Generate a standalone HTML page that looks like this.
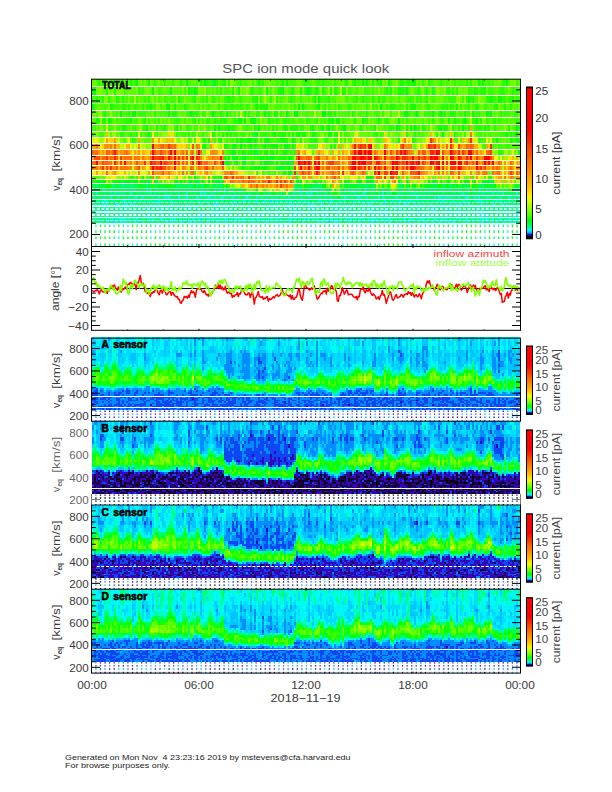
<!DOCTYPE html>
<html><head><meta charset="utf-8"><title>SPC ion mode quick look</title>
<style>html,body{margin:0;padding:0;background:#fff;}body{width:612px;height:792px;overflow:hidden;font-family:"Liberation Sans",sans-serif;}svg{display:block;}</style>
</head><body><svg width="612" height="792" viewBox="0 0 612 792" font-family="'Liberation Sans', sans-serif"><defs><linearGradient id="cb" x1="0" y1="1" x2="0" y2="0"><stop offset="0.0000" stop-color="#000000"/><stop offset="0.0145" stop-color="#000000"/><stop offset="0.0183" stop-color="#180038"/><stop offset="0.0229" stop-color="#3800a0"/><stop offset="0.0282" stop-color="#3010dc"/><stop offset="0.0328" stop-color="#0060ff"/><stop offset="0.0427" stop-color="#00c0ff"/><stop offset="0.0592" stop-color="#00ffff"/><stop offset="0.0779" stop-color="#00ff80"/><stop offset="0.1221" stop-color="#00ff00"/><stop offset="0.1565" stop-color="#50ff00"/><stop offset="0.2214" stop-color="#b0ff00"/><stop offset="0.2595" stop-color="#e8ff00"/><stop offset="0.2863" stop-color="#ffee00"/><stop offset="0.3206" stop-color="#ffd000"/><stop offset="0.3855" stop-color="#ffa800"/><stop offset="0.4542" stop-color="#ff8800"/><stop offset="0.5191" stop-color="#ff6a00"/><stop offset="0.7176" stop-color="#ff0000"/><stop offset="0.9847" stop-color="#ff0000"/><stop offset="1.0000" stop-color="#000000"/></linearGradient></defs><svg x="92" y="79" width="428" height="144" viewBox="0 0 214 144" preserveAspectRatio="none" fill="none" stroke-width="1"><path stroke="#4fff00" d="M.5 0v8m0 31v7m0 6v7m1-43v8m1-24v8m0 24v7m0 57v5m1-55v13m1-59v8m0 8v16m4 0v7m0 62v4m1-89v8m0 28v7m1-27v7m0 7v6m1-52v8m0 24v7m1 7v6m1-52v8m0 31v7m1 0v6m1-20v7m1-23v8m0 8v7m0 13v7m1-51v8m1-16v8m0 38v6m1-20v7m1 0v7m1-7v7m1-22v8m1-8v8m2-32v8m1 51v6m1-65v8m0 8v8m0 72v5m1-42v6m0 31v5m1-69v7m0 7v6m1-52v8m0 16v8m2 20v7m2-43v8m1 15v7m2-38v8m0 30v6m1-52v16m1 23v7m1-7v7m3-22v8m0 20v7m1-51v8m0 23v7m1-14v7m2-23v8m1 0v8m0 7v7m1-30v8m0 35v6m3-41v8m0 14v6m2-36v8m4-16v8m1 89v4m3-77v7m0 7v6m1-20v14m2-22v8m2 39v5m2-17v6m1-13v7m0 28v5m1-76v16m2 44v6m2-36v6m1-36v8m1-24v8m0 24v7m0 32v5m1 6v10m1-46v6m2-44v8m1-8v8m1 8v8m0 33v6m1-25v6m0 13v6m1-39v14m1 63v4m3-61v7m1 28v5m1-92v8m0 31v7m0 36v10m1-84v8m0 36v7m1-35v8m0 50v5m0 5v4m2-80v8m0 8v7m1-15v8m1-8v8m1-32v16m0 55v5m1-52v8m0 7v7m0 13v12m0 16v5m1-68v8m0 39v5m1-37v7m1 46v4m1-64v20m2-20v14m1-14v7m1-15v8m1-16v8m0 8v7m0 20v6m1-65v8m0 31v7m1-38v8m0 8v15m0 26v6m1-71v8m0 16v8m2-24v8m0 36v7m2-43v8m1 77v4m1-73v7m1-39v8m1-8v8m0 16v8m1-16v8m0 8v7m1 7v6m2-44v8m0 16v7m0 7v6m1-52v8m0 24v7m1-7v7m0 66v4m1-70v7m1-22v15m1 20v6m1-19v6m0 7v6m1-49v8m1 8v7m2-15v15m1-39v8m1 24v7m1-7v7m1 7v6m1-36v8m0 28v7m2-13v6m1-36v16m1-24v8m0 43v6m1-6v6m1-57v16m1 28v7m1-59v8m5 0v8m1-8v8m0 8v8m1 20v7m1-27v7m1-7v7m0 7v6m4-20v7m1-7v7m0 7v6m3-52v8m0 16v15m1-15v8m2-8v8m3-16v8m1 0v8m1-16v8m6-8v8m1-24v8m0 88v5m2-101v8m0 31v7m1 0v6m0 7v6m2-33v7m0 66v4m3-109v8m0 16v8m1 0v7m0 7v6m3-28v8m2-16v8m0 28v7m1-51v8m0 8v8m0 7v7m1-14v7m1 7v6m1 44v5m1-101v8m1 31v7m0 6v7m3-51v8m0 16v7m0 13v19m1-19v7m1-27v7m0 20v6m0 40v4m1-50v6m1-33v14m0 19v6m1-6v6m1-63v8m0 89v4m1-109v8m0 16v8m1 7v7m1-14v7m1 0v7m0 13v6m2-65v8m0 57v6"/><path stroke="#07ff00" d="M.5 8v8m1-8v8m1 23v7m1 55v4m2 0v4m1-8v4m1 0v4m1-70v7m1-22v8m2 69v4m2-4v4m6-105v8m2 24v7m0 62v4m1-105v8m1 97v4m3-8v4m2-105v8m0 44v7m1-35v8m8-8v8m0 73v4m1-77v7m5-23v8m1 77v4m3-105v8m1 0v8m3 89v4m5-109v8m0 57v6m0 34v4m2-50v6m2-13v7m0 42v4m1-105v8m0 38v6m2-6v6m1 44v5m2-36v6m2-25v6m4 24v6m1-74v8m1 23v7m0 13v6m1 6v5m0 6v5m1 22v4m2-54v6m2-26v7m2-22v8m0 77v4m1-113v8m0 38v6m1 61v4m2-85v7m0 48v5m1-16v11m1-28v6m0 17v5m3-35v7m1 6v6m4-6v11m0 16v4m1-96v8m1 68v6m0 5v9m5-72v8m0 20v7m1-51v8m3-8v8m3 30v6m1 49v4m1-97v8m1 0v8m2 8v7m3 13v7m5-20v7m2 63v4m1-67v6m5-52v8m4-8v8m0 31v7m2-46v8m6 31v7m1-22v8m9 27v6m8-65v8m9 24v7m3 66v4m1-4v4m3-4v4m1-70v7m3-7v7m1-22v8m4 69v4m2-89v8m1 85v4m1-81v7m2-15v8m0 7v7m1-46v8m4 24v7m2-23v8m3 35v6m1-49v8m4-24v8m0 44v7m2 0v6m3-13v7"/><path stroke="#32ff00" d="M.5 16v8m1 22v6m2-13v7m1 6v7m2-59v8m6 31v7m1-30v8m0 22v6m1-52v8m2 31v7m3 50v5m1-5v5m1-55v6m0 7v6m1-49v8m0 15v7m0 50v5m2-69v7m0 13v7m1-51v8m0 16v20m1-36v8m0 8v7m0 7v6m1 0v7m1-35v8m1 20v7m2-35v8m1 64v5m1-93v8m0 23v7m1 55v4m1-59v6m1-36v8m5 15v13m1-20v7m0 13v7m1-20v7m2 6v7m1-51v8m0 23v7m0 6v7m1-35v8m1 0v7m0 7v6m0 7v6m0 31v5m2-93v16m0 15v7m0 6v7m0 42v4m1-73v7m2-15v8m0 7v7m2-30v8m0 8v7m0 13v13m3-65v8m0 16v8m0 14v6m2 44v5m1-69v7m0 13v7m1-51v8m0 80v5m1-42v6m1-19v6m1-13v7m1-30v8m0 22v6m0 30v5m1-63v8m1 20v7m0 6v11m0 29v4m1-93v8m0 22v6m0 19v5m0 6v5m1-28v6m1-19v13m1-35v8m0 7v7m0 6v7m1 0v6m0 6v5m1 0v6m1-30v7m1 0v12m0 16v5m1-46v6m0 24v6m1-6v6m1-6v6m1-30v7m1-35v8m1 14v6m0 24v6m1-74v8m0 16v7m0 32v5m1-68v8m0 36v13m0 22v5m1-40v7m0 6v6m1 5v6m1-30v7m1 6v6m2-32v7m2-46v8m0 38v6m0 7v6m0 11v6m1-23v6m1-65v8m0 24v7m0 13v7m0 6v6m1 21v4m2-57v7m1-7v7m1-38v8m1 23v7m0 30v6m0 5v5m1-68v8m0 33v6m3-55v8m0 15v20m1-13v6m1-44v8m1-16v8m0 93v4m1-105v8m0 31v7m2 13v6m1-57v8m1-16v8m1-8v8m0 93v4m1-89v8m0 22v6m2-44v8m0 23v7m1-30v8m1 0v8m3-32v8m1 51v6m2-13v7m0 42v4m1-66v7m1-46v8m0 44v13m1-49v8m1-16v8m0 16v7m1-15v8m1-32v8m1 8v8m1-16v8m1-16v8m3 0v8m0 23v7m1-38v8m3-8v8m0 8v8m1 20v7m1-59v8m0 16v15m1-39v8m2 8v8m0 8v7m1-31v16m0 15v7m2 0v6m1-52v8m0 24v7m1 7v6m1-28v8m2 64v5m1-77v8m2-24v8m1 23v7m1-14v7m1-39v8m0 8v8m0 85v4m1-97v8m1 8v7m0 20v6m1-49v8m0 22v6m1-6v13m1-43v8m2 8v7m0 7v6m2-20v7m1-7v7m3 62v4m2-66v7m1-14v20m2-44v8m1 0v8m1-8v8m1-8v16m1-16v8m3 0v8m1-16v8m1 28v7m1-20v7m1-14v7m1-31v16m1 72v5m1-69v20m2-20v7m0 7v6m1 0v7m2-59v8m0 16v8m0 33v6m1-25v6m1-52v16m0 80v5m1-93v8m1 23v7m0 13v12m1-55v8m2 15v7m0 19v6m1-32v7m0 6v7m1-43v8m0 28v7m0 46v4m1-109v8m0 24v7m0 13v7m1 6v6m1-55v8m0 8v7m0 26v6m2-12v6m2-65v24m0 8v14m0 19v6m1-32v7"/><path stroke="#00ff0a" d="M.5 24v8m0 69v4m2-4v4m2 4v4m1-12v4m9-73v7m3 62v4m1-4v4m10-4v4m2-97v8m1 85v4m2 0v4m16-77v7m0 62v4m2-97v8m7 85v4m2-73v7m3 62v4m2-4v4m1-29v6m1 23v4m1-33v6m2-11v5m1-11v6m0 38v4m1-31v5m0 22v4m1-74v7m1 19v6m2 5v6m3-23v6m4 22v5m3-10v5m1-79v8m0 43v6m3 11v6m2 0v5m3-79v8m2 66v5m2-11v6m1-23v6m1-33v7m1-7v7m2 62v4m1-81v8m1 73v4m2-101v8m1 89v4m4-85v8m2 73v4m1-77v7m0 66v4m2-63v6m8 49v4m1 0v4m4-4v4m3-8v4m4-4v4m1-9v9m7 4v4m2-113v8m2 105v4m1-4v4m2-78v7m4-38v8m0 16v7m0 62v4m3-105v8m1 38v6m0 53v4m1-77v7m5 66v4m1-8v4m6-73v7m1 13v7m10-13v6m0 53v4m1-70v7m1 55v4m3 0v4m1-4v4m6-8v4m1-4v4m2-4v4m1 0v4m7 0v4m4-67v6"/><path stroke="#62ff00" d="M.5 32v7m2 7v6m1-28v8m2-24v8m0 30v6m1-44v8m3-8v8m4 16v7m2 20v6m1-65v8m1 44v7m1 37v5m2-93v8m2 43v6m1-65v8m0 8v8m0 77v4m1-9v5m1-49v7m4-43v8m0 15v7m1 0v6m2-44v8m1 85v4m1-53v7m1-59v8m0 16v8m1-24v8m0 8v8m2-16v8m1-24v8m0 93v4m1-97v8m0 8v8m1-32v8m1-8v8m0 16v8m0 64v5m2-69v7m2-7v7m1 13v7m0 42v4m1-89v8m0 41v6m1-32v7m0 50v5m4-85v8m0 72v5m2-93v8m2 49v6m1-39v7m1-31v8m0 30v6m1-28v8m0 27v6m2-49v16m1-32v16m2-8v8m1 36v13m3-57v8m1 16v7m0 43v5m0 18v4m1-109v8m0 51v6m1 6v5m1-24v7m0 6v6m0 16v5m2-84v8m0 23v7m2-30v8m1-24v8m1 8v8m2 85v4m4-105v8m0 30v6m0 57v4m1-21v4m1-57v13m0 40v4m1-25v5m1-30v6m1-52v8m0 8v8m1 47v5m2-30v6m0 19v5m1-30v6m1-28v8m1-32v16m0 16v7m1-31v8m0 36v7m2-7v7m1 33v4m1-88v8m1-16v8m0 51v6m1-49v8m1 0v8m2-16v8m1-8v8m0 22v6m0 7v6m1-41v8m0 14v6m9 53v4m2-93v8m0 35v6m0 6v5m2-37v7m1 63v4m4-97v16m1 7v7m1-30v8m2 15v7m0 6v7m1-13v6m2-6v6m1-28v8m2-8v8m0 69v4m1-53v7m3-27v7m1-39v8m0 93v4m1-89v8m0 41v6m1-25v13m1-13v6m0 7v6m1-57v8m0 30v6m1-28v8m0 73v4m1-93v8m1 0v8m2-32v8m0 51v6m1-26v20m1-43v8m0 28v7m2-43v8m1 0v8m1-32v8m0 97v4m2-85v8m1-24v8m2 49v6m1-47v8m0 7v7m0 13v6m1-26v7m1-7v7m1-30v8m2 22v13m2-51v8m0 8v8m2-32v8m0 38v6m4-44v16m2 8v7m2 0v7m0 55v4m2-81v8m1-32v8m0 38v6m1 0v7m2-27v7m2 57v5m1-62v7m2-46v8m0 38v6m1-52v8m2 93v4m3-89v8m0 8v7m1 13v7m1 33v4m1-57v7m3-46v8m0 8v8m0 41v6m2-71v8m1 38v6m2-6v6m2-20v7m1-15v8m0 73v4m1-93v8m2 0v8"/><path stroke="#41ff00" d="M.5 46v6m1-28v8m2-16v8m2 8v7m0 13v7m1-35v8m0 14v6m2-6v6m1-52v8m0 38v6m1-13v7m1-22v8m1-32v8m0 16v15m1-15v8m1 7v7m1-7v7m1-38v8m0 43v6m1-49v8m0 8v7m0 7v6m1 0v7m1-43v8m1-8v8m0 22v13m1-7v7m2-27v7m1-31v8m2 36v7m2-20v7m3-30v8m0 15v7m2-30v8m1-24v16m0 8v15m0 7v6m2-20v7m1-23v8m0 8v7m2-23v8m1-8v8m1-8v8m2 77v4m1-89v16m0 14v13m1-59v8m0 8v8m0 77v4m2-73v7m1-39v8m1 38v6m2-6v19m0 27v4m1-96v8m0 88v5m1-69v7m1 62v4m1-105v8m0 16v8m0 7v7m1-14v7m1-31v8m0 8v8m0 14v6m2-52v8m0 24v7m1-31v8m1 0v8m0 35v6m1-26v7m1-30v8m0 28v7m1-59v8m1 24v7m0 7v6m1-44v8m1-8v8m0 23v7m0 13v6m0 11v6m1-74v8m0 16v7m1-7v7m1 0v7m1-14v7m1-39v8m0 57v6m1-71v8m0 8v23m0 43v5m1-35v7m0 12v5m0 11v5m1-68v8m0 33v6m1-71v8m0 38v13m1 28v5m1-68v8m0 14v13m1 23v5m1-87v8m0 51v12m0 5v6m2-82v8m0 57v6m0 21v4m1-57v7m1-46v8m1 74v5m0 5v4m1-50v6m1-20v7m0 26v6m1-25v13m0 28v9m1-88v8m0 16v14m0 13v6m1-6v6m1 27v4m1-72v8m1 7v7m1-30v16m0 39v5m1-37v13m2 24v6m1-66v8m0 8v7m1-39v8m1-8v8m0 8v8m1-24v8m0 8v8m4-24v8m1 16v8m1 0v7m1 26v6m1-19v7m1-43v8m0 77v4m1-66v13m0 13v6m1-19v7m1-13v6m1-52v8m0 31v7m2-46v8m0 8v8m0 28v13m1-65v8m4 8v16m3-8v8m0 14v6m0 7v6m2-33v7m1 13v7m1-7v7m1-51v8m0 85v4m1-59v6m1-28v8m1-32v8m2 8v8m0 8v7m1 7v6m1-52v8m0 8v8m1-8v8m1-24v16m1 30v6m2-20v7m1 0v7m0 63v4m1-81v7m0 66v4m1-70v7m0 6v7m1-35v8m1 14v6m1 53v4m1-101v8m0 23v7m0 55v4m1-89v8m0 85v4m4-113v8m0 8v16m1 14v6m0 49v4m1-66v7m2-30v8m0 72v5m1-93v16m0 77v4m3-97v8m0 23v7m1-38v8m1 0v8m2 15v7m0 6v7m0 46v4m1-101v16m1 0v15m1 0v13m1-52v8m1-8v8m0 8v8m1-16v8m0 16v7m1 7v6m2-28v8m1-32v8m1 8v16m1-32v8m1 24v7m4 0v7m0 6v13m1-65v8m0 31v7m1-46v8m0 24v7m1-39v8m1 38v6m1-28v8m3-24v8m1 8v8m1 0v7m1 13v7m1-59v8m0 51v6m1-6v12m1-19v13m1-41v8m2 20v7m1-59v16m3-8v8m0 36v7m1 6v6m1 0v5m1-68v8m1 16v14m1 6v7m1-51v8m1 36v7m1-51v8m0 30v6m0 13v6m1-47v8m1-24v16"/><path stroke="#d1ff00" d="M.5 59v6m16 31v5m4-14v5m19 4v5m23-9v4m59-25v5m11 20v5m12-36v6m30-12v6m11 31v5m6-42v6m14 31v5"/><path stroke="#ffa700" d="M.5 65v6m0 5v6m1-17v6m7-6v6m15-12v6m13 27v4m26-9v5m10 0v4m3 9v4m19-13v5m20-25v6m0 5v5m6-21v5m1 0v6m12 10v4m12-9v5m10 4v5m5-5v5m7-9v4m13 0v5m4-30v5m3 11v5m2-46v6m2 35v5m6-27v6m16 11v5"/><path stroke="#ff6700" d="M.5 71v5m2-5v5m4 0v6m29-17v11m3 6v5m1-5v5m11-16v5m3 11v5m3-10v5m1-5v5m23 14v4m29-18v5m6-10v5m8 5v4m2-9v5m16-21v5m5-11v6m8-6v6m0 11v5m5-11v6m28-17v6m15 16v5"/><path stroke="#ff7900" d="M.5 82v5m2 0v5m2-5v5m5-27v6m13 16v5m16 0v4m11-25v5m0 6v5m21 5v4m36-4v4m11 0v5m34 0v4m3-29v6m2-23v6m2 6v5m15 16v4m2-4v4m20-20v6m8 5v5"/><path stroke="#ff7e00" d="M.5 87v5m11-5v5m25-21v5m6 6v5m23-16v5m11 25v4m9 0v4m26-17v4m8-4v4m1 0v5m1-14v5m11-5v5m13-10v5m6 0v5m2-5v5m28-16v6m1 5v5m13-5v5m4-10v5m3 5v4m2-14v5m6 5v4"/><path stroke="#f0f900" d="M.5 92v4m1-4v4m19-25v5m1-11v6m5 21v4m18 0v5m4-19v5m6-22v6m53 25v5m2-30v5m1 0v6m9 19v4m4-53v7m6 37v5m24-36v6m24-12v6m5 0v6m10-12v6m5 31v5m4-25v6m10 0v5"/><path stroke="#7eff00" d="M.5 96v5m1-101v8m3 0v8m0 30v6m2-36v8m1-8v8m1-16v8m0 8v8m2-24v8m3 80v5m9-93v8m1 23v7m2 13v6m2 0v6m3-55v8m1-16v8m1 0v16m2 7v7m7 6v7m5-43v8m0 72v5m1-93v8m0 23v7m6-38v8m1 8v8m3 0v7m1-23v8m0 28v7m9-59v8m3-8v8m1 0v8m1 71v5m5 17v4m1-4v4m1-89v8m0 60v4m4-80v8m4 85v4m1-113v8m2 101v4m7-97v8m1 0v8m2 0v7m3 20v6m0 31v5m6 0v4m4-46v6m1-6v6m3 0v6m8-55v8m2-16v8m3 85v4m2-59v6m1 44v5m1-62v7m1 55v4m1-59v6m1 7v6m1-26v7m3 13v6m2 0v6m1-39v7m1 0v7m1-14v7m1-7v7m2 0v7m1-14v7m2-39v8m3 93v4m4-53v7m1 6v6m1-55v8m2 35v6m1-19v6m0 13v6m4-55v8m6 72v5m2-93v8m0 23v7m12 50v5m3-49v7m12-59v8m0 16v8m4 69v4m1 0v4m1-63v6m2-52v8"/><path stroke="#00ff52" d="M.5 105v4m1 4v4m1 0v3m1-7v4m1-12v4m0 24v3m1-23v4m2-4v4m2 10v3m3-21v4m1-8v8m0 17v3m1-28v4m1 0v4m1-8v4m0 24v3m1-27v4m1 11v3m5 12v2m4-40v4m3 8v4m1-12v8m2-4v4m0 26v2m1-32v8m1-4v4m2 22v2m5-2v2m1-36v8m1-8v8m3-4v4m1 23v3m1-22v3m1-15v4m0 4v4m1 0v7m0 9v3m1-27v8m1-16v4m0 8v4m1-12v4m1 32v3m1-14v3m4-133v8m2 105v4m1-12v4m0 11v4m1-23v4m0 4v8m1-4v4m1 16v3m6-23v4m1 10v3m1-13v3m1-3v3m0 13v3m1-23v4m1-4v4m3 0v3m0 4v3m3 0v3m6-17v4m4 10v3m1-17v4m2-4v4m5 3v7m1-18v4m1 4v3m1 21v3m1-35v4m2-4v4m0 4v3m1 13v3m1-16v4m1-19v4m1-4v4m2 0v4m1 23v3m1-26v4m0 10v3m1-21v4m0 11v3m4-10v3m2-3v3m1 7v3m1-25v4m3 11v4m4-15v4m0 4v3m2-15v4m3-4v4m2 0v4m0 4v3m1-11v8m1 7v3m1-18v8m2-8v4m1 0v4m0 3v4m6 0v3m0 14v3m2-8v3m1-34v4m0 8v3m2-11v4m0 20v6m1-26v4m0 10v3m1-21v4m0 26v2m1-5v3m1-15v3m1-18v4m7 0v4m2-8v4m0 20v3m1-31v4m0 4v4m1-8v4m1-4v8m1-8v4m1 0v4m1-8v4m1 20v3m1-27v8m1-4v4m1-12v4m1 0v4m3-4v4m1-4v4m2-4v4m1-8v8m1-8v4m1 8v7m4-19v4m5 0v4m1-12v4m1 4v4m1 0v4m5-4v4m2-4v4m2-4v4m1-12v4m0 4v4m2-4v4"/><path stroke="#00ff40" d="M.5 109v4m3-4v4m1 0v4m3-8v4m1 7v4m2-15v4m1-8v4m0 8v3m2 0v4m1-23v4m0 4v4m0 4v3m3-7v4m2-8v4m4-4v4m0 4v3m2-19v4m0 4v4m1-8v4m3-4v4m3-8v4m2 0v4m2 24v3m1-6v3m2-28v8m5 0v4m1-12v8m2-8v4m1-8v4m0 8v4m4 7v3m1-22v4m6 0v4m0 11v3m1-22v4m1-8v8m4 0v4m1 7v4m3-15v4m1-37v6m3 27v4m1-4v8m1-41v6m6-30v7m0 54v4m1-46v5m1 37v4m2-4v4m2-4v4m4-4v4m2-30v5m2 21v4m4-4v4m3-12v4m1-4v4m5-4v4m4-4v4m5 0v4m2-4v4m5-4v4m3-4v8m1-12v4m0 11v4m6-19v4m0 4v4m5-12v4m2-4v4m7 0v4m5-4v4m1-4v4m2 4v3m2-15v4m3 0v4m1-4v4m8-105v8m2 89v4m7 4v4m2-12v8m1 0v4m3-8v4m1-8v4m5 0v4m3-8v4m2 0v4m2-8v4m3 30v2m1-32v4m0 11v3m11-22v4"/><path stroke="#00ff76" d="M.5 113v7m0 4v3m0 9v5m1-24v7m0 9v3m1-31v8m0 11v9m0 6v2m1-24v7m0 17v3m1-24v4m0 3v6m1-16v3m1-7v4m2 0v3m1 0v4m0 6v3m0 3v3m1-22v3m0 4v3m1-7v4m1 3v3m0 9v2m1-28v4m1 7v3m1-10v3m0 4v3m1-18v11m1-15v4m1 0v4m0 17v3m1-28v4m0 8v3m0 10v3m1 8v3m1-35v4m1 11v3m0 6v3m1-23v4m0 16v3m1-19v3m0 10v3m1-9v6m0 9v2m1-28v4m0 13v3m0 8v3m1-24v7m0 6v3m0 3v5m1-14v3m2-13v4m0 6v3m1 0v3m1-19v3m0 19v5m1-31v4m0 19v3m1-22v3m0 21v3m1-27v10m0 14v3m1-24v7m0 3v3m1-24v8m0 7v3m0 9v3m1-26v4m0 7v3m0 12v2m1-28v7m0 13v3m1-19v3m0 10v3m1-16v3m0 4v3m1-14v4m0 16v3m1-16v4m0 3v3m0 11v3m1-27v7m0 9v3m1-19v3m0 4v6m0 6v5m1-32v4m0 14v6m0 6v5m1-24v4m1-7v3m1 4v3m1-18v4m0 4v3m0 13v3m0 5v3m1-20v3m0 3v3m0 6v2m1-36v4m0 11v4m1 9v3m1-27v4m0 14v6m1-9v3m1-18v4m0 14v3m0 9v2m1-28v4m0 16v3m1-16v4m0 3v6m1-13v4m0 17v3m1-20v3m0 14v3m1-35v4m0 17v3m0 3v3m1-22v3m0 7v3m1-13v3m0 10v3m1-9v6m0 6v5m1-17v3m1-14v4m1 7v3m0 9v3m1-30v11m0 4v6m1-10v4m0 3v6m1 0v6m2-22v3m0 10v6m0 5v3m1-31v4m0 13v3m1-3v6m0 3v2m1-17v3m0 9v3m1-9v3m1-6v3m0 3v3m0 5v3m1-31v4m0 16v6m1-15v3m0 3v3m0 3v3m1-19v4m1 0v3m0 3v6m0 3v2m2-24v7m1 0v3m0 3v3m1-13v7m1 0v3m0 9v2m1-21v7m0 3v6m0 3v2m1-28v7m0 21v3m1-27v3m0 4v3m0 3v3m1-3v6m1-19v10m0 3v3m1-3v3m0 8v3m1-24v4m1-7v3m0 4v6m1-13v3m0 7v3m0 9v2m1-21v4m0 9v3m0 3v2m1-24v3m0 10v11m1-8v3m1-19v3m0 7v3m1-13v3m0 13v3m1-27v4m0 14v3m1-13v7m0 15v2m1-32v8m0 7v6m1-21v4m0 14v3m1-13v10m0 12v2m1-24v3m0 4v3m1 0v3m0 6v3m1-30v4m0 28v3m1-35v4m0 4v3m0 21v3m1-35v15m0 17v3m1-35v4m0 4v3m0 13v3m1-27v4m0 4v3m1-3v3m0 4v3m1-14v7m1 0v4m1 3v3m1-17v4m0 7v3m1-10v7m0 3v3m0 3v6m1-26v4m0 10v3m0 11v3m1-14v6m1-19v3m0 4v6m2 9v2m1-28v4m0 24v3m1-27v3m0 4v3m0 3v3m0 6v2m1-8v3m0 5v3m1-20v3m1-18v4m0 4v3m0 10v6m0 3v2m1-28v7m0 10v3m1-24v15m0 3v3m1 3v3m0 3v2m1-32v4m0 14v6m0 6v2m1-17v6m1-3v3m1-13v3m0 21v3m1-24v4m0 6v3m1-9v3m0 9v3m1-3v3m2-30v4m0 20v3m1-19v3m0 4v3m0 9v3m1-22v10m0 3v3m1-13v10m0 9v2m1 0v3m1-35v4m0 14v3m0 3v6m1-22v3m1 7v3m1-13v3m0 4v9m1-20v7m0 16v3m1-3v3m1-6v3m0 3v5m1-24v4m0 3v3m1 3v3m0 5v3m1-27v3m0 7v3m1-13v7m0 17v3m1-24v4m0 9v3m1-19v3m0 7v3m1-17v7m2 4v3m0 3v3m1-16v3m0 7v17m1-31v4m0 3v4m0 17v3m1-24v4m0 12v3m1-26v4m0 3v4m0 17v3m1-24v7m1-18v11m0 7v3m0 6v3m1-22v3m0 4v3m0 6v3m0 3v2m1-32v15m1-4v4m0 3v3m0 11v3m1-35v4m0 4v3m0 4v3m1-7v4m1-7v3m1 4v3m0 3v3m0 3v3m1-19v4m0 9v3m1-23v4m0 13v3m1-9v3m1-7v4m0 9v3m1-27v4m0 14v3m1 6v3m1-26v7m0 4v3m0 3v11m1-28v4m0 13v3m0 6v2m2-28v4m0 3v4m0 6v3m1-3v9m2-26v4m0 13v3m0 3v5m1-17v6m0 3v3m1-6v3m0 6v2m1-17v3m0 9v3m0 2v3m1-27v7m0 9v3m1-16v4m0 6v3m0 6v5m1-27v3m0 4v3m0 14v3m1-35v8m0 7v3m0 3v3m0 6v2m1-14v3m1-25v4m1 4v4m0 3v10m1-10v4m0 12v3m1-15v6m1-17v7m0 4v3m0 6v3m1-9v3m0 3v3m1 0v3m0 2v3m1-27v3m0 19v2m1-32v8m1 24v3m1-24v4m0 3v3m0 3v3m0 3v2m1-21v4m0 6v3m0 6v2m1-21v4m1 0v3m0 9v3m1-26v4m0 7v3m0 3v6m1-16v4m0 6v6m1-27v4m0 14v3m1-10v7m1-18v4m0 11v3"/><path stroke="#00ffbe" d="M.5 120v4m1 6v3m1-20v4m0 16v3m2 0v3m0 2v3m1-24v10m1-3v3m0 3v6m1-12v3m0 3v3m0 5v3m1-17v3m0 3v3m1-19v3m1 13v8m1-14v3m0 11v3m1-8v3m1 0v2m1-2v2m1-21v4m0 17v3m1-20v3m0 9v8m1-17v3m0 11v3m1-24v4m0 3v3m0 9v2m1-28v4m0 19v3m1-15v3m0 3v3m0 3v5m1-24v3m0 7v3m1-13v3m0 16v3m0 2v3m1-8v3m1-19v4m1-7v3m0 13v3m0 5v3m2-17v3m0 6v3m1-12v3m0 6v5m1-32v4m0 11v3m0 6v11m1-17v3m0 3v3m0 3v5m1-20v6m1-3v3m0 6v3m1-22v3m0 4v3m0 3v3m0 8v3m1-17v9m1-6v6m1-19v3m0 21v3m1-27v3m1 10v6m1-16v4m0 6v3m0 8v3m1-24v7m0 6v6m1-9v3m0 3v3m1-12v3m0 11v3m1-8v3m4-26v4m0 7v9m0 3v3m1-12v3m0 9v2m1-21v4m1 12v3m1-12v3m2-10v7m0 9v8m1-31v4m0 7v3m0 14v3m1-17v3m1-17v4m0 3v4m0 9v3m2 3v2m1-11v3m0 6v2m1-2v2m1-24v3m0 7v3m0 9v2m1-21v4m0 12v3m1-15v6m0 9v5m1-27v3m1-3v3m0 10v3m0 3v3m0 2v3m1-35v4m0 11v6m0 6v3m1-9v3m0 6v5m1-14v3m1 0v6m1-22v3m1 0v4m0 6v3m1-9v6m0 6v5m1-8v6m0 2v3m1-17v3m1-10v4m1 12v3m1-3v5m1-21v4m0 3v3m1 9v5m1-11v3m0 3v2m1-5v3m1-22v3m0 10v3m0 6v2m1-17v3m0 12v2m1-8v8m2-11v3m1 8v3m1-17v3m0 9v2m1-8v3m0 3v5m1-24v4m0 3v3m1 3v3m0 5v3m1-20v3m0 6v3m1-6v3m0 6v5m1-24v4m2 3v6m1-13v4m1-7v3m0 4v3m0 9v5m1-21v7m0 3v3m0 6v2m1-17v3m0 9v3m2-12v12m1-19v4m0 9v6m1-26v4m0 7v3m0 3v3m0 3v3m2-19v4m0 12v3m1-26v4m1 7v9m1-20v4m0 7v3m0 6v3m1-9v3m0 6v5m1-2v2m1-14v3m0 6v3m1-19v4m1-4v4m0 3v6m0 8v3m2-14v6m0 3v5m1-14v3m0 8v3m1-20v3m1-3v3m1-7v4m0 3v3m0 11v3m2-11v3m1-6v3m0 3v3m0 2v3m1-14v11m2-21v4m2 17v3m1-3v3m1-20v3m0 6v3m1 0v3m1-22v3m0 16v3m1 0v5m1-8v5m1-28v4m0 7v3m1-18v8m0 7v3m0 9v3m0 2v3m1-27v3m1 4v3m0 12v2m1-21v4m0 15v2m1-11v3m0 3v5m1-21v4m0 3v3m1-3v3m0 9v5m1-27v3m0 10v6m1-3v8m1-28v7m0 19v2m1-17v3m0 9v3m1-9v9m2 0v2m1-21v4m1 6v3m1-16v3m0 21v3m1-24v4m0 15v2m1-21v4m0 9v6m1-12v6m1-3v3m0 8v3m1-20v3m1-3v3m0 12v2m1-21v4m0 3v3m0 3v3m1-3v3m0 3v2m1-17v3m1 0v6m0 6v2m1-17v3m0 12v5m1-8v3m1-3v3m1 0v5m1-3v3m1-11v3m0 3v2m1-17v3m0 9v3m2-22v3m0 7v3m2-10v4m0 9v3m1-19v3m0 7v3m0 6v3m1 0v2m1-24v3m0 7v3m0 6v3m1-22v3m0 10v3m1 3v3m1-22v3m0 4v3m0 6v3m1-16v4m2 0v6m0 6v5m1-24v3m0 19v2m2-28v4m0 3v4m0 9v6m1-15v3m0 6v3m1-6v3m0 8v3m1-27v3m0 21v3m1-14v3m1 8v3m1-27v3m0 16v3m1-19v4m0 6v3m0 6v2m1-21v4m0 9v3m1-12v3m0 3v6m0 3v5m1-17v6m0 8v3m1-5v2m1-24v3m1 10v3m0 3v3m1-9v3m0 3v3m1-26v4m0 22v2m2-21v4m0 6v3m1-13v4m2-11v4m0 13v3m0 8v3m1-8v3m0 2v3m1-20v3m0 6v6m0 2v3m1-27v7m0 6v3m1 8v3m1-17v3m0 6v3m1-6v3m1 0v5m1-21v4m0 9v3"/><path stroke="#00ffe8" d="M.5 127v6m3-6v9m3-16v7m1-7v7m5-3v3m0 3v3m0 8v3m1-20v3m0 9v3m1 2v3m1-5v2m1-21v4m1 0v3m0 3v3m2-9v3m0 6v3m2-3v3m0 5v3m1-5v2m2-14v3m0 3v3m3-6v3m2-3v3m1 3v3m4 0v2m1-14v3m0 6v3m2-12v3m0 11v3m1-27v3m0 7v3m1 9v2m1-2v5m1-5v2m2-24v3m0 13v3m1 5v3m3-27v3m1 13v3m0 5v3m1-17v3m0 6v3m0 2v3m1-5v2m1 0v3m1-27v3m0 7v3m0 6v3m1-9v3m1 0v3m1 0v3m3-22v3m0 16v3m0 2v3m1-17v3m2 3v3m1-6v6m0 5v3m1-11v3m3 3v2m1-8v3m1 0v3m2-15v3m1 14v3m2-5v2m2-2v5m1-24v4m1-7v3m0 10v3m1-3v3m1 0v3m1 5v3m2-8v3m3-6v3m7 3v2m1-5v3m1-3v3m4-12v3m1 6v3m2-6v3m0 3v2m1-17v3m3 14v3m3-5v2m1-14v3m1-6v3m0 3v3m2 0v3m1 0v3m0 2v3m1-20v3m0 6v3m2 0v3m1-12v3m0 3v3m2-16v4m0 12v5m2 0v3m1-20v3m0 14v3m3-17v3m1-13v3m0 16v3m1-12v3m2-3v3m0 3v3m0 3v2m4-24v7m1 6v3m1 3v5m3-11v6m1-12v3m0 3v3m1-6v3m1 3v3m3-12v3m0 3v3m2-3v6m0 5v3m2-5v5m1-11v3m0 5v3m1-17v3m1-3v3m2-3v3m3-6v3m0 12v2m1-21v4m0 12v3m2 0v2m1-14v3m2-13v3m0 13v3m2 3v2m1-14v3m0 9v2m1-8v3m2 0v3m1-9v3m1-3v6m0 5v3m1-14v3m0 6v2m2-24v3m0 21v3m4-17v3m0 6v3m1-9v3m0 8v3m2-3v3m1-11v3m1-6v3m1 0v3m1-12v3m3-10v3m0 19v2m1-17v3m2 9v3m3-22v3m0 16v3m1-19v4m0 12v3m1-3v5m2-14v3m0 9v2m3-17v3m0 9v3m0 2v3m1-20v3m1 14v3m1-5v2m1-5v3m1-15v3m3 12v2m4-28v4m1 10v3m0 6v3"/><path stroke="#00ff93" d="M.5 133v3m0 5v3m1-20v3m0 9v5m1-21v4m0 12v3m0 2v3m1-20v3m0 9v5m1-17v3m1-18v4m0 23v5m1-32v4m0 4v3m1 10v3m0 3v5m1-11v3m0 6v2m1-28v4m0 7v3m0 6v3m0 3v5m1-39v4m0 11v4m0 3v6m1-20v4m0 7v3m1-14v7m0 13v3m1-19v3m0 13v3m0 5v3m1-31v4m0 3v4m0 3v3m0 3v3m1-31v4m0 4v4m0 10v12m1-9v3m1 0v8m1-24v3m0 16v3m0 2v3m1-24v4m0 3v3m0 11v3m1-35v4m0 14v3m0 3v3m1-16v7m0 3v3m0 3v3m1-19v4m0 3v3m1-10v4m0 3v6m1 8v3m1-14v3m0 3v3m1-19v10m1-21v4m1 0v4m0 3v4m0 9v3m1-23v4m0 3v4m1-7v3m1-7v4m0 3v4m0 6v3m0 3v8m1-24v7m1 0v3m0 3v3m1-16v4m0 12v3m1 0v2m1-28v4m0 10v3m0 6v5m1-8v3m1-16v4m0 17v3m1-20v3m0 9v3m1-12v3m1-3v3m0 3v3m0 5v3m1-20v3m1-14v4m0 7v3m0 3v3m0 6v2m1-11v3m0 3v5m2-24v7m0 9v6m1 0v5m1-35v4m1 17v6m0 3v2m1-21v7m1 9v3m1-6v3m0 3v5m1-27v3m1-3v7m1-11v4m0 16v3m0 3v2m1-24v3m0 16v3m1-22v7m0 6v3m1 0v3m1-23v7m0 13v6m1-26v11m0 3v12m1-19v4m0 17v3m1-5v2m1-5v3m1-19v4m0 6v3m0 8v3m1-24v4m0 3v3m0 9v2m1-24v3m0 10v3m1-16v3m0 7v3m1 3v3m0 3v5m1-27v3m0 4v3m0 12v5m1-24v4m0 3v6m0 6v5m1-31v7m0 16v3m1-19v4m1-7v7m1-4v4m0 17v3m1-17v6m1-16v3m0 13v3m0 3v5m2-27v3m0 4v3m0 12v5m1-24v4m1 6v3m0 3v3m1-19v4m0 17v3m1-3v3m1-14v9m0 2v3m1-27v3m0 21v3m1-27v3m0 10v3m0 3v8m1-20v3m0 6v6m1-22v3m0 7v3m0 6v3m1-19v7m0 3v9m1-12v3m0 6v3m1-22v3m0 4v3m0 9v8m1-8v5m1-24v3m0 7v3m1-6v3m0 6v3m1-3v3m0 3v5m1-20v3m0 6v3m0 5v3m1-27v3m0 4v3m0 9v3m0 2v3m1-20v6m0 11v3m1-24v4m1 9v3m0 5v3m1-31v4m0 3v4m0 6v3m0 6v5m1-31v7m0 10v3m0 3v3m0 2v3m2-5v5m1-27v7m0 9v3m0 3v2m1-14v3m0 6v3m1-12v3m0 3v3m0 5v3m1-24v7m0 6v3m0 3v2m1-28v11m1 12v5m2-17v9m1-20v4m0 7v3m0 3v3m0 6v5m1-17v3m2-6v3m0 6v3m0 3v2m1-28v11m1-4v4m0 15v2m1-11v3m0 6v2m1-24v3m0 10v6m1 0v5m1-5v5m1-11v3m0 6v2m1-21v7m0 6v3m1-16v10m1-10v4m1-15v4m0 11v3m0 3v3m0 6v2m1-24v3m0 13v6m0 2v3m1-8v3m1-19v4m0 12v3m1-3v8m1-31v4m0 3v10m0 11v3m1-24v4m0 9v3m0 5v3m1-14v9m1-22v3m0 4v3m0 14v3m1-24v4m0 3v9m1-19v3m0 7v3m0 3v3m1-16v4m0 15v2m1-14v3m0 11v3m1-17v3m0 3v6m1-19v4m1 17v3m1-11v6m1-26v4m0 19v3m0 2v3m2-20v3m0 3v3m0 8v3m1-17v3m0 9v2m1-28v4m0 22v2m1-28v4m0 16v6m1-19v7m0 3v3m1 6v2m1-24v10m0 9v3m1-6v3m1-23v4m0 13v3m0 3v3m1-9v3m0 6v5m1-20v3m0 12v2m1-5v3m1-9v6m0 5v3m1-35v4m0 7v4m0 3v9m1-6v3m0 8v3m1-31v11m0 12v3m0 2v3m1-31v4m0 3v4m2-7v3m0 10v6m1-12v3m0 3v6m1-19v3m0 10v6m0 5v3m1-20v3m0 3v3m1-13v4m0 3v6m0 3v3m1-15v9m0 8v3m2-24v4m0 12v5m1-17v3m0 6v6m0 2v3m1-24v7m0 6v8m1-14v3m0 9v2m1-17v3m0 3v3m0 6v2m1-24v3m0 4v6m0 3v6m0 2v3m1-24v4m0 6v3m0 6v2m1-2v5m1-27v10m0 6v3m0 3v2m1-14v6m0 6v5m2-27v3m0 4v6m0 6v3m1-19v4m0 9v3m1-12v6m0 6v3m1-26v4m0 10v3m0 9v5m1-17v6m0 6v5m1-27v7m0 17v3m1-24v4m0 12v3m1-19v4m0 9v6m1-12v3m0 3v3m0 3v2m1-17v9m0 6v2m1-14v3m0 3v3m1-9v3m0 3v6m1 2v3m2-31v14m0 6v3m1-6v3m0 8v3m1-35v4m0 11v3m0 6v3m1-19v3m0 19v5m1-17v3m0 11v3m1-24v4m0 6v3m1-13v4m0 3v3m1-17v4m0 10v3m0 3v6m1-22v3m0 7v12m0 2v3m1-27v19m0 3v2m1-5v3m1-12v3m0 3v3m1-6v3m0 6v2m1-14v3m0 11v3m1-27v3m0 7v3m0 6v5m1-17v3m0 12v5m1-27v3m1 7v6m0 8v3m1-27v3m0 19v2"/><path stroke="#6bff00" d="M1.5 32v7m0 13v7m1-51v8m2 80v5m2-49v7m0 37v5m4-85v8m1-8v8m2 28v7m2-51v8m3-8v8m1 30v6m5-13v7m2-38v8m2-8v8m1 43v6m1-33v7m1 7v6m4-36v8m1 15v7m3-22v8m4-32v8m0 24v7m0 7v6m2-28v8m0 7v7m1 0v6m3-28v8m1-8v8m0 14v6m3-52v8m1 31v7m1 0v6m1 0v7m2 6v6m3-63v8m0 8v8m3-16v16m1-16v8m1 8v7m2 48v5m4-76v8m3 8v7m1-31v8m0 8v8m2-24v8m0 23v7m3-14v7m1 43v5m3-28v6m2-65v8m3 16v15m3 26v6m1-32v7m0 46v4m1-31v6m3-12v6m0 31v5m4-93v24m0 7v7m1-46v8m1-8v8m0 24v7m2 0v13m3-36v8m3-8v8m0 22v6m1-20v7m1-7v7m3 0v7m0 6v7m3-7v13m2-49v23m1-23v8m1-8v8m5 15v7m0 6v7m1-35v8m2 7v7m1-38v8m0 23v7m1 6v7m1-51v8m0 8v8m0 20v7m1-7v7m3-7v7m1-20v7m10 6v7m0 50v4m1-113v8m0 8v8m0 8v7m1-7v14m3-30v8m3 28v7m1-20v7m1-38v8m2-16v8m2-8v8m0 51v6m2-13v7m0 42v4m2-9v5m1-62v7m0 55v4m1-59v6m0 44v5m1-77v8m0 64v5m1-85v8m2-8v8m3 15v7m1 0v6m1-52v8m3 24v7m0 62v4m1-97v8m1-8v16m1 0v8m1-24v8m0 80v5m6-101v8m2 8v16m1-16v8m0 28v7m2-51v8m3 16v7m1-39v8m1 97v4m3-85v8m0 44v6m0 19v4m1-66v7m0 13v6m2-6v6m0 6v5m2-76v8"/><path stroke="#59ff00" d="M1.5 39v7m0 50v5m1-77v8m1 64v5m2-77v8m0 64v5m2-77v15m1-39v8m4 44v7m2-43v16m3-8v8m2-24v8m0 8v8m0 27v6m1-65v8m0 16v8m1-24v8m1 16v7m0 7v6m2-36v16m1-16v8m1 0v8m1 0v7m0 20v6m1-33v7m0 7v6m1-44v8m1 23v7m1 6v7m1-59v8m0 24v14m1-14v7m0 7v6m2-44v8m0 16v7m1 62v4m1-105v8m0 31v7m2-14v7m2-31v8m1-8v8m1-8v8m3-16v8m3-8v8m0 44v7m1-59v8m1-8v8m0 16v8m2 20v7m1-13v13m2-43v8m0 77v4m1-53v13m2-49v16m0 7v7m1-7v13m4 0v7m2 12v5m0 29v4m2-85v8m0 7v7m0 13v6m1-26v7m0 19v6m3-63v8m0 30v6m3-52v8m0 8v8m2 41v6m0 11v5m1-71v8m1 8v7m0 13v7m1-35v15m1 43v5m1-48v7m1 36v5m2-71v8m1-24v8m2 0v16m1-24v8m0 16v8m0 55v9m1-4v4m1-88v8m0 8v8m0 14v6m0 7v6m2-65v8m0 8v8m3-8v8m1 68v4m2-64v7m2 13v7m4-43v8m0 81v4m1-50v6m1-13v7m2-35v15m0 26v6m1-32v7m0 25v5m2-44v7m0 26v6m3-47v8m0 7v7m2-38v8m1 43v6m1-19v6m1-52v8m0 16v8m0 33v6m2-71v8m1-8v8m0 105v4m1-52v6m1-47v8m2 14v6m1-13v7m1-30v8m1-16v8m1-8v8m1 8v8m2-24v8m3 76v4m1-72v15m0 7v6m1-44v16m0 8v14m1 6v7m1-51v8m0 23v7m6 0v6m1-36v8m0 28v7m2-43v8m1 85v4m1-54v6m0 40v4m2-70v7m2-30v8m2 15v13m2-13v7m0 6v7m2-7v7m0 46v4m2-101v8m0 36v7m2-59v8m1 31v7m1-38v8m3 23v7m1-46v8m0 16v8m1-32v8m0 8v16m0 7v7m1-38v8m0 36v7m1 42v4m1-105v8m0 93v4m2-81v8m1-24v8m2-8v8m3 23v26m1-57v8m3-16v8m3 8v8m4 8v7m3-15v8m1-32v8m0 16v8m1-8v8m0 14v13m2-51v8m0 23v13m1-6v6m1-28v8m0 14v6m1 7v6m2-49v16m0 27v6m1-26v7m1 19v6m1-32v13m0 13v6m1-47v8m0 39v5m0 25v4m2-73v7m0 13v7"/><path stroke="#ebfd00" d="M1.5 59v6m3 0v6m10 21v4m9-44v7m1 33v4m5-4v4m1-44v7m15 0v6m10 27v4m1-20v6m2-11v5m3-11v6m2 21v4m39-9v5m20-16v6m14 14v5m28-5v5m2-5v5m22-9v4m4 5v4m10-29v6m2-6v6m1 10v4m5-25v5"/><path stroke="#ff7b00" d="M1.5 71v5m16 11v5m15-21v5m8-11v6m5 16v5m7-21v5m36 20v5m3 0v4m29-18v5m2-10v5m19-5v5m20-11v6m9-23v6m18 0v6m5 5v6"/><path stroke="#ff5600" d="M1.5 76v6m9-11v5m92 0v6m18 10v4m29-20v6m6 10v4m16-14v5"/><path stroke="#ff6400" d="M1.5 82v5m8-11v6m10-6v6m10 5v5m9-5v5m31 0v4m37-9v5m22-5v5m14 0v4m21-9v5m1-5v5m4-16v6m25 5v5m19 0v4"/><path stroke="#ff9900" d="M1.5 87v5m2-10v5m22 0v5m1-16v6m14-11v5m18 6v5m1-22v6m3 0v5m40 6v5m23-16v5m2 0v6m27 5v5m10-10v5m2 5v4m1-14v5m1-16v5m0 6v5m36 9v5m2-19v5m4 0v5m2 4v5"/><path stroke="#24ff00" d="M1.5 101v4m4-89v8m3-8v8m1 81v4m1-85v8m0 69v4m4-53v7m1-59v8m0 8v16m0 20v7m1-35v8m1 7v7m1-22v22m1 6v7m1 0v6m1-65v8m0 16v8m1 20v7m1-51v8m2 8v8m2-8v8m1-16v8m1 72v5m1 4v4m1-109v8m0 24v7m1 7v6m4-52v8m4-8v8m0 24v7m0 66v4m1-77v7m0 62v4m1-66v7m4 55v4m1-59v6m1 0v7m1-51v8m1 16v7m2-7v7m3 26v6m1-12v6m1-65v8m0 8v8m0 15v7m1-7v7m2-30v8m2-24v8m1 16v8m0 64v5m1-93v8m0 16v14m1-46v8m0 44v7m1-35v8m1-16v8m0 22v6m0 13v6m1-71v8m1 16v8m0 20v7m1-43v16m0 33v6m1-32v7m0 36v5m3-87v8m0 8v16m2 39v5m1-52v8m1 0v7m0 26v11m1-68v8m1-8v16m0 47v5m0 11v5m1-76v8m0 22v6m0 13v6m0 5v6m1-50v7m0 20v6m0 22v5m1-16v6m1-66v16m0 39v5m1-76v8m0 16v8m1 20v7m2-27v7m1-23v8m0 41v11m0 6v5m1-41v13m0 23v5m1-11v6m1-66v8m0 8v14m0 25v5m0 37v4m1-109v8m0 36v7m0 17v6m1 0v5m1-16v5m1-37v7m0 6v7m0 23v10m1-46v6m0 19v5m0 11v5m1-40v7m0 6v6m1-55v8m0 22v6m0 19v5m1-30v13m1-13v6m0 7v6m0 6v5m1-30v6m0 44v5m1 0v4m3-105v8m1 31v7m2-38v8m0 30v6m0 7v6m3-41v8m0 7v7m0 13v6m0 36v4m3-105v8m2 38v6m0 7v6m1-33v7m1-7v14m0 59v4m1-63v6m0 61v4m1-85v7m0 13v19m0 38v4m1-105v8m1 8v8m3-24v8m1 85v4m1-81v8m0 69v4m2-73v7m2-23v8m0 77v4m2-59v6m1-36v8m2 0v22m3-30v8m0 72v5m2-49v7m5-35v8m0 7v7m2 0v6m1-28v8m2 77v4m3-105v8m1 93v4m1-113v8m0 44v7m2-35v8m2 20v7m4-59v8m2 8v8m1 0v8m2 7v7m2 6v7m1-27v7m1-39v8m1 16v8m1 0v7m1 7v6m0 49v4m1-97v8m1 8v15m1-31v8m0 16v7m0 7v6m1-52v8m0 24v7m0 13v7m0 42v4m1-97v8m1 30v6m1 49v4m1-66v7m2-46v8m0 8v8m1-16v8m0 8v8m0 14v6m1-52v8m1 8v8m0 15v7m2-38v8m0 30v6m0 53v4m1-50v6m1-57v8m0 30v6m1-44v8m2 0v8m0 15v7m1-30v8m0 8v7m0 7v6m1 44v5m1-85v8m1 0v8m0 7v13m2 19v5m1-68v8m0 16v7m0 32v5m1-76v16m1 0v8m3-8v16m1-24v8m1 16v7m2 7v6"/><path stroke="#00ff2e" d="M1.5 105v4m2-4v4m1-8v4m2 0v4m2-4v4m4-4v4m3-8v4m1-4v4m5 0v4m0 4v4m1-8v4m2-8v4m1-4v4m3-4v4m2 0v4m5-8v4m1-4v4m4 0v4m1-8v4m1-8v4m7 4v4m2-12v4m5 19v3m1-22v4m8-4v4m2 0v4m4-42v5m9 37v4m2-65v7m7 17v6m1 31v4m14-12v4m7 4v4m4-71v6m7 61v4m4-12v4m3-4v4m1-4v4m2-4v4m3 0v4m3-8v4m0 4v4m4-4v4m3-12v4m1 4v4m1-8v4m8-8v4m2-4v4m3-4v4m5 0v4m1-8v4m2-4v4m1-4v4m1-8v4m1-4v8m5-4v4m2-4v4m11 4v4m3-8v4m4-12v4m3 0v4m1-4v4m7 0v4m3-4v4m2-54v6"/><path stroke="#00ff64" d="M1.5 109v4m0 14v3m0 11v3m3-27v3m0 19v2m1-11v6m0 5v3m1-5v5m1-27v3m1-11v8m0 7v3m0 9v3m1-30v4m1 0v4m1-8v4m0 17v9m1-19v4m2 6v3m3-16v7m1-19v4m0 4v4m0 16v3m1 3v2m1-36v4m0 4v11m1 15v2m1-36v4m0 4v4m0 13v3m1-9v3m1-18v8m0 7v3m0 9v5m1-28v4m0 3v4m1-15v4m0 4v3m0 13v3m0 3v2m1-36v4m0 4v7m1-11v4m0 4v3m0 4v3m0 14v3m1-43v4m0 12v3m0 7v3m1-6v3m1-10v3m1-15v12m0 13v3m2-9v3m1-18v4m1-4v4m1 7v4m2 3v3m1-17v4m1-8v8m0 3v4m1-19v8m0 4v7m0 6v3m2-9v3m1-14v4m0 3v4m0 6v3m1-28v4m0 4v4m0 7v3m1 6v3m1-31v4m0 11v7m0 3v3m1-28v4m0 4v4m1 10v6m1-24v8m1 13v3m1-24v4m0 14v3m2-25v8m0 4v7m0 6v3m1 8v3m1-35v4m0 11v6m0 9v2m1-36v12m3-4v4m1-12v8m1-4v8m1-12v4m3 4v4m0 3v4m1-4v4m1-11v4m1-8v8m1 7v6m0 3v3m2-12v3m1-3v3m0 9v3m1-26v4m1 7v6m1-10v7m2-14v7m0 7v3m2-13v3m0 7v3m1-17v4m0 7v6m0 3v3m2-16v4m0 3v3m1-3v3m1-17v7m6 16v3m1-26v7m1 10v3m1-13v4m0 6v3m0 3v3m3-26v4m0 13v3m3-28v4m1 4v4m0 24v3m1-14v3m2-20v4m0 13v3m1-20v4m0 13v3m1-3v3m0 8v3m1-8v3m1-9v3m2-13v4m0 12v3m0 2v3m1-24v4m1-19v4m0 4v4m0 13v6m0 3v2m1-36v8m0 26v2m1-32v4m0 4v3m0 10v3m2-16v3m0 16v3m3-15v3m1-7v4m0 9v3m1-16v4m2-7v3m1-7v4m0 16v6m0 2v3m1-31v4m0 10v3m2-17v4m0 7v6m1-21v4m0 11v3m1 3v3m2-20v4m0 7v3m1-18v8m1-8v4m0 7v4m0 9v3m2 3v2m1-36v12m0 10v3m0 3v3m0 5v3m1-24v4m1-7v3m1-15v4m0 4v7m1 10v3m3-16v3m0 7v3m1-10v4m2-7v10m0 14v3m1-24v4m1 3v3m1-13v3m0 10v6m2-23v4m0 7v3m0 3v3m0 6v2m2-36v4m0 4v4m0 7v3m1-14v4m2-4v4m2-4v7m0 16v3m3-15v3m0 9v3m1-26v4m1-8v4m0 4v3m0 7v3m1-17v4m1 3v4m3-11v7m0 19v2m2-28v4m1 10v6m0 8v3m1-31v4m1-8v4m1-8v4m1 0v8m1 7v3m2-18v4m0 7v4m1 3v3m1-10v4m1-15v4m0 4v3m0 21v3m1-3v3m1-39v4m0 8v7m1-7v3m0 4v3m1 0v3m1-17v4m1-8v8m0 10v3m2-21v8m1-4v4m0 7v3m1-14v4m2-8v11m1-11v4m1 4v3m1-7v4m0 13v3m1-20v4m0 3v4m0 9v3m1-27v4m0 7v4m0 15v2m1-24v3m1-11v4m0 4v3m0 10v6m2-12v3m1-14v4m1-8v4m0 4v3m1-3v3m0 4v3m1-14v7m0 7v3m1 3v3m1-16v4m1-7v3m1 0v7m0 3v3m0 6v2m1-32v4m0 4v3m1 10v3m0 8v3"/><path stroke="#15ff00" d="M2.5 16v8m1-24v8m2-8v8m0 31v7m1-14v14m1-38v8m2 23v7m1-46v8m1 0v8m1 0v8m0 77v4m3-59v6m1-6v6m3-13v7m1-14v7m4 62v4m1-9v5m1-62v7m1 0v6m9-6v6m2 53v4m3-85v8m1 14v6m2-52v8m2 16v8m5-16v8m0 15v7m0 50v5m1-93v8m2-16v8m4 88v5m3-62v7m0 50v5m3-42v6m2-65v8m0 31v7m1-14v7m0 13v7m1-43v8m0 58v5m2-79v8m0 30v6m1 24v6m1-23v6m3-6v6m0 44v4m1-81v7m1 20v6m2-26v7m0 19v11m0 11v5m1-10v5m2-71v8m2 52v11m1 0v5m1-68v8m0 27v17m1-52v8m0 39v5m0 11v5m1-53v7m0 30v6m2-17v11m1-44v7m0 26v6m1 16v5m2-84v8m0 43v6m0 11v6m1-82v8m0 44v13m0 11v6m1-36v6m0 7v6m0 11v6m1-50v7m0 20v6m2 17v5m1-79v8m0 49v6m2-19v7m2 0v6m1-13v7m1-7v7m4-7v7m1-43v8m0 28v13m3 36v4m1-97v8m1 8v8m2-16v8m0 15v7m0 63v4m1-105v8m0 36v7m0 6v6m2-63v8m1 23v7m0 6v7m3-51v8m0 30v6m2-52v8m4 31v7m7 50v5m2-101v8m1 38v6m2-36v8m1-24v8m3 0v8m2-8v8m0 8v8m4-24v8m0 30v6m1-52v16m1-16v8m1 24v7m1-15v8m0 14v6m1-52v8m1 38v6m1-28v8m0 27v6m1-41v8m2-24v8m2 30v6m2-44v8m1-16v8m5 38v6m1-6v6m0 49v4m2-59v6m1-28v8m9 0v7m2 62v4m2-4v4m1-97v8m0 85v4m3-66v7m1-46v8m1 0v8m0 30v6m6-28v8m2-16v8m0 85v4m2-89v8m2 14v6m1 0v7m0 50v4m1-97v8m1 28v7m1 46v4m1-50v6"/><path stroke="#75ff00" d="M2.5 52v7m1-51v8m0 16v7m4-39v8m2 93v4m2-66v7m1-38v8m1-8v8m1-8v8m0 43v6m1 31v5m3-85v8m3 72v5m2-55v6m1-52v8m0 51v6m2-65v8m1 0v8m2-16v8m0 57v6m4-71v8m0 16v8m0 20v7m10 0v6m2-57v8m0 30v6m7-36v8m0 15v7m2-38v8m0 16v7m1 57v5m1-77v8m0 7v7m13 30v6m4-36v6m1-44v8m0 66v5m3-48v7m0 6v7m2-59v8m1 38v6m0 57v4m1-113v8m2 44v7m1-27v7m1 32v5m1-37v7m1-30v8m1 0v8m2-24v8m8 30v6m2 57v4m3-105v8m2-8v8m3 85v4m2-105v8m3 31v7m1-22v8m0 64v5m2-55v6m7 57v4m1-74v7m1-46v8m3-8v8m0 38v6m1-52v8m0 24v7m3-7v7m1-23v8m0 28v7m6-59v8m4 0v8m2-16v8m0 51v6m0 36v4m5-97v8m1 43v6m3-13v7m2-20v7m8-14v7m1-31v8m0 8v15m1 0v7m6-14v7m1-31v8m3 36v7m2-7v7m5-35v8m2 69v4m2-97v8m2 8v8m6-8v8m1 7v7m3 0v6m0 40v4m3-64v7m1 37v6m5-74v8m1-16v8m2 88v5"/><path stroke="#fbf100" d="M2.5 59v6m4-6v6m1 31v5m9-36v6m3 21v4m15-37v6m8 27v4m1 0v5m1-14v5m4-16v6m3 0v5m13-16v5m2 11v5m11 13v4m13-13v5m15-36v6m11 25v5m6-30v5m1-17v6m2 31v5m2-36v6m3 25v5m16 0v4m8-46v6m5-6v6m8-6v6m3 22v5m8-27v6m3-6v6m15 0v5m11 6v5"/><path stroke="#ff8400" d="M2.5 65v6m20 5v6m1-17v6m0 21v4m32-14v5m5-16v5m1 0v6m6 10v4m2 0v5m11-5v5m7-5v5m8 4v4m12-22v5m15-5v5m9 0v4m27-9v5m7 0v4m21-9v5m7 0v4"/><path stroke="#ff4900" d="M2.5 76v6m5 5v5m16-5v5m11-21v5m71 16v4m2-14v5m11-5v5m5 0v5m15-10v5m11-16v5m6-5v5m0 11v5m14-27v6"/><path stroke="#ff0000" d="M2.5 82v5m134-5v5m16 0v5m29-10v5m16-11v6"/><path stroke="#ffa400" d="M2.5 92v4m26-4v4m9-25v5m2 16v4m25-9v5m21 4v5m8 0v4m5 0v4m2-4v4m1-27v5m22-16v5m8-17v6m9 17v5m8-5v10m27-27v6m7 11v5m20-5v5"/><path stroke="#c8ff00" d="M3.5 59v6m11 0v6m36-12v6m1 22v5m20-5v5m1 13v4m2-77v7m10 70v4m20-17v5m36-36v6m2 34v4m19-8v4m13-13v4m10 0v5m7-5v5m2-36v6m1-6v6m0 25v5"/><path stroke="#ffba00" d="M3.5 65v6m7-6v6m2-6v6m7 0v5m18-17v6m5 0v6m17 21v4m24 9v4m29-38v5m2-5v5m4 0v6m3 19v4m2 0v4m2-44v6m15 0v5m6-17v6m23-13v7m4 37v5m3-14v5m4-33v6m5-6v6m16 17v5"/><path stroke="#ff9000" d="M3.5 71v5m4-11v6m14 11v5m9-28v6m4 27v4m6-20v6m4-11v5m30 25v4m5-9v5m22-5v5m4-14v5m8-21v5m5 16v4m2-20v6m12-17v6m16 5v6m8-17v6m4 0v5m12-11v6m22 5v6m4 5v5m10-5v5m2-10v5"/><path stroke="#ff4c00" d="M3.5 76v6m27 10v4m6-9v5m1-10v5m13-22v6m11 11v5m4 0v5m47-16v6m21-17v6m29 21v4m3-25v5m10-5v5"/><path stroke="#ffb600" d="M3.5 87v5m3-5v5m7-27v11m2 6v5m1 5v4m1-31v6m23-12v6m3 6v5m4-11v6m9 25v5m7-14v5m14 4v5m1 4v4m10-4v4m36-33v6m30 10v4m13-25v5m0 11v5m5 0v4m2-9v5m17-27v6m4 0v5m4 11v5m9 4v5m5-5v5"/><path stroke="#e3ff00" d="M3.5 92v4m7 0v5m7-9v4m1-37v6m7 27v4m2-9v5m14-33v6m28 22v5m39-21v5m9-5v5m28 20v5m6 4v4m30-13v5m2-42v6m0 36v4m4-13v4"/><path stroke="#9aff00" d="M4.5 32v7m4 13v7m4 37v5m5-5v5m11-36v6m8-19v13m4-19v6m2 7v6m11-19v6m11 13v6m1 25v5m15-9v4m6-88v8m2 93v4m5-4v4m13-12v4m1-40v6m9-6v6m12 25v5m3 0v4m16-53v7m1 37v5m1-42v6m17-6v6m6 31v5m5-49v7m2-13v6m6 0v7m1-43v8m3 8v7m0 66v4m12-8v4m11-34v5"/><path stroke="#a3ff00" d="M4.5 39v7m1 13v6m9 31v5m4-9v4m6-50v6m1 13v6m21 21v4m5-31v6m16 16v5m19-76v8m13 85v4m6-54v6m12 36v4m1-40v6m0 34v4m4-44v6m17 21v4m3-50v6m13 0v7m3 37v5m1 4v4m3-8v4m5-4v4m8-46v6m3 27v4m2 5v4m20-9v5m5-14v5m1-21v5m1-5v5"/><path stroke="#87ff00" d="M4.5 59v6m3-26v7m20-7v7m10 55v4m1-66v7m2 55v4m16-34v5m6-24v7m10-27v7m2 7v6m0 53v4m5 0v4m4-54v6m1-26v7m9-14v7m8 62v4m5-40v6m2-19v7m6-51v8m0 36v7m1-7v13m2-41v8m3-24v8m2 89v4m3-57v13m22-65v8m1 24v7m2 0v7m6-22v8m11-32v8m1 44v7m4-51v8m0 23v7m8 6v7m2-43v8m1-8v8m11 77v4m1-66v7m3 13v6m2 6v5m1-5v5m1-5v5m4 29v4m3-38v5"/><path stroke="#ffbe00" d="M4.5 71v5m3-24v7m33 33v4m49 0v5m8-5v5m17-9v4m15-31v6m5-12v6m3 22v5m8-21v5m6-5v5m0 20v5m4-42v6m10 31v5m39 0v4"/><path stroke="#ff9300" d="M4.5 76v6m14-11v5m5-5v5m2 6v5m3-11v6m5 10v4m13-20v6m12-6v6m5-6v6m8 19v4m10-9v5m0 4v4m6-4v4m8-8v4m14-9v5m25-9v4m18 0v5m5-36v6m21 0v5m4 0v6m7 5v5m3 0v9m9-14v5"/><path stroke="#ff8700" d="M4.5 82v5m5-16v5m21 20v5m19-9v4m5-9v5m3 0v4m35 0v5m8 0v4m7-13v4m13 5v4m1-13v4m4-20v6m4-11v5m1-11v6m29-6v6m2 25v5m6-25v6m15-11v5m11 6v5m2 5v4m5-20v6"/><path stroke="#ffe700" d="M4.5 92v4m2-4v4m3 0v5m15-30v5m11 20v5m8-36v6m16 25v5m8 0v4m28 4v4m1-17v5m17-5v5m9 0v4m10-53v7m17 6v6m0 30v4m2-40v6m5 25v5m2-9v4m8-31v6m8-6v6m2 21v4m2-20v6m11 19v4m19-29v6"/><path stroke="#ffd700" d="M5.5 65v6m3 21v4m13-4v4m3-9v5m10 4v5m1-42v6m2 31v5m9-36v6m5 5v6m2 10v4m7-31v6m3 0v5m13 29v4m15-13v5m2-5v5m10-36v6m12 25v5m31-49v7m1 0v6m9 36v4m26-9v5m25-14v5"/><path stroke="#ff9b00" d="M5.5 71v5m6-17v6m4 6v5m9 6v5m8-22v6m52 34v4m15-4v4m1-13v5m8-5v5m12 4v4m2-17v4m4-20v6m21-17v6m2 16v5m22 0v4m6-25v5m14 0v6m3-11v5m10 11v5"/><path stroke="#ff6000" d="M5.5 76v6m2-11v5m0 6v5m5-11v6m20 0v5m3 5v4m3-25v5m22 11v5m15 9v4m10-4v4m47-34v5m12 6v5m5-5v5m11 5v4m6-14v5m37 5v4"/><path stroke="#ff5300" d="M5.5 82v5m26 0v5m35 4v5m42-25v6m4 0v5m5 0v5m1-5v5m11-10v5m6-22v6m8 5v6m6 14v5m7-19v5m3 5v4m27-14v5"/><path stroke="#ff3500" d="M5.5 87v5m96-5v5m32-16v6m22-17v6m2 5v6m8 0v5m14 0v5m6-21v5"/><path stroke="#ffc900" d="M5.5 92v4m7-4v4m1-9v5m7-16v6m19-23v6m2 27v4m14-20v6m43 19v4m28-34v5m1 16v4m16-25v5m13-24v7m2 0v6m29-6v6m11 0v6"/><path stroke="#ff9600" d="M6.5 65v6m2 16v5m3 0v4m10-9v5m10-27v6m1 21v4m5-9v5m5-16v6m5 10v4m8-9v5m4-21v11m13 19v4m18-4v4m12-34v5m64 11v5m22-33v6m18 22v5"/><path stroke="#ffc200" d="M6.5 71v5m7 6v5m9-16v5m2 0v6m2-11v5m1 6v5m11-28v6m4 22v5m5-5v5m21 9v4m14-9v5m8 4v4m15-38v5m7 20v5m3-30v5m1 16v4m11-25v5m14 20v5m7-9v4m25-37v6m9 27v4m11-25v5m9 20v9m6-23v5"/><path stroke="#ff6d00" d="M6.5 82v5m2-16v5m4-5v5m2 11v5m3-21v5m22-11v6m11 21v4m53-25v5m14 0v6m25 5v5m2-16v6m21 5v5m23-16v6m2-11v5m7-5v5"/><path stroke="#00f4ff" d="M6.5 130v3m2 8v3m5-17v3m3-3v3m10 6v3m6-6v3m1-16v4m5 12v3m4-3v3m2-12v3m1 3v3m0 5v3m9-8v3m3-3v3m0 2v3m1-20v3m3-3v3m1-3v3m2 6v3m1-3v3m1 5v3m5-5v2m9-14v3m2-10v4m4-4v4m0 17v3m5-17v3m1-10v4m6 17v3m2-17v3m5 3v3m1 3v2m4-8v3m5 0v3m0 2v3m6-14v3m1-6v3m0 6v3m5-9v3m0 6v2m4-11v3m6-3v3m2 8v3m1-3v3m1-5v2m5-21v4m7 0v3m5 14v3m5-17v3m7-3v3m4 11v3m1-24v4m1 17v3m5-3v3m12-17v3m3 3v6m15-3v3m0 2v3m1-11v3"/><path stroke="#daff00" d="M7.5 46v6m6 7v6m6 0v6m3 21v4m2-31v6m7-12v6m16 31v5m5-9v4m10-31v6m21 38v4m6-4v4m5-4v4m30-21v9m1 0v4m18-4v4m10-13v4m4-37v6m10 31v5m9-42v6m3 31v5m26-19v5"/><path stroke="#ffa100" d="M7.5 59v6m19 22v5m7-33v6m5 31v5m4-30v5m2 0v6m8 5v5m4 0v4m50 0v5m10-25v6m7-17v6m14-6v6m5 30v4m8-4v4m6-13v4m8-25v5m30 6v5m3 0v5"/><path stroke="#ff3b00" d="M7.5 76v6m24-6v11m26 0v5m37 13v4m2-8v4m15-18v5m9-10v5m14 0v5m2-27v6m16 0v5m3 6v5m25-16v5m16 11v5m3-21v5"/><path stroke="#ff6a00" d="M7.5 92v4m9-20v6m13-6v6m6 0v5m6-22v6m6 0v5m25 20v5m2-5v5m30-25v6m5-6v6m21-11v5m13 20v5m15-25v6m4 5v5m15-27v6m6 25v5m3-30v5m6-5v5m17 6v5"/><path stroke="#b5ff00" d="M7.5 101v4m1-9v5m7-36v6m5 21v4m2-31v6m9 25v5m10-5v5m3-42v6m1 31v5m2-42v6m1 6v5m16 16v4m27 13v4m6 0v4m2-21v5m11-19v5m1-55v7m13 32v5m4-11v6m3-19v7m9 0v6m5 0v6m2 30v4m6-73v7m8 32v5m3 25v4m1-4v4m4-59v6m1 0v7m3-7v7m4 37v5m12-62v7m1 46v4m5 0v5m9 4v4m4-8v4m3-29v6m2-6v6m0 19v4"/><path stroke="#ffe200" d="M8.5 59v6m20 22v5m12 4v5m5-36v6m4-6v6m3-12v6m1-6v6m21 27v4m1-4v4m11 0v5m12 8v4m18-42v5m19-17v6m13 0v6m2 34v4m51-13v5m6-9v4m2-20v6m2 5v9"/><path stroke="#ff8d00" d="M8.5 76v6m6-11v5m1 0v6m2 0v5m12-16v5m4-11v6m7 11v5m6 0v5m15-21v5m5 16v4m2-4v4m28 9v4m1 0v4m12-21v4m6-4v4m24-9v5m3-21v5m16-11v6m4 25v5m6-14v5m40 0v4m4-9v5"/><path stroke="#ff7600" d="M8.5 82v5m44-22v6m27 34v4m4-8v4m9 0v4m5-8v4m8-29v6m16 0v5m11-5v5m3 0v5m9 4v5m20-9v4m13-20v6m3 10v4m5-9v5m1-16v6m2 0v5m21 9v5"/><path stroke="#90ff00" d="M9.5 32v7m1 13v7m1-13v6m6 7v6m18-13v7m2-7v7m1-13v6m1-6v6m3-36v8m4 35v6m8-6v6m1 6v5m1-68v8m0 30v6m6 7v6m3-6v6m4-65v8m8 0v8m1 76v4m5-4v4m13 13v4m5-37v6m9 14v5m1-30v5m4 25v4m3-97v8m4 30v6m5 7v6m12-41v8m4-8v8m1 73v4m5-57v7m5 37v5m2-55v6m4 49v4m5-46v6m6-13v7m5 37v5m17-85v8m13 22v6m1 24v6"/><path stroke="#ffd200" d="M9.5 59v6m0 27v4m1-37v6m3 11v6m14-11v5m3 25v4m8-53v7m6 6v6m0 21v4m67 0v5m5-19v5m11-5v5m1 5v4m7 0v5m12-5v5m22-5v5m6-5v5m1-36v6m2 11v5m32 14v4"/><path stroke="#ff7300" d="M9.5 82v5m1-11v6m2 0v5m4-16v5m1 0v6m1-6v6m5-6v6m11-17v6m11 0v5m0 16v4m9-25v5m15 25v4m10-4v4m7-4v4m11 0v4m18-22v5m8-10v5m0 9v5m5-19v5m1 5v4m33-20v6m2-6v6m31 0v5m1 5v4m10 0v5"/><path stroke="#ff2e00" d="M9.5 87v5m17-10v5m17-11v6m49 19v4m9-13v4m4-14v5m48-11v6m8 5v5m8-33v6m6 22v5m19-5v5"/><path stroke="#ffcd00" d="M10.5 82v5m74 9v5m11-5v5m23-5v5m6-19v5m2 5v4m6-37v6m0 27v4m12 5v4m8-40v6m7 30v4m3-34v5m1 25v4m2-40v6m19 21v4m10-4v4"/><path stroke="#ff8100" d="M10.5 87v5m5-5v5m4-10v10m14-21v5m4-11v6m17 5v6m8 0v5m11 9v9m8-4v4m22-18v5m1 0v4m2-20v6m23-6v6m7 10v4m11-25v11m12-11v5m18 11v5m8-16v6m3 5v5m1-10v5m21 9v5m3-9v4"/><path stroke="#ffab00" d="M10.5 92v4m17-20v6m13 5v5m6-10v5m14-5v5m22 14v4m9 0v4m28-22v5m3 4v5m4-19v5m18-16v5m1 16v4m12-4v4m14-37v6m3 11v6m16 5v5m13 4v5m1-9v4m2 5v4m3-4v4"/><path stroke="#00dcff" d="M10.5 141v3m1-5v2m3-5v3m9 2v3m31-5v2m35-21v4m29 17v3m79-3v3"/><path stroke="#acff00" d="M11.5 52v7m1 0v6m8 0v6m1-55v8m27 63v9m6 0v5m5 0v4m1-13v4m1-4v4m2-31v6m8 34v4m5-17v4m1-4v4m14-80v8m1 68v4m12-31v6m22-6v6m0 25v5m36-36v6m1 34v4m23-50v6m2-13v7m21 46v4m3-8v4"/><path stroke="#ff7000" d="M11.5 65v6m5 16v5m5-16v6m4-6v6m11-6v6m14 5v5m2-10v5m8-11v6m10 19v4m5-9v5m36-25v6m6 0v5m25 9v5m9-25v6m2-11v5m10 20v5m6-14v5m4-27v6m16-19v7m1 6v6m10 16v9m9-9v5"/><path stroke="#ff1300" d="M11.5 71v5m23 11v5m112-16v6m0 5v5m14-10v5m38-5v5"/><path stroke="#ff2700" d="M11.5 76v6m127 5v5m51-33v6m10 0v6"/><path stroke="#ff2100" d="M11.5 82v5m41-11v6m52 0v5m21 5v4m17-20v6m8 10v4m2-4v4m7-14v5m4-11v6m5-17v6m1 0v5m3 11v5m12-5v5"/><path stroke="#ffed00" d="M11.5 96v5m2-9v4m44-25v5m2-24v7m6 6v6m16 21v4m23-25v5m3-5v5m3 16v4m11 9v4m10-13v5m7-9v4m2-9v5m8-33v6m26 17v5m23-28v6m10 31v5"/><path stroke="#ff5900" d="M12.5 87v5m10-10v5m9-16v5m2 6v5m12-5v5m19-5v5m14 14v4m11-4v4m19-13v4m5-4v4m8 0v5m7-25v6m7 10v4m23-14v5m5-16v5m3-5v5m4-11v6m1 16v5m2-16v6m10 10v4m14-14v5m1-16v5"/><path stroke="#ff3800" d="M14.5 76v6m22 0v5m11-11v6m7 0v5m75 0v5m17 4v5m5-9v4m32-25v5"/><path stroke="#ff4500" d="M14.5 82v5m21 0v5m4-16v6m28 14v5m32 0v4m10-23v5m28-16v5m13 20v5m7-30v5m26-11v6m16 5v6"/><path stroke="#f5f500" d="M15.5 92v4m17-37v6m4 31v5m21-5v5m16 4v4m11-17v4m21 5v4m8-40v6m1-6v6m14 0v5m8-17v6m16 36v4m11-40v6m7 21v4m2-37v6m2 6v5m4 11v5m15 4v5m6-42v6"/><path stroke="#ff0d00" d="M16.5 82v5m48-11v6m49 5v5m18-21v5"/><path stroke="#00ff1c" d="M17.5 0v8m2 93v4m1-4v4m2-4v4m16-81v8m0 77v4m1-105v8m13 85v4m3-4v4m5 4v4m2-12v4m5-23v5m8 0v5m1-53v7m0 36v5m5-48v7m0 13v6m0 6v5m0 11v5m4-16v6m9 5v5m1-10v10m2-27v6m1 11v5m1 5v4m1-14v5m2 14v4m4 4v4m1-8v4m11 4v4m2-78v7m1 67v4m2 0v3m10-19v4m2 0v4m2-13v9m3-4v4m4 4v4m4-8v4m4-63v6m1 49v4m10 4v4m1-8v4m3 0v4m11-12v4m2 0v4m2-4v4m13-8v4m1 0v4m1-4v4m2-77v7m7 70v4m7-42v5"/><path stroke="#ffae00" d="M18.5 65v6m7 0v5m3 6v5m18-16v5m11 0v6m2 5v5m24 4v5m3 4v4m6 0v4m31-12v4m4-18v5m32 4v5m22-9v4m4-31v6m6 0v5m1-11v6m14 21v4m6-14v5"/><path stroke="#ff9e00" d="M18.5 82v5m3-16v5m10 16v4m2 0v5m4-9v4m2-9v5m4 0v4m16-14v5m9 9v5m12 4v4m9-4v4m14-17v4m2 0v5m1-30v5m9 0v6m2 10v4m2 0v5m48-36v6m10 21v4m7-31v6m2-6v6m3 25v5m12-9v4m12-9v5"/><path stroke="#ff8a00" d="M18.5 87v5m5-10v5m13-22v6m1 5v6m16-17v6m5 16v5m4-16v6m3-6v6m12 19v4m10-4v4m38-23v5m19 5v4m3-9v5m3-21v5m6 11v5m20-21v5m4-11v6m7 0v5m2 16v4m2-14v5m6 5v4"/><path stroke="#ffdd00" d="M20.5 82v5m8-16v5m12-24v7m33 33v4m29-31v6m16 30v4m22-29v6m28-23v6m0 27v4m8-14v5m14-28v6m13 36v4"/><path stroke="#ffc600" d="M23.5 96v5m21-19v5m14 5v4m7-4v4m45-9v5m5-27v6m3 0v5m1 0v6m5 5v5m9-33v6m5-6v6m1-6v6m6 11v6m3-11v5m21 16v4m7-20v6m3-30v7m7 33v4m5-4v4m15-20v6"/><path stroke="#beff00" d="M26.5 65v6m0 25v5m1-9v4m8 5v4m3-4v4m1-53v7m11 37v5m1-30v5m1-24v7m5 42v4m12 0v4m51 0v4m4-105v8m3 80v5m3-42v6m4 31v5m6-9v4m9 9v4m1-44v6m23 30v4m5-46v6m9-13v7m3-7v7"/><path stroke="#ff1a00" d="M29.5 82v5m83 5v4m24-20v6m6 0v5m9-5v5m19-11v6m17-6v6"/><path stroke="#ff0000" d="M30.5 65v17m0 5v5m4-10v5m74 0v5m3-10v5m19-5v5m11-11v6m0 5v5m5-21v5m14 11v5m9-16v6m6 0v5m4-16v11m4-6v11m9-5v5m4-5v5"/><path stroke="#ff3f00" d="M30.5 82v5m3 0v5m5-27v6m75 5v6m6 0v5m27 5v4m34-9v5m1-5v5m11-16v6m17 10v4"/><path stroke="#ff4200" d="M32.5 76v6m13-6v6m8-6v6m41 19v4m43-29v6m10 10v4m6-14v5"/><path stroke="#ff2400" d="M32.5 87v5m18-10v5m83 0v5m3-5v5m19-16v6m24-23v6m8 17v5"/><path stroke="#ff3100" d="M33.5 76v6m37 14v5m8-5v5m54-25v6m7 0v5m4 0v5m23-16v6m18-6v6"/><path stroke="#ff2b00" d="M34.5 76v6m15-6v6m85-17v6m7 21v4m15-20v6m15-17v6m6 11v5m2-22v6"/><path stroke="#ff1d00" d="M35.5 76v6m99 0v5m9-5v5m14 0v5m13-21v5m2 6v5"/><path stroke="#ff0600" d="M38.5 76v6m135-11v5m7 6v5m8-16v5"/><path stroke="#ff0000" d="M39.5 71v5m64 6v5m30-16v5"/><path stroke="#ff0000" d="M41.5 71v5m12-5v5m97 11v5"/><path stroke="#ff0300" d="M41.5 76v6m63 5v5m4-10v5m23-11v6m8-11v5m18 6v5m14-11v6"/><path stroke="#ff0000" d="M41.5 82v5m9-11v6m86-11v5m60 0v6m2-6v6"/><path stroke="#ff1700" d="M41.5 87v5m47 9v4m43-40v6m31 11v5m8-5v5"/><path stroke="#ff4f00" d="M43.5 82v5m87 5v4m16-14v5m4-11v6m11 0v5m4-11v6m6-11v5"/><path stroke="#ffb200" d="M43.5 87v5m11 0v4m5-37v6m2 22v5m2-10v5m3 14v4m5-13v9m5-5v5m8 0v4m9 0v4m21-27v5m2 0v5m10-5v5m15-27v6m6 11v5m38-5v5m0 5v4m5-20v6m20-6v6m2-6v6"/><path stroke="#ff5d00" d="M47.5 82v5m2 0v5m7-5v5m26 13v4m25-33v6m16-6v6m12-11v5m2 6v5m7 0v5m17 0v4m18-4v4m2-25v5m8-11v6m1 11v5m13-5v5"/><path stroke="#ff0000" d="M53.5 82v5"/><path stroke="#ff0000" d="M65.5 82v5m70-5v5m4-22v6"/><path stroke="#ff0000" d="M103.5 76v6m3 0v5m83-16v5"/><path stroke="#ff0000" d="M112.5 87v5"/><path stroke="#ff0000" d="M113.5 82v5"/><path stroke="#ff0900" d="M130.5 76v6m5-6v6m21-11v5m23 6v5"/><path stroke="#ff1000" d="M130.5 87v5m8-27v6m16 0v5m9 16v4m17-20v6"/><path stroke="#ff0000" d="M131.5 82v5m29-11v6"/><path stroke="#ff0000" d="M131.5 87v5"/><path stroke="#ff0000" d="M133.5 82v5m1-11v6"/><path stroke="#ff0000" d="M134.5 71v5"/><path stroke="#ff0000" d="M138.5 71v5m11 16v4m10-9v5"/><path stroke="#ff0000" d="M138.5 76v6m34-6v6"/><path stroke="#ff0000" d="M139.5 76v6m61 0v5"/><path stroke="#ff0000" d="M143.5 92v4m20-14v5m26-11v6"/><path stroke="#ff0000" d="M150.5 82v5m19-5v5m4 0v5m2-16v6m9 0v5"/><path stroke="#ff0000" d="M152.5 76v6m20-11v5m20 11v5"/><path stroke="#ff0000" d="M152.5 82v5m31 0v5"/><path stroke="#ff0000" d="M173.5 82v5"/></svg><rect x="92" y="199" width="428" height="1" fill="#fff" opacity="1"/><rect x="92" y="195" width="428" height="1" fill="#fff" opacity="1"/><rect x="92" y="191" width="428" height="1" fill="#fff" opacity="1"/><rect x="92" y="188" width="428" height="1" fill="#fff" opacity="0.55"/><rect x="92" y="183" width="428" height="1" fill="#fff" opacity="1"/><rect x="92" y="179" width="428" height="1" fill="#fff" opacity="1"/><rect x="92" y="175" width="428" height="1" fill="#fff" opacity="1"/><rect x="92" y="170" width="428" height="1" fill="#fff" opacity="1"/><rect x="92" y="165" width="428" height="1" fill="#fff" opacity="1"/><rect x="92" y="160" width="428" height="1" fill="#fff" opacity="1"/><rect x="92" y="155" width="428" height="1" fill="#fff" opacity="1"/><rect x="92" y="149" width="428" height="1" fill="#fff" opacity="1"/><rect x="92" y="143" width="428" height="1" fill="#fff" opacity="1"/><rect x="92" y="137" width="428" height="1" fill="#fff" opacity="1"/><rect x="92" y="131" width="428" height="1" fill="#fff" opacity="1"/><rect x="92" y="124" width="428" height="1" fill="#fff" opacity="1"/><rect x="92" y="117" width="428" height="1" fill="#fff" opacity="1"/><rect x="92" y="110" width="428" height="1" fill="#fff" opacity="1"/><rect x="92" y="103" width="428" height="1" fill="#fff" opacity="0.55"/><rect x="92" y="95" width="428" height="1" fill="#fff" opacity="1"/><rect x="92" y="86" width="428" height="1" fill="#fff" opacity="1"/><rect x="92" y="205.2" width="428" height="1.8" fill="#fff"/><rect x="92" y="211" width="428" height="2" fill="#fff"/><rect x="92" y="217" width="428" height="1.1" fill="#fff"/><path fill="#fff" d="M92 202h3.1v1h-3.1zM96.7 202h2.98v1h-2.98zM101.28 202h2.98v1h-2.98zM105.85 202h2.98v1h-2.98zM110.43 202h2.98v1h-2.98zM115.01 202h2.98v1h-2.98zM119.58 202h2.98v1h-2.98zM124.16 202h2.98v1h-2.98zM128.74 202h2.98v1h-2.98zM133.32 202h2.98v1h-2.98zM137.89 202h2.98v1h-2.98zM142.47 202h2.98v1h-2.98zM147.05 202h2.98v1h-2.98zM151.62 202h2.98v1h-2.98zM156.2 202h2.98v1h-2.98zM160.78 202h2.98v1h-2.98zM165.36 202h2.98v1h-2.98zM169.93 202h2.98v1h-2.98zM174.51 202h2.98v1h-2.98zM179.09 202h2.98v1h-2.98zM183.66 202h2.98v1h-2.98zM188.24 202h2.98v1h-2.98zM192.82 202h2.98v1h-2.98zM197.39 202h2.98v1h-2.98zM201.97 202h2.98v1h-2.98zM206.55 202h2.98v1h-2.98zM211.12 202h2.98v1h-2.98zM215.7 202h2.98v1h-2.98zM220.28 202h2.98v1h-2.98zM224.86 202h2.98v1h-2.98zM229.43 202h2.98v1h-2.98zM234.01 202h2.98v1h-2.98zM238.59 202h2.98v1h-2.98zM243.16 202h2.98v1h-2.98zM247.74 202h2.98v1h-2.98zM252.32 202h2.98v1h-2.98zM256.9 202h2.98v1h-2.98zM261.47 202h2.98v1h-2.98zM266.05 202h2.98v1h-2.98zM270.63 202h2.98v1h-2.98zM275.2 202h2.98v1h-2.98zM279.78 202h2.98v1h-2.98zM284.36 202h2.98v1h-2.98zM288.93 202h2.98v1h-2.98zM293.51 202h2.98v1h-2.98zM298.09 202h2.98v1h-2.98zM302.67 202h2.98v1h-2.98zM307.24 202h2.98v1h-2.98zM311.82 202h2.98v1h-2.98zM316.4 202h2.98v1h-2.98zM320.97 202h2.98v1h-2.98zM325.55 202h2.98v1h-2.98zM330.13 202h2.98v1h-2.98zM334.7 202h2.98v1h-2.98zM339.28 202h2.98v1h-2.98zM343.86 202h2.98v1h-2.98zM348.44 202h2.98v1h-2.98zM353.01 202h2.98v1h-2.98zM357.59 202h2.98v1h-2.98zM362.17 202h2.98v1h-2.98zM366.74 202h2.98v1h-2.98zM371.32 202h2.98v1h-2.98zM375.9 202h2.98v1h-2.98zM380.47 202h2.98v1h-2.98zM385.05 202h2.98v1h-2.98zM389.63 202h2.98v1h-2.98zM394.2 202h2.98v1h-2.98zM398.78 202h2.98v1h-2.98zM403.36 202h2.98v1h-2.98zM407.94 202h2.98v1h-2.98zM412.51 202h2.98v1h-2.98zM417.09 202h2.98v1h-2.98zM421.67 202h2.98v1h-2.98zM426.24 202h2.98v1h-2.98zM430.82 202h2.98v1h-2.98zM435.4 202h2.98v1h-2.98zM439.97 202h2.98v1h-2.98zM444.55 202h2.98v1h-2.98zM449.13 202h2.98v1h-2.98zM453.71 202h2.98v1h-2.98zM458.28 202h2.98v1h-2.98zM462.86 202h2.98v1h-2.98zM467.44 202h2.98v1h-2.98zM472.01 202h2.98v1h-2.98zM476.59 202h2.98v1h-2.98zM481.17 202h2.98v1h-2.98zM485.75 202h2.98v1h-2.98zM490.32 202h2.98v1h-2.98zM494.9 202h2.98v1h-2.98zM499.48 202h2.98v1h-2.98zM504.05 202h2.98v1h-2.98zM508.63 202h2.98v1h-2.98zM513.21 202h2.98v1h-2.98zM517.78 202h2.22v1h-2.22z"/><path fill="#fff" d="M92 208.2h3.1v1.5h-3.1zM96.7 208.2h2.98v1.5h-2.98zM101.28 208.2h2.98v1.5h-2.98zM105.85 208.2h2.98v1.5h-2.98zM110.43 208.2h2.98v1.5h-2.98zM115.01 208.2h2.98v1.5h-2.98zM119.58 208.2h2.98v1.5h-2.98zM124.16 208.2h2.98v1.5h-2.98zM128.74 208.2h2.98v1.5h-2.98zM133.32 208.2h2.98v1.5h-2.98zM137.89 208.2h2.98v1.5h-2.98zM142.47 208.2h2.98v1.5h-2.98zM147.05 208.2h2.98v1.5h-2.98zM151.62 208.2h2.98v1.5h-2.98zM156.2 208.2h2.98v1.5h-2.98zM160.78 208.2h2.98v1.5h-2.98zM165.36 208.2h2.98v1.5h-2.98zM169.93 208.2h2.98v1.5h-2.98zM174.51 208.2h2.98v1.5h-2.98zM179.09 208.2h2.98v1.5h-2.98zM183.66 208.2h2.98v1.5h-2.98zM188.24 208.2h2.98v1.5h-2.98zM192.82 208.2h2.98v1.5h-2.98zM197.39 208.2h2.98v1.5h-2.98zM201.97 208.2h2.98v1.5h-2.98zM206.55 208.2h2.98v1.5h-2.98zM211.12 208.2h2.98v1.5h-2.98zM215.7 208.2h2.98v1.5h-2.98zM220.28 208.2h2.98v1.5h-2.98zM224.86 208.2h2.98v1.5h-2.98zM229.43 208.2h2.98v1.5h-2.98zM234.01 208.2h2.98v1.5h-2.98zM238.59 208.2h2.98v1.5h-2.98zM243.16 208.2h2.98v1.5h-2.98zM247.74 208.2h2.98v1.5h-2.98zM252.32 208.2h2.98v1.5h-2.98zM256.9 208.2h2.98v1.5h-2.98zM261.47 208.2h2.98v1.5h-2.98zM266.05 208.2h2.98v1.5h-2.98zM270.63 208.2h2.98v1.5h-2.98zM275.2 208.2h2.98v1.5h-2.98zM279.78 208.2h2.98v1.5h-2.98zM284.36 208.2h2.98v1.5h-2.98zM288.93 208.2h2.98v1.5h-2.98zM293.51 208.2h2.98v1.5h-2.98zM298.09 208.2h2.98v1.5h-2.98zM302.67 208.2h2.98v1.5h-2.98zM307.24 208.2h2.98v1.5h-2.98zM311.82 208.2h2.98v1.5h-2.98zM316.4 208.2h2.98v1.5h-2.98zM320.97 208.2h2.98v1.5h-2.98zM325.55 208.2h2.98v1.5h-2.98zM330.13 208.2h2.98v1.5h-2.98zM334.7 208.2h2.98v1.5h-2.98zM339.28 208.2h2.98v1.5h-2.98zM343.86 208.2h2.98v1.5h-2.98zM348.44 208.2h2.98v1.5h-2.98zM353.01 208.2h2.98v1.5h-2.98zM357.59 208.2h2.98v1.5h-2.98zM362.17 208.2h2.98v1.5h-2.98zM366.74 208.2h2.98v1.5h-2.98zM371.32 208.2h2.98v1.5h-2.98zM375.9 208.2h2.98v1.5h-2.98zM380.47 208.2h2.98v1.5h-2.98zM385.05 208.2h2.98v1.5h-2.98zM389.63 208.2h2.98v1.5h-2.98zM394.2 208.2h2.98v1.5h-2.98zM398.78 208.2h2.98v1.5h-2.98zM403.36 208.2h2.98v1.5h-2.98zM407.94 208.2h2.98v1.5h-2.98zM412.51 208.2h2.98v1.5h-2.98zM417.09 208.2h2.98v1.5h-2.98zM421.67 208.2h2.98v1.5h-2.98zM426.24 208.2h2.98v1.5h-2.98zM430.82 208.2h2.98v1.5h-2.98zM435.4 208.2h2.98v1.5h-2.98zM439.97 208.2h2.98v1.5h-2.98zM444.55 208.2h2.98v1.5h-2.98zM449.13 208.2h2.98v1.5h-2.98zM453.71 208.2h2.98v1.5h-2.98zM458.28 208.2h2.98v1.5h-2.98zM462.86 208.2h2.98v1.5h-2.98zM467.44 208.2h2.98v1.5h-2.98zM472.01 208.2h2.98v1.5h-2.98zM476.59 208.2h2.98v1.5h-2.98zM481.17 208.2h2.98v1.5h-2.98zM485.75 208.2h2.98v1.5h-2.98zM490.32 208.2h2.98v1.5h-2.98zM494.9 208.2h2.98v1.5h-2.98zM499.48 208.2h2.98v1.5h-2.98zM504.05 208.2h2.98v1.5h-2.98zM508.63 208.2h2.98v1.5h-2.98zM513.21 208.2h2.98v1.5h-2.98zM517.78 208.2h2.22v1.5h-2.22z"/><path fill="#fff" d="M92 214h3.1v2h-3.1zM96.7 214h2.98v2h-2.98zM101.28 214h2.98v2h-2.98zM105.85 214h2.98v2h-2.98zM110.43 214h2.98v2h-2.98zM115.01 214h2.98v2h-2.98zM119.58 214h2.98v2h-2.98zM124.16 214h2.98v2h-2.98zM128.74 214h2.98v2h-2.98zM133.32 214h2.98v2h-2.98zM137.89 214h2.98v2h-2.98zM142.47 214h2.98v2h-2.98zM147.05 214h2.98v2h-2.98zM151.62 214h2.98v2h-2.98zM156.2 214h2.98v2h-2.98zM160.78 214h2.98v2h-2.98zM165.36 214h2.98v2h-2.98zM169.93 214h2.98v2h-2.98zM174.51 214h2.98v2h-2.98zM179.09 214h2.98v2h-2.98zM183.66 214h2.98v2h-2.98zM188.24 214h2.98v2h-2.98zM192.82 214h2.98v2h-2.98zM197.39 214h2.98v2h-2.98zM201.97 214h2.98v2h-2.98zM206.55 214h2.98v2h-2.98zM211.12 214h2.98v2h-2.98zM215.7 214h2.98v2h-2.98zM220.28 214h2.98v2h-2.98zM224.86 214h2.98v2h-2.98zM229.43 214h2.98v2h-2.98zM234.01 214h2.98v2h-2.98zM238.59 214h2.98v2h-2.98zM243.16 214h2.98v2h-2.98zM247.74 214h2.98v2h-2.98zM252.32 214h2.98v2h-2.98zM256.9 214h2.98v2h-2.98zM261.47 214h2.98v2h-2.98zM266.05 214h2.98v2h-2.98zM270.63 214h2.98v2h-2.98zM275.2 214h2.98v2h-2.98zM279.78 214h2.98v2h-2.98zM284.36 214h2.98v2h-2.98zM288.93 214h2.98v2h-2.98zM293.51 214h2.98v2h-2.98zM298.09 214h2.98v2h-2.98zM302.67 214h2.98v2h-2.98zM307.24 214h2.98v2h-2.98zM311.82 214h2.98v2h-2.98zM316.4 214h2.98v2h-2.98zM320.97 214h2.98v2h-2.98zM325.55 214h2.98v2h-2.98zM330.13 214h2.98v2h-2.98zM334.7 214h2.98v2h-2.98zM339.28 214h2.98v2h-2.98zM343.86 214h2.98v2h-2.98zM348.44 214h2.98v2h-2.98zM353.01 214h2.98v2h-2.98zM357.59 214h2.98v2h-2.98zM362.17 214h2.98v2h-2.98zM366.74 214h2.98v2h-2.98zM371.32 214h2.98v2h-2.98zM375.9 214h2.98v2h-2.98zM380.47 214h2.98v2h-2.98zM385.05 214h2.98v2h-2.98zM389.63 214h2.98v2h-2.98zM394.2 214h2.98v2h-2.98zM398.78 214h2.98v2h-2.98zM403.36 214h2.98v2h-2.98zM407.94 214h2.98v2h-2.98zM412.51 214h2.98v2h-2.98zM417.09 214h2.98v2h-2.98zM421.67 214h2.98v2h-2.98zM426.24 214h2.98v2h-2.98zM430.82 214h2.98v2h-2.98zM435.4 214h2.98v2h-2.98zM439.97 214h2.98v2h-2.98zM444.55 214h2.98v2h-2.98zM449.13 214h2.98v2h-2.98zM453.71 214h2.98v2h-2.98zM458.28 214h2.98v2h-2.98zM462.86 214h2.98v2h-2.98zM467.44 214h2.98v2h-2.98zM472.01 214h2.98v2h-2.98zM476.59 214h2.98v2h-2.98zM481.17 214h2.98v2h-2.98zM485.75 214h2.98v2h-2.98zM490.32 214h2.98v2h-2.98zM494.9 214h2.98v2h-2.98zM499.48 214h2.98v2h-2.98zM504.05 214h2.98v2h-2.98zM508.63 214h2.98v2h-2.98zM513.21 214h2.98v2h-2.98zM517.78 214h2.22v2h-2.22z"/><path fill="#fff" d="M92 220h3.1v1h-3.1zM96.7 220h2.98v1h-2.98zM101.28 220h2.98v1h-2.98zM105.85 220h2.98v1h-2.98zM110.43 220h2.98v1h-2.98zM115.01 220h2.98v1h-2.98zM119.58 220h2.98v1h-2.98zM124.16 220h2.98v1h-2.98zM128.74 220h2.98v1h-2.98zM133.32 220h2.98v1h-2.98zM137.89 220h2.98v1h-2.98zM142.47 220h2.98v1h-2.98zM147.05 220h2.98v1h-2.98zM151.62 220h2.98v1h-2.98zM156.2 220h2.98v1h-2.98zM160.78 220h2.98v1h-2.98zM165.36 220h2.98v1h-2.98zM169.93 220h2.98v1h-2.98zM174.51 220h2.98v1h-2.98zM179.09 220h2.98v1h-2.98zM183.66 220h2.98v1h-2.98zM188.24 220h2.98v1h-2.98zM192.82 220h2.98v1h-2.98zM197.39 220h2.98v1h-2.98zM201.97 220h2.98v1h-2.98zM206.55 220h2.98v1h-2.98zM211.12 220h2.98v1h-2.98zM215.7 220h2.98v1h-2.98zM220.28 220h2.98v1h-2.98zM224.86 220h2.98v1h-2.98zM229.43 220h2.98v1h-2.98zM234.01 220h2.98v1h-2.98zM238.59 220h2.98v1h-2.98zM243.16 220h2.98v1h-2.98zM247.74 220h2.98v1h-2.98zM252.32 220h2.98v1h-2.98zM256.9 220h2.98v1h-2.98zM261.47 220h2.98v1h-2.98zM266.05 220h2.98v1h-2.98zM270.63 220h2.98v1h-2.98zM275.2 220h2.98v1h-2.98zM279.78 220h2.98v1h-2.98zM284.36 220h2.98v1h-2.98zM288.93 220h2.98v1h-2.98zM293.51 220h2.98v1h-2.98zM298.09 220h2.98v1h-2.98zM302.67 220h2.98v1h-2.98zM307.24 220h2.98v1h-2.98zM311.82 220h2.98v1h-2.98zM316.4 220h2.98v1h-2.98zM320.97 220h2.98v1h-2.98zM325.55 220h2.98v1h-2.98zM330.13 220h2.98v1h-2.98zM334.7 220h2.98v1h-2.98zM339.28 220h2.98v1h-2.98zM343.86 220h2.98v1h-2.98zM348.44 220h2.98v1h-2.98zM353.01 220h2.98v1h-2.98zM357.59 220h2.98v1h-2.98zM362.17 220h2.98v1h-2.98zM366.74 220h2.98v1h-2.98zM371.32 220h2.98v1h-2.98zM375.9 220h2.98v1h-2.98zM380.47 220h2.98v1h-2.98zM385.05 220h2.98v1h-2.98zM389.63 220h2.98v1h-2.98zM394.2 220h2.98v1h-2.98zM398.78 220h2.98v1h-2.98zM403.36 220h2.98v1h-2.98zM407.94 220h2.98v1h-2.98zM412.51 220h2.98v1h-2.98zM417.09 220h2.98v1h-2.98zM421.67 220h2.98v1h-2.98zM426.24 220h2.98v1h-2.98zM430.82 220h2.98v1h-2.98zM435.4 220h2.98v1h-2.98zM439.97 220h2.98v1h-2.98zM444.55 220h2.98v1h-2.98zM449.13 220h2.98v1h-2.98zM453.71 220h2.98v1h-2.98zM458.28 220h2.98v1h-2.98zM462.86 220h2.98v1h-2.98zM467.44 220h2.98v1h-2.98zM472.01 220h2.98v1h-2.98zM476.59 220h2.98v1h-2.98zM481.17 220h2.98v1h-2.98zM485.75 220h2.98v1h-2.98zM490.32 220h2.98v1h-2.98zM494.9 220h2.98v1h-2.98zM499.48 220h2.98v1h-2.98zM504.05 220h2.98v1h-2.98zM508.63 220h2.98v1h-2.98zM513.21 220h2.98v1h-2.98zM517.78 220h2.22v1h-2.22z"/><rect x="92" y="223" width="428" height="23.07" fill="#fff"/><path fill="#00fffa" d="M95.25 224.44h1.3v2.67h-1.3zm132.73 0h1.3v2.67h-1.3zm59.5 19.13h1.3v2.67h-1.3zm119 0h1.3v2.67h-1.3z"/><path fill="#00ff5e" d="M99.83 224.44h1.3v2.67h-1.3zm100.69 5.79h1.3v2.67h-1.3zm164.77 0h1.3v2.67h-1.3zm-160.2 6.23h1.3v2.67h-1.3z"/><path fill="#00ff46" d="M104.4 224.44h1.3v2.67h-1.3zm274.62 5.79h1.3v2.67h-1.3z"/><path fill="#00e3ff" d="M108.98 224.44h1.3v2.67h-1.3zm302.08 0h1.3v2.67h-1.3zm41.19 5.79h1.3v2.67h-1.3zm-86.96 6.23h1.3v2.67h-1.3zm-160.2 7.12h1.3v2.67h-1.3zm64.08 0h1.3v2.67h-1.3z"/><path fill="#00ffef" d="M113.56 224.44h1.3v2.67h-1.3zm141.89 0h1.3v2.67h-1.3z"/><path fill="#04ff00" d="M118.13 224.44h1.3v2.67h-1.3zm-4.58 5.79h1.3v2.67h-1.3z"/><path fill="#00f0ff" d="M122.71 224.44h1.3v2.67h-1.3zm215.12 12.01h1.3v2.67h-1.3zm105.27 7.12h1.3v2.67h-1.3z"/><path fill="#00fff9" d="M127.29 224.44h1.3v2.67h-1.3zm123.58 5.79h1.3v2.67h-1.3z"/><path fill="#08ff00" d="M131.87 224.44h1.3v2.67h-1.3z"/><path fill="#00ff42" d="M136.44 224.44h1.3v2.67h-1.3zm32.04 12.01h1.3v2.67h-1.3z"/><path fill="#00ff7c" d="M141.02 224.44h1.3v2.67h-1.3zm18.31 12.01h1.3v2.67h-1.3z"/><path fill="#00ff5b" d="M145.6 224.44h1.3v2.67h-1.3zm27.46 0h1.3v2.67h-1.3zm41.19 12.01h1.3v2.67h-1.3zm219.7 7.12h1.3v2.67h-1.3z"/><path fill="#00ff38" d="M150.17 224.44h1.3v2.67h-1.3zm-50.35 5.79h1.3v2.67h-1.3zm329.54 6.23h1.3v2.67h-1.3z"/><path fill="#00ffaa" d="M154.75 224.44h1.3v2.67h-1.3zm329.54 19.13h1.3v2.67h-1.3z"/><path fill="#00fff5" d="M159.33 224.44h1.3v2.67h-1.3zm196.81 5.79h1.3v2.67h-1.3zm-169.35 6.23h1.3v2.67h-1.3z"/><path fill="#00ff1b" d="M163.91 224.44h1.3v2.67h-1.3zm-27.46 5.79h1.3v2.67h-1.3zm210.54 0h1.3v2.67h-1.3zm-86.96 13.35h1.3v2.67h-1.3z"/><path fill="#00ff36" d="M168.48 224.44h1.3v2.67h-1.3zm91.54 0h1.3v2.67h-1.3zm160.19 5.79h1.3v2.67h-1.3zm50.35 6.23h1.3v2.67h-1.3z"/><path fill="#00ff14" d="M177.64 224.44h1.3v2.67h-1.3z"/><path fill="#00ff52" d="M182.21 224.44h1.3v2.67h-1.3zm265.47 5.79h1.3v2.67h-1.3z"/><path fill="#0eff00" d="M186.79 224.44h1.3v2.67h-1.3zm279.2 0h1.3v2.67h-1.3zm-32.04 5.79h1.3v2.67h-1.3z"/><path fill="#00ffd0" d="M191.37 224.44h1.3v2.67h-1.3z"/><path fill="#00ff51" d="M195.94 224.44h1.3v2.67h-1.3zm32.04 5.79h1.3v2.67h-1.3zm187.66 0h1.3v2.67h-1.3zm-292.93 6.23h1.3v2.67h-1.3zm224.27 7.12h1.3v2.67h-1.3z"/><path fill="#00ff62" d="M200.52 224.44h1.3v2.67h-1.3z"/><path fill="#00ff80" d="M205.1 224.44h1.3v2.67h-1.3zm41.19 5.79h1.3v2.67h-1.3z"/><path fill="#00ff49" d="M209.67 224.44h1.3v2.67h-1.3zm137.31 0h1.3v2.67h-1.3z"/><path fill="#00ffc0" d="M214.25 224.44h1.3v2.67h-1.3z"/><path fill="#00ff18" d="M218.83 224.44h1.3v2.67h-1.3zm105.27 5.79h1.3v2.67h-1.3zm137.31 0h1.3v2.67h-1.3zm-324.97 6.23h1.3v2.67h-1.3zm32.04 7.12h1.3v2.67h-1.3z"/><path fill="#00ff09" d="M223.41 224.44h1.3v2.67h-1.3zm68.66 12.01h1.3v2.67h-1.3zm-41.19 7.12h1.3v2.67h-1.3z"/><path fill="#00ff65" d="M232.56 224.44h1.3v2.67h-1.3zm59.5 0h1.3v2.67h-1.3z"/><path fill="#00ffa9" d="M237.14 224.44h1.3v2.67h-1.3z"/><path fill="#00f4ff" d="M241.71 224.44h1.3v2.67h-1.3z"/><path fill="#00ff02" d="M246.29 224.44h1.3v2.67h-1.3zm160.19 0h1.3v2.67h-1.3zm-265.47 5.79h1.3v2.67h-1.3z"/><path fill="#00ff6e" d="M250.87 224.44h1.3v2.67h-1.3zm-73.23 12.01h1.3v2.67h-1.3z"/><path fill="#00ffd2" d="M264.6 224.44h1.3v2.67h-1.3z"/><path fill="#00ff01" d="M269.18 224.44h1.3v2.67h-1.3zm205.97 5.79h1.3v2.67h-1.3zm-22.89 6.23h1.3v2.67h-1.3zm-297.5 7.12h1.3v2.67h-1.3z"/><path fill="#00ffca" d="M273.75 224.44h1.3v2.67h-1.3zm178.5 0h1.3v2.67h-1.3z"/><path fill="#00e5ff" d="M278.33 224.44h1.3v2.67h-1.3zm59.5 0h1.3v2.67h-1.3zm-187.66 5.79h1.3v2.67h-1.3z"/><path fill="#00ffd3" d="M282.91 224.44h1.3v2.67h-1.3z"/><path fill="#00ff84" d="M287.48 224.44h1.3v2.67h-1.3z"/><path fill="#00ff00" d="M296.64 224.44h1.3v2.67h-1.3zm-9.15 5.79h1.3v2.67h-1.3z"/><path fill="#00ff30" d="M301.22 224.44h1.3v2.67h-1.3z"/><path fill="#00ff87" d="M305.79 224.44h1.3v2.67h-1.3zm187.66 5.79h1.3v2.67h-1.3z"/><path fill="#00e0ff" d="M310.37 224.44h1.3v2.67h-1.3zm119 0h1.3v2.67h-1.3zm-164.77 19.13h1.3v2.67h-1.3z"/><path fill="#00ffe9" d="M314.95 224.44h1.3v2.67h-1.3zm-119 5.79h1.3v2.67h-1.3zm128.16 6.23h1.3v2.67h-1.3zm-224.27 7.12h1.3v2.67h-1.3z"/><path fill="#11ff00" d="M319.52 224.44h1.3v2.67h-1.3z"/><path fill="#00ff67" d="M324.1 224.44h1.3v2.67h-1.3zm-86.96 12.01h1.3v2.67h-1.3z"/><path fill="#00ff32" d="M328.68 224.44h1.3v2.67h-1.3zm187.66 5.79h1.3v2.67h-1.3zm-91.54 13.35h1.3v2.67h-1.3z"/><path fill="#00ebff" d="M333.25 224.44h1.3v2.67h-1.3zm9.15 12.01h1.3v2.67h-1.3z"/><path fill="#00ff0e" d="M342.41 224.44h1.3v2.67h-1.3zm169.35 0h1.3v2.67h-1.3z"/><path fill="#00ff98" d="M351.56 224.44h1.3v2.67h-1.3z"/><path fill="#00ff93" d="M356.14 224.44h1.3v2.67h-1.3zm-22.88 19.13h1.3v2.67h-1.3z"/><path fill="#00f6ff" d="M360.72 224.44h1.3v2.67h-1.3zm-196.81 12.01h1.3v2.67h-1.3z"/><path fill="#00ffe2" d="M365.29 224.44h1.3v2.67h-1.3z"/><path fill="#00e2ff" d="M369.87 224.44h1.3v2.67h-1.3z"/><path fill="#00ff0f" d="M374.45 224.44h1.3v2.67h-1.3z"/><path fill="#00ff66" d="M379.02 224.44h1.3v2.67h-1.3zm-64.08 5.79h1.3v2.67h-1.3zm-105.27 13.35h1.3v2.67h-1.3z"/><path fill="#00fffb" d="M383.6 224.44h1.3v2.67h-1.3zm-251.73 19.13h1.3v2.67h-1.3z"/><path fill="#00ff26" d="M388.18 224.44h1.3v2.67h-1.3zm128.16 0h1.3v2.67h-1.3zm-160.2 12.01h1.3v2.67h-1.3z"/><path fill="#00ffd5" d="M392.75 224.44h1.3v2.67h-1.3z"/><path fill="#00edff" d="M397.33 224.44h1.3v2.67h-1.3zm-215.12 5.79h1.3v2.67h-1.3z"/><path fill="#00ff47" d="M401.91 224.44h1.3v2.67h-1.3zm-128.16 19.13h1.3v2.67h-1.3z"/><path fill="#00ff17" d="M415.64 224.44h1.3v2.67h-1.3zm-114.42 5.79h1.3v2.67h-1.3zm32.04 0h1.3v2.67h-1.3z"/><path fill="#00ffd8" d="M420.22 224.44h1.3v2.67h-1.3z"/><path fill="#00f7ff" d="M424.79 224.44h1.3v2.67h-1.3z"/><path fill="#00ffa0" d="M433.95 224.44h1.3v2.67h-1.3z"/><path fill="#00ff29" d="M438.52 224.44h1.3v2.67h-1.3z"/><path fill="#00ff5f" d="M443.1 224.44h1.3v2.67h-1.3zm-302.08 12.01h1.3v2.67h-1.3z"/><path fill="#00ff0c" d="M447.68 224.44h1.3v2.67h-1.3zm-265.47 12.01h1.3v2.67h-1.3z"/><path fill="#00ff94" d="M456.83 224.44h1.3v2.67h-1.3zm-201.39 5.79h1.3v2.67h-1.3z"/><path fill="#00ffb3" d="M461.41 224.44h1.3v2.67h-1.3z"/><path fill="#07ff00" d="M470.56 224.44h1.3v2.67h-1.3zm-77.81 19.13h1.3v2.67h-1.3z"/><path fill="#00ff86" d="M475.14 224.44h1.3v2.67h-1.3z"/><path fill="#00ff6d" d="M479.72 224.44h1.3v2.67h-1.3zm-178.5 12.01h1.3v2.67h-1.3zm-82.39 7.12h1.3v2.67h-1.3z"/><path fill="#00ff95" d="M484.3 224.44h1.3v2.67h-1.3z"/><path fill="#00ff25" d="M488.87 224.44h1.3v2.67h-1.3zm-393.62 12.01h1.3v2.67h-1.3zm311.24 0h1.3v2.67h-1.3zm-18.31 7.12h1.3v2.67h-1.3z"/><path fill="#00e7ff" d="M493.45 224.44h1.3v2.67h-1.3zm-302.08 19.13h1.3v2.67h-1.3z"/><path fill="#00efff" d="M498.03 224.44h1.3v2.67h-1.3zm-201.39 5.79h1.3v2.67h-1.3zm-64.08 6.23h1.3v2.67h-1.3zm50.35 7.12h1.3v2.67h-1.3z"/><path fill="#00ff74" d="M502.6 224.44h1.3v2.67h-1.3zm-196.81 12.01h1.3v2.67h-1.3zm164.77 7.12h1.3v2.67h-1.3z"/><path fill="#00ffba" d="M507.18 224.44h1.3v2.67h-1.3zm-306.66 19.13h1.3v2.67h-1.3z"/><path fill="#00ff53" d="M95.25 230.22h1.3v2.67h-1.3z"/><path fill="#00ff31" d="M104.4 230.22h1.3v2.67h-1.3zm393.62 6.23h1.3v2.67h-1.3z"/><path fill="#00ff1d" d="M108.98 230.22h1.3v2.67h-1.3z"/><path fill="#00ffee" d="M118.13 230.22h1.3v2.67h-1.3z"/><path fill="#00ff41" d="M122.71 230.22h1.3v2.67h-1.3zm265.47 0h1.3v2.67h-1.3zm-36.62 13.35h1.3v2.67h-1.3z"/><path fill="#00fff2" d="M127.29 230.22h1.3v2.67h-1.3z"/><path fill="#00ff6b" d="M131.87 230.22h1.3v2.67h-1.3zm242.58 13.35h1.3v2.67h-1.3z"/><path fill="#00ff22" d="M145.6 230.22h1.3v2.67h-1.3z"/><path fill="#00ff7e" d="M154.75 230.22h1.3v2.67h-1.3zm173.93 6.23h1.3v2.67h-1.3z"/><path fill="#00ffe7" d="M159.33 230.22h1.3v2.67h-1.3zm73.23 13.35h1.3v2.67h-1.3z"/><path fill="#12ff00" d="M163.91 230.22h1.3v2.67h-1.3z"/><path fill="#00fff1" d="M168.48 230.22h1.3v2.67h-1.3zm141.89 0h1.3v2.67h-1.3z"/><path fill="#00ffbb" d="M173.06 230.22h1.3v2.67h-1.3z"/><path fill="#00ff7f" d="M177.64 230.22h1.3v2.67h-1.3zm215.12 0h1.3v2.67h-1.3zm-27.46 13.35h1.3v2.67h-1.3z"/><path fill="#00ff08" d="M186.79 230.22h1.3v2.67h-1.3zm270.04 6.23h1.3v2.67h-1.3z"/><path fill="#00ff3e" d="M191.37 230.22h1.3v2.67h-1.3zm41.19 0h1.3v2.67h-1.3zm238 0h1.3v2.67h-1.3z"/><path fill="#00f3ff" d="M205.1 230.22h1.3v2.67h-1.3zm114.43 6.23h1.3v2.67h-1.3z"/><path fill="#00ff44" d="M209.67 230.22h1.3v2.67h-1.3zm151.04 6.23h1.3v2.67h-1.3z"/><path fill="#00ffc2" d="M214.25 230.22h1.3v2.67h-1.3z"/><path fill="#00e6ff" d="M218.83 230.22h1.3v2.67h-1.3z"/><path fill="#00feff" d="M223.41 230.22h1.3v2.67h-1.3zm45.77 0h1.3v2.67h-1.3zm178.5 6.23h1.3v2.67h-1.3z"/><path fill="#00ff8f" d="M237.14 230.22h1.3v2.67h-1.3zm205.96 0h1.3v2.67h-1.3zm50.35 6.23h1.3v2.67h-1.3z"/><path fill="#00ff3d" d="M241.71 230.22h1.3v2.67h-1.3z"/><path fill="#00ff76" d="M260.02 230.22h1.3v2.67h-1.3zm-77.81 13.35h1.3v2.67h-1.3z"/><path fill="#01ff00" d="M264.6 230.22h1.3v2.67h-1.3zm-105.27 13.35h1.3v2.67h-1.3z"/><path fill="#00f5ff" d="M273.75 230.22h1.3v2.67h-1.3zm151.04 6.23h1.3v2.67h-1.3z"/><path fill="#00ff50" d="M278.33 230.22h1.3v2.67h-1.3zm-178.5 6.23h1.3v2.67h-1.3z"/><path fill="#0bff00" d="M282.91 230.22h1.3v2.67h-1.3z"/><path fill="#00ff2f" d="M292.06 230.22h1.3v2.67h-1.3z"/><path fill="#00ff33" d="M305.79 230.22h1.3v2.67h-1.3zm160.2 13.35h1.3v2.67h-1.3z"/><path fill="#00eaff" d="M319.52 230.22h1.3v2.67h-1.3zm22.88 13.35h1.3v2.67h-1.3z"/><path fill="#00ff2b" d="M328.68 230.22h1.3v2.67h-1.3zm160.2 6.23h1.3v2.67h-1.3zm-274.62 7.12h1.3v2.67h-1.3z"/><path fill="#00ff21" d="M337.83 230.22h1.3v2.67h-1.3zm100.69 13.35h1.3v2.67h-1.3z"/><path fill="#00ffae" d="M342.41 230.22h1.3v2.67h-1.3z"/><path fill="#00ffb8" d="M351.56 230.22h1.3v2.67h-1.3zm105.27 13.35h1.3v2.67h-1.3z"/><path fill="#00ff77" d="M360.72 230.22h1.3v2.67h-1.3zm-219.7 13.35h1.3v2.67h-1.3z"/><path fill="#00ffa4" d="M369.87 230.22h1.3v2.67h-1.3z"/><path fill="#00ff45" d="M374.45 230.22h1.3v2.67h-1.3z"/><path fill="#00ffbd" d="M383.6 230.22h1.3v2.67h-1.3z"/><path fill="#00ff27" d="M397.33 230.22h1.3v2.67h-1.3zm-86.96 6.23h1.3v2.67h-1.3z"/><path fill="#00ffa2" d="M401.91 230.22h1.3v2.67h-1.3z"/><path fill="#00ff19" d="M406.49 230.22h1.3v2.67h-1.3zm-210.54 13.35h1.3v2.67h-1.3z"/><path fill="#00ff71" d="M411.06 230.22h1.3v2.67h-1.3zm-146.46 6.23h1.3v2.67h-1.3zm-9.15 7.12h1.3v2.67h-1.3z"/><path fill="#00ff5a" d="M424.79 230.22h1.3v2.67h-1.3z"/><path fill="#00ffb4" d="M429.37 230.22h1.3v2.67h-1.3z"/><path fill="#00f8ff" d="M438.52 230.22h1.3v2.67h-1.3z"/><path fill="#00ffeb" d="M456.83 230.22h1.3v2.67h-1.3z"/><path fill="#00ff1c" d="M465.99 230.22h1.3v2.67h-1.3zm-361.58 6.23h1.3v2.67h-1.3z"/><path fill="#00ff23" d="M479.72 230.22h1.3v2.67h-1.3z"/><path fill="#00ff9d" d="M484.3 230.22h1.3v2.67h-1.3z"/><path fill="#00ff3c" d="M488.87 230.22h1.3v2.67h-1.3z"/><path fill="#00ff24" d="M498.03 230.22h1.3v2.67h-1.3zm-141.89 13.35h1.3v2.67h-1.3z"/><path fill="#00ff78" d="M502.6 230.22h1.3v2.67h-1.3zm-151.04 6.23h1.3v2.67h-1.3zm-22.88 7.12h1.3v2.67h-1.3zm9.15 0h1.3v2.67h-1.3z"/><path fill="#00ffec" d="M507.18 230.22h1.3v2.67h-1.3zm-91.54 6.23h1.3v2.67h-1.3z"/><path fill="#00ff07" d="M511.76 230.22h1.3v2.67h-1.3zm-357.01 6.23h1.3v2.67h-1.3zm224.27 0h1.3v2.67h-1.3z"/><path fill="#00ff6a" d="M108.98 236.45h1.3v2.67h-1.3zm334.12 0h1.3v2.67h-1.3zm64.08 0h1.3v2.67h-1.3z"/><path fill="#00ff4f" d="M113.56 236.45h1.3v2.67h-1.3zm187.66 7.12h1.3v2.67h-1.3z"/><path fill="#00eeff" d="M118.13 236.45h1.3v2.67h-1.3z"/><path fill="#00ff15" d="M127.29 236.45h1.3v2.67h-1.3z"/><path fill="#00ff2e" d="M131.87 236.45h1.3v2.67h-1.3z"/><path fill="#00ff05" d="M145.6 236.45h1.3v2.67h-1.3z"/><path fill="#00fcff" d="M150.17 236.45h1.3v2.67h-1.3z"/><path fill="#00ff68" d="M173.06 236.45h1.3v2.67h-1.3z"/><path fill="#00ff43" d="M191.37 236.45h1.3v2.67h-1.3z"/><path fill="#00ff72" d="M195.94 236.45h1.3v2.67h-1.3zm224.27 7.12h1.3v2.67h-1.3z"/><path fill="#00ff57" d="M200.52 236.45h1.3v2.67h-1.3zm45.77 7.12h1.3v2.67h-1.3z"/><path fill="#00fff7" d="M209.67 236.45h1.3v2.67h-1.3z"/><path fill="#00ff0a" d="M218.83 236.45h1.3v2.67h-1.3z"/><path fill="#00ffe3" d="M223.41 236.45h1.3v2.67h-1.3z"/><path fill="#00deff" d="M227.98 236.45h1.3v2.67h-1.3zm9.15 7.12h1.3v2.67h-1.3z"/><path fill="#0dff00" d="M241.71 236.45h1.3v2.67h-1.3zm270.04 7.12h1.3v2.67h-1.3z"/><path fill="#00e8ff" d="M246.29 236.45h1.3v2.67h-1.3zm123.58 0h1.3v2.67h-1.3z"/><path fill="#10ff00" d="M250.87 236.45h1.3v2.67h-1.3z"/><path fill="#00ff55" d="M255.45 236.45h1.3v2.67h-1.3z"/><path fill="#00fffe" d="M260.02 236.45h1.3v2.67h-1.3z"/><path fill="#00ffcf" d="M269.18 236.45h1.3v2.67h-1.3z"/><path fill="#00ff2c" d="M273.75 236.45h1.3v2.67h-1.3z"/><path fill="#00ff54" d="M278.33 236.45h1.3v2.67h-1.3z"/><path fill="#00ffa3" d="M282.91 236.45h1.3v2.67h-1.3z"/><path fill="#00ffb5" d="M287.48 236.45h1.3v2.67h-1.3z"/><path fill="#00ff20" d="M296.64 236.45h1.3v2.67h-1.3z"/><path fill="#0cff00" d="M314.95 236.45h1.3v2.67h-1.3zm146.46 0h1.3v2.67h-1.3zm50.35 0h1.3v2.67h-1.3z"/><path fill="#00ff5c" d="M333.25 236.45h1.3v2.67h-1.3z"/><path fill="#00ffc8" d="M346.99 236.45h1.3v2.67h-1.3z"/><path fill="#00ff69" d="M374.45 236.45h1.3v2.67h-1.3z"/><path fill="#02ff00" d="M383.6 236.45h1.3v2.67h-1.3zm54.92 0h1.3v2.67h-1.3zm-36.62 7.12h1.3v2.67h-1.3z"/><path fill="#00ff7d" d="M388.18 236.45h1.3v2.67h-1.3zm22.88 0h1.3v2.67h-1.3zm-187.66 7.12h1.3v2.67h-1.3zm86.96 0h1.3v2.67h-1.3z"/><path fill="#00ff04" d="M392.75 236.45h1.3v2.67h-1.3zm-86.96 7.12h1.3v2.67h-1.3zm77.81 0h1.3v2.67h-1.3z"/><path fill="#05ff00" d="M397.33 236.45h1.3v2.67h-1.3z"/><path fill="#00ff73" d="M401.91 236.45h1.3v2.67h-1.3z"/><path fill="#00ff4c" d="M420.22 236.45h1.3v2.67h-1.3zm-100.69 7.12h1.3v2.67h-1.3z"/><path fill="#00ff16" d="M433.95 236.45h1.3v2.67h-1.3zm68.66 7.12h1.3v2.67h-1.3z"/><path fill="#00ff48" d="M465.99 236.45h1.3v2.67h-1.3zm-343.28 7.12h1.3v2.67h-1.3zm119 0h1.3v2.67h-1.3z"/><path fill="#00ff7b" d="M475.14 236.45h1.3v2.67h-1.3zm-183.08 7.12h1.3v2.67h-1.3z"/><path fill="#00ffdc" d="M479.72 236.45h1.3v2.67h-1.3zm-164.77 7.12h1.3v2.67h-1.3z"/><path fill="#00ffa1" d="M484.3 236.45h1.3v2.67h-1.3z"/><path fill="#00ff5d" d="M502.6 236.45h1.3v2.67h-1.3z"/><path fill="#00ffe5" d="M516.33 236.45h1.3v2.67h-1.3z"/><path fill="#00ff61" d="M95.25 243.57h1.3v2.67h-1.3z"/><path fill="#06ff00" d="M104.4 243.57h1.3v2.67h-1.3zm59.5 0h1.3v2.67h-1.3z"/><path fill="#00ff60" d="M108.98 243.57h1.3v2.67h-1.3z"/><path fill="#00ff8b" d="M113.56 243.57h1.3v2.67h-1.3z"/><path fill="#00ffe4" d="M118.13 243.57h1.3v2.67h-1.3z"/><path fill="#00ff75" d="M127.29 243.57h1.3v2.67h-1.3zm59.5 0h1.3v2.67h-1.3z"/><path fill="#00e4ff" d="M136.44 243.57h1.3v2.67h-1.3zm352.43 0h1.3v2.67h-1.3z"/><path fill="#00ff4b" d="M145.6 243.57h1.3v2.67h-1.3z"/><path fill="#00ff59" d="M150.17 243.57h1.3v2.67h-1.3z"/><path fill="#00ff63" d="M173.06 243.57h1.3v2.67h-1.3z"/><path fill="#00ff58" d="M177.64 243.57h1.3v2.67h-1.3z"/><path fill="#00ff39" d="M227.98 243.57h1.3v2.67h-1.3z"/><path fill="#00ffc5" d="M278.33 243.57h1.3v2.67h-1.3z"/><path fill="#00ff88" d="M296.64 243.57h1.3v2.67h-1.3z"/><path fill="#00dbff" d="M324.1 243.57h1.3v2.67h-1.3z"/><path fill="#0aff00" d="M360.72 243.57h1.3v2.67h-1.3z"/><path fill="#00ff3a" d="M369.87 243.57h1.3v2.67h-1.3z"/><path fill="#00ffcb" d="M379.02 243.57h1.3v2.67h-1.3z"/><path fill="#00ff13" d="M397.33 243.57h1.3v2.67h-1.3z"/><path fill="#00dfff" d="M411.06 243.57h1.3v2.67h-1.3z"/><path fill="#00ffd4" d="M415.64 243.57h1.3v2.67h-1.3z"/><path fill="#00ff6c" d="M429.37 243.57h1.3v2.67h-1.3z"/><path fill="#00ff34" d="M447.68 243.57h1.3v2.67h-1.3z"/><path fill="#00e9ff" d="M452.26 243.57h1.3v2.67h-1.3z"/><path fill="#00ff2a" d="M461.41 243.57h1.3v2.67h-1.3z"/><path fill="#00ff9f" d="M475.14 243.57h1.3v2.67h-1.3z"/><path fill="#00ff12" d="M479.72 243.57h1.3v2.67h-1.3z"/><path fill="#00ffb9" d="M493.45 243.57h1.3v2.67h-1.3z"/><path fill="#00e1ff" d="M498.03 243.57h1.3v2.67h-1.3z"/><path fill="#00fffd" d="M507.18 243.57h1.3v2.67h-1.3z"/><path fill="#00ffcc" d="M516.33 243.57h1.3v2.67h-1.3z"/><svg x="92" y="337" width="428" height="73" viewBox="0 0 214 73" preserveAspectRatio="none" fill="none" stroke-width="1"><path stroke="#00c4ff" d="M.5 0v9m0 7v4m1-16v5m0 4v7m2 33v4m1-41v4m0 7v3m1-30v13m0 3v11m1-18v4m0 3v4m1 31v2m1-40v3m0 35v2m1-40v3m1 37v2m2-55v4m0 47v2m1-44v18m1-11v4m1 0v7m4-11v8m0 27v2m1-37v14m1-14v8m0 25v2m5-51v4m0 5v7m0 8v6m1-10v7m1-11v8m1 29v2m1-55v9m0 15v3m1-14v3m0 35v2m1-53v4m3 65v1m1-66v16m1-16v5m1-9v4m0 9v3m2 35v2m1-2v2m1-40v3m0 4v10m2-30v4m0 9v3m0 35v2m2-44v4m1-13v9m1 7v4m0 4v3m1-23v12m0 4v4m0 3v3m2-21v4m0 7v10m2 21v2m2-26v3m1-17v11m1-11v3m0 4v4m1-11v3m1-7v7m1-7v7m0 8v3m1-14v3m1 11v3m1 0v3m0 16v2m1-35v11m1-27v9m0 4v17m1-14v4m0 35v2m1-53v12m0 20v3m0 16v2m1-57v4m0 9v3m0 37v2m1-55v4m0 5v4m0 23v6m1-42v4m0 9v17m1-14v8m0 3v9m1-3v3m0 3v3m0 13v2m1-41v11m0 3v6m0 19v2m1-41v17m0 3v6m1-29v3m0 20v3m0 16v2m1-57v4m0 5v4m0 14v3m1-30v4m0 9v3m0 26v2m1-40v5m0 4v3m0 26v2m1-24v7m0 3v12m1-12v9m1-26v7m0 10v3m0 3v3m1-23v4m0 4v6m0 3v3m1-36v16m0 28v3m1-34v7m0 10v3m0 9v2m1-44v9m0 4v3m0 11v3m0 14v3m0 8v2m1-57v9m0 4v3m1 0v11m0 3v6m0 3v3m1-15v6m0 3v6m1-15v3m0 3v6m1-26v3m0 4v7m0 6v3m1-20v4m0 10v6m0 6v2m1-28v8m0 3v6m0 6v5m1-44v4m0 5v18m1 6v11m1-31v7m0 4v6m0 6v6m1-42v4m0 12v11m1-7v4m0 3v6m0 26v2m1-61v4m0 16v4m0 12v3m0 3v5m1-38v7m0 8v6m0 6v8m1-28v14m0 3v3m0 3v3m0 13v2m1-41v4m0 4v6m1-21v4m0 7v4m0 25v2m1-51v4m0 9v3m0 8v6m1 23v2m1-39v4m0 33v2m2-39v4m0 7v3m1-17v14m1-14v3m0 11v3m0 3v3m1-23v7m0 4v3m0 3v6m0 17v2m1-31v3m1 3v6m0 15v2m1 11v2m1-62v5m0 4v3m0 4v10m0 21v2m1-33v7m1-14v3m0 8v9m1-17v14m0 25v2m1-37v7m1-27v4m0 12v4m0 10v6m1-20v4m0 7v3m0 29v2m1-2v2m0 8v1m1-43v3m1-14v4m0 4v6m0 27v2m3-46v3m0 8v6m0 23v2m1-31v3m1-27v20m0 4v3m0 3v3m1-17v8m0 3v3m1 23v2m1-55v9m0 4v14m1-23v5m1-9v9m0 11v4m2-15v15m0 3v3m1-30v4m0 9v11m0 27v2m1-29v3m0 22v2m2-38v3m1-16v13m0 3v8m0 6v3m1-33v16m1 4v4m0 31v2m1-48v4m0 3v14m0 25v2m1-41v14m0 23v2m1-55v4m0 9v11m0 3v6m1-13v4m0 31v2m2-57v9m0 7v8m1-8v4m1-20v4m0 5v7m0 8v6m0 25v2m1-44v7m0 37v2m1-46v3m0 4v4m0 3v3m0 23v2m1-46v4m0 3v4m0 4v3m0 3v3m1-33v13m0 14v3m0 19v4m1-29v3m0 22v2m1-31v4m0 27v2m1-49v9m0 3v4m0 35v2m1 13v2m1-72v4m0 12v4m0 7v6m1-17v4m0 7v3m1-10v4m0 31v2m1-48v7m0 14v3m1-13v4m0 3v3m0 3v3m1-16v4m1-24v9m0 21v3m0 20v2m1-51v5m0 4v11m0 6v3m0 18v2m1-53v9m0 11v7m1-11v4m0 31v2m2-53v4m0 5v11m3-20v27m0 24v2m1-40v7m0 4v3m0 3v3m0 16v2m1-27v3m0 24v2m1-49v9m0 3v8m0 3v6m1-17v4m1-4v8m0 27v4m2-39v4m1 35v2m1-44v7m0 4v3m1-23v16m0 4v6m1-30v4m0 9v17m1-17v7m0 7v3m0 23v2m1-39v4m0 4v3m1-27v13m0 11v3m2-27v4m0 5v18m1-27v4m0 9v7m0 35v2m1-41v4m0 4v3m0 24v2m1-40v3m0 4v4m0 31v2m1-37v4m1-24v16m0 17v3m0 15v2m1-44v4m0 3v4m0 7v6m0 18v2m1-33v4m1-20v5m0 4v3m2 0v4m1-20v13m0 20v6m0 12v2m1-40v7m0 16v3m1-15v9m0 3v6m1-33v4m0 23v6m0 13v2m1-41v8m0 6v3m1-17v8m0 6v3m1-20v3m0 4v4m0 3v6m1 22v2m1-53v5m0 15v15m1-30v4m0 3v4m0 7v12m0 14v2m1-35v13m1-29v5m0 4v14m0 3v6m0 17v2m1-35v13m0 3v3m0 14v2m1-42v26m0 14v2"/><path stroke="#00dcff" d="M.5 9v4m0 7v7m0 22v2m1-51v4m0 5v4m0 7v7m0 22v2m1-42v4m0 7v4m0 25v2m1-42v4m0 3v8m0 27v2m1-49v12m0 4v7m1-14v3m0 11v3m1-26v5m0 11v4m0 29v2m2-51v9m0 3v11m1-27v4m0 5v4m0 3v8m0 27v2m2-2v2m1-49v5m0 7v4m1-20v9m0 18v3m1-26v5m0 11v13m1-20v7m0 10v3m0 16v2m1-35v8m0 27v2m1-53v20m0 29v2m1-51v27m1-23v5m0 4v3m0 8v3m1-27v4m1 0v5m0 4v3m0 8v3m1-18v4m0 3v14m0 19v2m1-35v4m1-11v4m1 3v4m0 31v2m1-49v5m0 21v3m0 16v2m1-35v4m1 4v9m1-20v11m0 27v2m1-44v7m0 4v4m1-20v5m0 7v4m1-16v9m1-13v9m0 7v8m1-11v7m1-7v7m0 31v2m1-53v4m0 16v7m0 26v2m1-55v4m0 5v11m1-16v9m0 3v4m1 31v2m1-49v5m0 4v3m0 4v4m1-15v7m0 8v3m1-27v13m0 17v3m0 16v2m1-51v4m0 16v4m0 3v3m0 19v2m1-47v5m0 11v10m1-26v5m0 7v4m0 31v2m1-53v9m0 7v4m1-11v11m0 33v2m1-42v3m0 4v4m0 3v3m0 21v2m1-53v4m0 20v3m1-11v8m1 6v3m0 14v2m1-49v24m1-24v4m0 12v4m1-20v4m0 9v7m0 4v3m0 24v2m1-44v4m0 20v3m1-36v9m0 18v6m0 20v2m1-51v5m0 7v4m0 4v6m1-30v4m0 5v4m0 3v8m0 3v3m1-14v11m0 22v2m1-51v9m0 7v8m0 3v3m1-30v4m0 5v4m0 3v14m1-26v16m0 4v3m1-14v3m0 4v4m0 3v3m1-30v4m0 5v4m0 14v3m2-30v4m0 5v4m0 7v7m0 6v3m2-32v9m1-9v5m1-5v5m0 30v3m1-33v7m0 20v3m0 18v2m1-43v17m0 3v3m1-30v7m0 20v3m1 16v2m1-57v13m1 42v2m1-53v5m1 0v4m1-13v4m0 12v4m0 22v2m1-24v10m0 9v3m0 15v2m2-59v16m0 39v2m1-2v2m1-48v4m0 31v3m1-38v4m1-4v4m0 31v3m1-47v4m0 9v3m0 11v3m0 27v2m1-43v11m0 15v2m1-28v11m0 15v2m2-44v4m0 5v7m0 8v6m1-26v12m2-12v9m0 7v7m0 3v3m1-33v4m0 5v4m0 7v4m0 6v6m1-32v5m0 21v6m0 8v3m1-38v11m1-16v12m0 41v2m1-59v4m0 53v2m1-50v4m0 17v3m0 3v3m1-19v4m0 9v6m1-35v5m0 4v3m0 8v9m2-17v8m1-20v9m0 7v4m0 3v3m0 3v3m1-23v14m0 3v3m1-33v4m0 5v4m0 17v6m1-27v4m0 20v6m1-35v5m0 11v4m0 6v3m0 3v3m0 12v2m1-53v9m0 11v4m0 12v3m0 12v2m1-37v8m0 3v9m0 17v2m1-55v4m0 32v3m1-19v4m1 6v3m1-33v16m0 11v6m0 18v2m1-53v13m0 20v3m1-27v7m0 14v6m0 17v2m1-55v16m0 11v9m1-23v3m1-12v5m0 11v4m0 6v3m1-17v11m0 3v3m0 24v2m1-59v9m0 7v11m0 3v3m0 24v2m1-59v16m0 4v4m0 6v3m0 22v2m1-41v11m0 3v3m0 20v2m1-51v5m0 7v8m0 3v3m0 23v2m1-46v4m0 17v3m1-24v15m0 3v3m0 3v3m2-23v3m0 8v3m0 24v2m1-49v5m0 7v11m1-18v4m0 38v2m1-40v14m1-14v7m1-4v8m1 6v3m0 18v2m1-49v9m0 11v6m1-17v11m1-20v5m0 11v10m0 19v2m1-51v4m0 12v8m0 25v2m1-38v3m0 33v2m1-21v3m1-33v4m0 20v9m1-33v4m0 9v3m0 17v3m1-27v7m0 14v6m1-32v9m0 11v3m0 24v2m1-44v4m0 3v4m0 4v3m1-11v4m1 4v3m1-27v4m0 5v7m0 4v10m1-26v5m0 21v6m1-32v5m0 15v9m1-17v4m0 4v3m0 3v3m1-6v3m0 3v3m0 13v2m1-21v3m1-33v4m0 5v7m0 11v6m1-33v4m0 5v11m0 4v3m0 22v2m1-51v4m0 9v3m0 4v4m1-8v4m1-16v9m0 20v3m1-16v7m0 3v3m1-20v7m0 4v12m1-32v5m0 24v3m1-6v3m1-20v7m0 7v6m0 18v2m1-20v3m1-36v4m1 47v2m1-40v3m0 4v10m0 19v2m2-31v4m0 25v2m1-51v4m0 5v4m0 3v11m0 24v2m1-37v8m0 25v2m1-24v6m1-13v4m0 3v3m0 3v3m1-32v5m0 4v3m0 4v4m0 3v6m1-33v4m0 9v3m0 35v2m1-53v4m0 9v3m0 4v10m0 3v3m1-36v9m0 4v3m0 8v6m1-26v5m0 7v4m1-20v16m0 4v7m0 24v2m1-37v4m1-20v9m0 11v4m0 3v9m0 15v2m1-23v3m0 20v2m1-51v9m0 17v3m0 18v2m1-53v9m0 11v7m1-27v4m0 9v3m0 4v4m1 3v3m0 21v2m1-44v7m0 4v4m0 25v2m1-4v2m1-45v9m0 7v4m0 29v2m1-55v16m0 4v4m0 3v6m1-33v13m0 3v4m0 4v3m0 26v2m1-42v7m0 4v12m1 0v3m1-39v9m1 7v4m0 4v9m0 18v2m1-37v4m0 4v3m1-11v11m1-27v9m0 4v3m0 4v10m0 17v2m2-49v4m0 5v4m0 26v3m1-33v7m0 4v4m0 9v3m0 17v2m2-22v6m1-35v5m0 4v3m0 17v3m0 3v3m0 11v2m1-55v13m0 11v3m0 6v3m1-23v7m0 7v6m1-33v4m0 5v4m1-9v5m0 30v3m1-33v7m0 17v3m0 19v2m1-57v4m0 32v3m1-39v9m0 4v7m1-11v4"/><path stroke="#008dff" d="M.5 13v3m0 35v4m0 4v2m0 3v2m1-15v2m0 13v3m1-6v1m0 3v6m1-16v12m0 3v1m1-22v2m0 2v2m0 2v2m0 2v6m0 3v1m1-22v6m0 6v1m0 2v3m1-14v4m0 4v4m0 3v3m1-20v6m0 2v2m0 1v5m1-69v4m0 49v2m0 8v1m0 2v1m1-14v6m0 2v2m0 1v2m1-11v14m0 1v2m1-19v2m0 4v8m0 2v1m1-17v4m0 2v2m0 3v2m0 3v4m1-22v4m0 4v2m1-48v3m0 35v4m0 2v2m0 2v6m0 3v3m1-22v2m0 2v2m0 2v4m0 4v2m0 1v2m1-19v6m0 2v6m0 2v4m1-16v7m0 2v3m1-18v2m0 4v2m0 5v2m0 6v1m1-20v8m0 3v3m0 2v4m1-22v8m0 2v2m0 1v2m0 1v2m0 1v3m1-22v4m0 4v4m0 1v3m0 5v1m1-22v2m0 4v4m0 3v3m0 2v1m1-19v16m0 2v1m1-19v8m0 4v3m1-13v4m0 2v2m0 3v2m0 3v3m1-56v8m0 27v4m0 2v2m0 4v1m0 5v1m1-21v14m0 1v6m1-21v6m0 2v6m0 1v9m1-18v6m0 2v4m0 2v1m1-19v2m0 2v4m0 4v3m0 1v2m1-16v4m0 4v2m0 1v5m1-18v6m1-6v4m0 8v1m0 6v2m1-19v4m0 6v3m0 4v2m1-19v4m0 9v1m1-12v4m0 2v3m0 6v2m1-19v6m0 2v2m1-12v2m0 10v1m0 6v2m1-19v2m0 2v2m0 2v2m0 3v1m0 5v1m1-20v2m0 2v2m0 5v2m1-13v6m0 2v2m0 1v2m0 1v3m0 2v1m1-57v4m0 31v6m0 2v2m0 8v4m1-57v4m0 31v13m0 6v2m1-56v4m0 33v6m1-6v4m0 2v2m0 2v1m0 2v3m1-18v2m0 2v6m0 3v5m0 1v2m1-17v4m0 4v1m1-11v2m0 2v6m0 1v6m1-54v4m0 31v2m0 11v5m1-16v4m0 7v2m0 1v2m0 1v3m1-73v9m0 4v7m0 29v2m0 2v4m0 2v2m0 9v2m1-23v4m0 2v2m0 2v2m0 3v2m0 3v3m1-23v2m0 2v6m0 2v5m0 1v6m1-20v4m0 2v7m0 1v5m1-72v9m0 4v14m0 3v3m0 18v4m0 2v4m0 6v2m0 1v2m1-48v3m0 28v4m0 2v2m0 1v3m1-14v6m0 2v5m0 3v1m1-19v2m0 2v4m0 7v1m0 2v3m1-21v6m0 9v3m0 3v1m1-24v6m0 4v4m1-12v2m0 8v2m0 1v3m0 3v2m1-52v4m0 25v6m0 2v4m0 2v4m1-51v4m0 33v4m0 2v4m0 3v3m1-18v8m0 7v1m0 2v1m1-19v4m0 2v6m0 1v3m1-40v6m0 26v5m0 2v1m0 3v2m1-72v4m0 12v20m0 28v2m1-50v26m0 13v2m0 2v2m0 8v3m1-59v11m0 3v9m0 21v2m0 2v3m1-34v9m0 16v4m0 10v1m0 2v1m1-49v3m0 40v2m0 3v1m1-16v2m0 2v8m0 1v3m1-46v3m0 9v3m0 15v4m0 2v6m1-56v3m0 17v3m0 21v2m0 2v5m0 6v1m1-57v20m0 3v3m0 15v2m0 7v3m0 1v3m1-60v14m0 3v14m0 15v5m0 8v1m1-57v26m0 15v2m0 5v2m1-50v26m0 15v2m0 8v2m0 1v3m1-16v6m0 3v3m0 1v3m1-14v4m0 1v5m0 1v2m1-52v10m0 3v3m0 3v3m0 15v10m0 3v3m1-53v4m0 6v3m0 3v8m0 15v5m1-48v4m0 7v6m0 9v2m0 22v1m0 5v1m1-69v5m0 11v4m0 3v3m0 3v9m0 15v6m0 3v3m0 1v2m1-56v11m0 3v3m0 3v3m0 3v2m0 17v2m0 4v2m1-53v14m0 3v11m0 11v6m0 2v1m0 5v1m1-34v3m0 25v2m0 1v6m1-16v6m0 1v9m1-16v2m0 2v12m1-57v4m0 7v6m0 3v8m0 13v2m0 4v3m0 1v3m0 2v1m1-37v6m0 15v4m0 11v1m1-49v3m0 6v6m0 18v6m0 3v1m0 2v1m1-66v5m0 18v15m0 17v4m0 1v2m0 6v1m1-57v4m0 37v10m0 3v3m1-31v2m0 13v2m0 2v3m0 2v1m0 3v2m1-45v3m0 6v6m0 15v4m0 2v1m0 8v1m1-49v3m0 6v11m0 17v5m0 1v2m1-53v4m0 4v12m0 23v2m0 8v1m1-54v8m0 6v6m0 23v2m0 2v3m1-24v2m0 13v6m0 1v5m1-39v3m0 20v6m0 2v2m0 1v2m0 1v3m1-54v4m0 31v4m0 2v10m0 2v1m1-66v9m0 3v8m0 27v4m0 8v1m0 2v1m1-12v11m0 1v2m0 1v3m1-16v6m0 1v6m1-15v2m0 4v2m0 3v1m1-63v5m0 4v3m0 4v7m0 26v4m0 2v4m0 1v2m0 4v2m1-45v3m0 21v4m0 2v2m0 2v2m0 3v1m0 2v3m1-56v4m0 4v3m0 28v2m0 6v1m1-37v3m0 31v3m0 2v1m0 2v1m0 2v1m1-18v2m0 4v2m0 1v5m0 1v2m1-68v26m0 23v2m0 9v2m1-15v6m0 4v2m0 3v7m1-57v4m0 33v11m1-48v4m0 33v2m0 2v2m0 4v1m0 2v1m0 5v1m1-57v8m0 29v4m0 2v5m0 2v3m1-8v2m0 7v3m1-18v12m0 3v2m1-52v10m0 25v2m0 12v1m1-9v5m0 1v3m1-9v3m0 3v2m0 1v3m1-14v2m0 2v3m0 1v5m1-13v2m0 8v4m1-18v2m0 6v10m1-12v3m0 2v1m0 3v2m1-56v8m0 31v2m0 4v2m0 6v1m0 2v1m1-22v10m0 5v1m0 2v4m1-53v4m0 3v3m0 29v2m0 8v3m1-15v2m0 2v5m0 3v4m1-18v2m0 4v6m0 2v1m0 2v1m1-20v2m0 2v2m1-8v2m0 4v2m0 4v1m0 6v2m1-21v2m0 2v2m0 2v4m0 1v2m0 3v1m1-17v2m0 2v6m0 3v3m0 3v1m1-69v5m0 15v3m0 26v2m0 4v5m0 3v2m0 1v2m1-19v2m0 9v5m0 1v3m1-22v2m0 4v2m0 2v2m1-12v8m0 5v2m0 4v2m1-21v2m0 4v2m0 5v2m0 1v5m1-48v6m0 21v2m0 2v2m0 2v2m0 2v1m0 6v2m1-56v14m0 25v6m0 9v2m1-15v6m0 1v2m0 1v2m0 3v1m1-16v2m0 4v1m0 2v3m0 3v1m1-18v2m0 2v4m0 6v4m1-20v8m0 3v3m0 5v1m1-10v3m0 6v1m1-22v4m0 11v1m0 2v4m1-64v7m0 41v4m0 2v1m0 3v2m0 3v1m1-16v2m0 2v2m0 4v5m1-56v8m0 35v2m1-2v4m0 1v9m1-18v4m0 5v2m0 6v1m1-73v9m0 11v4m0 27v2m0 6v2m0 3v2m0 1v2m1-56v3m0 4v7m0 26v2m0 15v2m1-56v8m0 29v4m0 4v2m0 3v4m1-17v2m0 4v7m0 3v1m1-13v6m0 1v8m1-19v8m0 2v1m0 3v3m0 2v1m1-60v3m0 4v7m0 26v6m0 2v2m1-8v4m0 2v2m0 1v6m0 2v1m1-16v6m0 1v8m1-56v14m0 23v2m0 14v1m1-54v4m0 4v3m0 26v2m0 2v4m0 3v2m1-13v11m0 2v1m0 2v4m1-64v21m0 25v2m0 2v2m0 2v3m1-57v4m0 11v6m0 3v3m0 17v4m0 10v2m0 1v2m1-63v11m0 7v6m0 20v4m0 2v2m0 6v2m1-16v2m0 6v9m0 2v1m1-24v17m0 1v5m1-17v4m0 7v1m0 2v1m0 2v1m1-20v4m0 2v2m0 3v3m0 2v1m1-19v10m0 3v5m0 1v3m1-20v2m0 9v2m1-15v4m0 2v4m0 2v1m0 2v1m0 2v1m1-15v4m0 7v1m0 3v3m1-49v3m0 26v4m0 7v2m0 3v1m1-21v8m0 9v1m1-12v4m0 4v1m0 2v4m1-19v2m0 2v2m0 2v5m0 3v6m1-20v2m0 2v6m1-6v9m0 4v3m1-20v2m0 6v6m0 2v1m1-70v4m0 16v4m0 31v4m0 5v2m1-13v2m0 4v2m0 5v6m1-15v4m0 2v1m0 2v1m0 3v2m1-19v2m0 2v6m0 1v2m0 1v6m1-60v11m0 29v4m0 4v2m1-12v8m0 2v3m0 2v1m0 2v1m0 2v1m1-69v5m0 40v2m0 8v2m0 3v2m0 1v3m0 2v1m1-14v2m0 3v3m1-3v3m0 2v1m1-11v4m0 3v1m0 3v3m1-22v4m0 2v7m0 2v6m1-56v17m0 20v2m0 2v4m0 6v2m1-56v3m0 4v7m0 26v2m0 2v2m0 2v5m0 3v4m1-20v2m0 2v9m0 1v2m0 1v2m1-19v4m0 2v4m0 3v1m0 5v1m1-24v6m0 4v4m0 3v4m1-21v6m0 4v7m1-53v20m0 20v4m0 4v3m0 3v2m1-65v5m0 11v16m0 17v8m0 8v1m1-54v4m0 35v12m0 3v2m1-72v9m0 15v3m0 3v3m0 24v2m1-35v6m0 27v6m0 1v3m0 5v1m1-49v6m0 6v3m0 16v6m0 2v1m0 2v1m0 3v2m1-56v4m0 35v8m0 9v1m1-16v4m0 2v9m1-59v11m0 33v7m0 3v6m1-60v3m0 4v7m0 28v8m0 4v2m0 3v1m1-57v4m0 37v6m0 3v3m0 3v1m1-46v3m0 25v6m0 2v1m0 2v1m1-12v2m0 2v2m0 2v3m1-9v6m0 3v3m0 1v3"/><path stroke="#00f4ff" d="M.5 27v3m2-30v9m0 7v4m0 4v3m1-23v5m1-9v4m0 45v2m1-21v3m0 16v2m1-51v4m0 9v3m1-16v13m1 36v2m1-47v5m0 15v3m3-18v4m2-13v4m0 45v2m1-51v4m0 5v4m0 14v3m1-21v4m0 11v6m1-10v10m1 19v2m1-51v4m0 5v4m1-9v12m0 14v6m0 13v2m1-51v4m0 23v6m1-29v5m0 4v3m1-3v3m0 11v3m0 19v2m1-47v5m0 4v14m1-7v10m2-26v9m0 14v6m1-33v4m0 5v7m1-16v4m0 20v6m1-14v4m0 7v3m0 19v2m1-51v4m0 5v4m1 0v11m1-15v7m1-7v4m0 7v4m1-24v9m0 11v7m2-7v4m1-4v4m1-24v13m0 3v8m1-24v4m0 12v4m1-4v8m2-15v4m0 11v3m1-18v4m0 17v3m1-33v4m0 5v7m1-3v3m0 4v10m0 19v2m1-31v4m1-24v4m0 5v4m1 17v3m1-33v9m2 15v3m0 20v2m1-36v3m0 4v4m1-20v9m0 7v4m0 3v3m2 3v3m1-36v4m0 5v4m0 17v3m1-29v5m0 15v3m1-27v4m0 23v3m1 0v3m1-29v5m0 21v3m0 16v2m1-21v3m1-33v4m0 5v4m0 11v3m1-23v5m0 4v3m0 14v3m1-24v4m1-9v5m0 4v3m4-7v4m1-13v9m2-5v5m0 33v2m1-44v9m1 33v2m1-40v5m1 0v4m1-13v4m0 51v2m1-48v4m0 14v3m0 25v2m1-48v7m1-7v4m0 29v2m0 11v2m1-13v3m2-47v4m0 51v2m3-53v9m0 29v2m1-35v7m0 17v3m1-36v9m0 4v3m0 14v3m0 6v3m1-42v13m1-9v5m1-9v4m1 38v2m0 13v2m1-59v4m0 9v3m0 11v3m1-26v5m0 35v3m1-38v7m1-16v9m2-5v5m1-9v4m0 9v3m1-12v5m0 4v3m0 23v3m2-12v3m1-9v6m0 21v2m1-53v4m0 20v3m0 24v2m1-44v4m0 14v3m0 23v2m2-55v9m0 21v3m1-24v4m2-4v7m2-12v5m0 4v7m0 4v6m0 3v3m1-36v4m0 5v4m1 20v3m1 15v2m1-49v5m0 27v3m1-23v4m0 33v2m1-46v4m0 23v3m0 14v2m1-55v4m0 9v3m0 8v3m0 6v6m0 18v2m1-46v3m0 11v3m0 3v6m1-30v7m2-12v5m0 4v3m0 11v3m1-21v7m0 14v3m1-33v4m0 29v3m1-32v5m0 21v3m1 0v3m0 15v2m1-53v9m0 21v3m1-20v3m0 11v6m0 18v2m1-26v3m1-30v4m0 5v4m1-4v4m0 11v6m0 19v2m1-42v4m0 11v3m0 22v2m1-51v4m1 26v3m1-33v13m0 14v6m1-33v4m0 5v11m1-16v9m0 11v6m2 23v2m1-51v5m0 4v7m0 13v3m1-32v5m0 21v3m1-33v9m0 27v3m1-6v3m1-36v4m0 9v3m0 37v2m1-35v10m1 25v2m1-53v5m0 21v3m2-33v4m0 5v4m1-13v4m0 5v4m0 20v3m3-32v5m1-5v5m0 18v3m2-30v4m0 5v4m2-13v4m0 5v7m0 17v3m0 17v2m1-51v5m1-9v4m0 32v3m0 12v2m1-53v16m0 20v3m0 12v2m1-49v5m0 15v3m0 6v3m4-32v5m0 21v3m1-17v14m1-26v5m0 15v3m1-23v5m0 4v3m0 11v3m1-26v5m0 18v3m2-30v9m1 0v4m0 3v4m0 13v3m2-27v4m0 17v3m1-24v4m0 36v2m1-42v4m0 7v7m1 0v3m1-17v3m0 4v7m0 26v2m1-46v4m2 20v3m1-27v4m0 17v3m0 18v2m1-49v9m0 14v3m2-30v9m0 15v3m1 0v6m2 16v2m1-24v3m1-26v9m1 36v2m1-18v3m1-27v7m1-16v4m0 5v4m0 7v4m1-20v5m0 21v3m1-24v4m0 17v3m3-33v4m2-4v9m0 30v3m0 13v2m1-57v4m0 5v4m0 29v2m1-8v3m1-35v5m0 11v7m0 6v6m0 14v2m1 0v2m1-57v4m1-4v9m1 0v4m0 26v3m0 9v2m1-44v4m0 20v3m1-32v5m0 30v3"/><path stroke="#00ffbe" d="M.5 30v3m0 14v2m2-22v3m1-3v3m4-17v7m0 29v2m1-24v3m2-21v4m0 11v3m1-23v5m0 4v3m0 4v4m2 25v2m3-51v9m2 18v3m2 6v3m3-35v5m1 18v6m1-29v9m2-13v4m1 43v2m3 0v2m3-24v3m1-3v3m1-3v3m2-6v3m2-3v3m0 22v2m3-21v6m1-3v3m0 13v2m1-24v3m2-6v3m0 24v2m1-23v3m2-24v4m0 11v3m3-3v6m0 17v2m1-19v3m1 16v2m1-42v4m0 23v3m2 10v2m2-4v2m3-45v5m4 44v2m3-2v2m2-46v4m5 42v2m2-53v5m1-9v9m0 33v2m8 11v2m1-13v3m2 8v2m13-44v3m2-12v5m1 42v2m1-14v3m0 7v2m1-12v3m2-38v5m6-9v4m0 47v2m1-17v3m1 0v3m2-42v4m1 51v2m1-4v2m1-55v4m2 47v2m3-20v3m1-3v3m5-3v3m5-3v3m0 11v2m1-16v3m2 17v2m1-4v2m2-26v3m1-30v13m4 20v3m2 11v2m1-16v3m2-3v3m2-32v5m2-5v5m1 44v2m4-4v2m1-17v3m2-39v4m1-4v4m0 5v4m3-4v4m2 34v2m2 0v2m1-4v2m3-19v3m1-24v4m0 17v3m1 3v3m4 12v2m4-2v2m8-53v4m0 29v3m2 3v3m1 9v2m4-2v2m2-2v2m3-17v3m0 14v2m1-13v2m1-5v3"/><path stroke="#00ff40" d="M.5 33v3m1-6v3m1-3v3m2 3v3m1 8v2m1-19v3m1 14v2m2-13v3m3-9v3m1 11v3m1-3v3m2-14v3m2-3v3m1-3v3m4-3v3m1-3v3m1-3v3m1 8v3m1-3v3m1-3v3m9-17v3m1-3v3m5 14v2m4 0v2m4-9v2m6 5v2m5-15v3m2 8v2m13 4v2m7-8v2m1-2v2m0 4v2m4-8v2m1-2v2m2-2v2m1 6v2m7-10v2m6-13v3m4 8v2m4-13v3m0 8v2m7 4v2m1-4v2m1-2v2m1-9v5m6 0v2m8-4v2m2-13v3m2 12v2m4-2v2m2-4v2m2-12v3m4 2v3m2 0v2m3 0v2m3-12v3m4 2v3m5-17v3m1 14v2m6-7v2m2-11v3m1-3v3m6 11v2m2-5v3m1 2v2m4-12v3m0 5v2m2-13v3m12 3v2m2-2v2m0 5v4m2-11v2"/><path stroke="#00ff1c" d="M.5 36v3m6 8v2m3-2v2m10-5v3m3-11v3m1-3v3m4 0v3m6-9v3m0 11v2m5-16v3m1-6v3m1-3v3m0 14v2m2-13v3m6 0v5m4 0v3m1-14v3m2 11v2m1 0v2m5-7v3m4 0v2m1 2v2m1-11v2m0 7v2m3-9v3m10 6v2m5-6v2m4 0v2m1-4v6m1-8v2m4-2v2m3 0v2m3-9v2m2 3v2m1 0v2m1-4v2m2 0v2m3-7v3m3-11v3m1 5v3m3 2v2m3 0v2m1-2v2m1-11v2m3 3v2m2-5v3m17 2v2m1-12v3m2-3v3m1-6v3m1-3v3m3 10v2m2-15v3m1 5v3m4-11v3m6 0v3m2-6v6m6 5v2m1-10v3m10-6v3m5-6v3m2 6v2m1 5v2m1-4v2m8-2v2m1 0v2m4 0v2m3-9v3"/><path stroke="#07ff00" d="M.5 39v3m1 2v3m2-17v3m0 11v3m1-8v3m3-9v3m0 3v3m1-9v6m0 5v3m3-3v3m1-3v3m1-8v3m1-6v3m1 0v3m1 2v3m2-3v3m1-11v3m2 0v5m1-5v3m3-6v3m4 8v2m5-2v2m1-2v2m2-2v2m5-10v3m1-6v3m1 0v3m5-6v3m9-3v6m0 5v2m1-10v8m2-11v3m3 5v3m1-8v3m3 2v3m2 2v2m1-7v3m0 4v4m6-4v2m7-4v4m2-2v2m5 0v2m1-4v2m2-4v4m1 0v2m6-8v2m1-5v3m10 0v2m3-10v3m1 0v2m1 0v3m2-5v2m1-2v5m1 2v2m1-7v3m10-14v3m1 11v2m12-2v2m1-16v3m1 0v3m1 0v3m3-3v3m14 0v2m7 0v3m4-5v2m1-8v3m0 5v3m4 2v2m3-4v2m1-5v5m2-16v3m1 8v3m7 0v2m2-2v2m7-2v2m0 2v2m4-6v2m2-5v3m2 2v2m1-7v3"/><path stroke="#00ff0a" d="M.5 42v2m1-11v3m6-6v3m3-3v3m1-6v6m0 14v2m2-16v6m2 5v3m5-5v2m1 0v3m1-3v3m10 0v2m8-5v3m1-14v3m0 8v3m5-11v3m4 10v2m1-12v3m1-6v3m2 8v2m5-13v3m3 5v3m1-3v3m3-5v2m0 3v2m3-5v3m0 2v2m1 0v2m2-9v3m1 4v2m5-6v2m1-2v2m0 2v2m2 0v2m1-8v2m0 4v2m1-2v2m4-8v2m2 4v2m3-2v2m1-8v2m1 4v2m3-8v2m0 6v2m1-4v2m1-2v2m1-2v2m6-16v3m2 5v2m3 0v2m2-4v2m6 0v2m3-4v2m3 0v2m1-9v2m0 3v2m4-13v3m1-6v3m2-3v3m9 3v3m3 0v2m3-2v2m0 3v2m9-19v3m1 0v3m2 13v2m2-2v2m12-7v3m1 0v2m1-5v3m3 0v2m3-7v2m1-8v3m0 10v2m2-15v3m1-6v3m1 0v3m1-6v3m3 3v3m2-3v3m4-9v3m5 11v2m2-5v3m0 2v2"/><path stroke="#00ff2e" d="M.5 44v3m3 0v2m1-5v3m4 0v2m2-22v3m0 17v2m6-2v2m1-16v3m0 8v3m6 0v2m2-2v2m5-16v3m1-6v3m0 14v2m1-22v3m4 17v4m3-24v3m3 14v3m2-11v3m1-9v3m1 0v3m2 8v3m2-17v3m6 6v3m4-6v3m0 5v3m5-11v3m4 12v2m2-11v2m3 0v3m1-3v3m1 6v2m1-8v2m1 4v2m2-11v3m7-3v3m7 0v2m8-13v3m1-3v3m2 0v3m0 7v2m10-4v2m2-2v2m1 2v2m3-11v2m2-8v3m0 10v2m1-9v2m1-8v3m7 8v2m2-2v2m1-2v2m5-10v3m3 9v2m7-2v2m1-2v2m6-4v2m4 0v2m14-17v3m1 0v3m0 5v2m2-13v6m1-12v3m18 16v2m2-7v3m1 2v2m1-7v3m1-3v3m1 4v2m3-11v2m2 7v2m2-6v2m3 0v2"/><path stroke="#1045f3" d="M.5 55v4m0 2v3m0 2v7m1-20v13m0 3v4m1-22v12m0 1v3m1 2v3m1-19v2m0 2v2m0 2v2m0 6v3m1-15v6m0 1v2m0 3v4m1-14v4m0 4v3m1-11v2m0 2v1m0 5v4m1-18v8m0 1v2m0 1v6m1-14v2m0 2v1m0 2v7m1-4v1m0 2v1m1-18v4m0 8v2m0 1v3m1-16v2m0 2v3m0 2v3m1-14v4m0 2v12m1-18v2m0 2v2m0 6v3m1-17v2m0 2v2m0 4v4m0 2v1m0 2v1m1-14v2m0 6v2m1-18v6m0 7v2m0 3v4m1-20v4m0 2v5m0 2v6m1-11v3m0 3v2m1-10v2m0 2v1m0 2v1m0 2v1m1-15v4m0 4v1m0 3v5m1-19v4m0 4v3m0 3v2m0 1v3m1-6v2m0 1v3m1-14v4m0 3v7m1-16v2m0 2v3m0 2v3m0 3v1m1-18v2m0 2v4m0 1v5m0 1v3m1-10v1m0 6v3m1-18v2m0 6v1m1-3v2m0 7v3m1-20v2m0 4v4m0 3v1m0 2v3m1-15v4m0 2v1m0 5v4m1-16v16m1-18v8m0 1v6m0 2v1m1-16v6m0 3v4m0 2v1m1-16v9m0 1v2m0 1v3m1-14v2m0 3v6m0 2v1m1-14v2m0 2v10m1-20v10m0 1v6m0 2v1m1-18v2m0 2v2m0 2v3m0 1v5m1-17v2m0 2v5m0 2v7m1-14v2m0 2v1m0 2v1m0 3v2m1-15v2m0 2v8m1-5v6m0 2v1m1-14v14m1-16v2m0 2v2m0 1v2m0 3v4m1-20v2m0 6v3m0 5v1m0 2v1m1-14v4m0 1v9m1-18v2m0 6v1m0 6v3m1-20v11m0 5v4m1-16v4m0 2v1m0 2v1m0 2v1m1-19v2m0 4v2m0 2v9m0 2v1m1-20v2m0 2v2m0 2v3m0 2v3m0 3v1m1-14v2m0 5v1m1-10v2m0 7v1m0 5v1m1-18v2m0 4v6m0 2v1m0 2v1m1-14v2m0 2v1m0 3v6m1-14v2m0 5v3m0 1v3m1-20v2m0 4v7m0 1v2m0 3v1m1-16v9m0 3v3m1-17v4m0 4v10m1-20v8m0 2v1m0 3v3m0 2v1m1-18v2m0 4v2m0 4v6m1-22v2m0 4v2m0 4v3m0 3v4m1-14v7m0 1v2m0 1v3m1-18v2m0 6v1m0 3v6m1-16v2m0 5v2m0 1v3m0 2v1m1-16v7m0 2v7m1-16v2m0 2v8m0 3v1m1-49v3m0 28v2m0 2v2m0 3v9m1-14v10m0 1v2m1-13v8m0 2v3m1-13v2m0 8v1m1-9v2m0 6v4m1-14v2m0 5v6m1-13v7m0 3v1m1-13v2m0 5v8m1-13v5m0 2v7m1-14v8m0 2v1m1-7v3m0 3v1m1-7v1m0 5v1m0 2v1m1-6v3m1-13v2m0 5v9m1-53v7m0 6v9m0 15v9m0 1v5m1-48v3m0 36v3m0 3v1m0 2v1m1-40v3m0 3v3m0 15v4m0 2v4m0 2v4m1-43v3m0 28v2m0 1v5m0 1v3m1-14v5m0 2v1m1-4v1m1-5v2m1-2v4m0 3v1m0 3v2m1-52v4m0 37v11m1-9v3m0 1v2m0 1v3m1-10v1m0 2v6m1-5v3m1-11v2m0 3v2m0 1v3m0 2v1m1-31v2m0 17v2m0 3v6m1-6v1m0 2v4m1-34v3m0 19v8m0 1v3m1-12v2m0 3v7m1-10v1m0 5v4m1-14v2m0 2v1m0 2v1m0 3v3m1-18v2m0 10v2m0 1v3m1-18v8m0 1v2m0 1v6m1-7v1m0 2v1m1-15v2m0 6v1m0 6v3m1-16v4m0 2v3m0 1v6m1-16v2m0 4v1m0 2v3m0 3v1m1-18v2m0 2v2m0 2v3m0 1v2m0 3v1m1-20v2m0 2v6m0 1v9m1-18v6m0 3v2m0 1v2m0 1v2m1-15v4m0 2v1m0 5v1m0 2v1m1-18v9m0 2v7m1-16v4m0 2v1m1 0v9m1-18v2m0 2v4m0 1v2m0 3v3m1-15v2m0 5v2m0 3v4m1-16v4m0 2v7m1-3v3m0 2v1m1-16v12m0 1v3m1-7v1m0 3v3m1-9v3m1-6v2m0 3v1m0 5v1m1-12v8m1-12v6m1-8v6m0 3v2m0 1v3m0 2v1m1-16v4m0 2v6m0 1v2m1-11v5m0 1v2m1-16v6m0 2v6m0 5v1m1-20v4m0 2v2m0 5v3m1-12v4m0 6v2m0 1v2m1-17v2m0 2v14m1-20v4m0 2v4m0 1v6m0 2v1m1-20v2m0 2v2m0 4v1m0 2v3m0 1v3m1-22v2m0 2v2m0 6v3m0 3v3m1-17v4m0 5v3m0 2v1m0 2v1m1-18v9m0 5v1m1-17v4m0 2v2m0 2v10m1-14v5m0 2v4m0 2v1m1-20v4m0 2v5m0 2v1m0 5v1m1-20v2m0 2v2m0 2v2m0 1v6m0 2v1m1-12v9m0 2v1m1-10v1m0 2v1m0 2v3m1-13v4m0 1v2m0 3v3m1-15v2m0 4v6m1-8v3m0 3v5m1-15v6m0 3v6m1-17v11m0 1v2m1-8v2m0 1v3m0 2v3m1-13v2m0 2v4m0 5v1m1-16v2m0 2v12m1-10v1m1-5v5m0 2v6m1-59v3m0 37v6m0 2v3m0 2v1m0 2v4m1-57v4m0 35v9m0 2v4m0 2v1m1-22v2m0 4v4m0 2v3m0 4v3m1-18v4m0 7v3m0 1v3m1-10v1m0 8v1m1-12v2m0 1v3m1-8v2m0 2v10m1-14v2m0 2v1m0 6v2m1-9v1m0 8v1m1-18v8m0 1v5m0 1v3m1-18v2m0 4v3m0 2v7m1-9v2m0 1v2m1-12v2m0 2v2m0 3v7m1-16v10m0 2v1m0 2v1m1-16v2m0 2v6m0 2v4m1-18v6m0 9v2m1-6v1m0 5v1m1-22v4m0 4v7m0 4v2m1-15v2m0 2v3m0 3v2m0 1v3m1-12v3m0 5v1m1-15v9m0 2v7m1-18v2m0 4v2m0 1v2m0 1v2m0 1v3m1-20v2m0 4v7m0 1v3m1-13v7m0 2v3m0 1v3m1-16v9m0 1v6m1-14v4m0 1v2m0 4v3m1-20v2m0 2v2m0 5v3m1-12v2m0 6v10m1-7v4m1-15v6m0 6v2m0 1v3m1-14v5m0 2v7m1-18v4m0 2v5m0 6v1m1-18v2m0 4v2m0 1v2m0 1v3m0 2v1m1-18v2m0 6v1m0 2v1m1-10v4m0 2v10m1-14v2m0 3v2m0 1v2m0 1v2m1-21v8m0 2v3m0 2v1m0 3v2m1-15v2m0 2v3m0 3v6m1-20v11m0 3v2m0 1v3m1-16v2m0 4v3m0 1v3m1-15v2m0 7v2m0 6v1m1-18v2m0 4v6m0 2v4m1-18v2m0 2v2m0 5v3m1-14v2m0 9v1m0 2v1m0 2v1m1-16v2m0 4v3m0 1v5m1-17v4m0 4v3m0 4v3m1-18v4m0 7v7m1-16v4m0 3v3m0 2v4m1-12v8m0 1v3m1-6v3m0 2v1m1-60v11m0 3v3m0 3v3m0 23v14m1-10v1m0 3v5m1-11v2m0 1v2m0 1v3m0 2v1m1-10v9m1-11v2m0 9v1m1-9v3m1-4v4m0 2v3m1-9v3m0 3v1m1-9v2m0 1v2m0 1v6m1-16v2m0 2v2m0 3v7m1-18v2m0 6v3m0 3v1"/><path stroke="#00ffe8" d="M1.5 27v3m1-17v3m1-16v4m0 9v3m0 8v3m1 3v6m2-12v3m0 24v2m1-33v4m2 3v3m1-30v9m0 4v11m0 27v2m1-53v4m0 5v4m0 3v4m1-7v3m0 4v7m0 22v2m2-42v4m1-9v5m0 24v3m1-23v3m3 11v3m0 19v2m2-42v4m0 20v3m1-36v4m1 5v4m0 7v7m1-27v4m0 45v2m1-51v4m0 9v3m0 33v2m1-18v3m1-23v3m0 17v3m1-32v5m0 24v3m1-32v9m0 17v3m1-3v3m1-13v7m2-3v6m0 19v2m1-51v9m0 15v3m0 24v2m1-44v4m1 38v2m1-29v3m1 22v2m1-38v3m1-7v4m1-13v9m2-5v5m0 4v3m2 4v7m3-23v5m1 40v2m1-38v3m2 11v3m1-26v9m2 23v3m2 12v2m1-23v3m1-29v5m1 24v3m2-36v4m0 29v3m0 11v2m1-16v3m1 13v2m1-21v3m0 16v2m1-15v3m0 14v2m2-13v2m1 9v2m3-55v4m0 9v3m0 26v2m1-44v4m1 5v4m0 29v2m4 0v3m1-34v3m0 28v3m1-31v4m1-20v9m7-5v5m1 0v4m0 42v2m1-13v3m1-3v3m1-3v3m2-3v3m1 8v2m1-2v2m1-13v3m0 10v2m2-15v3m1-43v5m0 35v3m1-47v4m0 5v4m0 38v2m1-53v4m1 29v3m1-36v4m0 26v3m1-20v3m0 14v3m0 3v3m1-39v4m0 29v3m1 0v3m2-39v4m1 5v4m0 26v3m1-42v4m0 32v3m2-39v4m0 5v4m0 17v3m1 16v2m2-15v3m3-35v5m1 0v4m1-9v9m1 20v3m2-3v3m0 15v2m1-53v4m0 20v3m1-23v5m1-9v4m0 32v3m0 10v2m3-51v4m0 5v4m2 14v3m0 19v2m2-51v9m0 4v3m0 11v6m8-24v4m0 23v3m1-3v3m3-35v5m1 4v3m0 14v3m0 16v2m1-24v3m0 23v2m1 0v2m1-21v3m1-19v4m0 31v2m1-53v5m3 24v3m1-6v3m1-9v3m0 26v2m1-42v3m0 4v10m0 21v2m1-2v2m2-53v4m0 5v4m0 23v3m3-39v4m0 5v4m0 23v3m2 10v2m1-18v3m1-27v4m1-9v5m0 4v3m1 11v3m2-17v3m0 8v3m0 3v3m2-24v4m1-13v4m1 29v3m1-32v5m2-9v4m0 9v3m2-12v5m0 18v3m7-14v4m0 7v3m4 0v3m1-33v4m0 32v3m0 10v2m3-51v9m0 24v3m1-9v3m0 21v2m1-44v7m0 11v3m0 17v2m4-45v5m1 33v2m1-35v7m3-16v4m0 5v4m0 26v3m1-3v3m5-42v4"/><path stroke="#41ff00" d="M1.5 36v6m4-3v3m5-9v3m1 6v2m1-8v3m2 0v3m2-3v3m1 0v2m11-5v3m7-6v3m3 0v3m1-9v6m8-6v3m9 8v3m1-3v3m3-8v3m1-3v5m3-2v2m1-2v2m3 5v2m9-2v2m4 0v2m5-4v2m2-2v2m3 0v2m2-2v2m2-2v2m2-4v4m7-14v3m0 2v3m1-3v3m2-5v2m4 0v3m4-3v3m3-5v2m0 3v2m3-5v5m4-7v2m4-5v3m0 2v3m10-14v3m11 6v2m6-2v2m2-8v3m0 5v3m1 0v2m14-7v2m6-11v3m11-3v3m0 3v3m0 2v3m6 0v2m1-10v3m0 2v3m6 0v2m3-2v2"/><path stroke="#62ff00" d="M1.5 42v2m7-5v3m3-6v6m5 0v2m1-5v3m7 0v2m1-5v3m1 0v2m3 0v3m1-3v3m3-8v5m1-8v6m7-6v6m2-3v3m2 2v3m7-8v3m4 0v2m12 3v2m6-2v2m21 0v2m9-9v2m5 0v3m9-3v3m13-3v3m1-5v2m2 0v3m5-5v2m3-2v2m4-8v3m0 8v2m6-10v3m8 2v3m9-11v3m10 5v3m2-8v3m2 2v5m1-7v2m3-5v3m1 0v2m2-2v2m2-5v3"/><path stroke="#00ff76" d="M1.5 47v2m2 0v2m5-21v3m1-3v3m2 16v2m1-24v3m1 0v3m0 14v2m1-16v3m4 11v2m5-19v3m4 14v2m2-16v3m5 13v2m1-2v2m2-24v3m3-3v3m8 3v3m0 11v2m2-22v3m1 14v3m1-17v3m5 3v3m6-3v3m0 8v2m4-10v3m1 9v2m3 2v2m3-4v2m2-11v3m4 8v2m6-10v2m0 4v2m4 0v2m6-10v2m6-2v2m8 0v2m2-12v3m0 7v2m3-2v2m4 0v2m3-17v3m2 10v2m2-15v3m2-3v3m1 10v2m2-21v3m5 16v2m1-4v2m2-2v2m2 2v2m7-23v3m1 20v2m1-2v2m4-8v2m1-2v2m2 2v2m1-23v3m2 3v3m6 8v2m3-19v3m2 16v2m2-18v3m0 13v2m8-51v4m2 47v2m2-20v3m0 13v2m1-21v3m2-3v3m4 18v2m3-17v3m9 3v2m1 5v2m2-9v5m0 2v2m1 2v2m1-13v2m4 7v2"/><path stroke="#24ff00" d="M2.5 33v3m1 6v2m4-2v2m5-5v3m4-6v3m1-3v3m2 0v3m5-6v6m0 2v3m11-14v3m3 0v3m6 5v3m1-14v6m1 0v3m1-3v5m0 3v2m5-7v2m3-2v2m2-2v2m3-2v2m3-5v3m1-3v3m2 2v3m4 0v2m1-2v4m1 0v2m1-6v4m1-2v2m1-4v2m0 2v2m1-2v2m3-4v2m1 0v2m1-6v2m10 0v2m5 0v4m2-4v2m1-6v4m3-12v3m5 5v2m1-7v2m3 3v2m2-10v3m2 0v2m1 0v3m3 0v2m6-10v3m3 0v2m1 3v2m2-13v3m4-3v3m2-3v3m4 0v3m0 5v4m2-2v2m1-9v2m2 5v2m3-2v4m4-9v3m2-5v2m1-8v3m1 8v2m1-2v2m10-13v6m2 2v3m11 0v2m1-5v5m8-19v3m5 6v5m3-8v3m0 5v3m2-5v2m6 5v2m3-4v2m4-2v2"/><path stroke="#4fff00" d="M2.5 36v3m1 0v3m3 0v2m1-8v3m3 5v3m5-5v2m4-2v2m4 0v3m2-3v3m1-8v3m2 0v2m8-11v3m0 6v2m2 0v3m2-8v5m3-2v2m6-2v2m1-11v3m12 3v3m14 5v4m12 2v2m11-4v2m5-6v2m2-2v2m6-5v3m13-3v3m3-3v3m1-5v2m1-5v3m1-3v3m1-3v3m3 0v2m3 0v3m1-3v3m10-8v5m0 3v2m1 0v2m1-4v2m2-7v2m1-5v3m3-9v9m6 0v2m1-2v2m6-11v3m0 6v2m1-11v3m0 8v3m6-8v3m3-6v3m7 3v2m2-2v2m3-8v3m1 5v3m4-5v2"/><path stroke="#6bff00" d="M2.5 39v3m7-3v8m22-11v6m4 2v3m1-8v3m2 0v2m7-5v3m13 2v3m4-5v2m51 0v3m13-3v3m7-11v3m0 5v3m2-8v3m7 5v2m9-5v3m6-3v3m5-3v3m10-5v2m9-8v3m3 5v3m2-11v3m3 0v3m3 2v3m3-3v3"/><path stroke="#75ff00" d="M2.5 42v2m3-2v2m5-5v5m22-11v3m2 8v3m7-5v2m12-5v3m29 9v2m18-2v2m6-9v3m1-3v3m31-11v3m4 5v3m4-3v3m4 0v2m1-7v2m6-2v2m4-2v2m10-5v3m2-3v3m6-3v3m2 2v3m3-8v3m9 0v2m3-5v3m2-3v3m1-3v3"/><path stroke="#32ff00" d="M2.5 44v3m1-11v3m3-3v6m2 0v2m3-11v3m2 6v2m1-2v2m9-5v5m7-8v3m2-9v3m1 3v3m3-3v3m1-6v6m2 3v2m1-8v3m2 3v2m1 0v3m2-5v2m0 3v2m1-7v2m1-8v3m0 5v3m2-8v3m0 2v3m4-11v3m1 5v3m1-3v3m2 0v2m1-7v2m11 3v2m3 0v2m2 0v2m4-4v2m2-4v4m1-2v2m2 0v2m2-2v2m2-4v2m0 2v2m1-4v2m9 0v2m3-6v2m1-7v3m10-5v2m1-2v2m1-2v2m7 3v4m3-7v3m7 0v2m1-2v2m5-2v2m1-5v3m7-3v3m4-3v3m2-3v3m3-8v3m3-3v3m3-3v3m2 7v2m1-4v2m3-5v3m2-5v2m2 0v3m2 0v2m4-5v3m11-3v5m1-5v3m2-11v3m1-3v3m2 8v2m20-2v2"/><path stroke="#00ff52" d="M2.5 47v2m2-2v2m3-22v3m2 3v3m1 13v2m1-27v3m1 20v2m5-19v3m2 14v2m3-16v3m0 11v2m2-2v2m2-13v3m0 8v2m1-7v2m3 3v2m5-19v3m2 16v2m4-4v2m5-2v2m3-2v2m2-13v3m1-6v3m2-3v3m1 3v3m3-9v3m1-6v6m2 11v2m5-10v3m7 2v3m6 6v2m5-2v2m14 0v2m3-8v2m3-15v3m5 10v2m6-15v3m5 0v3m0 11v2m2-6v2m0 2v2m2-16v3m2 7v2m2-2v2m1-15v3m4-9v3m1 0v3m6 6v2m4-5v3m3 5v2m1-16v3m7 0v3m9 0v3m1 5v4m1-12v3m1 5v2m9-13v3m2-6v3m0 8v3m8 2v2m4-24v3m1 6v3m5 10v2m1-21v3m2 0v3m4 8v3m2 0v2m2-2v2m2 2v2"/><path stroke="#15ff00" d="M3.5 33v3m1 6v2m1-8v3m0 5v3m1-14v3m0 8v3m1-3v3m5-14v3m0 6v2m6-8v6m4 0v2m7-8v3m2-6v3m0 8v3m3-14v3m5 3v3m0 2v3m1-14v3m4 6v2m2 0v3m1-17v3m6 11v3m1-11v3m3 0v3m7-6v3m1 5v3m1 2v2m1-2v2m5-4v2m3 0v2m8-2v2m4 0v2m1-6v2m1 0v2m3-2v2m1 2v2m3-6v2m7-12v5m3 5v2m1-12v3m2 0v2m0 3v2m5-10v5m2 3v2m1-7v2m1 5v2m1-7v3m3-8v3m1-3v3m0 5v2m3-10v3m2-3v3m0 5v2m4-13v3m0 5v3m6-14v3m3 0v3m1 10v2m1-12v3m1 5v2m1-5v3m2-5v5m4 2v2m5-7v3m4-8v3m1-3v3m2 2v5m1-2v2m2-7v2m1 0v3m1-3v3m1-14v3m3 0v3m1-3v3m0 5v3m1-5v2m6 3v2m2-10v3m8 5v2m4-7v5m5-11v3m1 8v2m6-5v3m2-3v3m0 2v2m1-2v2m3-7v3"/><path stroke="#00ff64" d="M5.5 33v3m1-9v3m3 19v2m5-4v2m1-13v3m0 8v2m2-2v2m1-19v3m1-3v3m1 6v3m0 2v3m1 0v2m6-13v3m1-3v3m3-12v3m2 0v3m1-3v3m4-6v3m0 17v2m1-25v3m0 20v2m2-19v3m1 0v3m2 11v2m4-13v3m6 10v2m5-4v2m5-16v3m1-3v3m4 6v2m6 9v2m6-11v3m6 8v2m6-13v3m5 0v2m1 6v2m5-24v3m2 15v2m4-11v2m6-5v3m1-3v3m1-3v3m5-9v3m1 0v3m3 0v5m0 3v2m4 0v2m1-21v3m4 0v3m3-6v3m1 11v3m5 2v2m1-21v3m1 0v3m1 15v2m3-17v3m7 10v2m2 0v2m3-14v3m0 7v2m1-2v2m4-18v3m0 11v2m2-19v3m0 14v2m4-13v3m4 8v2m2 0v2m1 0v2m6-23v3m0 16v2m1-4v2m3-5v3m1-14v3m3 13v2m6-9v2m0 5v2m1 0v2m8-14v3m1 2v5"/><path stroke="#00ff93" d="M6.5 49v2m1-27v3m9 3v3m0 16v2m4-4v2m1-13v3m1-9v3m1-33v4m2 26v3m4 16v2m3-27v3m0 22v2m4-21v3m1 18v2m2-4v2m2-24v3m0 19v2m1-4v2m3 0v2m1-21v3m1-6v3m1 19v2m1-18v3m1 15v2m1-20v3m2-6v3m3 18v2m1-20v3m4-3v3m9 6v2m1-5v3m1-38v5m0 44v2m1-2v2m4-11v3m6 0v2m5-49v4m0 40v3m4 8v2m2-2v2m8-24v3m1 13v2m1-47v9m7 26v3m0 9v2m2-4v2m1-18v3m2 13v2m4 4v2m1-18v3m0 13v2m3-48v4m1 20v3m0 15v2m4-44v4m6 36v2m2-18v3m1-6v3m4 20v2m3-19v3m4-6v3m2 17v2m1-19v3m0 12v2m1-17v3m4-12v3m8 6v3m2 10v2m2-4v2m3-49v4m0 29v3m3 13v2m3-21v3m1-6v3m0 19v2m3-2v2m1-18v3m1 13v2m6-27v3m1 6v3m0 11v2m11-7v2m1 9v2m1-2v2m1-11v3m1-8v3m0 11v2m5-6v2m1 0v2m1-11v2"/><path stroke="#59ff00" d="M10.5 36v3m8 3v2m18 0v3m1-5v5m13-11v3m0 8v2m4-7v2m2 3v2m7-7v2m4 0v3m11 4v2m4-4v2m11-2v2m9-9v2m1 0v3m2-5v2m1-2v2m2 0v3m15-5v2m7 0v3m4-11v3m1 5v3m6-3v3m5-5v2m8-2v2m1-5v3m3-3v5m1-2v2m1-2v2m0 3v2m8-7v2m2-8v6m1 0v2m4-5v5m2-2v2m6-5v3m2-3v5m12-8v3m2 3v2m4 5v2"/><path stroke="#7eff00" d="M25.5 42v2m4-5v5m3-5v3m0 2v3m1-3v3m17-3v3m3-5v2m1-5v3m13 5v2m63-7v2m3-2v2m13-5v3m15 2v3m1-5v2m2 0v3m15-11v3m1 5v3m8-8v3m12 2v3"/><path stroke="#3506b8" d="M29.5 67v2m1 3v1m20-12v2m46 1v2m11 3v1m8-3v2m13-2v2m26-5v2m8-3v1m8 3v2m40 1v2"/><path stroke="#acff00" d="M30.5 39v3m101 0v2m5-8v3m3-3v3m2 3v2m2-2v2m53-2v2"/><path stroke="#90ff00" d="M30.5 42v2m1-2v2m6-5v3m100-3v3m32-3v5m12-2v2m11-2v2m6-2v2"/><path stroke="#87ff00" d="M32.5 36v3m101 0v3m5 0v2m14 3v2m7-5v3m13-8v3m7 0v2m1-5v3m3 0v2m13 0v3"/><path stroke="#a3ff00" d="M32.5 42v2m107-5v3m10 2v3m37-8v5m2-8v3"/><path stroke="#9aff00" d="M34.5 42v2m1-5v5m99-5v3m4-3v3m5 5v2m9-7v2m9 3v2m10-13v3m9 3v2"/><path stroke="#daff00" d="M50.5 39v5m86-5v3"/><path stroke="#b5ff00" d="M134.5 42v2"/><path stroke="#e3ff00" d="M136.5 42v2"/><path stroke="#d1ff00" d="M136.5 44v3"/><path stroke="#beff00" d="M137.5 42v2m6 0v3m9-3v3"/></svg><rect x="92" y="396" width="428" height="1" fill="#fff"/><rect x="92" y="407" width="428" height="1" fill="#fff"/><rect x="92" y="410" width="428" height="11.67" fill="#fff"/><path fill="#007dff" d="M95.25 410.56h1.3v1.34h-1.3z"/><path fill="#0081ff" d="M99.83 410.56h1.3v1.34h-1.3zm192.23 2.9h1.3v1.34h-1.3zm123.58 0h1.3v1.34h-1.3z"/><path fill="#2f0084" d="M104.4 410.56h1.3v1.34h-1.3z"/><path fill="#3506b8" d="M108.98 410.56h1.3v1.34h-1.3zm82.39 6.03h1.3v1.34h-1.3z"/><path fill="#006dff" d="M113.56 410.56h1.3v1.34h-1.3z"/><path fill="#0068ff" d="M118.13 410.56h1.3v1.34h-1.3zm96.12 2.9h1.3v1.34h-1.3z"/><path fill="#0062ff" d="M122.71 410.56h1.3v1.34h-1.3zm36.62 0h1.3v1.34h-1.3zm100.69 6.03h1.3v1.34h-1.3zm9.15 3.57h1.3v1.34h-1.3z"/><path fill="#2227e6" d="M127.29 410.56h1.3v1.34h-1.3zm187.66 6.03h1.3v1.34h-1.3z"/><path fill="#340094" d="M131.87 410.56h1.3v1.34h-1.3zm155.62 6.03h1.3v1.34h-1.3z"/><path fill="#2325e5" d="M136.44 410.56h1.3v1.34h-1.3z"/><path fill="#2620e3" d="M141.02 410.56h1.3v1.34h-1.3z"/><path fill="#330bc9" d="M145.6 410.56h1.3v1.34h-1.3z"/><path fill="#32008c" d="M150.17 410.56h1.3v1.34h-1.3z"/><path fill="#00b7ff" d="M154.75 410.56h1.3v1.34h-1.3zm96.12 6.03h1.3v1.34h-1.3zm114.43 3.57h1.3v1.34h-1.3zm32.04 0h1.3v1.34h-1.3z"/><path fill="#3702a8" d="M163.91 410.56h1.3v1.34h-1.3zm260.89 0h1.3v1.34h-1.3z"/><path fill="#3604af" d="M168.48 410.56h1.3v1.34h-1.3z"/><path fill="#1144f3" d="M173.06 410.56h1.3v1.34h-1.3z"/><path fill="#045afc" d="M177.64 410.56h1.3v1.34h-1.3z"/><path fill="#009cff" d="M182.21 410.56h1.3v1.34h-1.3zm201.39 0h1.3v1.34h-1.3z"/><path fill="#31008a" d="M186.79 410.56h1.3v1.34h-1.3zm274.62 6.03h1.3v1.34h-1.3z"/><path fill="#320dd0" d="M191.37 410.56h1.3v1.34h-1.3zm247.16 9.61h1.3v1.34h-1.3z"/><path fill="#00aaff" d="M195.94 410.56h1.3v1.34h-1.3zm-82.39 2.9h1.3v1.34h-1.3zm119 6.7h1.3v1.34h-1.3zm114.43 0h1.3v1.34h-1.3z"/><path fill="#00b9ff" d="M200.52 410.56h1.3v1.34h-1.3z"/><path fill="#006aff" d="M205.1 410.56h1.3v1.34h-1.3zm205.97 0h1.3v1.34h-1.3z"/><path fill="#320dcf" d="M209.67 410.56h1.3v1.34h-1.3zm146.46 2.9h1.3v1.34h-1.3zm-173.93 6.7h1.3v1.34h-1.3z"/><path fill="#0091ff" d="M214.25 410.56h1.3v1.34h-1.3z"/><path fill="#300087" d="M218.83 410.56h1.3v1.34h-1.3z"/><path fill="#007eff" d="M223.41 410.56h1.3v1.34h-1.3zm260.89 9.61h1.3v1.34h-1.3z"/><path fill="#3507b9" d="M227.98 410.56h1.3v1.34h-1.3zm178.5 0h1.3v1.34h-1.3z"/><path fill="#0e48f4" d="M232.56 410.56h1.3v1.34h-1.3z"/><path fill="#0083ff" d="M237.14 410.56h1.3v1.34h-1.3zm105.27 0h1.3v1.34h-1.3z"/><path fill="#00aeff" d="M241.71 410.56h1.3v1.34h-1.3zm247.16 2.9h1.3v1.34h-1.3z"/><path fill="#0097ff" d="M246.29 410.56h1.3v1.34h-1.3z"/><path fill="#0092ff" d="M250.87 410.56h1.3v1.34h-1.3zm27.46 6.03h1.3v1.34h-1.3zm86.96 0h1.3v1.34h-1.3z"/><path fill="#008fff" d="M255.45 410.56h1.3v1.34h-1.3zm-77.81 6.03h1.3v1.34h-1.3zm105.27 3.57h1.3v1.34h-1.3z"/><path fill="#1243f2" d="M260.02 410.56h1.3v1.34h-1.3zm215.12 2.9h1.3v1.34h-1.3z"/><path fill="#310ed3" d="M264.6 410.56h1.3v1.34h-1.3zm-151.04 6.03h1.3v1.34h-1.3z"/><path fill="#00a9ff" d="M269.18 410.56h1.3v1.34h-1.3zm73.23 2.9h1.3v1.34h-1.3zm-233.43 6.7h1.3v1.34h-1.3zm100.69 0h1.3v1.34h-1.3z"/><path fill="#0073ff" d="M273.75 410.56h1.3v1.34h-1.3zm-59.5 9.61h1.3v1.34h-1.3z"/><path fill="#007bff" d="M278.33 410.56h1.3v1.34h-1.3zm105.27 6.03h1.3v1.34h-1.3zm123.58 0h1.3v1.34h-1.3z"/><path fill="#330bc8" d="M282.91 410.56h1.3v1.34h-1.3zm210.54 9.61h1.3v1.34h-1.3z"/><path fill="#00c2ff" d="M287.48 410.56h1.3v1.34h-1.3zm224.27 0h1.3v1.34h-1.3zm4.58 2.9h1.3v1.34h-1.3zm-283.77 3.13h1.3v1.34h-1.3zm100.69 0h1.3v1.34h-1.3z"/><path fill="#00a4ff" d="M292.06 410.56h1.3v1.34h-1.3zm137.31 2.9h1.3v1.34h-1.3zm-160.19 3.13h1.3v1.34h-1.3z"/><path fill="#0853f9" d="M296.64 410.56h1.3v1.34h-1.3zm32.04 0h1.3v1.34h-1.3z"/><path fill="#3800a1" d="M301.22 410.56h1.3v1.34h-1.3z"/><path fill="#00c4ff" d="M305.79 410.56h1.3v1.34h-1.3zm-141.89 2.9h1.3v1.34h-1.3zm119 0h1.3v1.34h-1.3z"/><path fill="#3309c3" d="M310.37 410.56h1.3v1.34h-1.3zm160.2 9.61h1.3v1.34h-1.3z"/><path fill="#0060ff" d="M314.95 410.56h1.3v1.34h-1.3z"/><path fill="#009bff" d="M319.52 410.56h1.3v1.34h-1.3zm-160.2 6.03h1.3v1.34h-1.3zm210.54 3.57h1.3v1.34h-1.3z"/><path fill="#340095" d="M324.1 410.56h1.3v1.34h-1.3z"/><path fill="#00b3ff" d="M333.25 410.56h1.3v1.34h-1.3zm132.73 0h1.3v1.34h-1.3zm-215.12 2.9h1.3v1.34h-1.3z"/><path fill="#00beff" d="M337.83 410.56h1.3v1.34h-1.3zm13.73 2.9h1.3v1.34h-1.3zm100.69 6.7h1.3v1.34h-1.3z"/><path fill="#00a0ff" d="M346.99 410.56h1.3v1.34h-1.3zm151.04 9.61h1.3v1.34h-1.3z"/><path fill="#1c31ea" d="M351.56 410.56h1.3v1.34h-1.3z"/><path fill="#173aee" d="M356.14 410.56h1.3v1.34h-1.3zm-164.77 2.9h1.3v1.34h-1.3z"/><path fill="#00c3ff" d="M360.72 410.56h1.3v1.34h-1.3zm-32.04 2.9h1.3v1.34h-1.3zm77.81 0h1.3v1.34h-1.3zm27.46 3.13h1.3v1.34h-1.3zm-247.16 3.57h1.3v1.34h-1.3z"/><path fill="#1242f2" d="M365.29 410.56h1.3v1.34h-1.3z"/><path fill="#310fd8" d="M369.87 410.56h1.3v1.34h-1.3z"/><path fill="#0065ff" d="M374.45 410.56h1.3v1.34h-1.3z"/><path fill="#035bfd" d="M379.02 410.56h1.3v1.34h-1.3zm-73.23 9.61h1.3v1.34h-1.3z"/><path fill="#00a8ff" d="M388.18 410.56h1.3v1.34h-1.3zm-192.23 2.9h1.3v1.34h-1.3zm-100.69 3.13h1.3v1.34h-1.3zm4.58 0h1.3v1.34h-1.3zm192.23 3.57h1.3v1.34h-1.3z"/><path fill="#3703aa" d="M392.75 410.56h1.3v1.34h-1.3zm27.46 9.61h1.3v1.34h-1.3z"/><path fill="#310ed5" d="M397.33 410.56h1.3v1.34h-1.3zm-242.58 2.9h1.3v1.34h-1.3z"/><path fill="#0079ff" d="M401.91 410.56h1.3v1.34h-1.3zm109.85 2.9h1.3v1.34h-1.3zm-160.2 3.13h1.3v1.34h-1.3zm160.2 3.57h1.3v1.34h-1.3z"/><path fill="#0082ff" d="M415.64 410.56h1.3v1.34h-1.3zm-100.69 9.61h1.3v1.34h-1.3z"/><path fill="#2d15de" d="M420.22 410.56h1.3v1.34h-1.3zm-41.19 6.03h1.3v1.34h-1.3zm82.39 3.57h1.3v1.34h-1.3zm4.58 0h1.3v1.34h-1.3z"/><path fill="#320ccb" d="M429.37 410.56h1.3v1.34h-1.3z"/><path fill="#2522e4" d="M433.95 410.56h1.3v1.34h-1.3zm-36.62 6.03h1.3v1.34h-1.3z"/><path fill="#143ef0" d="M438.52 410.56h1.3v1.34h-1.3z"/><path fill="#009eff" d="M443.1 410.56h1.3v1.34h-1.3zm-54.92 9.61h1.3v1.34h-1.3z"/><path fill="#330ac6" d="M447.68 410.56h1.3v1.34h-1.3z"/><path fill="#3800a0" d="M452.26 410.56h1.3v1.34h-1.3zm-4.58 9.61h1.3v1.34h-1.3z"/><path fill="#1a35ec" d="M456.83 410.56h1.3v1.34h-1.3zm59.5 0h1.3v1.34h-1.3z"/><path fill="#1046f3" d="M461.41 410.56h1.3v1.34h-1.3z"/><path fill="#2e007f" d="M470.56 410.56h1.3v1.34h-1.3zm-151.04 9.61h1.3v1.34h-1.3z"/><path fill="#2424e5" d="M475.14 410.56h1.3v1.34h-1.3zm-370.74 6.03h1.3v1.34h-1.3z"/><path fill="#00acff" d="M479.72 410.56h1.3v1.34h-1.3z"/><path fill="#006bff" d="M484.3 410.56h1.3v1.34h-1.3zm-302.08 6.03h1.3v1.34h-1.3zm96.12 3.57h1.3v1.34h-1.3z"/><path fill="#320cce" d="M488.87 410.56h1.3v1.34h-1.3zm-178.5 6.03h1.3v1.34h-1.3z"/><path fill="#0087ff" d="M493.45 410.56h1.3v1.34h-1.3z"/><path fill="#009aff" d="M498.03 410.56h1.3v1.34h-1.3zm-32.04 2.9h1.3v1.34h-1.3zm-173.93 3.13h1.3v1.34h-1.3z"/><path fill="#3801a3" d="M502.6 410.56h1.3v1.34h-1.3zm-398.2 2.9h1.3v1.34h-1.3z"/><path fill="#00c1ff" d="M507.18 410.56h1.3v1.34h-1.3zm-169.35 9.61h1.3v1.34h-1.3z"/><path fill="#0096ff" d="M95.25 413.47h1.3v1.34h-1.3zm22.88 0h1.3v1.34h-1.3zm18.31 0h1.3v1.34h-1.3zm82.39 6.7h1.3v1.34h-1.3z"/><path fill="#006fff" d="M99.83 413.47h1.3v1.34h-1.3zm73.23 0h1.3v1.34h-1.3z"/><path fill="#00bcff" d="M108.98 413.47h1.3v1.34h-1.3zm13.73 6.7h1.3v1.34h-1.3z"/><path fill="#1b34ec" d="M122.71 413.47h1.3v1.34h-1.3z"/><path fill="#320bc9" d="M127.29 413.47h1.3v1.34h-1.3z"/><path fill="#00bbff" d="M131.87 413.47h1.3v1.34h-1.3z"/><path fill="#3507ba" d="M141.02 413.47h1.3v1.34h-1.3zm251.73 0h1.3v1.34h-1.3z"/><path fill="#0077ff" d="M145.6 413.47h1.3v1.34h-1.3zm0 3.13h1.3v1.34h-1.3zm343.28 0h1.3v1.34h-1.3zm-137.31 3.57h1.3v1.34h-1.3zm151.04 0h1.3v1.34h-1.3z"/><path fill="#0f47f4" d="M150.17 413.47h1.3v1.34h-1.3zm54.92 3.13h1.3v1.34h-1.3z"/><path fill="#360098" d="M159.33 413.47h1.3v1.34h-1.3z"/><path fill="#0558fc" d="M168.48 413.47h1.3v1.34h-1.3z"/><path fill="#00b0ff" d="M177.64 413.47h1.3v1.34h-1.3z"/><path fill="#00b5ff" d="M182.21 413.47h1.3v1.34h-1.3zm64.08 0h1.3v1.34h-1.3zm-128.16 6.7h1.3v1.34h-1.3zm109.85 0h1.3v1.34h-1.3z"/><path fill="#00b2ff" d="M186.79 413.47h1.3v1.34h-1.3zm-64.08 3.13h1.3v1.34h-1.3z"/><path fill="#008aff" d="M200.52 413.47h1.3v1.34h-1.3zm9.15 3.13h1.3v1.34h-1.3zm13.73 3.57h1.3v1.34h-1.3z"/><path fill="#006eff" d="M205.1 413.47h1.3v1.34h-1.3z"/><path fill="#0d4af6" d="M209.67 413.47h1.3v1.34h-1.3zm178.5 0h1.3v1.34h-1.3z"/><path fill="#2c0079" d="M218.83 413.47h1.3v1.34h-1.3zm105.27 3.13h1.3v1.34h-1.3z"/><path fill="#2621e3" d="M223.41 413.47h1.3v1.34h-1.3z"/><path fill="#1045f3" d="M227.98 413.47h1.3v1.34h-1.3zm4.58 0h1.3v1.34h-1.3zm-13.73 3.13h1.3v1.34h-1.3z"/><path fill="#00b8ff" d="M237.14 413.47h1.3v1.34h-1.3z"/><path fill="#350095" d="M241.71 413.47h1.3v1.34h-1.3zm251.74 0h1.3v1.34h-1.3z"/><path fill="#0086ff" d="M255.45 413.47h1.3v1.34h-1.3zm68.66 0h1.3v1.34h-1.3zm-164.77 6.7h1.3v1.34h-1.3zm242.58 0h1.3v1.34h-1.3z"/><path fill="#3010db" d="M260.02 413.47h1.3v1.34h-1.3z"/><path fill="#2e13dd" d="M264.6 413.47h1.3v1.34h-1.3zm-164.77 6.7h1.3v1.34h-1.3z"/><path fill="#37009d" d="M269.18 413.47h1.3v1.34h-1.3zm-164.77 6.7h1.3v1.34h-1.3zm205.97 0h1.3v1.34h-1.3z"/><path fill="#1739ee" d="M273.75 413.47h1.3v1.34h-1.3z"/><path fill="#0a4ff8" d="M278.33 413.47h1.3v1.34h-1.3z"/><path fill="#2f12dd" d="M287.48 413.47h1.3v1.34h-1.3zm27.46 0h1.3v1.34h-1.3zm109.85 0h1.3v1.34h-1.3z"/><path fill="#009dff" d="M296.64 413.47h1.3v1.34h-1.3zm-73.23 3.13h1.3v1.34h-1.3z"/><path fill="#0070ff" d="M301.22 413.47h1.3v1.34h-1.3zm-151.04 6.7h1.3v1.34h-1.3zm41.19 0h1.3v1.34h-1.3z"/><path fill="#0099ff" d="M305.79 413.47h1.3v1.34h-1.3zm-32.04 3.13h1.3v1.34h-1.3z"/><path fill="#163bef" d="M310.37 413.47h1.3v1.34h-1.3z"/><path fill="#00b4ff" d="M319.52 413.47h1.3v1.34h-1.3zm-155.62 3.13h1.3v1.34h-1.3z"/><path fill="#3603ab" d="M333.25 413.47h1.3v1.34h-1.3z"/><path fill="#3702a9" d="M337.83 413.47h1.3v1.34h-1.3zm-96.12 3.13h1.3v1.34h-1.3z"/><path fill="#281ee2" d="M346.99 413.47h1.3v1.34h-1.3z"/><path fill="#025cfd" d="M360.72 413.47h1.3v1.34h-1.3z"/><path fill="#0c4bf6" d="M365.29 413.47h1.3v1.34h-1.3z"/><path fill="#3701a6" d="M369.87 413.47h1.3v1.34h-1.3z"/><path fill="#00adff" d="M374.45 413.47h1.3v1.34h-1.3zm54.92 3.13h1.3v1.34h-1.3z"/><path fill="#37009e" d="M379.02 413.47h1.3v1.34h-1.3z"/><path fill="#0071ff" d="M383.6 413.47h1.3v1.34h-1.3zm-4.58 6.7h1.3v1.34h-1.3z"/><path fill="#300086" d="M397.33 413.47h1.3v1.34h-1.3z"/><path fill="#320ccd" d="M401.91 413.47h1.3v1.34h-1.3zm54.92 3.13h1.3v1.34h-1.3z"/><path fill="#320bcb" d="M411.06 413.47h1.3v1.34h-1.3z"/><path fill="#0951f9" d="M420.22 413.47h1.3v1.34h-1.3z"/><path fill="#2228e7" d="M433.95 413.47h1.3v1.34h-1.3zm68.66 0h1.3v1.34h-1.3z"/><path fill="#2621e4" d="M438.52 413.47h1.3v1.34h-1.3z"/><path fill="#340093" d="M443.1 413.47h1.3v1.34h-1.3zm13.73 0h1.3v1.34h-1.3z"/><path fill="#3409c1" d="M447.68 413.47h1.3v1.34h-1.3z"/><path fill="#0080ff" d="M452.26 413.47h1.3v1.34h-1.3zm-324.97 6.7h1.3v1.34h-1.3zm13.73 0h1.3v1.34h-1.3z"/><path fill="#00bdff" d="M461.41 413.47h1.3v1.34h-1.3z"/><path fill="#0072ff" d="M470.56 413.47h1.3v1.34h-1.3zm-361.58 3.13h1.3v1.34h-1.3z"/><path fill="#3506b6" d="M479.72 413.47h1.3v1.34h-1.3zm0 3.13h1.3v1.34h-1.3z"/><path fill="#00a1ff" d="M484.3 413.47h1.3v1.34h-1.3zm-297.51 3.13h1.3v1.34h-1.3zm50.35 3.57h1.3v1.34h-1.3z"/><path fill="#310fd7" d="M498.03 413.47h1.3v1.34h-1.3zm4.58 3.13h1.3v1.34h-1.3z"/><path fill="#0064ff" d="M507.18 413.47h1.3v1.34h-1.3z"/><path fill="#0094ff" d="M118.13 416.6h1.3v1.34h-1.3zm242.58 0h1.3v1.34h-1.3zm-164.77 3.57h1.3v1.34h-1.3zm311.24 0h1.3v1.34h-1.3z"/><path fill="#281de2" d="M127.29 416.6h1.3v1.34h-1.3z"/><path fill="#1340f1" d="M131.87 416.6h1.3v1.34h-1.3z"/><path fill="#3604b1" d="M136.44 416.6h1.3v1.34h-1.3z"/><path fill="#2d007c" d="M141.02 416.6h1.3v1.34h-1.3zm59.5 0h1.3v1.34h-1.3z"/><path fill="#1936ec" d="M150.17 416.6h1.3v1.34h-1.3z"/><path fill="#1f2ce8" d="M154.75 416.6h1.3v1.34h-1.3z"/><path fill="#300fd9" d="M168.48 416.6h1.3v1.34h-1.3zm77.81 3.57h1.3v1.34h-1.3z"/><path fill="#015efe" d="M173.06 416.6h1.3v1.34h-1.3zm-18.31 3.57h1.3v1.34h-1.3zm86.96 0h1.3v1.34h-1.3zm100.69 0h1.3v1.34h-1.3z"/><path fill="#2d007b" d="M195.94 416.6h1.3v1.34h-1.3z"/><path fill="#008dff" d="M214.25 416.6h1.3v1.34h-1.3zm132.73 0h1.3v1.34h-1.3z"/><path fill="#3407ba" d="M227.98 416.6h1.3v1.34h-1.3z"/><path fill="#3407bb" d="M237.14 416.6h1.3v1.34h-1.3zm192.23 3.57h1.3v1.34h-1.3z"/><path fill="#2e0080" d="M246.29 416.6h1.3v1.34h-1.3z"/><path fill="#3010dc" d="M255.45 416.6h1.3v1.34h-1.3zm210.54 0h1.3v1.34h-1.3z"/><path fill="#00abff" d="M264.6 416.6h1.3v1.34h-1.3zm-119 3.57h1.3v1.34h-1.3zm32.04 0h1.3v1.34h-1.3z"/><path fill="#0d4af5" d="M282.91 416.6h1.3v1.34h-1.3z"/><path fill="#2f0083" d="M296.64 416.6h1.3v1.34h-1.3zm178.5 3.57h1.3v1.34h-1.3z"/><path fill="#3505b4" d="M301.22 416.6h1.3v1.34h-1.3z"/><path fill="#2b18df" d="M305.79 416.6h1.3v1.34h-1.3z"/><path fill="#0061ff" d="M319.52 416.6h1.3v1.34h-1.3zm-54.92 3.57h1.3v1.34h-1.3z"/><path fill="#0951f8" d="M328.68 416.6h1.3v1.34h-1.3zm146.46 0h1.3v1.34h-1.3z"/><path fill="#0c4cf6" d="M337.83 416.6h1.3v1.34h-1.3z"/><path fill="#202ae7" d="M342.41 416.6h1.3v1.34h-1.3z"/><path fill="#2f0081" d="M356.14 416.6h1.3v1.34h-1.3z"/><path fill="#330090" d="M369.87 416.6h1.3v1.34h-1.3z"/><path fill="#00bfff" d="M374.45 416.6h1.3v1.34h-1.3zm27.46 0h1.3v1.34h-1.3z"/><path fill="#0098ff" d="M388.18 416.6h1.3v1.34h-1.3z"/><path fill="#0078ff" d="M392.75 416.6h1.3v1.34h-1.3z"/><path fill="#310ed6" d="M406.49 416.6h1.3v1.34h-1.3zm64.08 0h1.3v1.34h-1.3z"/><path fill="#32008b" d="M411.06 416.6h1.3v1.34h-1.3z"/><path fill="#1a34ec" d="M415.64 416.6h1.3v1.34h-1.3z"/><path fill="#3800a2" d="M420.22 416.6h1.3v1.34h-1.3z"/><path fill="#0066ff" d="M424.79 416.6h1.3v1.34h-1.3zm-64.08 3.57h1.3v1.34h-1.3z"/><path fill="#143ff0" d="M438.52 416.6h1.3v1.34h-1.3z"/><path fill="#300fd8" d="M443.1 416.6h1.3v1.34h-1.3zm-242.58 3.57h1.3v1.34h-1.3z"/><path fill="#3408be" d="M447.68 416.6h1.3v1.34h-1.3z"/><path fill="#3505b3" d="M452.26 416.6h1.3v1.34h-1.3z"/><path fill="#007fff" d="M484.3 416.6h1.3v1.34h-1.3zm27.46 0h1.3v1.34h-1.3z"/><path fill="#3506b5" d="M493.45 416.6h1.3v1.34h-1.3z"/><path fill="#0e48f5" d="M498.03 416.6h1.3v1.34h-1.3z"/><path fill="#310fd6" d="M516.33 416.6h1.3v1.34h-1.3zm-100.69 3.57h1.3v1.34h-1.3z"/><path fill="#3801a4" d="M95.25 420.17h1.3v1.34h-1.3z"/><path fill="#00afff" d="M113.56 420.17h1.3v1.34h-1.3zm22.89 0h1.3v1.34h-1.3z"/><path fill="#3801a2" d="M131.87 420.17h1.3v1.34h-1.3z"/><path fill="#320bca" d="M163.91 420.17h1.3v1.34h-1.3z"/><path fill="#291be1" d="M168.48 420.17h1.3v1.34h-1.3z"/><path fill="#0088ff" d="M173.06 420.17h1.3v1.34h-1.3z"/><path fill="#2129e7" d="M205.1 420.17h1.3v1.34h-1.3z"/><path fill="#008eff" d="M250.87 420.17h1.3v1.34h-1.3z"/><path fill="#00a2ff" d="M255.45 420.17h1.3v1.34h-1.3z"/><path fill="#00b1ff" d="M260.02 420.17h1.3v1.34h-1.3z"/><path fill="#3409c0" d="M273.75 420.17h1.3v1.34h-1.3z"/><path fill="#00c0ff" d="M287.48 420.17h1.3v1.34h-1.3z"/><path fill="#310ed4" d="M296.64 420.17h1.3v1.34h-1.3z"/><path fill="#0067ff" d="M301.22 420.17h1.3v1.34h-1.3z"/><path fill="#3702a7" d="M324.1 420.17h1.3v1.34h-1.3z"/><path fill="#360099" d="M328.68 420.17h1.3v1.34h-1.3z"/><path fill="#0093ff" d="M333.25 420.17h1.3v1.34h-1.3z"/><path fill="#2e14de" d="M356.14 420.17h1.3v1.34h-1.3z"/><path fill="#035cfd" d="M374.45 420.17h1.3v1.34h-1.3z"/><path fill="#0075ff" d="M383.6 420.17h1.3v1.34h-1.3z"/><path fill="#0076ff" d="M392.75 420.17h1.3v1.34h-1.3z"/><path fill="#330ac5" d="M406.49 420.17h1.3v1.34h-1.3z"/><path fill="#2423e4" d="M411.06 420.17h1.3v1.34h-1.3z"/><path fill="#2d007e" d="M424.79 420.17h1.3v1.34h-1.3z"/><path fill="#0656fb" d="M433.95 420.17h1.3v1.34h-1.3z"/><path fill="#0095ff" d="M443.1 420.17h1.3v1.34h-1.3z"/><path fill="#2a1ae0" d="M456.83 420.17h1.3v1.34h-1.3z"/><path fill="#3701a5" d="M479.72 420.17h1.3v1.34h-1.3z"/><path fill="#006cff" d="M488.87 420.17h1.3v1.34h-1.3z"/><path fill="#202be8" d="M516.33 420.17h1.3v1.34h-1.3z"/><svg x="92" y="421" width="428" height="73" viewBox="0 0 214 73" preserveAspectRatio="none" fill="none" stroke-width="1"><path stroke="#00c4ff" d="M.5 0v4m0 5v4m2-9v5m0 4v10m0 23v3m1-49v27m0 19v3m1-40v4m0 14v6m0 13v3m1-49v4m1-4v9m0 4v3m1-16v9m0 4v3m2-12v5m0 42v4m1-6v2m1-51v4m1-4v4m0 5v14m1-10v3m0 4v7m0 19v3m1-40v4m0 10v7m0 16v3m1-36v3m0 11v6m0 13v3m1-49v4m0 9v10m1-19v5m0 4v3m1-16v4m0 9v10m1-3v3m1-23v4m0 5v4m0 14v3m0 16v3m1-49v16m0 33v2m1-51v4m0 5v14m1-23v4m0 9v7m1-11v4m0 36v2m1-51v4m0 9v10m1-19v12m0 11v3m1-26v5m0 11v3m1-23v16m1 7v4m1-27v4m0 42v3m1-49v9m0 7v4m2-20v9m0 7v4m1-4v4m3-20v4m3-4v9m0 7v4m1-7v3m0 4v7m1-18v4m0 7v3m1-19v23m1-27v4m0 5v4m0 10v4m2-11v7m1-23v4m0 45v2m1-24v3m1-30v4m0 5v7m0 4v7m2-23v5m0 7v4m1-4v4m1-11v4m0 3v7m1-23v4m0 42v3m1-49v4m0 5v4m0 17v3m1-20v3m0 4v10m0 21v2m1-53v4m0 12v4m0 3v7m1-30v9m0 4v10m1-23v4m1 0v19m1-19v12m0 4v10m1-30v4m0 5v4m0 14v3m1-14v4m0 7v6m1-6v3m1-30v4m0 5v4m0 3v4m1-20v9m0 30v2m1-41v4m0 5v4m2-13v4m0 5v4m0 42v2m1-53v5m0 48v2m1-59v9m1-9v4m1-4v9m1 7v4m0 3v7m1-26v5m0 11v3m1-23v4m0 5v4m1-13v4m0 5v7m1-12v5m0 4v3m2-12v5m1-5v5m0 4v3m0 28v2m1-42v5m0 4v3m0 28v2m1-46v4m0 5v7m0 28v2m1-46v4m0 40v2m0 11v2m1-55v5m1-5v12m1-7v4m2-4v4m0 33v3m1-49v4m1 0v5m0 4v3m1 28v2m0 11v2m2-50v4m1-9v5m1-9v4m1 0v5m1-9v4m0 5v4m0 7v3m0 7v3m1 24v2m2-55v5m1 4v3m0 14v3m1-17v7m2-3v16m1-20v4m1-7v3m0 14v3m1-33v4m0 9v3m0 11v6m1-10v4m0 6v3m1-36v4m0 5v7m0 20v3m1-30v4m0 14v3m1-26v5m0 24v3m0 13v2m1-42v4m0 3v7m1-23v4m0 19v4m1-23v5m0 4v3m0 4v3m0 4v3m1-30v4m0 19v4m0 3v3m0 16v2m1-51v4m0 9v10m0 10v3m1-27v4m1-13v4m0 5v11m0 7v3m0 3v3m0 17v2m1-51v5m0 27v3m1-39v4m0 5v4m0 3v4m1-20v9m0 7v4m0 3v7m1-30v16m0 4v10m0 23v2m1-46v4m1 3v7m0 4v3m1 0v3m1 0v3m1-6v3m1-24v4m0 14v6m1-24v4m0 38v2m1-37v4m0 29v2m1-51v4m0 12v7m1-23v4m1 12v4m2-16v5m0 4v3m0 7v10m1-33v13m0 7v3m1-23v9m0 14v4m1-23v9m0 3v11m1-23v5m0 18v3m0 16v3m1-40v4m0 10v4m0 3v3m1-29v5m0 14v7m1-3v9m1-20v4m0 10v6m1-32v5m0 11v7m0 22v2m1-51v4m0 9v3m0 4v3m1-14v7m0 7v4m1-7v7m1-14v3m0 37v2m1-55v13m0 10v4m0 3v3m1-29v5m0 4v3m1-16v4m0 26v6m1-27v4m0 7v3m1-23v4m0 16v3m0 4v3m1-30v4m0 23v3m0 19v2m1-51v9m0 11v7m1-27v4m0 47v2m1-53v4m0 5v4m0 3v7m1-23v4m0 5v4m0 10v4m0 3v3m1-10v4m0 3v3m1-24v4m0 20v3m1-27v4m0 7v3m0 4v9m2-9v3m0 3v3m1-27v14m0 4v9m0 13v2m1-47v5m0 4v3m0 4v7m1-7v7m0 22v2m1-51v4m0 9v3m0 11v3m1-26v12m1-12v5m1-9v4m0 12v4m0 3v4m1-18v4m0 3v4m0 3v4m1-7v7m1-23v9m0 3v4m0 7v3m0 19v2m1-35v14m1-17v3m0 7v7m0 19v2m1-51v4m0 9v3m0 7v7m1-30v4m0 12v11m1-11v7m1-23v9m0 4v3m0 7v4m1-23v5m0 14v7m1-30v4m0 9v3m0 4v7m1-23v9m0 3v11m0 24v2m1-30v4m1-23v5m0 4v3m0 7v10m1-13v3m0 23v3m1-49v4m0 5v4m0 7v3m2-23v4m0 5v4m0 7v7m0 19v3m1-40v4m0 3v7m1-10v3m0 4v3m0 26v2m1-51v4m0 5v4m1-13v4m0 5v7m0 14v3m1 0v3m1-32v5m0 21v6m1-36v13m0 7v7m0 3v3m1-24v4m0 3v4m1-7v3m0 33v2m1-51v4m0 9v17m1-21v4m0 3v4m0 10v3m1-29v5m0 4v3m1-16v4m0 35v2m1-41v4m0 35v2m1-37v5m0 44v2m1-16v2m0 10v2m1-40v7m0 3v7m1-30v4m0 9v3m0 11v3m0 6v3m1-35v5m0 4v14m0 9v5m1-37v5m0 27v3m1-23v4m0 3v4m0 3v6m1-36v4m0 12v7m0 4v9m1-36v16m0 17v3m1-36v4m0 5v4m0 10v4m0 3v3"/><path stroke="#008dff" d="M.5 4v5m0 7v7m0 28v2m1-53v4m1-4v4m0 5v4m2-13v9m0 11v7m1-23v5m0 7v11m1-11v4m6-16v5m2-9v4m0 9v3m0 4v3m1-23v4m0 16v7m1 22v2m1-51v4m0 45v2m1-5v3m1 0v2m1-47v5m0 4v10m0 7v3m1-13v7m1-23v5m0 14v4m1-23v5m0 40v2m1-31v3m1 26v2m1-51v4m0 12v11m0 22v2m1-35v4m1-4v11m0 22v2m1-47v9m0 3v7m1-19v19m1 26v2m5 0v2m1-2v2m1 13v1m1-18v2m2-51v13m0 3v4m0 29v2m1-51v9m0 4v7m1-20v4m0 60v2m1-50v7m0 26v2m1-2v2m3-51v9m0 7v4m0 3v4m1-23v5m0 7v4m0 31v2m1-4v2m1-42v4m0 7v3m0 23v3m1-49v9m0 4v3m1-16v9m0 4v3m1-12v29m1-29v5m0 4v17m0 21v2m1-37v4m1-11v7m0 4v3m1-14v4m2-13v4m0 42v3m1-49v4m0 12v4m1-7v3m0 4v7m1-7v7m1-27v16m0 7v4m1-14v3m1-7v11m1-7v3m0 4v7m1-27v23m0 4v3m0 11v3m0 9v2m1-32v4m1-14v3m0 7v4m0 3v3m0 3v3m1-30v11m0 19v2m0 16v2m1-50v11m0 21v3m1-35v4m0 7v3m0 32v2m1-44v3m0 4v3m0 18v3m1-35v4m0 3v4m0 7v17m1-31v7m0 3v7m0 3v3m1-32v5m0 7v11m0 9v3m0 18v2m1-50v4m0 10v4m0 17v2m1-42v5m0 11v7m0 14v3m1-44v4m0 5v4m0 7v10m0 27v2m1-59v4m0 5v4m0 23v3m0 18v2m1-59v4m0 5v4m0 3v11m0 30v2m1-39v3m1-10v3m0 14v3m1-33v4m0 5v7m0 28v2m1-30v4m0 3v7m0 27v2m1-32v6m0 28v2m1-63v4m0 16v3m0 7v3m1-33v9m1 0v4m0 31v2m0 11v2m1-59v4m0 5v4m0 7v3m0 34v2m1-59v4m0 5v14m1-23v4m1-4v9m0 4v7m0 3v7m0 14v2m0 11v2m1-50v4m0 7v13m1-29v12m1-16v4m0 5v14m0 23v3m1-33v4m0 7v3m0 6v3m1-39v4m0 5v7m0 28v2m1-46v16m0 25v3m1-44v4m0 5v7m0 4v7m0 12v2m0 10v2m1-53v9m0 7v14m1-17v3m0 7v4m1-27v4m0 12v4m1-4v4m1-20v4m0 9v3m0 11v3m1-14v14m0 19v2m1-42v4m0 3v11m0 6v3m1-27v4m0 3v7m0 4v6m0 18v6m1-37v16m1-23v14m0 3v6m1-27v7m0 4v13m1-29v5m0 4v3m0 35v2m1-49v19m1-23v4m0 12v4m0 3v4m0 24v2m1-44v14m0 4v3m0 3v3m1-13v10m0 18v2m1-53v9m0 4v23m0 17v2m1-51v5m0 11v7m0 3v3m1-33v4m0 5v7m0 7v13m0 17v2m1-51v5m0 4v3m0 4v16m0 19v2m1-37v3m0 34v2m1-43v4m1-20v9m0 11v10m0 21v4m1-46v7m0 35v2m1-53v4m0 9v3m0 4v10m1-30v13m0 10v10m0 16v2m1-51v30m0 19v2m1-51v9m0 4v3m0 4v7m0 22v2m1-51v9m0 4v3m0 4v10m2-26v5m1 40v2m1-38v3m0 4v3m1-23v13m0 3v14m1-30v4m0 5v4m0 7v3m1-7v4m1-11v14m1-23v4m0 9v3m1-7v18m1-14v10m0 4v3m1-30v4m0 9v7m0 10v6m1-23v10m0 30v2m1-42v3m0 4v10m0 21v2m1-53v4m0 12v4m0 7v6m1-29v5m1-9v9m0 7v7m1-23v4m0 5v11m0 31v2m2-37v7m1-23v4m0 5v4m0 7v13m1-29v12m0 4v3m0 4v3m1-17v7m0 7v3m0 19v2m1-42v11m0 3v4m1-14v3m0 4v7m1-18v11m0 29v2m2 0v2m1-40v7m0 7v3m1-17v10m0 26v2m1-51v9m0 4v7m0 7v6m1-33v4m0 19v4m1-27v9m0 4v3m0 11v6m1-33v4m0 5v14m0 7v3m1-10v4m1 0v6m0 16v2m1-35v4m1-11v4m0 3v11m0 19v3m1-49v4m1-4v4m0 45v2m1-47v5m0 4v3m0 30v3m1-36v3m0 35v2m1-53v4m0 5v11m1-20v4m0 9v3m0 4v7m1-14v3m0 35v2m1-37v7m1-19v5m1 40v2m2-42v4m0 3v4m0 31v2m1-44v4m0 3v7m1-19v5m0 7v4m0 7v3m1-30v4m0 9v3m0 11v3m1-26v5m0 4v10m0 4v3m1-14v7m0 26v2m1-51v4m0 12v4m1-16v5m0 4v7m0 3v4m1-27v9m0 7v4m2-20v9m0 4v3m1-7v4m0 3v4m1-16v5m0 7v4m0 3v7m1-14v14m1-26v12m0 7v7m0 19v2m1-51v4m0 5v7m0 7v7m1-17v7m1-20v9m0 14v4m0 22v2m1-42v4m0 7v3m1-19v5m1-9v4m0 9v3m0 7v7m0 3v3m1-36v4m0 5v4m0 7v3m0 10v6m1-30v7m0 4v3m0 10v6m0 12v2m1-44v7m0 4v7m0 6v6m0 14v2m1-55v4m0 5v7m0 20v3m1-39v4m0 9v3m0 11v6m1-33v4m0 16v3m1-7v11m0 3v6m1-9v9m1-20v14m1-10v3m2-7v17m1-17v7m0 4v3m0 3v8"/><path stroke="#00dcff" d="M.5 13v3m0 7v4m1-18v4m0 7v3m1 0v4m2 6v3m1-27v4m0 14v3m1-21v4m1-4v4m0 36v2m1-38v3m1-16v4m0 9v10m1-19v5m0 4v10m1-19v9m2-4v4m0 3v4m1 10v3m2-6v3m1-21v4m0 3v7m1-14v4m0 10v4m1-27v4m0 5v11m0 3v4m1 6v3m1-9v3m1 19v2m1-42v4m0 7v3m1-19v5m0 4v7m0 3v4m1-23v5m1 21v3m1-33v4m0 9v3m0 7v10m0 13v3m1-22v3m1-3v6m1-10v7m3-21v4m1-13v9m0 4v3m0 33v2m1-51v9m0 7v7m1-19v5m0 7v7m1-19v5m0 7v4m1-16v5m2 0v4m2 10v10m2-29v5m0 18v6m1-29v5m0 4v7m1-7v3m0 7v4m2 3v3m1-6v3m1-21v7m0 4v3m1-23v4m0 9v3m0 7v4m1-18v4m0 7v3m1 0v4m3-23v5m0 21v3m1-3v3m1-10v4m1-23v5m0 4v10m1 4v3m1 16v3m1-45v5m0 21v3m1-20v3m0 30v3m1-19v3m0 13v3m1-29v10m2-26v5m0 32v3m2-40v5m0 4v3m1-16v4m0 5v4m2-9v5m0 46v2m2-57v4m0 5v4m2-9v5m1 35v2m1-46v4m1 53v2m4-55v5m1-5v5m2 35v2m1-46v4m0 55v2m1-57v5m4-5v5m1 37v3m3-5v2m1 11v2m2-55v5m4-9v13m0 14v3m0 19v2m1-47v12m0 4v13m1-29v12m0 33v2m1-47v5m0 21v3m1-33v9m0 24v3m1-32v5m0 27v3m1-39v9m0 4v3m1-12v5m0 40v2m1-51v9m1 27v3m1-16v4m1 0v3m1-21v4m0 17v3m2-29v9m1 23v3m0 12v2m3-17v3m1-30v7m0 14v3m0 22v2m2-27v3m1-33v9m0 14v4m0 3v3m1-29v9m0 38v2m2-20v3m1-3v3m2-23v3m0 4v7m1 19v3m1-45v23m1-27v4m3 9v3m0 7v7m1-3v3m0 16v3m1-22v3m1 0v3m2-24v4m1-9v5m0 14v4m0 24v2m1-53v13m1 20v3m1-20v4m2 7v3m1-30v4m0 5v4m0 3v14m1-17v3m0 11v3m2 19v2m1-51v9m0 14v4m0 3v3m2-29v9m1 14v3m1-26v5m0 4v14m1-23v5m0 4v3m0 7v4m1-23v5m0 11v3m0 28v2m1-53v9m0 18v3m0 3v3m1 15v2m1-49v5m0 42v2m1-20v3m1-32v5m3 4v3m0 11v3m1-26v5m0 21v3m1-17v7m0 23v3m1-40v14m1-14v4m0 7v3m1-23v4m0 16v3m0 4v3m0 19v2m1-24v3m2-30v13m1-13v4m0 5v4m0 17v3m2-24v7m1-3v3m1 4v3m1 7v3m1-24v4m0 17v6m1-6v3m1-33v4m0 5v4m0 17v3m0 16v2m1-51v4m0 5v4m1-9v12m0 7v10m1 16v2m1-42v7m0 4v10m0 16v3m1-33v4m0 7v3m2-30v9m0 14v7m1-17v3m0 14v6m1-3v3m1-36v4m2 23v3m0 3v3m1-23v3m0 4v3m0 4v3m1-30v9m0 14v4m2-23v5m4 30v2m1-32v4m1-9v9m0 17v3m0 20v2m1-51v5m0 42v2m1-53v4m1 5v7m0 14v6m0 15v2m1-44v7m0 11v3m1-21v7m0 7v4m2-23v5m0 4v3"/><path stroke="#00ffe8" d="M.5 27v3m0 16v3m1-33v4m1 7v3m3 0v3m1-10v4m2-7v7m2-4v4m3-27v4m3 5v4m1 14v3m4 0v3m1-6v3m1-7v4m1-27v4m0 23v3m1-3v3m3 16v3m1-3v3m1-19v3m2-33v9m0 11v3m1 26v2m1-31v7m2-18v4m0 36v2m1-2v2m1-31v3m1-14v14m4 23v3m3-3v3m1-29v3m3-23v4m0 12v4m3 7v3m2 19v2m1-42v4m3-4v4m0 33v3m2-19v3m1 11v2m3-16v3m0 13v3m2 4v2m7-51v5m4 46v2m1-13v2m7 9v2m9 0v2m5-2v2m5-23v3m1-6v3m1-27v4m0 23v3m2-3v3m1 0v2m2-41v4m1 45v2m3-15v3m4 12v2m2 0v2m5-19v3m3-9v3m1-6v3m1-17v3m0 11v3m2-3v3m1 19v2m4-7v2m3 5v2m1-53v4m1 32v3m2 14v2m1-28v3m2-26v5m1 46v2m3-24v3m1 10v3m3 0v2m1-24v3m7-30v4m1 29v3m1 10v3m2-22v3m1-7v4m2 3v3m1 16v2m1-5v3m1-19v3m3-6v3m2 19v2m11-5v3m1-3v3m5-19v3m1-6v3m2 6v3m1 10v2m5-18v3m3 3v2m1 10v2m1-49v5m0 40v2"/><path stroke="#00ff40" d="M.5 30v3m1-3v3m0 11v2m8-16v3m1-3v3m0 11v2m2-2v2m4-2v2m8-10v3m3 5v2m3-10v3m2-16v4m2 3v3m2 13v3m2-26v7m14-3v3m7 0v3m4 11v2m1-2v2m4 5v2m1-2v2m1-12v3m6 9v2m5-9v3m3 0v2m3-7v2m3 3v2m1 4v2m1-11v3m0 6v2m2-2v2m16-16v5m9-7v2m3 10v2m2-14v2m2-5v3m6 5v2m3 0v3m7 0v2m4-24v3m4 6v3m2 7v3m3-5v2m1-13v3m1-6v3m5 13v3m1-13v3m0 10v2m3-15v5m2-8v3m6 3v2m1-8v3m2 8v2m1-10v3m4-3v3m0 7v3m5-19v3m1-3v3m3 0v3m2 0v3m1 5v2m4-16v3m3 11v2m3 0v3m2 2v2m6-14v2m0 8v2m1-5v3"/><path stroke="#00ff1c" d="M.5 33v3m6 8v2m14-7v2m2-8v3m2 5v3m1-8v3m2-3v8m4-14v3m1-6v3m1-3v3m3 14v2m3-19v3m1 0v3m0 8v3m1 0v2m8-2v2m3-5v3m2 0v2m4-13v3m1-3v3m0 3v2m6 3v2m5 7v2m1-4v2m3-4v2m8 2v2m4-6v2m1 4v2m3-4v2m1-6v2m6 4v2m4-11v3m4-10v2m1-5v3m3 0v2m2-2v2m1-2v2m2 0v3m3 0v2m6-2v2m0 3v2m3-7v2m2-2v2m1-10v3m9 5v2m3 0v3m4-8v3m1-14v3m1 0v3m0 10v3m1-13v3m2 12v2m1-4v2m2-15v3m0 5v2m5 0v3m6-10v2m4 0v3m3-11v3m9-3v3m0 10v3m2-5v2m3-2v2m1-2v2m11-13v3m9 13v2m7-7v2"/><path stroke="#00ff2e" d="M.5 36v3m2-9v3m1 11v2m1-10v3m1-6v3m2 8v5m1-19v3m6 11v2m3-16v3m4 0v3m2-6v3m3 11v2m2-2v2m3-19v3m2 14v2m2-16v3m1-3v3m3 11v2m1-2v2m5-2v2m1-7v2m1-11v3m1 8v3m7-8v3m1 0v2m1-5v3m3-6v3m2 0v3m4 5v2m8 7v2m3-4v2m2 0v2m1-2v2m3 0v2m1-2v2m1-4v2m1-2v2m7-6v2m2-5v3m4 2v2m1 2v2m1-16v3m2-11v3m5 10v3m5-16v3m2 0v3m1 0v2m2 5v3m3-8v3m2-8v3m4 0v2m4 5v3m10-13v3m13-6v3m0 8v2m11-2v2m2-10v3m3 5v2m2-13v3m2 0v3m1 7v3m2-16v3m1 3v2m1 5v3m8-5v2m1-2v2m1-5v3m5-5v2m1 3v2m14-5v3"/><path stroke="#00ff0a" d="M.5 39v2m0 3v2m1-13v6m8-6v3m0 8v2m1-13v3m1-9v3m1 6v3m1-3v8m4 0v2m2-13v3m6-3v3m3 3v2m1 3v2m2-2v2m9-7v2m1-11v3m4 6v2m1 0v3m1-11v3m2-3v3m2 0v3m0 2v3m1-14v6m2 0v3m2 5v5m1-3v3m4-10v2m5 10v2m1-4v2m1-5v3m2 0v2m1-7v2m0 7v2m1-9v3m0 2v2m1-7v3m2-3v3m0 4v2m1-4v2m4-7v3m1 4v2m1-4v2m2-2v2m1-2v2m2-7v3m4 4v2m3-6v2m0 2v2m2 0v2m2-8v2m1 4v2m3-16v3m2-8v3m9 7v3m2-5v2m1-5v3m3 5v2m1-10v5m1 3v2m1-12v2m1 0v3m2 2v3m4-5v2m1 0v3m1-16v3m1-3v3m4 8v2m9-7v2m3 0v3m8 0v2m3-2v2m9-10v3m22 2v3m13 2v3m3-8v3m6 2v3"/><path stroke="#00ff52" d="M.5 41v3m2 0v2m7 0v3m2-26v4m0 19v3m1-19v3m1 0v3m2 0v3m4 5v2m2 0v3m1-5v2m2-13v3m1 8v2m3-13v3m2 8v2m4 0v3m10-13v3m2 5v2m1-2v5m4-16v3m4 10v3m6-16v3m3-3v3m1-3v3m4 10v3m3 4v2m5-2v2m2-9v3m1 6v2m2-11v3m2-3v3m0 4v2m2-4v2m13-7v5m1-5v3m14-13v3m1 7v3m1-5v2m5 5v2m1-17v3m1 7v3m1-13v3m0 2v3m3-3v3m1 2v3m2-16v3m0 13v2m2-21v3m2 13v3m3-3v3m3-13v8m5 2v3m10-16v3m4-3v3m1 10v3m5-13v3m1 5v2m1-2v2m4-2v2m3-2v2m2-2v2m2-13v3m6 10v3m2-16v3m4-6v3m0 11v2m13 3v2m1-2v4m2-14v2m3 8v2m1-12v2m1 5v3m1-8v3"/><path stroke="#1045f3" d="M.5 49v2m0 13v2m0 3v1m1-21v4m2-4v2m0 6v2m0 10v1m1-57v7m0 31v2m1-40v3m0 33v2m0 10v2m0 7v1m1-20v2m0 2v2m0 4v2m1-12v2m0 2v2m1-8v2m0 12v1m1-5v2m0 3v2m1-13v4m0 2v2m0 10v2m1-22v2m1-4v2m1-2v2m0 13v2m1-62v5m0 7v4m0 33v2m0 12v2m1-65v9m0 3v4m0 29v2m0 6v2m3 12v2m2-50v4m0 34v2m1-47v4m0 31v2m0 18v2m2-22v2m0 17v1m1-10v2m0 1v2m0 1v2m1-6v1m1 2v1m1-1v1m0 2v1m1-4v1m1-67v4m0 9v3m1 45v2m1-12v2m0 6v2m1-12v2m0 2v4m0 6v1m2-13v2m1-2v2m1 0v2m0 4v2m2-8v2m0 9v2m2-17v2m0 2v2m0 6v2m1-10v2m1-9v3m0 8v2m1-10v2m0 4v2m3 0v2m0 10v1m2-61v7m0 4v3m1 32v2m0 6v1m1-3v2m1 6v1m1-24v3m2 6v2m2-4v2m0 2v2m1-55v5m0 42v2m1-2v2m1 10v1m1-15v2m1 8v2m1-45v4m1 43v1m1-48v7m0 38v2m1-14v4m0 11v2m1-46v19m0 16v2m0 9v1m1-51v4m0 7v14m1-18v4m0 3v11m0 18v2m1-45v7m0 4v14m1-25v7m0 4v3m0 3v3m1-16v19m1-19v19m1-26v7m0 3v16m0 2v3m1-14v11m1-18v4m0 30v2m1-39v3m0 7v3m0 3v8m0 19v3m1-39v9m0 3v5m1-28v7m0 4v14m0 18v2m0 8v1m1-70v4m0 5v4m0 3v4m0 7v12m1-26v7m0 10v3m0 3v8m0 27v2m1-57v20m0 3v5m0 22v1m1-40v14m1-25v4m0 3v21m1-35v4m0 3v14m0 3v6m0 2v3m1-28v20m0 21v2m1-39v3m0 7v14m1-31v14m0 6v8m1-32v7m0 7v7m0 3v8m0 3v2m1-33v20m0 24v2m1-55v5m0 4v26m0 27v1m1-51v4m0 3v7m0 3v3m0 5v5m1-23v21m0 25v1m1-66v32m1-16v3m0 7v9m0 2v3m1-31v7m0 13v11m0 15v2m0 2v1m1-44v16m0 5v3m0 15v2m1-38v18m0 3v2m1-13v3m0 3v7m1-30v20m0 3v2m0 18v4m1-47v17m0 6v2m0 18v2m0 2v1m1-48v4m0 7v12m0 30v1m1-61v4m0 33v3m1 4v2m1-4v2m1-2v2m1-33v7m0 34v2m1-2v2m1 6v1m1-3v2m1-53v4m0 41v2m1-10v2m0 8v1m1-48v4m0 33v2m1-55v4m1 45v2m1 4v2m1 0v2m3-4v6m1-45v7m0 32v2m3-2v2m1-44v7m0 46v1m1-14v2m1-39v4m0 46v1m0 2v1m1-57v10m2-7v4m1-4v4m0 33v2m1 4v2m0 10v2m3-2v2m1-60v3m0 35v2m0 6v2m1-45v4m0 33v2m0 2v2m0 10v1m3-9v2m0 8v2m1-73v4m0 47v2m0 16v1m1-11v2m1-41v3m0 30v2m1 9v2m1-5v2m0 8v2m1-64v7m0 51v2m1-14v2m1-6v2m0 10v1m1-11v2m3-39v4m0 33v4m1-41v4m0 3v4m2 22v2m0 15v1m1-51v4m0 31v2m0 6v2m0 10v2m2-6v2m1-14v2m0 10v2m1-16v4m0 2v2m2-41v7m0 26v2m1-42v7m0 33v2m1-46v4m0 3v11m0 26v2m0 11v1m1-44v4m0 24v2m0 2v2m2-41v4m0 31v2m0 10v1m1-13v2m0 14v2m1-12v2m0 10v1m1-13v2m1-8v2m0 13v1m1 2v1m2-66v5m0 42v2m1 8v2m1-10v4m2-48v4m0 3v7m0 28v2m0 10v1m2-13v4m0 15v3m2-73v4m0 9v3m0 37v2m0 12v2m2-14v2m1 9v1m2-18v2m1 0v2m0 6v2m0 10v2m1-18v2m1-4v2m0 6v2m2 4v2m1-49v3m0 47v1m1-20v2m1-37v4m0 10v3m0 18v4m0 4v2m1-45v7m0 38v2m1-14v2m0 13v3m1-12v2m0 7v2m1-50v4m0 51v2m1-64v4m0 33v3m0 4v2m1-35v3m0 36v2m1-45v4m0 3v10m0 18v6m0 12v1m1-66v5m0 7v4m0 7v6m0 37v1m1-67v5m0 7v4m0 7v6m0 33v1m1-51v20m0 19v4m1-55v5m0 7v11m0 6v6m0 24v1m1-7v2m1-6v2m0 8v1m2-11v2m0 16v2m1-20v4m0 12v1m2-17v2"/><path stroke="#3506b8" d="M.5 53v8m0 2v1m0 6v1m1-8v1m0 7v2m1-22v10m0 3v3m0 2v2m1-18v2m0 9v2m0 1v2m0 1v1m1-22v2m0 4v9m0 2v3m1-18v4m0 4v2m1-8v2m0 2v4m0 2v1m0 2v3m0 2v2m1-20v2m0 4v5m0 3v2m0 1v3m1-20v2m0 2v2m0 8v4m1-2v1m0 1v2m1-22v2m0 8v2m0 1v2m0 3v1m1-17v2m0 2v4m0 10v2m1-22v2m0 8v5m0 5v2m1-18v2m0 4v3m0 7v2m1-24v4m0 2v2m0 9v1m0 3v1m1-20v6m0 2v5m0 2v1m0 2v2m1-20v2m0 2v6m0 9v1m1-20v2m0 6v2m0 2v3m1-17v2m0 4v6m0 3v3m1-14v6m0 5v2m0 3v1m0 1v2m1-24v2m0 2v4m0 2v2m0 9v3m1-20v2m0 11v3m1-18v4m0 2v4m0 5v3m0 2v2m1-20v2m0 11v1m1-10v4m0 8v1m0 1v2m1-22v4m0 2v2m0 2v2m0 1v2m0 4v3m1-22v2m0 4v2m0 8v2m0 1v1m1-20v2m0 2v2m0 4v2m0 8v2m1-22v4m0 9v2m0 1v3m1-21v4m0 4v2m0 2v2m0 6v1m1-21v2m0 8v2m0 2v1m0 2v1m0 3v3m1-16v2m0 2v5m0 5v2m1-16v2m0 2v2m0 6v1m0 1v2m1-22v4m0 2v2m0 4v3m0 3v1m0 1v2m1-20v4m0 2v2m0 2v1m0 2v1m1-14v2m0 4v2m0 5v1m0 2v2m1-8v1m0 5v2m1-14v7m0 2v1m0 4v2m1-18v2m0 2v5m0 3v2m1-14v2m0 4v3m0 3v3m1-6v2m0 1v4m1-20v2m0 8v3m0 2v3m1-20v2m0 2v4m0 2v7m0 1v2m0 1v3m1-22v4m0 11v1m0 4v2m1-22v2m0 6v2m0 8v1m1-17v2m0 6v2m0 3v3m0 1v1m1-22v4m0 10v1m0 2v3m0 1v3m1-20v8m0 2v3m0 3v1m1-21v2m0 4v2m0 7v3m0 4v2m1-20v2m0 4v2m0 5v1m0 3v3m1-22v4m0 4v2m0 3v2m1-17v2m0 4v14m0 2v2m1-24v6m0 2v6m0 4v2m1-18v2m0 2v6m0 2v3m0 1v2m1-20v2m0 2v2m0 8v6m0 2v2m1-20v2m0 4v2m0 3v2m0 4v3m1-14v2m0 2v1m0 3v2m1-16v2m0 6v2m0 3v3m0 1v1m1-14v4m0 5v4m1-21v6m0 4v2m0 3v5m1-14v2m0 4v2m0 1v5m0 1v1m1-22v2m0 2v2m0 2v2m0 2v2m0 6v1m0 1v2m1-24v2m0 2v2m0 2v4m0 3v3m0 2v1m1-21v4m0 4v2m0 7v1m0 2v1m0 1v2m1-24v2m0 2v2m0 9v2m0 3v2m1-14v4m0 9v1m1-14v2m0 2v2m0 1v2m0 1v3m1-11v2m0 8v2m1-4v3m0 1v2m1-16v4m0 2v1m0 5v1m0 1v2m1-14v2m0 3v2m0 3v1m0 1v2m1-14v2m0 3v3m1-28v2m0 16v2m0 2v2m0 6v1m1-31v2m0 18v2m0 3v2m1-9v2m0 2v2m0 4v6m1-14v2m0 3v2m0 4v1m1-10v2m0 3v1m0 4v2m1-14v2m0 2v1m0 6v1m1-30v3m0 13v2m0 2v5m0 1v2m0 2v2m1-60v3m0 23v2m0 18v2m0 3v3m0 2v2m1-38v3m0 25v2m0 1v2m0 1v3m1-7v1m0 3v2m1-28v3m0 19v4m1-3v2m0 4v3m1-34v2m0 25v3m0 1v1m1-35v8m0 22v4m1-11v10m0 2v2m1-10v3m0 4v1m1-55v4m0 21v3m0 13v2m0 4v3m1-33v13m0 13v5m0 2v3m0 1v3m1-34v5m0 20v2m0 4v1m1-41v3m0 3v5m0 18v2m0 2v1m1 0v3m1-31v10m0 11v7m0 5v2m1-32v2m0 22v3m0 4v1m1-10v2m0 1v2m1-50v4m0 16v5m0 20v2m0 1v2m0 1v3m0 1v2m1-32v3m0 15v2m0 2v4m0 3v1m1-48v4m0 32v2m0 3v2m0 1v2m0 1v1m1-35v3m0 2v3m0 19v1m0 5v1m0 1v2m1-40v6m0 22v2m0 7v3m1-20v2m0 2v4m0 6v2m0 1v1m1-20v6m0 2v2m0 5v3m0 2v2m1-16v2m0 11v1m1-16v2m0 12v1m1-13v2m0 8v2m0 2v2m1-18v2m0 7v5m0 1v3m1-2v2m1-22v6m0 2v4m0 1v3m0 4v2m1-16v2m0 4v1m0 2v1m0 4v2m1-22v8m0 4v3m0 3v1m1-15v4m0 2v2m0 3v1m1-10v2m0 2v3m0 3v3m0 1v2m1-20v4m0 10v2m0 1v3m1-22v2m0 6v7m0 4v3m1-20v2m0 6v2m0 1v2m1-15v2m0 17v1m1-18v4m0 2v2m0 2v1m0 2v1m0 3v1m1-12v4m0 1v3m1-6v2m0 6v2m1-8v3m0 1v2m0 1v1m1-14v2m0 4v3m0 1v2m1-10v4m0 4v2m0 1v3m1-12v2m0 1v5m0 1v1m1 0v2m1-12v3m1-11v2m0 8v1m0 7v2m1-22v2m0 2v9m0 2v4m0 1v2m1-22v4m0 6v5m0 1v3m0 1v2m1-18v2m0 4v2m0 3v1m0 3v3m1-18v2m0 2v2m0 2v3m0 1v2m0 1v1m1-20v6m0 6v7m1-19v2m0 8v2m0 1v2m1-15v4m0 2v6m0 6v4m1-20v6m0 2v2m0 1v7m1-16v2m0 9v1m0 2v1m1-21v2m0 10v2m0 8v2m1-24v4m0 4v2m0 4v1m0 6v1m1-20v6m0 6v3m0 3v1m1-24v5m0 4v2m1-8v2m0 4v4m0 7v3m0 1v3m1-22v4m0 2v2m0 5v5m0 1v3m1-18v2m0 14v2m1-3v1m1-14v2m0 4v1m0 3v2m0 1v1m1-20v2m0 2v4m0 2v3m0 2v1m1-10v4m0 5v1m0 3v1m1-18v4m0 2v2m0 8v1m0 1v2m1-18v2m0 4v2m0 4v2m1-14v2m0 2v2m0 2v1m0 2v1m0 3v1m1-12v2m0 2v1m0 5v1m1-13v2m0 10v2m1-20v2m0 6v2m0 5v5m1-14v6m0 3v1m1-10v4m0 2v3m1-9v2m0 2v5m0 3v1m1-19v2m0 11v5m1-14v2m0 2v2m0 2v1m0 2v1m0 3v1m1-14v4m0 9v1m1-4v2m0 2v2m1-20v4m0 6v1m0 2v3m0 1v3m1-18v2m0 2v2m0 2v1m0 3v4m1-16v2m0 2v2m0 3v2m0 5v2m1-10v3m0 4v1m1-18v2m0 2v2m0 2v2m0 1v2m0 3v2m1-20v2m0 6v4m0 4v2m1-16v4m0 9v1m0 3v1m1-16v6m0 2v1m0 5v2m1-22v2m0 4v2m0 4v2m0 1v3m1-14v4m0 10v2m0 1v3m1-20v2m0 9v2m1-17v14m0 3v3m0 2v2m1-14v2m0 2v3m0 1v2m0 1v1m1-18v2m0 6v3m0 2v3m0 1v1m1-20v4m0 2v2m0 4v1m1-7v2m0 2v2m0 3v1m0 3v1m1-18v2m0 6v3m0 2v1m0 2v1m1-17v4m0 9v1m0 2v2m1-20v6m0 6v1m0 2v4m1-15v4m0 4v1m0 5v1m1-17v2m0 9v5m1-18v2m0 2v4m0 4v3m0 3v4m1-4v1m1-17v2m0 4v2m0 2v1m0 2v4m1-17v2m0 8v1m0 3v3m0 1v2m1-18v2m0 2v2m0 2v1m0 5v1m1-15v2m0 6v1m0 2v1m0 2v1m0 1v2m1-20v2m0 8v4m0 2v1m1-21v4m0 4v2m0 2v6m0 3v1m1-22v4m0 4v2m1-10v4m0 13v1m0 2v2m1-20v4m0 2v4m0 3v2m0 4v1m1-22v6m0 4v2m0 6v2m0 2v2m1-20v2m0 4v2m0 3v5m1-49v3m0 34v2m0 11v3m1-24v2m0 2v8m0 2v6m1-12v2m0 4v1m1-11v2m0 2v2m0 7v3m0 1v3m1-20v2m0 12v4m1-20v2m0 4v4m0 2v4m0 2v1m1-19v2m0 4v2m0 2v2m0 8v2m1-16v7m1-41v4m0 28v6m0 2v1m0 2v1m1-8v2m0 2v1m0 5v1m1-11v2m0 8v1m1-17v2m0 2v2m0 7v1m1-12v2m0 2v2m0 2v1m0 5v4m1-18v8m0 4v2m1-16v6m0 2v2m0 4v2m0 2v2m1-16v4m0 2v1m0 2v3m0 1v1m1-14v4m0 2v1m0 2v1m1-16v4m0 4v2m0 2v6m1-14v8m0 1v6m0 1v2m1-22v8m0 5v2m0 3v1"/><path stroke="#1b0042" d="M.5 61v2m0 3v3m0 2v2m1-20v4m0 2v4m0 1v7m1-22v2m0 10v3m0 3v2m0 2v2m1-22v2m0 2v2m0 4v3m0 2v1m0 4v2m1-20v2m0 9v2m0 3v4m1-18v4m0 4v1m0 3v3m0 1v2m1-4v1m1-13v2m0 5v3m0 2v1m1-19v2m0 2v2m0 2v4m0 1v3m1-12v4m0 2v3m0 2v3m1-12v2m0 4v1m0 2v3m0 1v1m1-16v2m0 4v3m0 2v1m0 2v2m1-18v4m0 2v2m0 5v3m1-18v2m0 4v4m0 5v1m0 3v1m1-14v2m0 2v3m0 7v2m1-6v2m0 2v2m1-20v2m0 8v1m0 2v4m0 1v2m1-20v6m0 2v2m0 3v3m0 1v3m1-22v2m0 8v3m0 3v4m1-20v2m0 6v5m0 2v1m0 3v1m1-20v2m0 4v2m0 4v7m1-15v2m0 2v7m0 3v1m1-15v2m0 4v3m0 5v2m1-16v8m0 1v2m0 1v3m0 1v2m1-22v6m0 9v1m0 3v1m1-16v2m0 9v4m1-17v4m0 2v7m0 5v2m1-24v2m0 2v2m0 2v4m0 3v2m0 1v2m0 1v1m1-16v4m0 11v1m1-18v4m0 2v2m0 2v3m0 1v2m0 1v3m1-22v6m1-4v4m0 9v5m1-20v2m0 6v2m0 5v3m1-14v2m0 2v2m0 6v2m0 1v1m1-14v2m0 5v2m0 1v6m1-18v4m0 2v5m0 1v2m0 2v2m1-18v4m0 5v3m1-14v4m0 7v2m0 1v2m0 1v1m1-20v2m0 4v2m0 10v1m0 1v2m1-22v4m0 2v4m0 3v3m0 3v3m1-22v2m0 2v6m0 2v1m0 2v1m0 4v2m1-18v6m0 9v3m1-22v2m0 13v1m0 2v1m1-13v6m0 4v4m1-18v6m0 2v2m0 1v5m0 1v3m1-22v2m0 2v2m0 2v2m0 8v1m0 1v2m1-20v4m0 2v4m0 1v2m1-15v2m0 8v2m0 8v2m1-22v4m0 2v7m0 5v2m1-14v2m0 5v2m0 1v2m1-14v4m0 7v7m1-22v4m0 15v1m1-8v3m0 3v4m1-27v3m0 4v2m0 11v1m0 2v4m1-16v6m0 6v2m1-16v4m0 2v3m0 2v1m0 2v1m1-15v2m0 4v2m0 1v3m0 2v1m1-13v4m0 3v2m0 3v1m1-17v4m0 4v3m0 7v2m1-18v2m0 12v1m0 1v2m1-22v4m0 2v4m0 2v1m0 5v1m0 1v2m1-22v2m0 2v2m0 6v6m0 1v1m1-25v3m0 6v2m0 4v3m0 7v2m1-20v4m0 2v4m0 1v2m0 4v1m1-20v2m0 2v4m0 4v1m0 2v3m1-14v2m0 4v3m0 2v4m0 1v2m1-14v2m0 2v1m0 6v3m1-18v2m0 6v4m0 4v2m1-18v4m0 2v6m0 3v1m1-10v2m0 1v5m0 1v1m1-10v2m0 3v1m0 3v1m1-4v2m0 1v3m1-14v2m0 3v2m0 4v3m1-16v2m0 4v1m0 5v4m1-14v2m0 2v3m1-5v3m0 2v4m1-13v4m0 6v2m0 1v1m1-7v5m0 2v2m1-7v1m0 3v1m1-10v2m0 4v2m1-10v2m0 2v1m0 2v1m0 3v1m1-12v4m0 1v2m0 3v4m1-14v2m0 6v6m1-14v5m0 2v1m0 2v1m1-11v5m0 7v2m1-14v5m0 6v1m1-2v1m1-3v3m1-11v4m0 7v1m1-7v2m0 3v1m1-11v5m0 7v2m1-12v2m0 1v3m0 3v3m1-14v5m0 3v2m0 1v3m1-9v3m0 4v2m1-14v4m0 3v3m1-3v4m0 1v2m1-10v1m0 2v1m0 3v1m1-10v2m0 4v3m1-9v2m0 3v1m0 2v1m0 1v2m1-9v5m0 1v1m1-7v2m1-11v2m0 4v3m1-15v2m0 10v5m0 4v1m1-20v2m0 2v2m0 4v5m0 1v3m1-13v10m0 3v1m1-18v4m0 4v3m0 2v1m0 2v2m1-18v2m0 2v4m0 2v1m0 5v1m1-19v6m0 2v2m0 2v8m1-8v1m0 6v1m1-10v2m0 6v2m1-12v2m0 5v1m1-8v2m0 3v2m0 3v4m1-22v2m0 2v2m0 2v2m0 5v1m0 3v1m1-14v4m0 2v4m0 2v1m1-15v4m0 7v4m1-13v4m0 2v1m0 2v7m1-20v2m0 4v2m0 2v7m1-13v2m0 2v2m0 1v2m0 1v3m0 1v2m1-18v2m0 10v6m1-10v3m0 5v2m1-16v6m0 3v1m0 4v2m1-14v2m0 8v4m1-9v3m1-10v4m0 2v1m0 5v1m0 1v2m1-18v4m0 2v2m0 1v2m0 1v4m1-16v4m0 5v3m0 2v4m1-16v6m0 1v2m0 4v1m1-18v2m0 9v2m0 4v1m1-16v2m0 2v2m0 9v1m1-20v2m0 4v4m0 2v3m0 1v3m1-13v2m0 2v2m0 3v1m0 2v1m0 1v2m1-16v2m0 2v2m1-14v2m0 2v8m0 2v1m0 2v7m1-10v4m1-16v2m0 6v2m0 2v1m1-11v2m0 2v2m0 2v5m0 1v2m0 2v2m1-18v2m0 2v2m0 2v1m0 2v3m0 1v1m1-18v4m0 2v4m0 1v3m0 4v2m1-24v2m0 6v2m0 2v2m0 3v3m0 1v1m1-20v4m0 2v4m0 3v7m1-12v7m1-11v2m0 4v3m0 5v1m1-13v4m0 2v1m0 2v1m0 2v2m1-16v8m0 3v4m0 1v2m1-20v4m0 2v2m0 3v3m0 2v1m1-17v2m0 4v2m0 3v2m0 3v4m1-12v3m0 3v3m0 1v2m1-16v2m0 2v2m0 1v2m0 1v2m0 1v1m1-12v2m0 2v4m0 2v4m1-16v2m0 2v2m0 1v2m0 3v1m0 1v2m1-16v2m0 2v2m0 1v5m0 1v3m1-14v10m1-16v6m0 2v5m0 5v2m1-22v6m0 6v3m0 1v6m1-22v6m0 4v2m0 4v2m0 1v3m1-20v4m0 9v3m0 1v1m1-18v2m0 4v5m0 6v3m1-16v2m0 5v2m0 5v2m1-20v2m0 6v2m0 1v3m0 4v2m1-16v2m0 2v6m0 2v2m1-20v2m0 4v6m0 1v2m0 3v1m1-13v2m0 2v2m0 1v3m0 4v2m1-16v2m0 7v4m1-15v6m0 10v2m1-6v2m0 2v2m1-16v2m0 5v2m0 5v2m1-16v6m0 1v2m0 3v1m1-17v2m0 9v3m0 4v2m1-14v2m0 2v1m0 3v2m0 1v3m1-24v4m0 13v1m0 2v1m1-15v2m0 2v5m0 3v6m1-10v1m0 6v1m1-18v4m0 4v2m0 3v1m0 2v1m1-15v6m0 8v1m0 1v2m1-18v2m0 2v2m0 3v2m0 3v4m1-14v2m0 2v3m0 3v1m0 1v2m1-22v2m0 2v6m0 6v2m0 2v2m1-9v2m1-9v6m0 1v2m0 4v3m1-12v2m0 3v3m1-14v4m0 2v3m0 5v1m1-11v2m0 5v1m1-16v10m0 3v5m0 1v3m1-16v2m0 2v2m0 1v2m1-15v2m0 4v2m0 2v2m0 1v2m1-15v4m0 2v2m0 2v2m0 1v5m0 2v2m1-22v4m0 2v4m0 3v2m0 1v2m0 1v1m1-16v4m0 8v2m0 1v1m1-18v2m0 4v2m0 8v1m0 1v2m1-18v2m0 2v2m0 3v9m1-20v4m0 2v2m0 3v2m0 1v2m0 2v2m1-18v2m0 4v3m0 2v1m1-12v4m0 2v6m0 2v1m1-15v4m0 10v4m1-18v2m0 4v2m0 1v2m0 1v3m1-19v2m0 16v1m0 1v2m1-22v6m0 2v4m0 4v4m1-20v2m0 6v4m0 6v1m1-19v2m0 2v4m0 2v3m0 2v1m1-18v2m0 4v2m0 4v2m0 4v2m1-16v4m0 6v1m0 2v5m1-7v5m0 1v3m1-12v2m0 4v3m0 1v2m1-18v4m0 2v2m0 1v2m0 4v3m1-12v5m0 1v2m0 2v2m1-18v2m0 2v4m0 1v2m0 1v3m0 1v2m1-12v2m0 4v2m1-5v3m0 2v4m1-14v2m0 2v1m0 2v1m0 2v2m1-16v2m0 4v2m0 1v2m0 3v1m1-6v2m0 1v2m1-14v4m0 2v2m0 7v3m1-10v1m0 6v1m1-12v5m0 2v3m0 2v2"/><path stroke="#00f4ff" d="M1.5 4v5m0 4v3m0 30v3m2-22v3m3-10v3m0 26v2m1-35v4m1-20v13m0 3v4m0 26v3m1-40v4m0 10v4m1-18v4m0 33v3m1-36v7m0 29v2m1-28v4m0 19v3m1-45v5m0 18v6m3-29v5m0 14v4m0 19v3m2-45v5m0 18v3m1-26v5m6 0v4m0 10v4m2-18v4m4-4v7m1-7v11m1-7v3m0 4v3m1-14v4m1-4v7m0 7v4m0 22v2m1-51v4m0 9v3m0 7v4m1-18v7m0 4v3m1-23v4m0 5v11m0 29v2m1-51v9m1 4v3m0 4v7m3 0v6m1-20v3m0 30v3m1-49v4m0 5v4m0 7v7m1-27v13m1-9v16m0 3v4m1 19v3m1 0v2m1-47v5m0 14v4m1 0v3m1-7v4m4-27v4m0 29v3m2 13v2m1-28v4m1-4v4m2 6v3m1-36v13m2-9v5m1 44v2m3-14v3m1-5v2m4 14v2m1-57v4m0 9v3m1 28v2m4-2v2m3 11v2m4-55v5m0 32v3m4 2v3m2 6v2m2-57v4m0 40v2m3-42v5m0 4v3m0 41v2m6-10v2m1-51v4m1 5v4m2 36v2m3-15v3m0 12v2m2-23v3m1-3v3m2-29v5m1 27v3m0 10v2m4 2v2m5-22v3m1 10v3m4-49v13m1-4v4m0 10v4m2-23v9m0 10v4m0 22v2m1-21v3m1 13v3m5-49v9m0 40v2m1-15v3m1-30v4m3-4v4m0 10v4m1 22v2m1-47v5m1 21v3m2 0v3m3-32v5m0 21v3m1-3v3m2-24v4m1 36v2m2-42v4m0 23v3m1-3v3m2 12v2m3-53v4m0 5v4m1-13v13m0 17v3m2-10v4m2 0v3m1-26v5m2 21v3m2-29v5m1 21v3m0 16v2m1-47v5m1-5v9m0 10v4m0 22v2m1-24v3m2 19v2m5-24v3m2-26v5m0 4v3m1 7v4m0 19v3m3-45v5m0 40v2m8-12v2m4 0v3m0 5v2m2-42v4m0 26v2m1-32v4m0 38v2m1-53v4m1-4v4m1 32v3m1-3v3m0 12v2"/><path stroke="#00ff93" d="M1.5 23v4m3 17v2m2-19v3m10 3v3m2-6v3m1 13v3m1-13v3m10-6v3m4-9v3m1-3v3m1-3v3m3-7v4m0 19v3m1-3v3m5-19v3m1-3v3m1-6v3m1 14v2m6-13v3m3 13v2m1-21v3m14 11v2m1-2v2m2 9v2m3-11v3m4 6v2m6-2v2m2-11v3m12-5v2m2-13v3m12 10v3m10 0v2m7-24v3m0 16v3m6-19v3m1 0v3m0 8v2m8 3v2m2 2v2m3-9v3m3-3v3m8-13v3m0 10v2m5-7v2m1 0v3m11-16v3m6 10v3m5-13v3m3 7v3m4-19v3m3 8v3m1 7v2m4-9v2m3-10v3m3 10v2"/><path stroke="#00ff64" d="M1.5 27v3m4 14v2m2-23v4m1 0v3m1-3v3m6 14v2m5-5v3m1 0v2m1-16v3m1-6v3m0 16v3m9-3v3m1-3v3m4-3v3m1-3v3m2-22v3m2 3v3m1-3v3m1-3v3m2-3v3m2 3v2m1-11v3m0 13v3m1-19v3m0 13v3m3-5v2m5 0v3m1-5v2m1-2v2m1-2v2m5-5v3m3 0v2m0 7v2m1 0v2m6-11v3m1 0v2m0 4v2m6-11v3m2 0v2m2 6v2m9-13v3m5 0v2m2-5v3m3 0v2m5-2v2m3-18v3m0 8v2m1-13v3m3 3v2m1 10v2m1-4v2m1-12v2m1 8v2m1-18v3m1 8v5m2-3v3m1-5v2m1-10v3m1 7v3m8-19v3m8 3v3m1 10v2m1-21v3m2 0v3m2 0v3m0 12v2m6-7v3m1-19v3m6 13v3m5-19v3m5 0v3m2 10v3m1-3v3m1-5v2m1-19v3m10 0v3m2 11v2m3 0v3m2-13v3m0 7v3m5-8v3m0 2v3m4-3v3m1-13v3m2 2v3m0 5v2m2-2v2m1-7v2"/><path stroke="#41ff00" d="M1.5 39v2m1-2v2m6-2v2m1-5v3m0 2v3m2 0v2m3-5v3m2-8v5m1-5v3m2-3v3m4 2v3m3-3v3m2-3v3m3-11v6m1-9v3m1-3v3m4 0v3m2 3v2m3-5v3m2 2v3m1-8v3m15 2v3m1-3v3m10 2v3m3 2v2m4-4v4m5-2v2m4-4v4m15-17v3m2 0v2m0 5v3m2-8v3m9-5v2m4 0v3m12-5v2m2-8v3m2 5v3m2-11v3m2 5v3m7-5v2m0 3v2m10-5v3m1 0v2m8-7v2m5-11v3m1 3v3m0 2v3m1-3v3m1-11v3m2 8v2m2-10v3m3 2v3m2-3v3m1-8v3m1 0v2m1-2v2m2-5v3m2-6v3m3 3v2m2 0v3m2-5v2m1 3v2m1-10v3m8 7v3m3-5v2"/><path stroke="#32ff00" d="M1.5 41v3m1-11v3m2 3v5m3-11v3m1 0v3m9-6v3m2 5v3m4-8v3m3 0v2m2-5v3m5 0v2m3 0v3m1 0v2m2-16v3m6 8v3m2-5v5m3-11v3m2 0v3m1-6v3m4 3v2m1 0v3m5-3v3m2-3v3m1 5v2m7-2v2m14 2v2m5-4v2m1-2v2m9-14v2m1-5v3m5 5v2m5-10v3m2 2v3m6 0v5m2-10v2m2 3v2m1-5v3m4-8v3m4-6v3m7 8v2m1-7v2m2 0v3m2 2v3m2-10v2m1-2v2m9 3v2m5-7v2m6 0v3m6-8v3m1 0v2m8 0v3m3-5v2m12-8v3m1 5v3m2 0v2m4-2v2"/><path stroke="#000000" d="M1.5 57v2m2 0v2m2 3v3m1-3v2m0 4v1m2 0v2m1-3v1m2-7v2m0 1v2m1-12v2m0 10v2m1-4v3m1-11v2m0 3v2m0 3v1m1-6v2m1-5v2m0 1v2m1 3v1m1-17v2m1 12v2m2-12v2m0 11v1m1-7v2m2-3v1m1-5v2m1 8v1m1-7v1m1-5v5m0 7v2m1-7v1m1-10v2m0 5v2m0 1v3m2-6v2m0 4v1m1-10v2m0 3v1m1-6v2m2-2v2m0 4v2m0 2v2m1-4v1m1 0v1m3-7v2m0 3v1m2-7v1m1-1v1m1-7v2m0 4v3m2 0v3m0 1v1m1-4v2m1-8v2m0 6v1m3-15v2m0 9v1m1-18v2m0 10v2m1-12v2m1 14v2m1 1v3m1-18v2m0 6v1m0 7v2m1-9v2m0 4v1m1-14v2m0 2v2m0 7v1m3-20v2m0 14v2m0 1v1m1-4v2m1-10v2m0 10v2m1-20v2m2 2v2m0 2v2m0 4v2m3-6v1m0 3v2m1-8v3m0 5v1m1-7v1m0 2v3m1-8v2m0 3v3m1-3v1m1 4v2m1-4v1m1-9v2m0 6v1m2-7v1m0 7v2m3-12v2m1 4v2m1-5v2m0 3v1m1-6v2m0 5v2m1-3v1m1-5v1m0 4v2m1-7v4m0 1v2m2-6v3m1-3v3m2-3v2m1 0v1m0 1v2m1-3v1m2 0v2m1-10v1m2 2v4m1-6v3m0 4v2m1-16v2m0 10v1m1-11v2m0 10v2m1-20v2m0 12v2m0 2v2m1-14v2m0 3v2m2-9v2m1-2v2m0 8v2m1-10v2m0 3v2m1 1v2m0 1v3m1-6v2m1-5v2m1-5v2m1-10v2m2 0v2m0 4v2m0 8v2m2-16v2m0 4v1m1 2v3m1 0v1m1-9v2m0 3v1m1-4v1m0 5v1m2-11v2m0 2v1m1-5v2m0 6v2m1-14v2m0 10v2m2-12v2m0 7v1m1-14v2m2 15v1m2-16v2m0 10v2m2 1v1m1-20v2m0 11v2m1 1v3m1-11v2m0 10v2m1-10v1m1-11v2m2 6v2m0 1v2m0 1v2m1-6v1m3 0v2m1 0v1m1-10v2m3 12v2m3-4v1m2-15v4m0 10v1m1-17v2m0 6v2m0 6v1m1-7v1m0 5v1m4-9v3m0 6v1m1-10v2m0 4v3m1-11v2m0 2v1m0 2v1m1-14v4m0 6v1m0 2v1m0 2v2m1-4v2m0 2v2m1-12v2m1-12v4m1 4v7m1-9v2m1 5v2m1-9v2m0 12v2m1-9v2m1 0v3m1-2v2m1-5v2m0 4v1m1-14v6m0 4v2m0 2v2m2-14v2m0 3v2m1-7v2m0 10v2m1-12v2m1-2v3m1 6v1m1-16v2m0 2v2m0 9v1m1-1v1m1-10v2m1-2v2m1 4v2m1-6v1m1-7v2m0 2v3m1 5v1m0 1v2m2-12v3m1-1v1m1 6v1m1 0v2m2-14v2m0 3v2m1 4v3m1-9v2m2-13v2m0 9v2m1 1v2m1-3v1m0 3v1m1-1v1m1-7v3m2-3v2m2-5v2m0 7v3m1-4v1m2 0v1"/><path stroke="#75ff00" d="M2.5 36v3m9 2v3m23-3v3m1-3v3m3-3v3m11-3v3m4-5v2m5-2v2m54 3v2m23-10v3m1 2v3m2-11v3m3 5v3m1-3v3m14-5v2m1 0v3m1-3v3m11-5v2m4-5v3m6-6v6m0 2v3m7-5v2"/><path stroke="#6bff00" d="M2.5 41v3m4-8v3m1 2v3m4-14v3m20 6v2m1-2v2m2-2v2m4-5v3m3 2v3m1-5v2m18-2v2m2-2v2m42 0v3m2 0v2m2-5v3m17-3v3m3-3v3m1-5v2m7-5v3m6 5v2m14-10v3m1 0v2m1-5v3m12-3v3m11 5v2"/><path stroke="#00ff76" d="M3.5 30v3m3 13v3m2-5v2m6-13v3m3 10v3m1-5v2m1-16v3m3 13v3m2-19v3m0 11v2m1 0v3m1-16v3m0 10v3m3-16v3m8-9v3m5 14v2m2-2v2m1-19v3m3 3v6m4 5v2m1-16v3m5-6v3m2 0v3m13 20v2m1-11v2m1-2v2m2 0v3m2 6v2m7-11v3m2-3v3m2 6v2m4-11v3m3 0v2m10-5v3m2 0v2m3-5v3m5-10v2m0 5v3m1 0v2m5 0v2m8-23v3m3-3v3m7 0v3m2 0v3m3 12v2m2-20v3m1 15v2m10-4v2m3-15v3m3 7v3m1-3v3m2-5v2m2-19v3m8 0v3m0 8v3m2-14v3m3 0v3m0 13v2m2-18v3m4 8v2m2-16v3m6 13v3m1-3v3m1-5v2m5-5v3m3-3v3m4-3v3m2-3v3"/><path stroke="#07ff00" d="M3.5 33v3m3-6v3m1-3v3m1 0v3m4-3v3m3 5v3m3-11v6m4 2v3m2-5v2m2-5v3m6 5v2m4-13v3m2 8v2m2-10v3m3-3v3m0 5v2m3-10v3m5 0v2m12-5v3m1 0v2m1-5v5m2 5v3m0 2v2m3-7v3m2 0v2m11 2v2m6-6v2m4 2v2m3-6v2m2 0v2m5-9v2m2-2v5m2-10v2m0 3v2m1-7v2m6-2v2m3 0v3m2 2v3m3-8v5m3-10v3m1 0v2m4 3v2m3-16v3m2 0v3m0 8v2m2-2v2m6 3v2m1-12v2m0 5v3m1-5v2m2-2v2m1 0v3m1 0v2m10-5v3m1-10v2m1-2v2m1-2v2m1 5v3m1-8v3m1-3v3m1-3v3m1-5v5m1-5v2m4-5v3m2 2v3m2-8v3m0 2v3m6-5v2m1 5v3m3-8v3m1-3v3m3-8v5m1-2v2m7 3v2m2-7v2m0 5v3m10-3v3"/><path stroke="#4fff00" d="M3.5 36v3m0 2v3m4-8v3m1 2v3m2-5v5m1-11v3m6 5v3m15-11v3m1 0v3m0 2v3m2-8v3m2-9v3m1 0v3m1-3v3m4 5v3m11-5v2m4-5v3m11 10v2m6-2v2m3 2v2m2-4v2m1-2v2m7-4v2m6 0v2m1 2v2m1-6v2m1 0v2m7-11v2m2-7v2m3 0v5m2-2v2m17-7v2m1 0v3m8-5v5m4-5v2m5-8v3m1 5v3m2 2v3m9-16v3m1 0v5m1 0v3m1 0v5m1-8v5m8-13v3m7 3v5m7 0v2m9-7v2m4-5v3m13 5v2"/><path stroke="#59ff00" d="M3.5 39v2m2-2v2m2-2v2m3-5v3m1-3v5m5 0v3m3-5v2m6 0v3m4-8v3m2 2v3m1-8v3m1-6v3m1-3v3m9 3v2m6-2v2m1 3v2m3-10v3m1 2v3m16 7v2m1-4v2m17 2v2m7-4v2m1 0v2m7-16v2m10-2v2m12-2v2m6-5v3m0 2v5m1-5v3m1-3v3m1 0v2m4-5v3m5-5v2m4-5v3m3 0v2m1 0v5m1-5v3m2-8v3m9 2v3m7-5v2m1-2v2m2 3v2m7-10v3m6-3v3m3 0v2m4 0v3m2-5v5"/><path stroke="#15ff00" d="M5.5 36v3m1-6v3m1-9v3m5 9v5m3-5v2m3-2v2m3-5v3m0 2v3m1-8v5m1 3v2m12-2v5m3-19v3m4 8v3m3-11v3m2 0v3m8 0v2m0 3v2m1-5v3m3-3v3m5-8v3m2 7v3m8-3v3m2 0v2m3-2v2m3-2v2m7 2v2m1-4v2m2-4v2m0 2v2m3-2v2m2-4v2m1 0v4m1-4v2m1-4v2m1-9v2m8 0v3m2-3v3m2-5v2m5-2v2m2 0v3m2-3v3m10-13v5m16 3v2m2 3v2m2-7v2m3-10v3m0 2v3m2-11v3m4 13v2m11-7v2m7-16v3m1 11v2m1-10v3m3-3v3m1 2v3m3-11v3m4 8v2m1-2v5m5-8v3m10 0v2m2-5v3"/><path stroke="#62ff00" d="M5.5 41v3m1-3v3m3-5v2m5-2v2m16-2v2m5-8v3m1 3v2m1 0v3m2-3v3m2-5v2m8-5v3m3 0v2m5 0v3m5-3v3m11 7v2m22-4v2m12-10v3m4-3v3m28-11v3m4 8v5m3-13v3m4 2v5m2-7v2m2 0v3m1-5v2m17-2v2m8-2v2m3 3v2m15-13v3m0 3v2m1 0v3"/><path stroke="#00ffbe" d="M5.5 46v3m2-29v3m2 26v2m1-51v4m0 23v3m1-10v3m1 4v3m1 14v2m2-13v3m1-6v3m1-10v4m2 0v3m1 14v2m4 0v3m1-19v3m2 0v3m1-6v3m3-13v7m0 19v3m2-26v4m4-4v4m4 0v3m0 16v3m4-3v3m1-22v3m4-3v3m1 0v3m0 11v2m4-13v3m1 0v3m0 10v2m1-18v3m2-9v3m4 3v3m5 8v2m3-5v3m0 11v2m5-2v2m5-2v2m4-11v3m0 6v2m1-57v4m3 51v2m7 0v2m2-13v3m2-5v2m2-13v3m1-6v3m3 18v2m4-7v3m3-22v3m1 16v3m1 0v2m4-15v3m1 0v2m2-8v3m1-6v3m1 0v3m0 13v2m1-18v3m0 13v2m11-18v3m2-6v3m6 16v2m4-21v3m2 0v3m2 0v3m3 7v3m1-19v3m1-6v3m5 19v2m3-47v5m2 24v3m4-6v3m1 13v3m1-19v3m2 16v2m1-18v3m2 10v3m1-49v4m2 45v2m3-18v3m1 10v3m5-22v3m4 6v3m1-3v3m5 10v2m2-2v2m1-10v3m2 0v2m2 0v5m3-47v5m1 30v2"/><path stroke="#24ff00" d="M6.5 39v2m8-5v3m4 2v3m5-11v3m0 3v2m11 3v2m5-10v3m1-6v3m4 3v2m11 0v3m4-8v3m1-3v3m1-3v3m2 0v2m1 0v3m3 0v2m1 3v2m2-7v2m5 5v2m4-2v2m1-4v2m1-2v2m2-2v2m6 0v2m2-2v2m9-4v2m0 2v2m3-14v3m2-3v3m1 2v3m12-8v3m1 0v2m14-2v2m9 0v3m2-5v2m3-7v2m2-5v3m2 0v2m0 5v3m2-8v3m6-3v3m5 0v2m5-13v3m1 5v3m3 2v3m6-5v2m2 0v3m4-13v3m2-6v3m1 5v3m2-11v3m1 0v3m0 2v3m1-3v3m4 0v2m6 0v3m1-5v2m1-2v2m4 0v3m1-3v3m3-5v2"/><path stroke="#000000" d="M13.5 53v2m10 8v1m27-1v1m53 2v1m46 0v2m31 1v1m3 0v2m11-7v1m3-4v1"/><path stroke="#90ff00" d="M17.5 39v2m117-5v3m0 2v3m5-8v3m11 7v3m23-10v2m2 0v3m21-3v3"/><path stroke="#87ff00" d="M21.5 39v2m4-2v2m12-5v3m1 0v2m3-5v3m12 2v3m35 7v2m25-12v3m20-5v2m16 3v2m4-7v2m36-5v3m11 5v2"/><path stroke="#b5ff00" d="M29.5 39v2m21-2v2m83-5v3m5 0v2m35 0v3"/><path stroke="#9aff00" d="M29.5 41v3m1-3v3m4-8v3m3 0v2m101-5v3m22 5v2m1-5v3m8-8v3m12 0v2m2-2v2m5-5v3m11 0v2"/><path stroke="#7eff00" d="M32.5 41v3m3-5v2m1-5v3m14-3v3m8 5v2m54-5v3m18-5v5m5-5v2m2-5v3m6 2v3m3-3v3m3-3v3m5-5v2m3-5v3m1 0v2m5 3v2m16-7v2m2 0v3m2-3v3m5-5v2m9-2v2"/><path stroke="#a3ff00" d="M41.5 33v3m95 3v2m3-2v2m36-2v2m22 0v3m2-8v3"/><path stroke="#acff00" d="M50.5 41v3m7 0v2"/><path stroke="#beff00" d="M134.5 39v2"/></svg><rect x="92" y="488" width="428" height="1" fill="#fff"/><rect x="92" y="494" width="428" height="11.57" fill="#fff"/><path fill="#00a2ff" d="M95.25 494.46h1.3v1.34h-1.3zm183.08 2.9h1.3v1.34h-1.3z"/><path fill="#220058" d="M99.83 494.46h1.3v1.34h-1.3z"/><path fill="#14002e" d="M104.4 494.46h1.3v1.34h-1.3zm146.46 0h1.3v1.34h-1.3z"/><path fill="#33008f" d="M108.98 494.46h1.3v1.34h-1.3z"/><path fill="#330ac5" d="M113.56 494.46h1.3v1.34h-1.3zm242.58 6.03h1.3v1.34h-1.3zm114.43 0h1.3v1.34h-1.3z"/><path fill="#1d0047" d="M118.13 494.46h1.3v1.34h-1.3z"/><path fill="#000000" d="M122.71 494.46h1.3v1.34h-1.3zm27.46 0h1.3v1.34h-1.3zm4.58 0h1.3v1.34h-1.3zm9.15 0h1.3v1.34h-1.3zm4.58 0h1.3v1.34h-1.3zm4.58 0h1.3v1.34h-1.3zm4.58 0h1.3v1.34h-1.3zm13.73 0h1.3v1.34h-1.3zm4.58 0h1.3v1.34h-1.3zm9.15 0h1.3v1.34h-1.3zm22.89 0h1.3v1.34h-1.3zm9.15 0h1.3v1.34h-1.3zm4.58 0h1.3v1.34h-1.3zm13.73 0h1.3v1.34h-1.3zm9.15 0h1.3v1.34h-1.3zm9.15 0h1.3v1.34h-1.3zm13.73 0h1.3v1.34h-1.3zm18.31 0h1.3v1.34h-1.3zm4.58 0h1.3v1.34h-1.3zm9.15 0h1.3v1.34h-1.3zm9.15 0h1.3v1.34h-1.3zm4.58 0h1.3v1.34h-1.3zm4.58 0h1.3v1.34h-1.3zm9.15 0h1.3v1.34h-1.3zm9.15 0h1.3v1.34h-1.3zm4.58 0h1.3v1.34h-1.3zm4.58 0h1.3v1.34h-1.3zm13.73 0h1.3v1.34h-1.3zm4.58 0h1.3v1.34h-1.3zm4.58 0h1.3v1.34h-1.3zm4.58 0h1.3v1.34h-1.3zm4.58 0h1.3v1.34h-1.3zm4.58 0h1.3v1.34h-1.3zm4.58 0h1.3v1.34h-1.3zm18.31 0h1.3v1.34h-1.3zm9.15 0h1.3v1.34h-1.3zm18.31 0h1.3v1.34h-1.3zm13.73 0h1.3v1.34h-1.3zm4.58 0h1.3v1.34h-1.3zm4.58 0h1.3v1.34h-1.3zm22.88 0h1.3v1.34h-1.3zm9.15 0h1.3v1.34h-1.3zm-411.93 2.9h1.3v1.34h-1.3zm4.58 0h1.3v1.34h-1.3zm4.58 0h1.3v1.34h-1.3zm4.58 0h1.3v1.34h-1.3zm4.58 0h1.3v1.34h-1.3zm9.15 0h1.3v1.34h-1.3zm4.58 0h1.3v1.34h-1.3zm4.58 0h1.3v1.34h-1.3zm9.15 0h1.3v1.34h-1.3zm4.58 0h1.3v1.34h-1.3zm13.73 0h1.3v1.34h-1.3zm4.58 0h1.3v1.34h-1.3zm4.58 0h1.3v1.34h-1.3zm9.15 0h1.3v1.34h-1.3zm4.58 0h1.3v1.34h-1.3zm4.58 0h1.3v1.34h-1.3zm13.73 0h1.3v1.34h-1.3zm13.73 0h1.3v1.34h-1.3zm4.58 0h1.3v1.34h-1.3zm13.73 0h1.3v1.34h-1.3zm4.58 0h1.3v1.34h-1.3zm9.15 0h1.3v1.34h-1.3zm4.58 0h1.3v1.34h-1.3zm9.15 0h1.3v1.34h-1.3zm27.46 0h1.3v1.34h-1.3zm13.73 0h1.3v1.34h-1.3zm27.46 0h1.3v1.34h-1.3zm4.58 0h1.3v1.34h-1.3zm4.58 0h1.3v1.34h-1.3zm9.15 0h1.3v1.34h-1.3zm4.58 0h1.3v1.34h-1.3zm4.58 0h1.3v1.34h-1.3zm4.58 0h1.3v1.34h-1.3zm4.58 0h1.3v1.34h-1.3zm36.62 0h1.3v1.34h-1.3zm9.15 0h1.3v1.34h-1.3zm4.58 0h1.3v1.34h-1.3zm27.46 0h1.3v1.34h-1.3zm13.73 0h1.3v1.34h-1.3zm4.58 0h1.3v1.34h-1.3zm13.73 0h1.3v1.34h-1.3zm4.58 0h1.3v1.34h-1.3zm4.58 0h1.3v1.34h-1.3zm4.58 0h1.3v1.34h-1.3zm13.73 0h1.3v1.34h-1.3zm13.73 0h1.3v1.34h-1.3zm-421.08 3.13h1.3v1.34h-1.3zm9.15 0h1.3v1.34h-1.3zm4.58 0h1.3v1.34h-1.3zm9.15 0h1.3v1.34h-1.3zm4.58 0h1.3v1.34h-1.3zm27.46 0h1.3v1.34h-1.3zm13.73 0h1.3v1.34h-1.3zm4.58 0h1.3v1.34h-1.3zm4.58 0h1.3v1.34h-1.3zm4.58 0h1.3v1.34h-1.3zm13.73 0h1.3v1.34h-1.3zm4.58 0h1.3v1.34h-1.3zm4.58 0h1.3v1.34h-1.3zm4.58 0h1.3v1.34h-1.3zm9.15 0h1.3v1.34h-1.3zm9.15 0h1.3v1.34h-1.3zm4.58 0h1.3v1.34h-1.3zm9.15 0h1.3v1.34h-1.3zm13.73 0h1.3v1.34h-1.3zm13.73 0h1.3v1.34h-1.3zm4.58 0h1.3v1.34h-1.3zm4.58 0h1.3v1.34h-1.3zm4.58 0h1.3v1.34h-1.3zm4.58 0h1.3v1.34h-1.3zm4.58 0h1.3v1.34h-1.3zm4.58 0h1.3v1.34h-1.3zm4.58 0h1.3v1.34h-1.3zm9.15 0h1.3v1.34h-1.3zm4.58 0h1.3v1.34h-1.3zm4.58 0h1.3v1.34h-1.3zm9.15 0h1.3v1.34h-1.3zm9.15 0h1.3v1.34h-1.3zm9.15 0h1.3v1.34h-1.3zm18.31 0h1.3v1.34h-1.3zm4.58 0h1.3v1.34h-1.3zm4.58 0h1.3v1.34h-1.3zm4.58 0h1.3v1.34h-1.3zm13.73 0h1.3v1.34h-1.3zm9.15 0h1.3v1.34h-1.3zm13.73 0h1.3v1.34h-1.3zm9.15 0h1.3v1.34h-1.3zm9.15 0h1.3v1.34h-1.3zm4.58 0h1.3v1.34h-1.3zm9.15 0h1.3v1.34h-1.3zm18.31 0h1.3v1.34h-1.3zm13.73 0h1.3v1.34h-1.3zm4.58 0h1.3v1.34h-1.3zm18.31 0h1.3v1.34h-1.3zm9.15 0h1.3v1.34h-1.3zm9.15 0h1.3v1.34h-1.3zm-402.78 3.57h1.3v1.34h-1.3zm4.58 0h1.3v1.34h-1.3zm9.15 0h1.3v1.34h-1.3zm32.04 0h1.3v1.34h-1.3zm4.58 0h1.3v1.34h-1.3zm13.73 0h1.3v1.34h-1.3zm9.15 0h1.3v1.34h-1.3zm4.58 0h1.3v1.34h-1.3zm9.15 0h1.3v1.34h-1.3zm13.73 0h1.3v1.34h-1.3zm4.58 0h1.3v1.34h-1.3zm4.58 0h1.3v1.34h-1.3zm4.58 0h1.3v1.34h-1.3zm22.88 0h1.3v1.34h-1.3zm13.73 0h1.3v1.34h-1.3zm18.31 0h1.3v1.34h-1.3zm9.15 0h1.3v1.34h-1.3zm9.15 0h1.3v1.34h-1.3zm9.15 0h1.3v1.34h-1.3zm13.73 0h1.3v1.34h-1.3zm18.31 0h1.3v1.34h-1.3zm4.58 0h1.3v1.34h-1.3zm9.15 0h1.3v1.34h-1.3zm4.58 0h1.3v1.34h-1.3zm4.58 0h1.3v1.34h-1.3zm18.31 0h1.3v1.34h-1.3zm4.58 0h1.3v1.34h-1.3zm4.58 0h1.3v1.34h-1.3zm18.31 0h1.3v1.34h-1.3zm4.58 0h1.3v1.34h-1.3zm9.15 0h1.3v1.34h-1.3zm4.58 0h1.3v1.34h-1.3zm4.58 0h1.3v1.34h-1.3zm4.58 0h1.3v1.34h-1.3zm4.58 0h1.3v1.34h-1.3zm4.58 0h1.3v1.34h-1.3zm22.89 0h1.3v1.34h-1.3zm9.15 0h1.3v1.34h-1.3zm13.73 0h1.3v1.34h-1.3zm4.58 0h1.3v1.34h-1.3zm4.58 0h1.3v1.34h-1.3zm9.15 0h1.3v1.34h-1.3z"/><path fill="#24005e" d="M127.29 494.46h1.3v1.34h-1.3z"/><path fill="#0077ff" d="M131.87 494.46h1.3v1.34h-1.3zm146.46 9.61h1.3v1.34h-1.3z"/><path fill="#0094ff" d="M136.44 494.46h1.3v1.34h-1.3zm205.97 0h1.3v1.34h-1.3z"/><path fill="#19003a" d="M141.02 494.46h1.3v1.34h-1.3zm59.5 0h1.3v1.34h-1.3zm4.58 2.9h1.3v1.34h-1.3z"/><path fill="#29006e" d="M145.6 494.46h1.3v1.34h-1.3z"/><path fill="#1839ee" d="M159.33 494.46h1.3v1.34h-1.3z"/><path fill="#030007" d="M182.21 494.46h1.3v1.34h-1.3z"/><path fill="#0e49f5" d="M186.79 494.46h1.3v1.34h-1.3z"/><path fill="#2d007b" d="M209.67 494.46h1.3v1.34h-1.3zm36.62 0h1.3v1.34h-1.3z"/><path fill="#0086ff" d="M214.25 494.46h1.3v1.34h-1.3zm27.46 2.9h1.3v1.34h-1.3zm-96.12 6.7h1.3v1.34h-1.3z"/><path fill="#1b32eb" d="M218.83 494.46h1.3v1.34h-1.3zm22.89 9.61h1.3v1.34h-1.3z"/><path fill="#1f004f" d="M223.41 494.46h1.3v1.34h-1.3z"/><path fill="#3800a0" d="M232.56 494.46h1.3v1.34h-1.3z"/><path fill="#281ee2" d="M260.02 494.46h1.3v1.34h-1.3z"/><path fill="#250062" d="M269.18 494.46h1.3v1.34h-1.3z"/><path fill="#0b001a" d="M278.33 494.46h1.3v1.34h-1.3z"/><path fill="#2f11dd" d="M282.91 494.46h1.3v1.34h-1.3z"/><path fill="#37009e" d="M292.06 494.46h1.3v1.34h-1.3z"/><path fill="#1341f1" d="M296.64 494.46h1.3v1.34h-1.3z"/><path fill="#0d001e" d="M301.22 494.46h1.3v1.34h-1.3zm160.19 0h1.3v1.34h-1.3zm0 9.61h1.3v1.34h-1.3z"/><path fill="#3702a6" d="M314.95 494.46h1.3v1.34h-1.3z"/><path fill="#340094" d="M324.1 494.46h1.3v1.34h-1.3zm-27.46 2.9h1.3v1.34h-1.3z"/><path fill="#0084ff" d="M351.56 494.46h1.3v1.34h-1.3zm-160.2 2.9h1.3v1.34h-1.3zm292.93 3.13h1.3v1.34h-1.3z"/><path fill="#200051" d="M369.87 494.46h1.3v1.34h-1.3z"/><path fill="#009aff" d="M374.45 494.46h1.3v1.34h-1.3z"/><path fill="#0a0016" d="M411.06 494.46h1.3v1.34h-1.3z"/><path fill="#2423e4" d="M415.64 494.46h1.3v1.34h-1.3z"/><path fill="#05000c" d="M420.22 494.46h1.3v1.34h-1.3z"/><path fill="#0095ff" d="M429.37 494.46h1.3v1.34h-1.3zm59.5 6.03h1.3v1.34h-1.3zm-306.66 3.57h1.3v1.34h-1.3z"/><path fill="#143ef0" d="M438.52 494.46h1.3v1.34h-1.3z"/><path fill="#0061ff" d="M443.1 494.46h1.3v1.34h-1.3z"/><path fill="#3603ad" d="M447.68 494.46h1.3v1.34h-1.3z"/><path fill="#0071ff" d="M456.83 494.46h1.3v1.34h-1.3zm32.04 0h1.3v1.34h-1.3z"/><path fill="#310dd3" d="M479.72 494.46h1.3v1.34h-1.3z"/><path fill="#202be8" d="M484.3 494.46h1.3v1.34h-1.3z"/><path fill="#3409c1" d="M493.45 494.46h1.3v1.34h-1.3zm-260.89 9.61h1.3v1.34h-1.3z"/><path fill="#2c0078" d="M502.6 494.46h1.3v1.34h-1.3z"/><path fill="#28006b" d="M511.76 494.46h1.3v1.34h-1.3z"/><path fill="#3604b1" d="M516.33 494.46h1.3v1.34h-1.3z"/><path fill="#0089ff" d="M118.13 497.37h1.3v1.34h-1.3z"/><path fill="#070011" d="M136.44 497.37h1.3v1.34h-1.3z"/><path fill="#0e0020" d="M150.17 497.37h1.3v1.34h-1.3zm-36.62 3.13h1.3v1.34h-1.3z"/><path fill="#009bff" d="M154.75 497.37h1.3v1.34h-1.3z"/><path fill="#2621e3" d="M173.06 497.37h1.3v1.34h-1.3z"/><path fill="#3703aa" d="M195.94 497.37h1.3v1.34h-1.3z"/><path fill="#0c001c" d="M209.67 497.37h1.3v1.34h-1.3zm128.16 6.7h1.3v1.34h-1.3z"/><path fill="#2c007a" d="M223.41 497.37h1.3v1.34h-1.3zm151.04 0h1.3v1.34h-1.3z"/><path fill="#3506b6" d="M227.98 497.37h1.3v1.34h-1.3z"/><path fill="#310dd1" d="M255.45 497.37h1.3v1.34h-1.3z"/><path fill="#025cfd" d="M264.6 497.37h1.3v1.34h-1.3z"/><path fill="#2f0082" d="M269.18 497.37h1.3v1.34h-1.3z"/><path fill="#0085ff" d="M273.75 497.37h1.3v1.34h-1.3z"/><path fill="#320bca" d="M282.91 497.37h1.3v1.34h-1.3zm187.66 0h1.3v1.34h-1.3z"/><path fill="#173aee" d="M292.06 497.37h1.3v1.34h-1.3zm77.81 0h1.3v1.34h-1.3z"/><path fill="#009eff" d="M305.79 497.37h1.3v1.34h-1.3zm-169.35 3.13h1.3v1.34h-1.3z"/><path fill="#0069ff" d="M310.37 497.37h1.3v1.34h-1.3z"/><path fill="#009cff" d="M314.95 497.37h1.3v1.34h-1.3zm137.31 3.13h1.3v1.34h-1.3z"/><path fill="#3407bc" d="M319.52 497.37h1.3v1.34h-1.3zm173.93 0h1.3v1.34h-1.3z"/><path fill="#1a003e" d="M324.1 497.37h1.3v1.34h-1.3z"/><path fill="#110028" d="M342.41 497.37h1.3v1.34h-1.3z"/><path fill="#3506b8" d="M379.02 497.37h1.3v1.34h-1.3zm27.46 0h1.3v1.34h-1.3z"/><path fill="#340093" d="M383.6 497.37h1.3v1.34h-1.3z"/><path fill="#1e004b" d="M388.18 497.37h1.3v1.34h-1.3zm-68.65 3.13h1.3v1.34h-1.3z"/><path fill="#080012" d="M392.75 497.37h1.3v1.34h-1.3z"/><path fill="#19003c" d="M397.33 497.37h1.3v1.34h-1.3zm-27.46 6.7h1.3v1.34h-1.3z"/><path fill="#006eff" d="M420.22 497.37h1.3v1.34h-1.3zm-173.93 6.7h1.3v1.34h-1.3z"/><path fill="#1a003f" d="M424.79 497.37h1.3v1.34h-1.3z"/><path fill="#0656fb" d="M429.37 497.37h1.3v1.34h-1.3z"/><path fill="#0c4cf6" d="M433.95 497.37h1.3v1.34h-1.3z"/><path fill="#0a4ff7" d="M438.52 497.37h1.3v1.34h-1.3z"/><path fill="#0097ff" d="M447.68 497.37h1.3v1.34h-1.3z"/><path fill="#0068ff" d="M452.26 497.37h1.3v1.34h-1.3zm-4.58 3.13h1.3v1.34h-1.3z"/><path fill="#170036" d="M465.99 497.37h1.3v1.34h-1.3z"/><path fill="#07000f" d="M498.03 497.37h1.3v1.34h-1.3z"/><path fill="#100025" d="M507.18 497.37h1.3v1.34h-1.3z"/><path fill="#009fff" d="M511.76 497.37h1.3v1.34h-1.3z"/><path fill="#006dff" d="M99.83 500.5h1.3v1.34h-1.3z"/><path fill="#3800a1" d="M127.29 500.5h1.3v1.34h-1.3z"/><path fill="#23005c" d="M131.87 500.5h1.3v1.34h-1.3z"/><path fill="#153cef" d="M141.02 500.5h1.3v1.34h-1.3z"/><path fill="#320ccd" d="M145.6 500.5h1.3v1.34h-1.3z"/><path fill="#2a1ae0" d="M154.75 500.5h1.3v1.34h-1.3zm141.89 3.57h1.3v1.34h-1.3z"/><path fill="#0073ff" d="M159.33 500.5h1.3v1.34h-1.3z"/><path fill="#1143f3" d="M182.21 500.5h1.3v1.34h-1.3z"/><path fill="#210054" d="M186.79 500.5h1.3v1.34h-1.3zm219.7 0h1.3v1.34h-1.3z"/><path fill="#330ac7" d="M209.67 500.5h1.3v1.34h-1.3z"/><path fill="#3604ad" d="M218.83 500.5h1.3v1.34h-1.3z"/><path fill="#015fff" d="M232.56 500.5h1.3v1.34h-1.3z"/><path fill="#3407bb" d="M241.71 500.5h1.3v1.34h-1.3z"/><path fill="#06000d" d="M246.29 500.5h1.3v1.34h-1.3z"/><path fill="#0066ff" d="M255.45 500.5h1.3v1.34h-1.3zm228.85 3.57h1.3v1.34h-1.3z"/><path fill="#010001" d="M260.02 500.5h1.3v1.34h-1.3z"/><path fill="#0091ff" d="M301.22 500.5h1.3v1.34h-1.3zm4.58 3.57h1.3v1.34h-1.3z"/><path fill="#250064" d="M328.68 500.5h1.3v1.34h-1.3z"/><path fill="#0080ff" d="M337.83 500.5h1.3v1.34h-1.3z"/><path fill="#37009d" d="M346.99 500.5h1.3v1.34h-1.3zm-251.74 3.57h1.3v1.34h-1.3zm379.89 0h1.3v1.34h-1.3z"/><path fill="#1f2de9" d="M351.56 500.5h1.3v1.34h-1.3z"/><path fill="#160033" d="M379.02 500.5h1.3v1.34h-1.3z"/><path fill="#2d15de" d="M383.6 500.5h1.3v1.34h-1.3z"/><path fill="#350095" d="M392.75 500.5h1.3v1.34h-1.3z"/><path fill="#0459fc" d="M401.91 500.5h1.3v1.34h-1.3z"/><path fill="#163cef" d="M415.64 500.5h1.3v1.34h-1.3z"/><path fill="#1f004e" d="M424.79 500.5h1.3v1.34h-1.3z"/><path fill="#200053" d="M438.52 500.5h1.3v1.34h-1.3z"/><path fill="#173aef" d="M456.83 500.5h1.3v1.34h-1.3z"/><path fill="#1340f1" d="M465.99 500.5h1.3v1.34h-1.3z"/><path fill="#008eff" d="M493.45 500.5h1.3v1.34h-1.3z"/><path fill="#320cce" d="M502.6 500.5h1.3v1.34h-1.3z"/><path fill="#1144f3" d="M511.76 500.5h1.3v1.34h-1.3z"/><path fill="#090015" d="M99.83 504.07h1.3v1.34h-1.3z"/><path fill="#3702a9" d="M104.4 504.07h1.3v1.34h-1.3z"/><path fill="#320dd1" d="M108.98 504.07h1.3v1.34h-1.3z"/><path fill="#0074ff" d="M122.71 504.07h1.3v1.34h-1.3z"/><path fill="#300084" d="M131.87 504.07h1.3v1.34h-1.3z"/><path fill="#2d16df" d="M136.44 504.07h1.3v1.34h-1.3z"/><path fill="#3506b5" d="M141.02 504.07h1.3v1.34h-1.3z"/><path fill="#0f0022" d="M150.17 504.07h1.3v1.34h-1.3z"/><path fill="#120029" d="M154.75 504.07h1.3v1.34h-1.3z"/><path fill="#040009" d="M168.48 504.07h1.3v1.34h-1.3z"/><path fill="#3801a3" d="M173.06 504.07h1.3v1.34h-1.3z"/><path fill="#2c17df" d="M195.94 504.07h1.3v1.34h-1.3z"/><path fill="#0079ff" d="M205.1 504.07h1.3v1.34h-1.3zm146.46 0h1.3v1.34h-1.3z"/><path fill="#310ed5" d="M209.67 504.07h1.3v1.34h-1.3z"/><path fill="#0f0023" d="M237.14 504.07h1.3v1.34h-1.3z"/><path fill="#22005a" d="M255.45 504.07h1.3v1.34h-1.3z"/><path fill="#008bff" d="M260.02 504.07h1.3v1.34h-1.3zm54.92 0h1.3v1.34h-1.3z"/><path fill="#0e0021" d="M269.18 504.07h1.3v1.34h-1.3z"/><path fill="#300085" d="M273.75 504.07h1.3v1.34h-1.3z"/><path fill="#2522e4" d="M287.48 504.07h1.3v1.34h-1.3z"/><path fill="#202ae7" d="M319.52 504.07h1.3v1.34h-1.3z"/><path fill="#1242f2" d="M328.68 504.07h1.3v1.34h-1.3z"/><path fill="#1b33eb" d="M333.25 504.07h1.3v1.34h-1.3z"/><path fill="#040008" d="M374.45 504.07h1.3v1.34h-1.3z"/><path fill="#006bff" d="M379.02 504.07h1.3v1.34h-1.3z"/><path fill="#007fff" d="M397.33 504.07h1.3v1.34h-1.3zm119 0h1.3v1.34h-1.3z"/><path fill="#210056" d="M401.91 504.07h1.3v1.34h-1.3z"/><path fill="#2325e5" d="M406.49 504.07h1.3v1.34h-1.3z"/><path fill="#330090" d="M420.22 504.07h1.3v1.34h-1.3z"/><path fill="#1143f2" d="M452.26 504.07h1.3v1.34h-1.3z"/><path fill="#1c0047" d="M456.83 504.07h1.3v1.34h-1.3z"/><path fill="#3603ac" d="M465.99 504.07h1.3v1.34h-1.3z"/><path fill="#3507b9" d="M488.87 504.07h1.3v1.34h-1.3z"/><path fill="#1a34ec" d="M507.18 504.07h1.3v1.34h-1.3z"/><svg x="92" y="505" width="428" height="73" viewBox="0 0 214 73" preserveAspectRatio="none" fill="none" stroke-width="1"><path stroke="#00c4ff" d="M.5 0v4m0 12v4m1-20v4m0 42v3m1 0v2m1-51v12m0 8v3m0 26v2m1-47v4m0 4v4m0 4v3m1-23v8m0 12v3m1-11v4m0 33v2m2 0v2m2-4v2m3-51v4m0 45v2m1-51v4m0 4v4m0 8v7m1-27v4m0 4v4m0 8v7m1-11v4m2-8v8m1-4v4m1 0v13m1-10v4m1-11v4m0 3v4m0 22v2m1-47v4m0 8v4m0 29v2m2-51v12m0 4v4m1-20v4m0 19v4m0 22v2m1-51v4m0 16v10m0 19v2m1-39v15m0 22v2m1-43v8m0 7v7m1-30v4m0 45v2m1-51v4m0 45v2m2-43v4m2-8v4m0 4v8m0 31v2m2-53v4m2 47v2m3-53v4m0 8v8m1-20v4m0 4v4m0 4v7m1-7v4m1-16v4m0 4v4m2-8v4m0 4v4m1-8v4m0 33v2m1-51v4m0 4v4m0 4v4m1-8v11m1-7v7m1-23v4m1 4v4m1 4v7m1-19v4m0 4v4m0 4v10m1-26v8m0 15v3m1-30v4m0 4v4m0 8v3m0 4v3m3-26v8m0 4v7m0 23v3m1-41v8m1-16v4m0 4v4m0 4v4m0 3v4m0 19v3m1-3v3m1-49v4m0 8v15m2-11v14m0 6v5m0 12v2m1-47v8m0 4v3m1-11v11m1-11v11m0 7v6m0 19v2m1-45v4m0 11v3m1-14v4m0 7v3m1-22v4m1 11v4m0 12v2m1-37v8m1-4v8m0 7v4m0 14v3m1-28v4m0 3v7m0 6v3m0 2v3m1-40v8m1-12v4m0 4v4m0 32v2m1-34v4m1-12v8m1-4v4m0 4v7m1-23v4m0 53v2m1-51v8m0 41v2m1-59v8m0 4v4m0 7v7m0 6v3m1-27v4m0 4v3m1-23v4m1-4v4m0 4v4m0 32v2m1-19v6m0 3v3m0 5v2m1-2v2m1-46v4m0 12v4m0 3v4m0 6v3m1-13v4m0 3v9m1-39v12m1-8v4m0 4v4m1-16v4m0 4v4m0 8v7m0 9v3m1-39v4m1 8v4m0 7v4m0 6v3m0 10v3m1-37v4m0 4v3m0 7v3m0 11v2m0 13v2m1-49v4m0 28v2m0 13v2m1-57v8m0 8v3m0 7v3m0 24v2m1-15v2m0 11v2m1-59v4m0 12v4m0 3v4m0 9v3m1-23v4m0 7v3m1-18v4m1-12v8m0 4v7m0 26v2m1-35v4m0 3v7m1-3v6m1-33v8m0 4v8m0 3v10m1-6v3m1-18v4m0 11v3m0 3v3m0 15v2m1-41v27m1-35v4m0 4v8m0 3v7m1-30v8m0 19v3m1-18v15m0 22v2m1-51v4m0 4v8m0 7v7m1-7v4m1-27v4m0 4v8m1 7v7m1-10v7m0 3v3m1-6v9m1-24v4m0 4v3m1-11v18m0 3v3m1-36v4m0 4v12m0 3v4m0 3v3m1-17v4m1-20v4m0 16v7m0 24v2m1-53v4m0 12v7m1-7v4m0 3v4m1-27v4m0 12v7m0 4v3m0 21v2m1-41v18m1-14v7m0 28v2m1-26v3m0 21v2m1-45v4m0 4v7m1-15v12m1-16v4m1 0v8m0 4v3m1-11v4m0 4v7m1-27v12m0 4v7m0 26v2m1-51v4m0 4v12m0 7v3m1-26v19m1-7v4m0 26v3m1-49v4m0 19v10m1-17v7m1-7v7m0 7v3m1-21v4m0 4v7m1-15v4m0 4v7m1-23v8m0 8v13m0 18v2m1-49v4m0 4v4m0 41v2m1-43v4m1 33v2m1-55v8m0 4v8m1-20v4m0 8v4m0 7v4m1-15v4m0 11v6m1-29v4m0 12v3m0 4v3m0 21v2m1-45v19m0 22v2m1-39v11m1-19v4m0 8v4m0 3v4m1-11v7m2-15v12m1-20v4m0 19v10m1-21v4m0 7v7m1-7v10m1-29v4m0 19v9m1-28v4m0 8v7m0 3v3m0 18v2m1-53v4m0 8v4m0 7v7m0 21v2m1-53v4m0 4v4m0 4v4m0 10v3m0 20v2m1-55v16m0 4v13m1-33v4m0 4v4m0 8v10m1-30v8m0 8v4m0 3v4m0 22v2m1-39v8m0 3v4m0 19v3m3-37v4m0 4v7m1-23v4m0 12v3m1 30v2m1-55v8m0 4v8m0 3v10m0 16v2m1-39v4m0 7v4m1-4v4m0 3v3m1-13v3m1-23v8m1-4v8m1 4v4m0 7v3m1-30v4m0 47v2m1-41v4m0 7v7m2-30v4m0 12v4m0 3v4m0 24v2m1-53v4m0 4v8m0 7v7m0 19v2m2-51v4m0 8v8m1 31v2m1-49v4m2 8v4m0 29v4m1-23v3m0 16v2m1-31v10m0 3v3m1-28v8m0 7v10m1-17v7m0 4v6m0 16v2m1-47v4m0 4v8m1-16v4m0 4v8m1 0v7m1-19v8m0 17v3m1-24v4m0 4v7m0 3v3m1-6v9m1-13v18m1-33v4m0 18v3m1-33v8m0 4v4m0 4v7m0 3v3m0 3v3m1-27v15m1-23v4m0 19v3m0 6v3m1-35v4m0 4v4m0 7v4m0 3v9m1-39v4m0 4v12m0 16v3m0 12v2m1-53v4m0 4v4m0 8v10m1-30v4m0 8v4m0 7v4m0 6v3m1-24v4m0 14v3m1-17v7m0 7v6"/><path stroke="#00f4ff" d="M.5 4v4m0 12v3m0 26v2m1-43v4m0 4v7m1-19v4m2-8v4m0 42v3m1-22v3m1-26v4m0 8v4m1-20v12m0 4v4m1 29v2m1-47v8m0 11v4m1-11v7m1-23v4m1 4v4m0 4v4m1-12v12m1-16v4m0 19v3m2-26v12m0 4v7m1-27v8m0 12v3m1 23v3m1-49v4m1 4v8m0 30v3m1-49v4m0 26v3m1-33v4m1-4v4m0 16v3m1-19v8m1 15v3m1-26v8m0 18v3m1-3v3m1-33v4m0 4v4m0 15v3m5-14v4m1-20v8m1-8v4m0 19v4m1-19v8m0 7v4m1-15v4m1-16v4m0 8v8m1-12v4m2-8v4m0 12v3m0 26v2m1-24v3m1-26v4m0 15v4m0 22v2m1-47v4m0 12v3m0 4v3m0 19v2m3-31v3m0 26v2m4-43v4m1-4v15m1-23v4m0 8v4m0 4v3m1-15v4m0 15v6m1-33v4m0 29v3m2-6v3m2-13v7m2 3v3m2-33v4m0 4v8m2-16v4m0 8v8m0 3v7m1-30v4m1-4v4m1 49v2m1-55v4m1 51v2m1-53v4m2-8v4m0 37v3m3-36v4m5-8v4m0 4v4m1 28v2m1-46v4m2 0v8m3-12v4m3-4v4m0 4v8m0 28v2m2-46v4m4 0v4m5-4v8m0 18v3m1-25v4m0 4v4m0 29v2m1-51v4m0 19v4m0 3v6m1-32v8m0 21v3m4 0v3m1-39v4m0 45v2m1-43v4m1 24v3m1-31v4m0 18v3m2-25v4m0 18v3m2-25v4m0 21v3m1-36v4m0 4v4m0 24v3m2-35v4m0 22v9m1 14v2m1-51v4m0 28v3m1-19v7m0 24v2m2-20v3m1-32v4m0 19v3m0 3v3m0 13v2m1-47v4m0 22v3m1-29v8m1-4v4m0 11v4m0 3v3m1-33v4m1-4v8m0 19v3m1-10v7m1-15v4m0 4v3m1 0v4m1-23v4m0 19v6m2-3v3m1-33v4m1 19v4m2-23v4m1 15v4m0 6v3m1-36v8m0 25v3m1-36v4m1-4v4m2 49v2m1-47v4m2 15v3m1 3v3m1-24v4m0 14v3m1-33v4m1 4v4m0 15v3m2-26v4m0 19v3m1-26v4m0 15v4m1 22v2m3-51v4m0 4v4m1 39v2m1-53v4m0 29v3m1-28v4m1-8v4m0 4v4m1 33v2m2-43v8m0 4v3m1-3v3m1-15v4m0 8v3m1-19v4m0 8v4m0 7v3m1-22v4m1 11v7m0 16v3m1-37v4m0 35v2m2-53v4m0 42v3m1-3v3m1-45v12m0 11v3m1-22v4m0 8v3m0 26v2m1-51v4m0 47v2m1-45v4m0 8v3m1-19v8m2-12v12m0 15v3m0 19v2m1-24v3m2-10v3m0 26v2m1-28v7m1-26v4m0 4v11m1-23v4m0 4v4m0 11v4m1-11v11m1-27v4m0 26v3m2-25v4m3-12v4m0 4v4m1-12v4m0 19v4m1 3v3m1-33v4m0 32v3m0 10v2m1-47v8m2-4v12m2 31v2m5 0v2m2-47v4"/><path stroke="#00ffbe" d="M.5 8v4m0 34v3m1-26v7m1-10v3m1 4v3m2 0v3m3-13v3m1 26v2m2-39v8m1 29v2m1-47v4m0 19v3m1 16v3m2-22v6m1-25v4m3 21v3m1-3v3m0 10v3m1-3v3m2-37v4m0 11v3m3 16v3m1-3v3m2-45v4m0 19v3m2-14v7m0 23v3m3 0v2m2-31v3m1 26v2m1-47v4m0 4v4m0 33v2m1-51v4m0 8v8m0 29v2m1-51v4m0 19v4m7 19v3m1-45v4m0 19v3m2-3v3m2 16v3m3-13v3m1 10v2m1-39v4m0 33v2m2-21v3m4-25v4m2 0v4m0 25v3m1 11v2m2-53v4m4-4v4m1 49v2m2-47v4m8 30v3m0 6v2m2-2v2m8-13v2m1 11v2m1-55v4m1 0v4m0 34v3m2-3v3m3-16v3m3 0v3m5 0v2m4-37v4m0 22v3m0 16v2m2-15v3m0 10v2m6 0v2m1-53v4m0 26v3m1 0v3m0 13v2m5-2v2m4-24v3m0 16v3m1-3v3m4-3v3m1-22v3m3-22v4m2 37v2m4 0v2m2-20v3m0 17v2m2-6v2m3-21v3m2-33v4m0 16v3m7 13v3m1 12v2m3-23v3m0 13v3m2-3v3m2-22v3m1 3v3m1-36v4m1 29v3m6 13v2m1-2v2m5-51v4m0 19v4m2-27v4m0 19v4m0 22v2m2-21v3m0 13v3m4-45v4m0 38v3m2-22v3m1-3v3m7 11v3m0 5v2m1-15v3m2 12v2"/><path stroke="#00dcff" d="M.5 12v4m1-4v4m1-16v4m0 4v12m1 3v4m1 0v6m1-25v8m0 7v4m0 22v2m1-31v3m1 23v3m1-49v4m0 8v8m1-20v4m0 8v8m0 31v2m1-41v4m2-16v8m0 43v2m1-33v7m1-15v4m1 11v6m2-21v8m0 3v4m0 22v2m1-31v7m1-15v4m0 4v3m1-23v8m1-4v12m0 11v3m1-22v4m0 8v3m1-15v4m1-12v4m0 12v7m1-3v7m1-15v4m0 11v3m1-26v8m1-8v4m1 22v3m1-21v11m3-23v4m0 16v3m1-15v8m0 33v2m1-43v4m0 8v3m1-23v8m0 8v7m1-15v4m0 39v2m1-49v4m1-8v4m1 47v2m1-41v4m1-12v8m0 8v7m0 22v2m1-39v4m1-16v4m0 4v8m0 7v4m1-27v4m0 12v7m1 28v2m1-53v8m0 4v4m1-16v8m0 19v3m1-10v7m1-23v4m0 15v4m1-27v8m0 4v4m0 7v4m0 19v3m1-3v3m1-45v4m0 8v4m1-20v4m0 8v4m0 7v4m1-19v4m0 4v4m0 10v3m1 0v3m1-13v4m1-23v4m0 8v4m1-16v4m0 4v8m1-8v4m0 7v4m1-27v8m0 15v7m1-26v4m0 22v3m1-29v4m0 19v6m1-6v3m1-10v3m2-19v4m0 28v3m1-39v12m1-4v4m0 11v4m0 14v3m1-44v8m1-8v4m0 37v3m1-40v4m0 33v3m1-32v4m0 4v3m0 34v2m1-59v4m0 8v4m0 23v2m1-41v8m0 8v7m1-19v4m0 12v3m0 7v3m0 24v2m1-59v4m0 40v2m1-42v4m1 36v2m1-46v4m1 40v2m1-42v4m1-4v4m1 0v4m1-12v4m1 0v4m2 0v8m0 41v2m1-51v4m1-8v8m4-8v4m0 4v4m1 28v2m1-46v4m1 12v4m0 3v4m1-27v12m1-12v4m1-4v8m1-4v8m1-12v4m0 8v4m0 7v4m1-27v8m0 12v7m1-15v4m0 11v3m1-10v3m0 7v3m1-33v4m0 29v3m1-28v4m0 21v3m1-36v4m0 29v3m0 15v2m1-53v12m1-8v8m1-12v4m0 29v6m0 12v2m1-45v4m0 18v6m0 13v2m1-47v4m0 19v3m1-14v7m1-23v8m0 4v11m0 4v3m1 3v3m1-36v4m0 12v7m0 7v3m1-17v4m0 7v3m0 3v3m0 15v2m1 0v2m1-47v4m0 15v3m1-30v8m0 22v3m0 3v3m1 14v2m1-51v4m1-4v12m0 11v6m1-29v12m0 7v10m0 16v2m1-43v8m0 14v3m1-21v4m1-16v4m0 26v3m0 16v2m1-51v4m0 8v4m0 11v3m1-22v4m0 4v4m0 3v4m1-15v4m0 7v4m0 22v2m1-51v4m1-4v4m0 12v4m1-20v8m0 19v3m1-30v4m0 4v4m0 4v4m0 29v2m1-24v6m2-10v4m1-23v4m0 4v4m0 4v3m1-19v8m1-4v8m0 7v10m1-21v4m0 11v3m1-22v4m0 15v6m1-29v8m0 4v4m0 10v6m1-24v4m1-8v4m0 4v7m1-23v16m1-16v8m0 4v4m0 4v3m1-15v4m0 8v13m1-29v8m0 4v7m0 7v3m1-29v4m0 45v2m1-55v4m0 12v4m0 3v4m1-23v4m0 19v6m1-33v8m0 15v4m0 22v2m1-51v4m0 4v4m0 8v3m0 4v3m1-30v4m0 4v4m0 11v4m0 22v2m1-39v8m1 0v7m1-23v8m1-12v12m0 18v6m1-24v4m0 4v3m0 10v3m1-28v4m1 0v8m0 7v3m1-26v4m0 25v3m1-16v10m1 3v3m1-32v4m0 22v3m0 16v2m1-24v3m1-30v8m1-8v8m0 4v8m1-8v4m0 4v7m1-27v8m0 8v4m1-20v4m0 4v4m0 18v3m1-29v8m0 8v7m1-19v4m1-8v8m0 8v3m0 4v6m1-21v4m0 11v3m1-14v4m0 3v4m0 19v3m1-37v8m1-4v11m1-23v4m0 4v4m0 7v4m0 3v3m1-10v10m1-25v4m0 18v3m0 18v2m1-41v15m1-23v8m1 8v3m1-11v8m1-16v8m0 8v3m1-15v4m1 0v11m1 4v3m1-22v8m0 4v10m1 3v3m1-32v4m0 4v4m0 14v3m0 16v2m1-18v3m1-36v16m0 7v4m1-7v7m0 22v2m1-43v4m0 8v3m1 4v3m1-26v4m0 15v10m1-33v4m0 23v3m0 6v3m1-27v4m0 4v7m0 9v5m1-21v3m1-23v8m0 31v2m0 12v2m1-16v2m1-37v4m0 19v6m1 20v2m1-55v4m0 4v4m0 27v2m1-37v4m1 22v6m1-28v4m0 24v3m1-39v8m0 25v3m1-36v8m0 15v7m0 6v3"/><path stroke="#00ffe8" d="M.5 23v4m1-23v4m3 0v4m2-12v4m0 4v4m0 11v4m1-15v4m0 4v3m1-19v8m0 11v4m1-7v3m1-23v12m1-4v4m1 0v4m2 14v3m1 13v3m1-49v4m3 0v8m0 11v4m3-23v4m0 19v3m1-18v4m0 7v4m1-4v4m1 3v3m0 13v3m3-19v3m1 0v3m0 10v3m1-41v4m1-8v19m1-23v4m1 0v4m0 4v4m0 7v4m1-11v11m3-23v4m0 8v4m1-12v4m3 4v4m2 7v3m2-7v4m0 22v2m1-51v4m0 4v12m1 3v4m1 3v3m1 16v2m1-24v3m4-26v4m1 41v2m1-2v2m2-51v4m0 4v4m0 8v3m1-23v4m0 4v4m1 15v3m3 3v3m1 13v2m1-43v4m1-8v8m4 29v3m1 11v2m2-49v4m3-12v4m4 40v2m1-46v4m7 0v4m2 38v3m1-45v4m0 49v2m3-2v2m2-51v4m1-12v4m6 23v3m2-30v4m0 45v2m2-2v2m6-18v3m2-3v3m2-32v4m0 4v4m1-4v4m1 20v3m1-39v4m1 4v4m2-4v8m0 11v3m3-30v4m1 45v2m1-18v3m1-32v4m1 22v3m2-29v4m1 0v4m0 11v4m1 3v3m3 13v3m1-22v3m1-30v4m0 4v4m2-12v4m0 45v2m1-51v8m2 28v3m2 16v2m1-37v3m1 0v4m1 6v3m3-28v4m0 21v3m5-28v4m0 37v2m1-24v3m1 3v3m0 13v2m1 0v2m1-17v3m0 12v2m2-49v4m6 0v4m0 15v3m1-7v4m1-19v4m1 18v3m2-6v3m2 3v3m2-36v4m2 8v4m1-16v4m1 29v3m2-6v3m1-3v3m1-3v3m1-29v4m3 38v3m1-49v4m0 4v8m1-12v4m3 28v3m1-6v3m3 8v2m2-7v2m1-37v8m0 39v2m1-49v4m0 43v2m3-53v4m0 29v3m0 17v2m3-16v2m2-2v2m2-33v4m0 27v2"/><path stroke="#00ff76" d="M.5 27v3m3 0v3m1 0v3m2-9v3m5-7v4m2 19v3m3-3v3m1-3v3m9-3v3m7-22v3m4-7v4m1-7v3m1-7v7m2-15v4m0 15v3m2 0v3m1-3v3m2-13v3m1 4v3m3 0v3m0 13v3m1-19v3m0 11v2m1-42v4m0 15v4m2 19v3m5-3v3m5-19v3m1-3v3m0 13v3m2-10v2m5 3v2m4-2v2m2 9v2m1-2v2m2-2v2m6-2v2m11-11v3m0 8v2m3-20v2m0 10v2m6-17v3m14 0v2m3-5v3m1-3v3m6-9v3m12 3v3m4-16v4m0 24v2m1-26v3m0 19v2m1 0v2m1-17v3m1 12v2m6-26v3m1 0v3m7 0v3m1 10v3m1-16v3m4 10v3m7-5v2m2-19v3m0 19v2m6-5v3m1-41v4m0 34v3m1-5v2m2-2v2m1-42v4m2 38v3m10-8v3m4 0v2m0 3v2m3-15v3m0 12v2m1-4v2m1-15v3"/><path stroke="#00ff1c" d="M.5 30v3m1-3v3m4 0v3m3-3v3m1 10v3m3-5v2m3-10v3m1-6v3m1-6v3m3 3v3m1 5v2m17 0v3m1-5v2m1-23v4m2 17v2m2-13v3m1 8v2m1-19v3m5 11v3m1-17v3m0 14v2m4-7v2m2 5v3m13-5v2m0 7v2m16-2v2m2 0v2m10-8v2m4-5v3m3-3v3m1-3v3m5-3v3m8-10v2m1 0v3m1 5v2m4-5v3m1-10v2m0 3v2m9-13v3m1 8v2m1-2v2m1-16v3m1 6v2m1 5v3m7-16v3m1 13v2m1-12v2m1-5v3m4-6v3m0 8v2m2-16v3m3 16v2m1-12v2m0 8v2m4-5v5m1-15v3m1 2v3m1 0v2m4-13v3m1 8v2m1 0v3m2-10v2m5 5v3m1-13v3m4 5v2m3 0v3m8-3v3m1-19v3m2 6v2m1 3v2m1 3v2m4-12v2m4 0v5m2 3v2"/><path stroke="#07ff00" d="M.5 33v3m0 8v2m2-2v2m1-13v3m3-6v3m2 8v3m5-8v3m6 5v2m1-7v2m3-11v3m1 0v3m0 8v2m20-5v3m2 0v2m6-5v3m1-14v3m2 6v2m2 3v2m7-2v2m6 0v3m4-3v3m2 4v2m1-2v2m1-6v2m1-2v2m1-5v3m0 4v2m4-4v2m2-4v4m4 0v2m1-6v2m0 4v2m7-8v2m3-10v5m1-10v3m4 0v2m3-2v2m7-2v2m4 0v5m0 3v2m2-7v2m2-2v2m2-2v2m2-2v2m6-2v2m13-5v3m1-3v3m4 2v3m22-16v3m1 0v3m1 2v3m2-5v2m2 5v3m5-16v3m11 0v3m8 5v2m5 0v3m4-3v3"/><path stroke="#24ff00" d="M.5 36v3m4 0v2m3-11v3m1 6v2m4-14v3m1 9v5m1-8v3m0 5v2m2-2v2m2-13v6m5 5v2m2-10v3m0 5v2m4-10v3m7-6v3m1 10v3m1-22v3m1 0v3m0 8v3m2 0v2m1-5v3m1 0v2m4-10v3m2 5v2m3-13v3m7-3v6m9 12v2m1-7v3m1 0v2m3 2v2m1-6v2m0 2v2m2-6v2m2 0v2m4-2v2m5-2v2m9 0v2m7-22v3m2 3v2m0 3v2m2-7v2m4 3v2m2 0v3m1-10v7m1-2v2m2-7v2m3 5v3m1 0v2m1-10v3m1 2v3m8-16v3m6 5v3m4-3v3m3-3v3m4-8v3m1-3v3m13 2v3m2 0v2m1-2v2m2-10v3m1-6v3m6 0v3m9 7v3m2-5v2m4-2v2m7 0v3m4-5v2m4 0v3m2 0v2m2-7v5m4-8v3"/><path stroke="#62ff00" d="M.5 39v2m6-2v2m3 0v3m8-3v3m14 0v2m1-2v2m1-7v2m2 0v3m2-3v3m1-11v6m3-6v3m3 0v3m3 2v3m3-8v3m0 2v3m5 0v2m3-10v3m8 7v3m1 0v2m2-2v2m7 0v2m5-4v2m11 0v2m5 0v4m2-4v2m8-14v3m8-5v2m6 5v3m4-5v2m4-5v3m2-8v3m10 0v2m16 3v2m2-7v2m1-2v2m8-5v5m3-8v3m6 0v3m2 0v2m2-2v2m2-5v5m0 3v2m12-7v2"/><path stroke="#4fff00" d="M.5 41v3m1-11v3m4 3v2m3-5v3m3-9v3m1 0v3m6 5v3m3-3v3m2-5v2m7-8v3m4-3v3m2 8v2m2-5v3m2-3v3m6-8v3m3 0v2m7 3v2m4-5v3m1-8v3m1 0v2m2-2v2m7 5v3m2-3v3m2 0v2m5 0v2m2-4v2m1 0v2m2-4v2m6 2v2m10-9v3m2-13v3m0 5v2m1-7v5m2-3v3m7 0v2m4-2v2m4-2v2m5-5v3m6-11v3m9 8v2m2-7v2m3 5v5m2-12v2m2 8v2m1-12v2m2-5v3m1-6v3m0 8v2m2-5v3m13-3v3m5-5v2m11-5v3m0 2v3m1-5v2m7-2v2m0 3v2m3-2v2m1-13v3m3 5v3m12 2v3"/><path stroke="#1045f3" d="M.5 51v4m0 6v1m0 8v1m1-16v2m0 12v2m1-9v2m0 2v1m0 4v2m1-22v2m0 4v4m0 1v2m0 2v1m1-18v4m0 6v3m0 2v2m1-15v4m0 4v2m0 1v2m0 5v1m1-19v2m0 2v4m0 12v2m1-24v2m0 2v2m0 2v2m0 2v1m0 2v6m0 1v2m1-18v2m0 2v2m0 1v2m0 5v1m1-13v2m0 2v3m1-11v2m0 7v4m0 3v1m1-21v2m0 6v2m0 3v4m0 3v4m1-20v6m0 2v1m0 2v2m0 3v4m1-22v2m0 9v2m0 3v2m1-20v2m0 4v4m0 8v4m1-22v2m0 2v2m0 2v2m0 2v1m0 2v5m1-20v2m0 2v6m0 7v1m0 2v1m1-19v2m0 2v4m0 2v1m0 2v2m0 4v1m1-22v4m0 8v1m0 7v2m1-20v4m0 2v4m0 5v4m1-21v2m0 2v2m0 6v5m0 1v3m1-15v2m0 4v1m0 7v1m1-19v4m0 6v1m0 4v1m1-16v4m1-6v2m0 10v1m0 2v9m1-24v2m0 2v4m0 10v2m1-53v4m0 49v1m1-17v2m0 2v2m0 2v1m1-11v2m0 4v2m0 3v2m0 2v1m0 2v1m0 1v2m1-57v4m0 29v8m0 7v2m0 1v3m0 1v2m1-22v4m0 9v2m0 4v1m1-14v2m0 2v5m0 1v2m1-20v2m0 4v2m0 7v3m1-18v2m0 2v4m0 2v3m0 4v4m1-19v2m0 9v5m0 3v3m1-20v2m0 2v2m0 2v1m1-11v2m0 9v2m0 6v1m1-9v2m1 2v3m1-14v2m0 4v1m1-7v6m0 10v2m1-22v6m0 10v2m0 1v1m1-20v2m0 8v1m0 2v2m0 1v2m0 2v2m1-22v2m0 18v2m1-22v2m0 2v2m0 2v2m0 5v1m0 4v2m1-18v2m0 2v2m0 1v4m1-7v2m0 6v3m1-17v2m0 6v3m1-13v6m0 9v1m1-16v6m0 2v2m0 1v2m0 2v3m1-20v4m0 2v4m1-10v2m0 6v2m0 7v1m0 2v1m0 1v2m1-24v4m0 2v4m0 3v2m0 6v1m1-22v2m0 6v7m0 2v3m1-18v2m0 2v2m0 7v2m0 3v1m1-17v6m0 8v2m1-53v4m0 46v3m0 1v1m1-20v2m0 8v3m0 3v2m0 1v1m1-20v2m0 2v2m0 4v1m0 2v3m0 2v1m1-11v3m0 5v2m1-20v2m0 2v2m0 2v2m0 3v2m0 2v1m0 3v1m1-55v4m0 26v7m0 9v2m0 3v2m1-18v2m0 4v2m0 2v1m0 2v2m0 1v2m0 1v1m1-20v2m0 2v6m1-10v2m0 2v4m0 8v6m1-24v2m0 2v2m0 4v3m0 4v4m1-11v2m0 1v2m0 2v1m0 4v2m1-16v2m0 2v5m1-43v4m0 9v3m0 16v2m0 4v1m0 5v2m0 1v3m1-37v3m0 31v3m1-57v11m0 9v3m0 18v2m0 7v1m0 2v2m1-48v4m0 9v5m0 16v4m0 6v2m0 2v2m1-57v7m0 4v6m0 3v5m0 16v2m0 2v1m0 8v1m1-41v3m0 26v2m0 1v4m0 1v2m0 1v1m1-51v19m0 20v5m0 2v1m0 2v1m1-34v5m0 18v2m0 5v1m1-28v2m0 18v2m0 3v2m0 1v2m1-53v4m0 3v4m0 6v11m0 13v5m0 2v2m0 3v1m1-40v14m0 17v1m0 2v2m0 3v1m1-54v7m0 4v3m0 3v3m0 3v5m0 15v2m0 6v2m1-53v11m0 3v11m0 28v1m1-43v3m0 9v2m0 16v2m0 2v5m1-54v4m0 7v7m0 3v3m0 3v5m0 15v7m0 5v2m1-40v3m0 3v2m0 18v2m0 3v2m0 5v2m1-16v2m0 8v2m1-36v3m0 25v3m0 7v2m1-53v3m0 7v6m0 3v5m0 13v2m0 2v1m0 2v3m0 2v1m1-43v17m0 13v2m0 7v1m0 2v1m1-6v2m1-46v3m0 7v6m0 3v5m1-14v3m0 3v3m0 2v5m0 15v1m0 4v4m1-43v3m0 11v3m0 15v5m0 5v1m0 1v2m1-57v4m0 3v21m0 13v7m0 6v3m1-53v10m0 3v3m0 3v7m0 13v2m0 1v2m1-31v3m0 3v2m0 20v1m0 5v3m1-40v14m0 15v2m0 1v2m0 3v2m1-30v5m0 18v4m0 3v1m1-43v3m0 31v3m0 2v1m0 2v1m0 1v2m1-50v4m0 9v8m0 20v9m1-37v5m1-21v3m0 7v6m0 3v2m0 18v2m0 1v2m0 2v1m1-40v6m0 22v2m0 2v3m0 7v1m1-13v2m0 2v8m1-10v3m0 2v2m1-11v2m0 4v1m0 5v2m0 1v1m1-20v2m0 2v4m0 7v1m1-14v4m0 7v2m1-11v2m0 2v2m1-53v4m0 4v4m0 33v6m0 2v1m0 2v2m0 4v1m1-9v2m0 2v1m0 3v3m1-22v2m0 2v2m0 7v2m0 1v2m0 1v1m1-18v4m0 10v4m1-55v4m0 35v6m0 1v2m1 6v1m1-18v8m1-10v2m0 4v2m0 7v5m1-51v3m0 30v2m0 7v2m0 2v3m1-18v2m0 2v2m0 2v2m0 1v2m1-11v4m0 4v3m0 2v1m1-55v4m0 39v2m0 2v2m0 1v2m1-2v2m0 5v4m1-18v2m0 2v7m0 5v2m1-16v2m0 3v4m0 3v1m1-17v9m0 4v1m0 3v1m1-9v2m1-11v4m0 5v5m0 3v1m1-20v2m0 4v2m0 2v1m0 2v2m0 4v3m1-12v1m0 4v1m1-16v2m0 2v2m0 4v1m0 7v1m1-17v2m0 6v6m1-14v2m0 4v2m0 1v5m0 3v1m1-9v2m1-11v4m0 4v1m0 5v3m1-21v4m0 4v2m0 3v2m0 3v2m0 1v1m1-22v2m0 2v4m0 4v1m0 2v3m0 3v1m1-20v8m0 2v1m0 2v2m0 1v2m0 2v2m1-22v2m0 2v4m0 11v1m1-20v6m0 9v1m1-18v2m0 2v2m0 2v2m0 2v5m0 5v2m1-24v4m0 2v2m0 4v1m0 9v2m1-20v2m0 11v1m0 4v2m1-22v6m0 5v2m0 2v1m0 4v2m1-20v4m0 2v5m0 2v1m1-8v2m0 3v2m0 1v2m1-16v2m0 4v5m0 6v1m1-16v4m0 2v1m0 2v3m1-6v3m0 6v1m1-14v2m0 3v2m0 3v2m0 2v2m1-16v4m0 1v2m0 5v1m0 1v2m1-16v4m0 1v5m0 2v1m0 1v2m1-11v2m0 3v2m0 1v3m1-18v6m0 1v2m1-11v4m1 2v3m0 5v2m1-14v2m0 5v2m0 3v2m0 1v1m1-10v1m0 5v2m0 1v1m1-20v4m0 7v2m0 2v3m1-12v4m0 1v2m0 2v1m0 4v2m1-16v2m1-2v2m0 3v7m1-16v2m0 2v4m0 10v2m1-57v4m0 37v5m0 8v1m1-18v4m0 2v3m0 7v1m1-8v4m0 1v2m0 2v2m1-18v2m0 5v4m0 3v1m0 1v2m1-18v2m0 4v1m0 2v6m1-17v2m0 4v2m0 8v1m1-54v4m0 31v2m0 4v5m1-9v6m0 2v1m0 2v3m0 4v2m1-24v2m0 2v6m0 2v3m0 2v1m1-18v2m0 6v4m0 3v2m0 3v2m1-18v2m0 7v2m0 5v1m0 1v2m1-7v1m0 2v1m1-19v2m0 6v5m1 3v2m1-5v6m1-19v2m0 2v2m0 2v2m0 1v4m0 1v2m0 2v2m1-18v4m0 2v1m0 4v1m0 2v1m1-21v2m1 2v2m0 7v2m0 3v2m1-8v1m1-7v2m0 2v2m0 1v2m0 5v1m1-54v4m0 33v2m0 2v2m0 7v1m0 2v2m1-55v4m0 33v4m0 7v2m0 3v4m1-20v2m0 2v4m0 1v2m0 2v1m0 3v1m1-18v2m0 2v2m0 3v2m0 2v1m1-8v2m0 1v2m0 3v2m1-10v2m0 1v2m1-7v4m0 3v5m1-16v6m0 8v2m1-14v4m0 5v2m1-15v4m0 9v6m1-17v2m0 4v2m0 6v2m1-65v4m0 8v4m0 33v2m0 9v3m0 2v1m1-15v4m0 3v2m0 3v4m1-16v2m0 9v1m0 2v1m1-19v2m0 13v1m0 4v2m1-22v4m0 4v3m0 4v1m0 3v1m1-16v4m0 2v3m0 7v2m1-27v3m0 2v4m0 4v2m0 1v5m1-14v2m0 4v2m0 5v3m1-14v2m0 2v2m0 1v2m1-11v2m0 2v4m0 1v4m0 1v2m1-16v2m0 4v2m1-6v2m0 4v1m0 4v1m1-10v2m0 5v2m1-11v6m0 1v5m1-59v4m0 8v3m0 10v3m0 19v6m0 5v1m1-12v2m0 2v3m0 5v4m1-44v3m0 23v2m0 2v2m0 3v2m0 5v1m1-15v2m0 9v1m0 2v2m1-14v4m0 1v2m0 2v1m0 4v2m1-18v4m0 3v7m0 2v2m1-18v2m0 2v3m0 5v2"/><path stroke="#3506b8" d="M.5 55v6m0 1v8m0 1v2m1-22v4m0 2v10m1-16v10m0 6v4m1-18v4m0 4v1m0 5v2m0 2v2m1-20v4m0 5v2m0 2v5m1-16v4m0 2v1m0 2v3m0 3v1m1-12v2m0 3v5m0 1v1m1-16v2m0 2v2m0 9v1m1-18v2m0 2v2m0 2v1m0 2v5m0 1v3m1-18v2m0 2v2m0 6v6m1-22v2m0 6v3m0 4v3m0 1v3m1-22v6m0 2v3m0 4v3m1-10v2m0 1v2m0 3v2m1-16v9m0 2v3m0 2v4m1-20v2m0 4v7m0 5v2m1-22v2m0 2v2m0 2v2m0 1v2m0 6v3m1-14v7m0 4v3m1-20v2m0 7v2m0 2v4m1-17v4m0 2v2m0 1v4m0 1v2m0 2v2m1-18v2m0 4v5m0 4v3m1-18v6m0 5v1m0 3v3m1-22v4m0 2v2m0 3v7m0 1v3m1-18v4m0 3v4m0 1v2m0 1v3m1-16v13m0 1v2m1-22v10m0 1v2m1-13v2m0 4v9m0 3v2m1-20v10m0 3v3m0 3v3m1-18v2m0 2v2m0 1v4m0 1v3m1-17v4m0 2v3m0 2v2m0 1v2m0 1v1m1-14v4m0 5v1m0 3v1m1-14v2m0 2v3m0 2v1m0 4v2m1-22v2m0 2v2m0 2v2m0 8v4m1-22v4m0 2v5m0 5v6m1-22v2m0 4v2m0 5v2m0 5v2m1-20v2m0 2v5m0 5v3m1-15v2m0 2v2m0 1v9m1-18v9m0 2v3m0 2v1m0 1v2m1-16v5m0 4v3m0 1v3m1-18v2m0 7v2m0 3v1m0 1v2m1-16v2m0 3v4m0 1v3m0 1v2m1-12v10m1-12v8m0 2v1m0 1v2m1-20v2m0 2v4m0 1v2m0 2v1m0 2v2m1-18v6m0 2v1m0 4v3m1-16v2m0 2v2m0 2v5m0 3v2m1-18v2m0 2v2m0 2v1m0 4v7m1-18v4m0 2v6m0 3v3m1-16v4m0 5v7m1-14v3m0 2v2m0 1v6m1-16v2m0 2v1m0 8v3m1-20v2m0 4v8m0 2v4m1-22v6m0 2v3m0 2v2m0 1v2m1-16v2m0 4v3m0 2v2m0 1v3m1-19v6m0 12v1m0 1v2m1-20v2m0 4v2m0 1v2m0 2v3m0 1v3m1-14v8m0 2v1m0 1v2m1-20v13m0 3v1m0 1v2m1-20v4m0 2v2m0 3v3m0 2v1m0 1v2m1-20v2m0 7v2m0 3v2m0 2v2m1-22v8m0 3v5m0 2v4m1-22v2m0 2v2m0 4v1m0 2v2m0 1v3m0 1v2m1-20v8m0 3v2m0 3v4m1-24v2m0 2v2m0 4v2m0 1v2m0 2v1m0 4v2m1-24v2m0 2v2m0 6v5m0 1v6m1-20v2m0 4v3m0 4v1m1-16v2m0 2v4m0 3v4m0 4v3m1-18v4m0 2v1m0 2v2m0 1v4m1-12v2m0 5v7m1-16v4m0 1v5m1-10v7m0 2v3m1-10v7m0 1v2m0 2v2m1-9v3m0 2v2m1-9v7m0 2v2m1-7v1m0 2v1m0 1v2m1-9v2m0 1v2m0 1v3m1-12v1m0 2v2m0 1v3m0 1v2m1-12v3m0 2v1m0 2v4m1-11v2m0 2v1m0 4v2m1-14v2m0 1v2m0 2v3m0 1v3m1-11v4m0 4v3m1-12v6m0 3v3m1-14v2m0 5v4m1-34v3m0 28v4m1-10v1m0 4v5m1-30v3m0 17v6m0 2v1m0 1v2m1-9v6m1-11v2m0 1v2m0 3v2m0 1v3m1-50v4m0 34v5m0 1v2m0 1v3m1-14v5m0 2v1m0 2v2m1-10v8m0 2v2m1-11v2m0 6v3m1-9v5m0 1v1m1-7v6m1-9v1m0 2v2m0 1v6m1-11v5m0 3v3m1-9v3m0 2v1m0 1v2m1-16v2m0 2v1m0 4v3m0 1v3m1-9v2m0 1v2m1-7v2m1-5v2m0 1v5m0 2v2m1-10v1m0 2v2m0 1v6m1-16v2m0 3v5m0 3v3m1-22v6m0 2v2m0 9v3m1-20v6m0 7v3m0 1v3m1-20v2m0 2v4m0 1v5m0 2v1m0 1v2m1-20v2m0 4v5m0 3v6m1-16v4m0 1v2m0 2v1m0 2v4m1-20v2m0 2v2m0 2v12m1-14v2m0 1v2m0 2v4m1-17v9m0 5v3m1-17v2m0 4v5m0 2v1m0 4v2m1-16v2m0 2v1m0 2v3m0 4v2m1-22v4m0 6v1m0 2v3m0 2v4m1-20v2m0 2v12m0 2v2m1-12v6m0 2v4m1-18v2m0 2v7m1-11v7m0 2v2m0 3v2m1-14v2m0 2v1m0 2v7m1-14v4m0 3v2m0 1v2m0 1v3m1-16v2m0 2v1m0 2v9m1-16v5m0 2v3m1-10v2m0 7v3m0 1v1m1-12v3m0 5v2m0 2v2m1-11v4m0 1v3m0 1v2m1-20v2m0 2v2m0 7v7m1-22v2m0 4v5m0 5v3m1-17v4m0 2v2m0 1v2m0 2v1m0 2v1m1-15v6m0 1v4m0 1v6m1-16v4m0 1v5m0 4v2m1-18v4m0 8v6m1-18v2m0 4v1m0 5v3m0 1v2m1-20v9m0 2v9m1-22v2m0 4v4m0 3v3m0 3v3m1-20v4m0 2v3m0 4v1m0 2v1m0 1v2m1-22v2m0 4v4m0 1v2m0 3v3m0 1v2m1-14v2m0 1v2m0 2v1m0 2v2m1-18v2m0 4v2m0 1v8m0 1v2m1-16v5m0 2v2m0 1v3m0 1v2m1-18v2m0 2v2m0 5v5m1-18v2m0 2v4m0 3v3m0 2v2m1-20v2m0 2v2m0 2v3m0 2v2m0 1v4m1-14v5m0 5v2m0 1v1m1-14v2m0 5v2m0 1v6m1-18v2m0 4v1m0 4v1m0 2v4m1-18v4m0 5v2m0 1v3m0 1v2m1-11v2m0 3v6m1-9v5m1-10v2m0 3v3m0 2v2m1-10v1m0 4v3m0 1v1m1-16v2m0 4v1m0 5v2m0 1v1m1-14v4m0 3v2m0 3v1m1-9v1m0 2v9m1-16v4m0 1v9m1-18v2m0 2v2m0 3v5m0 3v3m1-20v2m0 2v4m0 5v1m0 2v1m0 1v2m1-18v6m0 1v5m0 4v2m1-18v6m0 3v2m0 3v2m1-18v4m0 4v1m0 2v2m0 1v4m1-18v4m0 2v14m1-20v2m0 4v3m0 7v1m1-9v3m0 3v2m0 1v1m1-16v2m0 5v8m1-54v4m0 37v2m0 5v5m0 1v3m1-18v7m0 4v1m0 2v2m1-18v2m0 2v4m0 5v3m0 1v1m1-14v4m0 1v2m0 6v3m1-22v2m0 4v2m0 2v8m0 1v3m1-20v4m0 5v2m0 2v1m0 2v4m1-22v2m0 6v2m0 1v2m0 3v4m1-12v2m0 6v3m0 1v2m1-20v4m0 4v1m0 4v3m1-18v2m0 2v2m0 4v1m0 2v3m0 3v1m1-20v15m0 4v3m1-24v2m0 2v6m0 5v9m1-16v10m0 3v3m1-22v13m0 6v3m1-20v2m0 6v1m0 4v1m1-16v4m0 7v4m0 4v3m1-22v22m1-18v7m0 7v4m1-20v2m0 2v4m0 1v11m1-22v4m0 2v2m0 7v3m1-14v2m0 4v5m0 5v2m1-16v5m1-11v2m0 2v2m0 4v1m0 2v2m0 1v3m0 1v2m1-18v2m0 2v3m0 2v2m0 1v2m0 1v1m1-20v8m0 2v1m0 4v1m0 2v4m1-22v2m0 2v4m0 2v1m0 2v5m0 1v3m1-22v2m0 2v2m0 4v3m0 5v4m1-14v2m0 5v1m0 2v4m1-22v4m0 4v3m0 5v3m0 1v2m1-24v2m0 4v6m0 1v2m0 6v3m1-18v4m0 2v5m0 3v2m1-20v2m0 2v4m0 2v3m0 3v2m0 1v1m1-20v4m0 4v3m0 4v1m0 4v2m1-24v2m0 2v2m0 2v7m0 3v2m0 1v3m1-20v9m0 5v4m1-16v4m0 3v4m0 1v3m0 1v2m1-22v4m0 4v2m0 3v2m0 1v3m1-21v2m0 4v4m0 2v1m0 5v6m1-22v2m0 4v2m0 2v5m0 3v4m1-20v2m0 6v1m0 2v3m0 3v3m1-18v2m0 4v1m0 4v1m0 3v3m1-18v4m0 7v5m1-14v4m0 1v4m0 1v2m0 1v1m1-16v2m0 2v2m0 1v2m0 2v4m1-9v1m0 7v1m0 1v2m1-12v3m0 3v4m1-14v2m0 5v3m0 4v2m1-18v2m0 2v2m0 3v5m0 1v3m1-16v7m0 3v2m0 2v2m1-20v2m0 6v1m0 2v2m0 1v2m1-10v3m0 7v2m1-14v2m0 7v1m0 2v4"/><path stroke="#beff00" d="M1.5 36v3m52-3v3m81 0v2m23-2v2m23-2v2m18 0v3m1-8v3"/><path stroke="#b5ff00" d="M1.5 39v2m30-5v3m5 0v2m5 0v3m105 0v2m11-10v3"/><path stroke="#a3ff00" d="M1.5 41v3m1-8v8m56-3v3m48 0v2m25-7v2m3-5v3m5-6v3m15 3v2m9 0v3m8-8v3"/><path stroke="#15ff00" d="M1.5 44v2m4-2v2m1-2v2m3-2v2m1-2v2m1-2v2m8-16v3m3 6v5m4-8v5m2-5v3m4-9v3m1 0v3m4-9v3m2-3v3m0 3v3m1-9v3m5 3v6m1-9v3m0 6v2m0 5v3m3-16v3m3-6v3m1 11v2m1-10v5m6-5v3m2-3v3m2-6v3m2 8v2m4 5v2m1-2v2m1-7v3m0 2v2m1-4v2m2-5v3m2 2v2m8-2v2m1 0v2m1-6v2m3 0v2m1-7v3m1 0v2m2-2v2m0 2v4m2-6v2m2 0v2m2-6v2m1-2v2m8-5v3m5-13v3m1-3v3m1 2v3m1 2v3m1-3v3m4-3v3m8-3v3m2-19v3m2 0v3m6 0v3m1-3v3m3 0v2m2-14v3m1 9v2m1 3v2m3 3v2m4-10v3m4 0v2m1 0v3m2-10v2m1 5v3m2-13v3m3 2v3m2 0v2m1-2v2m1-2v2m1-10v3m2 5v2m7-7v2m0 3v2m8-13v3m0 5v3m1-8v5m18 3v2m3-7v2"/><path stroke="#008dff" d="M1.5 49v2m2-39v8m1-4v4m0 3v4m1-11v4m1 49v1m3-17v2m0 11v1m5-51v4m1-16v4m0 4v8m3-20v12m0 54v1m1-18v2m1-35v4m1-4v7m0 26v2m0 8v2m1-49v4m3-4v4m1 4v3m1-11v8m0 31v2m0 13v1m0 3v1m2-71v8m0 12v3m2 30v2m5-6v2m0 16v2m1-16v4m0 7v2m1-15v2m0 4v2m1-6v2m1-2v2m1 2v2m2 0v2m2-53v4m0 39v2m1 0v2m1-4v2m0 2v2m1-49v4m0 4v11m1-15v4m1-16v4m0 4v4m3 52v2m1-17v2m0 10v1m1-11v2m1-53v4m0 8v4m0 4v7m0 3v3m0 18v2m1-49v4m0 4v8m1 37v2m1-10v2m1-51v4m1 16v3m1-11v4m0 4v3m0 4v3m1-14v11m1-23v4m1-4v4m1 22v6m1-20v4m0 3v13m1-9v9m0 3v5m1-17v3m0 9v2m0 23v2m0 3v1m1-62v4m0 18v6m0 3v2m1-33v8m0 4v3m0 7v6m1-36v4m0 8v4m0 7v4m0 6v3m1-20v4m0 7v3m0 3v6m1-23v4m1 7v9m0 21v2m1-26v3m1-24v4m0 4v3m0 4v6m0 34v2m1-57v18m0 27v2m1-59v12m0 11v4m0 3v3m0 3v3m0 18v2m0 2v1m1-50v4m0 11v3m0 11v3m0 13v2m1-36v4m0 3v9m0 2v3m1-36v4m0 4v7m0 7v3m1-17v17m0 3v3m0 2v5m1-30v7m0 7v6m0 3v2m0 3v2m1-30v4m0 3v10m0 3v10m0 11v2m0 11v1m1-63v12m0 3v7m0 6v3m0 5v2m1-42v4m0 4v11m1-7v11m0 6v3m0 3v5m1-44v8m0 4v8m0 3v7m0 6v3m0 20v2m1-49v4m0 4v3m0 4v3m0 9v2m0 16v2m1-43v7m0 16v2m1-29v4m0 4v3m0 21v2m1-38v4m0 4v4m0 10v3m0 3v3m0 18v2m1-43v4m0 7v6m0 8v3m0 15v2m1-57v26m1-14v7m0 4v6m0 3v3m0 5v2m1-13v11m1-28v7m0 4v9m0 25v1m1-50v8m0 3v7m0 3v3m0 5v5m1-38v12m0 3v7m0 6v3m0 2v3m1-32v4m0 4v3m0 10v3m0 17v2m1-35v3m0 23v5m1 0v2m1-2v2m1-41v4m1-12v23m0 24v2m0 14v2m1-49v3m0 28v2m1-49v4m0 4v4m0 4v7m0 3v3m1-17v11m0 3v3m1 24v2m1-39v3m0 7v3m1-21v4m0 4v7m1-27v4m0 47v2m0 2v2m1-6v2m1-4v2m1-47v4m0 8v4m0 3v10m0 18v2m1 0v2m2-55v12m0 4v11m1-11v4m0 3v4m0 28v2m0 10v2m2-49v3m0 4v3m0 3v3m0 19v2m2-41v4m0 39v2m2-41v3m1 0v4m0 26v2m1-2v2m2-51v4m0 4v4m0 4v3m1 28v2m1-4v2m2-35v4m2-8v4m0 7v4m1-23v4m0 12v7m0 22v2m3-39v11m0 23v3m3-33v4m0 33v2m1-28v3m0 21v2m1-37v4m0 33v2m0 4v2m1-61v4m0 55v2m1-6v2m0 4v1m1-46v4m0 35v2m1-4v2m1 0v2m0 4v1m1-62v4m0 4v4m0 4v11m2 24v2m0 16v1m1-19v2m1-41v4m0 35v2m1-41v4m1 35v2m1-53v8m0 43v2m1-41v11m0 28v2m0 2v2m1-41v7m1-19v4m0 45v2m1-55v4m0 8v4m0 4v7m1 26v2m1-39v7m0 7v3m0 28v1m2-46v4m1-8v4m4 33v2m0 6v2m0 8v2m1-20v2m1-39v8m1-4v4m0 35v2m1-37v3m1-7v4m0 29v2m1-51v12m0 4v7m0 26v2m2 0v2m2 8v1m1-50v4m0 4v3m0 44v2m1-69v8m0 12v3m2-11v4m0 4v3m1-19v4m0 8v4m1 33v2m1-9v3m0 4v2m1 6v1m0 2v2m1-17v2m0 11v2m1-3v1m1 9v2m1-73v4m0 4v8m0 4v10m0 41v2m1-73v4m0 12v4m1-20v4m0 12v7m0 28v2m3-4v2m0 19v1m1-71v20m1-4v7m0 32v2m1-41v4m0 13v3m0 15v2m1-37v4m1 42v2m1-52v18m0 3v6m1-31v4m0 4v4m0 7v3m0 3v3m0 17v2m0 6v1m1-54v4m1-12v4m0 8v8m0 3v4m0 3v3m1-17v7m0 4v3m0 23v2m1-35v7m0 3v6m1-32v4m0 4v8m1-16v4m0 8v7m0 4v6m0 18v2m0 16v1m1-54v14m0 23v2m1-43v4m0 37v2"/><path stroke="#1b0042" d="M1.5 67v2m0 2v2m1-12v1m0 2v2m1-2v2m0 3v2m1-14v2m0 12v2m1-6v2m0 2v2m1-20v2m0 6v3m1-13v2m0 9v2m2 0v2m1-11v4m2 7v1m2-16v2m0 13v1m1 2v1m1-19v2m0 14v2m1-10v2m0 10v2m1-16v2m2-8v2m2 6v2m0 8v1m1-15v2m0 13v1m2 0v2m1-12v3m0 3v2m1 2v2m2-12v3m1-9v2m0 2v2m0 6v3m1-4v1m1-5v2m1-2v2m0 6v1m1-16v2m1 14v2m2-4v1m1-17v2m0 4v5m0 6v1m1-12v2m0 5v1m0 3v1m3-16v2m1 5v4m0 3v2m1-4v2m3-5v2m1-9v2m0 3v2m1 0v2m0 3v1m1-3v2m1-7v2m0 6v1m1-5v1m0 4v2m1-3v1m1-14v2m1 11v1m2-14v2m1 0v2m0 9v1m2-12v2m1 0v1m0 4v1m1-12v2m0 12v1m1-4v1m1-5v4m4 3v1m3-9v3m1-5v2m0 8v1m1-9v1m2 0v2m0 6v1m2-1v1m2-5v1m0 2v1m1-11v2m0 6v2m1 1v3m1-7v1m1-5v2m1-5v2m0 9v1m1-12v2m2-2v2m1 6v2m0 2v2m1-4v2m1-12v2m0 3v2m3 0v1m2-6v1m0 8v1m1-12v2m1 9v1m2-10v1m0 5v2m0 2v2m2-6v2m1 0v1m1-8v2m0 5v1m2-6v2m1-5v1m2 9v2m1-9v2m1 3v1m1-11v2m0 1v2m2 5v1m1-3v2m1-16v2m0 16v2m1-2v2m1-2v2m1-4v1m3-1v1m1-4v1m0 3v1m2-16v2m0 4v1m0 2v2m2 1v2m2-2v2m0 1v1m1-12v2m1-4v2m2 3v2m1 0v2m3-5v1m1 0v2m0 6v1m1-20v2m1 9v2m0 3v2m1-20v2m0 6v2m0 3v2m1 0v2m0 3v1m2-13v2m0 3v2m1 2v1m2 2v1m0 1v2m2-9v2m2 0v1m2-6v1m0 9v2m1-18v2m1 4v1m0 2v2m1-13v2m0 14v1m1-9v1m0 9v2m3-3v3m1-18v2m0 7v3m0 2v1m1 1v2m1-11v2m4-9v2m1 7v2m0 1v2m2-18v2m0 11v2m0 4v1m1-20v2m0 9v2m0 7v2m1-14v2m1 6v2m2 0v1m2-13v2m0 10v2m1-12v2m0 6v2m2-5v3m1-12v2m1 7v2m0 4v3m2-11v2m0 2v3m2 0v1m0 1v2m1-9v2m1 3v1m1-21v2m1 11v2m1 2v1m0 3v1m2-5v1m1-8v2m1 3v2m1-2v2m1-4v4m2 0v1m3-10v2m0 8v3m1-1v1m1-9v1m0 2v2m0 5v2m1-4v1m0 1v2m1-3v3m1-6v2m0 1v1m1-7v2m0 5v2m1-11v2m1-3v1m1 2v2m1-11v2m0 13v1m2-9v4"/><path stroke="#00ff93" d="M2.5 23v4m0 19v3m1-3v3m3-3v3m1-26v4m3-4v4m1-7v3m0 23v3m1-29v3m3 10v3m3-9v3m1-3v3m3 0v3m2 13v3m6-26v4m1-4v4m1-23v12m1 30v3m3-22v3m1 19v2m3-43v4m0 8v3m2 7v3m4 16v2m2-7v2m5-23v4m4 6v3m1-13v7m4 3v3m7 17v2m3 0v2m2-16v3m1 0v2m0 9v2m8-11v3m3-3v3m3 8v2m4-13v3m3 6v2m10-21v3m0 10v2m2-15v3m9-3v3m1-35v4m0 41v2m2 2v2m3-22v3m4-28v4m0 21v3m2-3v3m3-9v3m8 14v2m2-10v3m0 12v2m1-2v2m2-20v3m0 13v2m8-18v3m2 13v2m9-2v2m3-5v3m4-49v4m1 42v3m2 0v2m4-21v3m3 0v3m4 13v2m2-24v3m3-3v3m2 3v3m2 0v3m7 10v2m1-51v4m5 35v2m0 10v2m5-2v2m1-2v2"/><path stroke="#00ff2e" d="M2.5 27v3m1 14v2m1-10v3m3 5v2m1-19v3m6 3v3m1 8v2m3-16v3m0 11v2m7-13v3m2 5v3m1 0v2m1-2v2m1-16v3m4 13v3m5-26v4m6 3v3m1-10v4m4 6v3m5 0v3m0 7v3m2-13v3m2-9v3m0 11v2m1-13v3m0 8v2m13-2v2m3 0v3m12-3v3m6-3v3m1-3v3m1 0v2m9-5v3m14-10v2m7-5v3m1 2v3m0 2v3m1-13v3m10-9v3m2 8v3m2 5v2m2-5v3m1-13v3m0 7v3m2-3v3m1-3v3m8-3v3m6-3v3m14-13v3m1-6v3m0 8v2m1-10v3m4 7v3m2-3v3m1-3v3m4-22v3m5 14v2m7 0v3m5 2v2m2-4v2m3-5v3m2-8v3"/><path stroke="#59ff00" d="M2.5 30v6m1 0v3m7 0v2m1-2v2m1-5v3m0 2v3m2-5v2m2-5v3m0 2v3m1-8v3m2 0v2m2-2v2m3-2v2m4-2v5m2 0v2m1-16v3m4 0v3m2 0v3m1-9v3m2 0v3m3 0v5m3 0v3m7-11v3m1 5v3m3-5v2m3-2v2m6 8v2m1-5v3m1 0v2m3-2v2m3 0v2m1-2v2m4 0v2m2-4v4m10-4v2m2-4v2m4 0v2m2-2v2m3-14v2m1-2v2m12 0v3m17-8v3m3 5v2m16 0v3m2-10v5m2-8v3m1-6v3m2-3v3m0 8v2m1-5v3m5-3v3m5-11v3m10-6v3m2 11v2m3-10v3m0 2v3m3-11v3m1-3v3m1-6v3m0 8v3m3-3v3m6 0v2"/><path stroke="#41ff00" d="M3.5 39v5m3-8v3m1-6v3m2-3v3m1-6v3m1 3v3m1-9v3m3 6v2m6-5v3m4 2v3m13 0v2m5-5v3m2-3v3m2-11v3m5 0v5m5 0v3m1-11v3m1 5v3m5-8v3m1-3v3m2 12v2m2-2v2m4-2v2m2 0v2m5-6v2m9 2v2m4-4v2m1-2v2m3-4v2m8-10v3m3-5v2m3 5v3m2-13v3m4 2v3m1-3v3m1 0v2m4-7v2m5-2v2m19-8v3m2 10v3m4-5v2m4-13v3m9 5v3m8-3v3m3-3v3m3-11v3m4 8v2m2-10v3m1 2v3m1-5v2m2-5v3m2 5v2m2-5v3m3-8v3m5 7v3m1-5v2"/><path stroke="#32ff00" d="M4.5 41v3m2-11v3m5-3v3m4 5v3m2-5v2m2-8v3m4-3v3m1 0v3m1 0v2m8 3v2m1-2v2m1-2v2m2-2v2m2-10v5m1 3v2m1-16v3m1 3v5m2-2v2m0 3v2m1-7v2m1-8v3m1 3v2m8 0v3m1-3v3m3-5v2m4 0v3m1-3v3m1 0v2m7 3v2m5-2v2m1 2v2m5-6v2m0 2v2m2-2v2m3-6v2m0 2v2m1-6v4m4 0v2m2-6v2m0 4v2m3-6v2m0 2v2m2-4v2m2-14v3m6 2v3m11-8v3m4-3v3m5-3v3m1 0v5m2-5v2m1-5v3m1 0v2m3-2v2m6-7v2m2 3v2m1-7v2m0 3v2m2-10v3m9 5v2m9-7v2m1-2v2m1-2v2m3-11v3m0 8v3m5-5v2m6-5v3m1 2v3m4-3v3m1 0v2m5-10v3m2 0v2m1 3v2m2-2v2m2-13v3m0 5v3m7-3v8m6-5v2"/><path stroke="#00ff52" d="M4.5 44v2m6 0v3m2-26v4m1 17v2m4-2v2m3-2v2m4-16v3m3 0v6m7-9v3m1 13v3m1-3v3m2-26v4m3 19v3m6-19v3m0 13v3m1-8v3m1 2v3m2-16v3m2-9v3m17 14v2m0 7v2m3 0v2m5-11v3m4-3v3m8 6v2m2-11v3m0 6v2m1-2v2m6-2v2m1-11v3m8 0v2m2-10v3m0 2v3m1 0v2m4-5v3m1-5v2m3 3v2m2 0v2m3-7v3m3-13v3m1 7v3m18 4v2m1-28v3m0 19v2m3 0v2m7-7v3m3-13v3m7 5v2m2-16v3m2-3v3m3-3v3m4 0v3m0 5v3m14 2v3m5-19v3m1 13v3m4-8v3m1-44v4m5 37v3m2-5v2m1 0v5"/><path stroke="#6bff00" d="M5.5 36v3m1 2v3m4-11v3m0 5v3m1-3v3m1-5v2m4-2v2m2-2v2m17-5v3m2-9v3m1 6v2m11-5v3m1 0v2m3-2v2m5 3v2m3-7v2m2-2v2m4 3v2m25 7v2m15-11v2m4-5v3m14-5v2m4-2v2m1-5v5m3-8v3m5-3v3m8-3v3m3 3v2m13 3v2m1-7v2m10 0v3m4-5v2m8-2v2m2-5v3m2-6v3m9-3v3m4 8v2"/><path stroke="#75ff00" d="M5.5 41v3m2-5v2m2-2v2m27-5v3m4-9v3m0 3v3m1 0v2m20 0v3m27 7v2m12-2v2m9-12v3m9 0v2m7-5v3m8-8v8m1-3v3m4-3v3m5 2v3m3-19v3m4 8v3m5-5v2m1-2v2m2-2v2m3 5v3m3-10v2m1 0v3m5-8v3m1 2v3m2-5v2m2 0v3m4 0v2m5-7v2m4 0v3m1-5v2"/><path stroke="#00ff64" d="M5.5 46v3m2-22v3m1 16v3m1-22v3m2-26v4m2 22v3m4-6v3m2 16v3m4-22v3m4 14v2m3 0v3m1-22v3m1-7v4m2 0v3m1-3v3m1 0v3m4-29v4m0 38v3m2-3v3m1-3v3m1-3v3m1-22v3m0 16v3m3-16v6m1-9v3m10-6v3m2 3v3m0 8v2m1-2v2m6-2v2m8 9v2m1-11v3m0 6v2m5-2v2m1-2v2m2-11v3m0 6v2m2-11v3m10 8v2m3-4v2m3-27v3m1 3v3m5 10v2m5-5v3m2-3v3m1 0v2m1-12v2m1 10v2m1-2v2m5-7v3m5 0v2m2-5v3m4-3v3m4-16v3m1-3v3m12 10v3m1-19v3m2-3v3m6 3v3m0 10v2m1-15v3m0 10v2m7-24v3m5 16v3m1-5v2m3-23v4m4 6v3m0 13v2m1-18v3m4-6v3m3 0v3m0 8v2m2-10v3m1 7v3m13-8v3m0 2v3m2-8v3m0 5v2"/><path stroke="#87ff00" d="M7.5 36v3m2-3v3m14-3v3m1 2v3m2-3v3m3-5v5m2-11v3m2 0v3m2 0v2m1 0v3m1-5v2m4-5v3m17 0v2m7 0v3m30 7v2m8-12v3m9 0v2m11-2v2m12-5v3m14-3v3m1 2v3m1-8v5m1-2v2m2-10v3m0 2v3m3-3v3m3 0v2m9-10v3m1-6v3m0 3v2m9-5v3m1 5v2m3-5v3m12-3v3m2-3v3"/><path stroke="#7eff00" d="M7.5 41v3m3-8v3m9-3v3m0 2v3m15-3v3m15-3v3m16-5v2m14 10v2m25-9v2m8-5v3m18 0v2m1-5v3m1-5v2m4 0v3m1-5v2m5 5v3m4-10v2m17 3v2m6-7v2m3 0v3m7-11v3m1 0v3m18 0v2m5 5v3"/><path stroke="#00ff0a" d="M8.5 30v3m0 11v2m1-16v3m2-6v3m6 3v3m3 5v3m2-8v3m4 5v2m6-19v3m3 0v3m7 0v3m1-3v3m4 8v2m3-2v2m1-10v3m3 5v2m2 0v3m1-3v3m9 2v2m1-12v3m5 9v2m2-11v2m0 9v2m7-11v3m1 4v2m2-6v2m0 2v2m20-9v3m6-5v2m1-7v2m1-2v2m2-8v3m9 0v3m1 0v2m2-2v2m3-5v3m3 5v2m1-16v3m2 0v3m2-3v3m6 13v2m2-10v3m1 7v2m1-23v3m0 11v2m5-10v3m7-3v3m5 7v3m2-5v2m8-2v2m5 0v3m1-19v3m6 0v3m1-6v3m3 6v2m11 0v3m2 5v2m1-2v2m6-5v3m3-5v2"/><path stroke="#00ff40" d="M10.5 27v3m2 16v3m1-16v3m9-3v3m0 8v2m1 0v3m3-16v3m1 3v2m1-8v3m3 10v3m2-19v3m6 13v3m7-45v4m2 31v2m3-2v2m3-8v3m4-6v3m5 3v3m0 5v2m1 0v3m1-16v3m2 17v2m2-11v2m10 0v3m1 6v2m8-2v2m1-11v3m1 0v2m12-7v2m17 0v3m3-10v2m1 8v2m1-10v3m6-11v3m1 10v3m4-3v3m4-5v2m7-23v4m2 3v3m6 13v3m1-3v3m3-3v3m1-3v3m10-5v2m10-19v3m11 0v3m1 8v3m9 2v3m4-8v3m0 7v2m1-9v5m5 0v2m3-2v2"/><path stroke="#c8ff00" d="M14.5 41v3m121-8v3m7 5v2m29-7v2m9 0v3m19-5v2"/><path stroke="#90ff00" d="M23.5 41v3m11-8v5m61 12v2m13-11v2m1-2v2m28-10v3m19-3v3m2 2v3m14-8v5m9 0v3m6-5v2m2-5v3m3 0v2m4-2v2"/><path stroke="#000000" d="M25.5 66v1m87 0v2m13 2v2m57-14v2"/><path stroke="#daff00" d="M30.5 36v3m116-3v3"/><path stroke="#acff00" d="M30.5 39v2m1-2v2m1-8v3m0 5v3m21-3v3m83-8v5m2-5v3m5 2v3m9-5v2m6-5v3m3 2v5"/><path stroke="#d1ff00" d="M30.5 41v3m1-3v3m1-5v2m98 0v3m22-3v3"/><path stroke="#9aff00" d="M32.5 36v3m1 2v3m4-11v3m3 3v2m22 0v3m6 2v3m40-8v3m5-5v5m25-5v2m1 0v3m3-3v3m7 0v2m1-2v2m10-5v3m28-8v3m5 2v3m3-3v3m1-5v2"/><path stroke="#f5f500" d="M135.5 39v2m4-5v3"/><path stroke="#ffe200" d="M139.5 39v2"/><path stroke="#f0f900" d="M143.5 44v2"/><path stroke="#e3ff00" d="M146.5 41v3m52-8v3"/><path stroke="#ebfd00" d="M179.5 41v3"/></svg><path fill="#fff" d="M92 566h3.1v1h-3.1zM96.7 566h2.98v1h-2.98zM101.28 566h2.98v1h-2.98zM105.85 566h2.98v1h-2.98zM110.43 566h2.98v1h-2.98zM115.01 566h2.98v1h-2.98zM119.58 566h2.98v1h-2.98zM124.16 566h2.98v1h-2.98zM128.74 566h2.98v1h-2.98zM133.32 566h2.98v1h-2.98zM137.89 566h2.98v1h-2.98zM142.47 566h2.98v1h-2.98zM147.05 566h2.98v1h-2.98zM151.62 566h2.98v1h-2.98zM156.2 566h2.98v1h-2.98zM160.78 566h2.98v1h-2.98zM165.36 566h2.98v1h-2.98zM169.93 566h2.98v1h-2.98zM174.51 566h2.98v1h-2.98zM179.09 566h2.98v1h-2.98zM183.66 566h2.98v1h-2.98zM188.24 566h2.98v1h-2.98zM192.82 566h2.98v1h-2.98zM197.39 566h2.98v1h-2.98zM201.97 566h2.98v1h-2.98zM206.55 566h2.98v1h-2.98zM211.12 566h2.98v1h-2.98zM215.7 566h2.98v1h-2.98zM220.28 566h2.98v1h-2.98zM224.86 566h2.98v1h-2.98zM229.43 566h2.98v1h-2.98zM234.01 566h2.98v1h-2.98zM238.59 566h2.98v1h-2.98zM243.16 566h2.98v1h-2.98zM247.74 566h2.98v1h-2.98zM252.32 566h2.98v1h-2.98zM256.9 566h2.98v1h-2.98zM261.47 566h2.98v1h-2.98zM266.05 566h2.98v1h-2.98zM270.63 566h2.98v1h-2.98zM275.2 566h2.98v1h-2.98zM279.78 566h2.98v1h-2.98zM284.36 566h2.98v1h-2.98zM288.93 566h2.98v1h-2.98zM293.51 566h2.98v1h-2.98zM298.09 566h2.98v1h-2.98zM302.67 566h2.98v1h-2.98zM307.24 566h2.98v1h-2.98zM311.82 566h2.98v1h-2.98zM316.4 566h2.98v1h-2.98zM320.97 566h2.98v1h-2.98zM325.55 566h2.98v1h-2.98zM330.13 566h2.98v1h-2.98zM334.7 566h2.98v1h-2.98zM339.28 566h2.98v1h-2.98zM343.86 566h2.98v1h-2.98zM348.44 566h2.98v1h-2.98zM353.01 566h2.98v1h-2.98zM357.59 566h2.98v1h-2.98zM362.17 566h2.98v1h-2.98zM366.74 566h2.98v1h-2.98zM371.32 566h2.98v1h-2.98zM375.9 566h2.98v1h-2.98zM380.47 566h2.98v1h-2.98zM385.05 566h2.98v1h-2.98zM389.63 566h2.98v1h-2.98zM394.2 566h2.98v1h-2.98zM398.78 566h2.98v1h-2.98zM403.36 566h2.98v1h-2.98zM407.94 566h2.98v1h-2.98zM412.51 566h2.98v1h-2.98zM417.09 566h2.98v1h-2.98zM421.67 566h2.98v1h-2.98zM426.24 566h2.98v1h-2.98zM430.82 566h2.98v1h-2.98zM435.4 566h2.98v1h-2.98zM439.97 566h2.98v1h-2.98zM444.55 566h2.98v1h-2.98zM449.13 566h2.98v1h-2.98zM453.71 566h2.98v1h-2.98zM458.28 566h2.98v1h-2.98zM462.86 566h2.98v1h-2.98zM467.44 566h2.98v1h-2.98zM472.01 566h2.98v1h-2.98zM476.59 566h2.98v1h-2.98zM481.17 566h2.98v1h-2.98zM485.75 566h2.98v1h-2.98zM490.32 566h2.98v1h-2.98zM494.9 566h2.98v1h-2.98zM499.48 566h2.98v1h-2.98zM504.05 566h2.98v1h-2.98zM508.63 566h2.98v1h-2.98zM513.21 566h2.98v1h-2.98zM517.78 566h2.22v1h-2.22z"/><rect x="92" y="578" width="428" height="11.48" fill="#fff"/><path fill="#000000" d="M95.25 578.36h1.3v1.34h-1.3zm18.31 0h1.3v1.34h-1.3zm18.31 0h1.3v1.34h-1.3zm9.15 0h1.3v1.34h-1.3zm13.73 0h1.3v1.34h-1.3zm13.73 0h1.3v1.34h-1.3zm18.31 0h1.3v1.34h-1.3zm18.31 0h1.3v1.34h-1.3zm9.15 0h1.3v1.34h-1.3zm9.15 0h1.3v1.34h-1.3zm18.31 0h1.3v1.34h-1.3zm4.58 0h1.3v1.34h-1.3zm22.89 0h1.3v1.34h-1.3zm9.15 0h1.3v1.34h-1.3zm4.58 0h1.3v1.34h-1.3zm4.58 0h1.3v1.34h-1.3zm9.15 0h1.3v1.34h-1.3zm4.58 0h1.3v1.34h-1.3zm4.58 0h1.3v1.34h-1.3zm13.73 0h1.3v1.34h-1.3zm9.15 0h1.3v1.34h-1.3zm18.31 0h1.3v1.34h-1.3zm4.58 0h1.3v1.34h-1.3zm4.58 0h1.3v1.34h-1.3zm13.73 0h1.3v1.34h-1.3zm9.15 0h1.3v1.34h-1.3zm9.15 0h1.3v1.34h-1.3zm4.58 0h1.3v1.34h-1.3zm18.31 0h1.3v1.34h-1.3zm4.58 0h1.3v1.34h-1.3zm4.58 0h1.3v1.34h-1.3zm9.15 0h1.3v1.34h-1.3zm32.04 0h1.3v1.34h-1.3zm13.73 0h1.3v1.34h-1.3zm27.46 0h1.3v1.34h-1.3zm4.58 0h1.3v1.34h-1.3zm9.15 0h1.3v1.34h-1.3zm-416.51 2.9h1.3v1.34h-1.3zm18.31 0h1.3v1.34h-1.3zm18.31 0h1.3v1.34h-1.3zm13.73 0h1.3v1.34h-1.3zm4.58 0h1.3v1.34h-1.3zm4.58 0h1.3v1.34h-1.3zm27.46 0h1.3v1.34h-1.3zm18.31 0h1.3v1.34h-1.3zm13.73 0h1.3v1.34h-1.3zm4.58 0h1.3v1.34h-1.3zm9.15 0h1.3v1.34h-1.3zm9.15 0h1.3v1.34h-1.3zm18.31 0h1.3v1.34h-1.3zm9.15 0h1.3v1.34h-1.3zm4.58 0h1.3v1.34h-1.3zm4.58 0h1.3v1.34h-1.3zm18.31 0h1.3v1.34h-1.3zm22.88 0h1.3v1.34h-1.3zm9.15 0h1.3v1.34h-1.3zm9.15 0h1.3v1.34h-1.3zm4.58 0h1.3v1.34h-1.3zm13.73 0h1.3v1.34h-1.3zm4.58 0h1.3v1.34h-1.3zm32.04 0h1.3v1.34h-1.3zm18.31 0h1.3v1.34h-1.3zm32.04 0h1.3v1.34h-1.3zm4.58 0h1.3v1.34h-1.3zm4.58 0h1.3v1.34h-1.3zm13.73 0h1.3v1.34h-1.3zm13.73 0h1.3v1.34h-1.3zm4.58 0h1.3v1.34h-1.3zm9.15 0h1.3v1.34h-1.3zm13.73 0h1.3v1.34h-1.3zm4.58 0h1.3v1.34h-1.3zm-411.93 3.13h1.3v1.34h-1.3zm18.31 0h1.3v1.34h-1.3zm4.58 0h1.3v1.34h-1.3zm4.58 0h1.3v1.34h-1.3zm4.58 0h1.3v1.34h-1.3zm18.31 0h1.3v1.34h-1.3zm13.73 0h1.3v1.34h-1.3zm22.88 0h1.3v1.34h-1.3zm13.73 0h1.3v1.34h-1.3zm9.15 0h1.3v1.34h-1.3zm4.58 0h1.3v1.34h-1.3zm9.15 0h1.3v1.34h-1.3zm32.04 0h1.3v1.34h-1.3zm4.58 0h1.3v1.34h-1.3zm4.58 0h1.3v1.34h-1.3zm4.58 0h1.3v1.34h-1.3zm9.15 0h1.3v1.34h-1.3zm41.19 0h1.3v1.34h-1.3zm4.58 0h1.3v1.34h-1.3zm13.73 0h1.3v1.34h-1.3zm13.73 0h1.3v1.34h-1.3zm36.62 0h1.3v1.34h-1.3zm4.58 0h1.3v1.34h-1.3zm13.73 0h1.3v1.34h-1.3zm4.58 0h1.3v1.34h-1.3zm4.58 0h1.3v1.34h-1.3zm22.88 0h1.3v1.34h-1.3zm13.73 0h1.3v1.34h-1.3zm4.58 0h1.3v1.34h-1.3zm9.15 0h1.3v1.34h-1.3zm4.58 0h1.3v1.34h-1.3zm9.15 0h1.3v1.34h-1.3zm13.73 0h1.3v1.34h-1.3zm4.58 0h1.3v1.34h-1.3zm-402.78 3.57h1.3v1.34h-1.3zm9.15 0h1.3v1.34h-1.3zm32.04 0h1.3v1.34h-1.3zm18.31 0h1.3v1.34h-1.3zm13.73 0h1.3v1.34h-1.3zm4.58 0h1.3v1.34h-1.3zm18.31 0h1.3v1.34h-1.3zm13.73 0h1.3v1.34h-1.3zm4.58 0h1.3v1.34h-1.3zm4.58 0h1.3v1.34h-1.3zm4.58 0h1.3v1.34h-1.3zm9.15 0h1.3v1.34h-1.3zm27.46 0h1.3v1.34h-1.3zm4.58 0h1.3v1.34h-1.3zm9.15 0h1.3v1.34h-1.3zm27.46 0h1.3v1.34h-1.3zm9.15 0h1.3v1.34h-1.3zm4.58 0h1.3v1.34h-1.3zm9.15 0h1.3v1.34h-1.3zm22.88 0h1.3v1.34h-1.3zm18.31 0h1.3v1.34h-1.3zm4.58 0h1.3v1.34h-1.3zm13.73 0h1.3v1.34h-1.3zm4.58 0h1.3v1.34h-1.3zm13.73 0h1.3v1.34h-1.3zm4.58 0h1.3v1.34h-1.3zm13.73 0h1.3v1.34h-1.3zm9.15 0h1.3v1.34h-1.3zm27.46 0h1.3v1.34h-1.3zm4.58 0h1.3v1.34h-1.3zm4.58 0h1.3v1.34h-1.3zm22.89 0h1.3v1.34h-1.3zm4.58 0h1.3v1.34h-1.3zm9.15 0h1.3v1.34h-1.3zm13.73 0h1.3v1.34h-1.3z"/><path fill="#0d001d" d="M99.83 578.36h1.3v1.34h-1.3z"/><path fill="#0067ff" d="M104.4 578.36h1.3v1.34h-1.3z"/><path fill="#310ed6" d="M108.98 578.36h1.3v1.34h-1.3zm151.04 0h1.3v1.34h-1.3zm173.93 0h1.3v1.34h-1.3z"/><path fill="#0c001b" d="M118.13 578.36h1.3v1.34h-1.3zm357.01 9.61h1.3v1.34h-1.3z"/><path fill="#32008b" d="M122.71 578.36h1.3v1.34h-1.3z"/><path fill="#0070ff" d="M127.29 578.36h1.3v1.34h-1.3zm73.23 2.9h1.3v1.34h-1.3z"/><path fill="#0093ff" d="M136.44 578.36h1.3v1.34h-1.3zm187.66 0h1.3v1.34h-1.3z"/><path fill="#0a4ff7" d="M145.6 578.36h1.3v1.34h-1.3z"/><path fill="#250063" d="M150.17 578.36h1.3v1.34h-1.3z"/><path fill="#300085" d="M159.33 578.36h1.3v1.34h-1.3zm215.12 6.03h1.3v1.34h-1.3z"/><path fill="#19003b" d="M163.91 578.36h1.3v1.34h-1.3z"/><path fill="#0e0020" d="M173.06 578.36h1.3v1.34h-1.3z"/><path fill="#0099ff" d="M177.64 578.36h1.3v1.34h-1.3z"/><path fill="#330ac6" d="M182.21 578.36h1.3v1.34h-1.3zm54.92 6.03h1.3v1.34h-1.3zm274.62 0h1.3v1.34h-1.3z"/><path fill="#2f11dd" d="M191.37 578.36h1.3v1.34h-1.3z"/><path fill="#3010dc" d="M195.94 578.36h1.3v1.34h-1.3zm36.62 9.61h1.3v1.34h-1.3z"/><path fill="#1c0044" d="M200.52 578.36h1.3v1.34h-1.3z"/><path fill="#2f0082" d="M209.67 578.36h1.3v1.34h-1.3zm-13.73 6.03h1.3v1.34h-1.3zm-50.35 3.57h1.3v1.34h-1.3z"/><path fill="#2b0076" d="M218.83 578.36h1.3v1.34h-1.3z"/><path fill="#010002" d="M227.98 578.36h1.3v1.34h-1.3z"/><path fill="#009dff" d="M232.56 578.36h1.3v1.34h-1.3zm-4.58 2.9h1.3v1.34h-1.3z"/><path fill="#00a0ff" d="M237.14 578.36h1.3v1.34h-1.3z"/><path fill="#00b2ff" d="M250.87 578.36h1.3v1.34h-1.3z"/><path fill="#2f0084" d="M255.45 578.36h1.3v1.34h-1.3zm-73.23 2.9h1.3v1.34h-1.3zm192.23 6.7h1.3v1.34h-1.3z"/><path fill="#3801a3" d="M264.6 578.36h1.3v1.34h-1.3zm86.96 2.9h1.3v1.34h-1.3z"/><path fill="#2e0080" d="M273.75 578.36h1.3v1.34h-1.3z"/><path fill="#1e004d" d="M292.06 578.36h1.3v1.34h-1.3z"/><path fill="#250062" d="M310.37 578.36h1.3v1.34h-1.3zm183.08 0h1.3v1.34h-1.3z"/><path fill="#3507b9" d="M314.95 578.36h1.3v1.34h-1.3z"/><path fill="#0a0016" d="M333.25 578.36h1.3v1.34h-1.3z"/><path fill="#3408bd" d="M337.83 578.36h1.3v1.34h-1.3zm-146.46 2.9h1.3v1.34h-1.3z"/><path fill="#3506b5" d="M342.41 578.36h1.3v1.34h-1.3z"/><path fill="#33008f" d="M360.72 578.36h1.3v1.34h-1.3z"/><path fill="#0071ff" d="M365.29 578.36h1.3v1.34h-1.3z"/><path fill="#19003d" d="M374.45 578.36h1.3v1.34h-1.3zm-215.12 6.03h1.3v1.34h-1.3z"/><path fill="#0a50f8" d="M383.6 578.36h1.3v1.34h-1.3z"/><path fill="#320cce" d="M397.33 578.36h1.3v1.34h-1.3zm27.46 2.9h1.3v1.34h-1.3z"/><path fill="#2a0073" d="M401.91 578.36h1.3v1.34h-1.3z"/><path fill="#320bca" d="M406.49 578.36h1.3v1.34h-1.3zm91.54 2.9h1.3v1.34h-1.3z"/><path fill="#0073ff" d="M424.79 578.36h1.3v1.34h-1.3z"/><path fill="#3506b7" d="M438.52 578.36h1.3v1.34h-1.3zm-105.27 6.03h1.3v1.34h-1.3z"/><path fill="#320ccd" d="M443.1 578.36h1.3v1.34h-1.3zm-22.88 9.61h1.3v1.34h-1.3z"/><path fill="#0c001d" d="M447.68 578.36h1.3v1.34h-1.3z"/><path fill="#163cef" d="M452.26 578.36h1.3v1.34h-1.3z"/><path fill="#170037" d="M456.83 578.36h1.3v1.34h-1.3z"/><path fill="#1d0048" d="M465.99 578.36h1.3v1.34h-1.3z"/><path fill="#310ed5" d="M470.56 578.36h1.3v1.34h-1.3z"/><path fill="#2128e7" d="M479.72 578.36h1.3v1.34h-1.3z"/><path fill="#200053" d="M484.3 578.36h1.3v1.34h-1.3z"/><path fill="#008eff" d="M488.87 578.36h1.3v1.34h-1.3zm-100.69 2.9h1.3v1.34h-1.3z"/><path fill="#0084ff" d="M498.03 578.36h1.3v1.34h-1.3z"/><path fill="#1b0042" d="M511.76 578.36h1.3v1.34h-1.3zm-141.89 9.61h1.3v1.34h-1.3z"/><path fill="#1c0045" d="M95.25 581.27h1.3v1.34h-1.3z"/><path fill="#006eff" d="M104.4 581.27h1.3v1.34h-1.3z"/><path fill="#1241f2" d="M108.98 581.27h1.3v1.34h-1.3z"/><path fill="#0f0023" d="M113.56 581.27h1.3v1.34h-1.3zm288.35 0h1.3v1.34h-1.3zm54.92 0h1.3v1.34h-1.3z"/><path fill="#0065ff" d="M122.71 581.27h1.3v1.34h-1.3zm178.5 3.13h1.3v1.34h-1.3z"/><path fill="#00b7ff" d="M127.29 581.27h1.3v1.34h-1.3z"/><path fill="#220058" d="M131.87 581.27h1.3v1.34h-1.3z"/><path fill="#030007" d="M141.02 581.27h1.3v1.34h-1.3z"/><path fill="#0459fc" d="M145.6 581.27h1.3v1.34h-1.3zm357.01 0h1.3v1.34h-1.3z"/><path fill="#0077ff" d="M163.91 581.27h1.3v1.34h-1.3z"/><path fill="#1f2ce8" d="M168.48 581.27h1.3v1.34h-1.3zm215.12 0h1.3v1.34h-1.3z"/><path fill="#00a2ff" d="M173.06 581.27h1.3v1.34h-1.3z"/><path fill="#0098ff" d="M177.64 581.27h1.3v1.34h-1.3z"/><path fill="#0078ff" d="M195.94 581.27h1.3v1.34h-1.3z"/><path fill="#00b3ff" d="M209.67 581.27h1.3v1.34h-1.3zm238 6.7h1.3v1.34h-1.3z"/><path fill="#0d001f" d="M214.25 581.27h1.3v1.34h-1.3z"/><path fill="#020004" d="M237.14 581.27h1.3v1.34h-1.3z"/><path fill="#13002d" d="M246.29 581.27h1.3v1.34h-1.3z"/><path fill="#3409c0" d="M250.87 581.27h1.3v1.34h-1.3z"/><path fill="#14002f" d="M255.45 581.27h1.3v1.34h-1.3z"/><path fill="#3702a7" d="M264.6 581.27h1.3v1.34h-1.3z"/><path fill="#0f0024" d="M282.91 581.27h1.3v1.34h-1.3z"/><path fill="#100025" d="M287.48 581.27h1.3v1.34h-1.3z"/><path fill="#00aaff" d="M292.06 581.27h1.3v1.34h-1.3z"/><path fill="#0076ff" d="M301.22 581.27h1.3v1.34h-1.3z"/><path fill="#0b4df7" d="M305.79 581.27h1.3v1.34h-1.3z"/><path fill="#0061ff" d="M310.37 581.27h1.3v1.34h-1.3zm-169.35 3.13h1.3v1.34h-1.3zm228.85 0h1.3v1.34h-1.3zm-128.16 3.57h1.3v1.34h-1.3z"/><path fill="#009aff" d="M314.95 581.27h1.3v1.34h-1.3z"/><path fill="#00b1ff" d="M324.1 581.27h1.3v1.34h-1.3z"/><path fill="#00b8ff" d="M333.25 581.27h1.3v1.34h-1.3z"/><path fill="#160034" d="M346.99 581.27h1.3v1.34h-1.3zm-201.39 3.13h1.3v1.34h-1.3z"/><path fill="#330bc8" d="M365.29 581.27h1.3v1.34h-1.3z"/><path fill="#330ac4" d="M369.87 581.27h1.3v1.34h-1.3z"/><path fill="#350095" d="M374.45 581.27h1.3v1.34h-1.3z"/><path fill="#2f0083" d="M379.02 581.27h1.3v1.34h-1.3z"/><path fill="#28006c" d="M397.33 581.27h1.3v1.34h-1.3z"/><path fill="#008bff" d="M406.49 581.27h1.3v1.34h-1.3zm-274.62 6.7h1.3v1.34h-1.3z"/><path fill="#006bff" d="M415.64 581.27h1.3v1.34h-1.3zm-297.5 6.7h1.3v1.34h-1.3z"/><path fill="#0090ff" d="M420.22 581.27h1.3v1.34h-1.3zm-114.42 3.13h1.3v1.34h-1.3z"/><path fill="#008aff" d="M429.37 581.27h1.3v1.34h-1.3z"/><path fill="#0755fa" d="M433.95 581.27h1.3v1.34h-1.3z"/><path fill="#1144f3" d="M438.52 581.27h1.3v1.34h-1.3z"/><path fill="#010003" d="M461.41 581.27h1.3v1.34h-1.3z"/><path fill="#32008e" d="M470.56 581.27h1.3v1.34h-1.3z"/><path fill="#31008a" d="M475.14 581.27h1.3v1.34h-1.3z"/><path fill="#0064ff" d="M488.87 581.27h1.3v1.34h-1.3z"/><path fill="#007eff" d="M516.33 581.27h1.3v1.34h-1.3z"/><path fill="#0072ff" d="M95.25 584.4h1.3v1.34h-1.3zm91.54 3.57h1.3v1.34h-1.3z"/><path fill="#00adff" d="M104.4 584.4h1.3v1.34h-1.3z"/><path fill="#0068ff" d="M108.98 584.4h1.3v1.34h-1.3z"/><path fill="#202ae7" d="M113.56 584.4h1.3v1.34h-1.3zm315.81 0h1.3v1.34h-1.3z"/><path fill="#32008c" d="M136.44 584.4h1.3v1.34h-1.3z"/><path fill="#1340f1" d="M154.75 584.4h1.3v1.34h-1.3zm274.62 3.57h1.3v1.34h-1.3z"/><path fill="#0094ff" d="M168.48 584.4h1.3v1.34h-1.3z"/><path fill="#0097ff" d="M173.06 584.4h1.3v1.34h-1.3zm-45.77 3.57h1.3v1.34h-1.3z"/><path fill="#1f004f" d="M177.64 584.4h1.3v1.34h-1.3z"/><path fill="#05000d" d="M182.21 584.4h1.3v1.34h-1.3z"/><path fill="#3408be" d="M191.37 584.4h1.3v1.34h-1.3z"/><path fill="#00a5ff" d="M205.1 584.4h1.3v1.34h-1.3z"/><path fill="#24005f" d="M218.83 584.4h1.3v1.34h-1.3zm18.31 3.57h1.3v1.34h-1.3z"/><path fill="#009cff" d="M227.98 584.4h1.3v1.34h-1.3z"/><path fill="#2326e6" d="M232.56 584.4h1.3v1.34h-1.3z"/><path fill="#310dd2" d="M241.71 584.4h1.3v1.34h-1.3zm260.89 0h1.3v1.34h-1.3z"/><path fill="#009bff" d="M246.29 584.4h1.3v1.34h-1.3z"/><path fill="#008cff" d="M250.87 584.4h1.3v1.34h-1.3z"/><path fill="#310fd8" d="M273.75 584.4h1.3v1.34h-1.3z"/><path fill="#3800a1" d="M282.91 584.4h1.3v1.34h-1.3z"/><path fill="#3604ae" d="M287.48 584.4h1.3v1.34h-1.3z"/><path fill="#170035" d="M292.06 584.4h1.3v1.34h-1.3zm64.08 3.57h1.3v1.34h-1.3z"/><path fill="#0a0017" d="M296.64 584.4h1.3v1.34h-1.3z"/><path fill="#1937ed" d="M310.37 584.4h1.3v1.34h-1.3zm27.46 3.57h1.3v1.34h-1.3z"/><path fill="#220057" d="M314.95 584.4h1.3v1.34h-1.3z"/><path fill="#3604b1" d="M328.68 584.4h1.3v1.34h-1.3z"/><path fill="#0091ff" d="M342.41 584.4h1.3v1.34h-1.3zm-91.54 3.57h1.3v1.34h-1.3z"/><path fill="#3408bc" d="M346.99 584.4h1.3v1.34h-1.3z"/><path fill="#0087ff" d="M356.14 584.4h1.3v1.34h-1.3z"/><path fill="#0088ff" d="M360.72 584.4h1.3v1.34h-1.3zm-183.08 3.57h1.3v1.34h-1.3zm100.69 0h1.3v1.34h-1.3z"/><path fill="#3408c0" d="M365.29 584.4h1.3v1.34h-1.3z"/><path fill="#160032" d="M379.02 584.4h1.3v1.34h-1.3z"/><path fill="#006fff" d="M383.6 584.4h1.3v1.34h-1.3z"/><path fill="#008fff" d="M397.33 584.4h1.3v1.34h-1.3z"/><path fill="#1c32eb" d="M401.91 584.4h1.3v1.34h-1.3z"/><path fill="#007fff" d="M420.22 584.4h1.3v1.34h-1.3z"/><path fill="#2f12dd" d="M424.79 584.4h1.3v1.34h-1.3z"/><path fill="#180038" d="M433.95 584.4h1.3v1.34h-1.3z"/><path fill="#0d001e" d="M443.1 584.4h1.3v1.34h-1.3zm36.62 3.57h1.3v1.34h-1.3z"/><path fill="#220059" d="M447.68 584.4h1.3v1.34h-1.3z"/><path fill="#00b4ff" d="M461.41 584.4h1.3v1.34h-1.3z"/><path fill="#1341f1" d="M475.14 584.4h1.3v1.34h-1.3zm-86.96 3.57h1.3v1.34h-1.3z"/><path fill="#3703aa" d="M484.3 584.4h1.3v1.34h-1.3z"/><path fill="#1046f4" d="M488.87 584.4h1.3v1.34h-1.3z"/><path fill="#271fe3" d="M507.18 584.4h1.3v1.34h-1.3z"/><path fill="#0060ff" d="M516.33 584.4h1.3v1.34h-1.3z"/><path fill="#2a0072" d="M99.83 587.97h1.3v1.34h-1.3z"/><path fill="#160033" d="M108.98 587.97h1.3v1.34h-1.3z"/><path fill="#3605b3" d="M113.56 587.97h1.3v1.34h-1.3z"/><path fill="#110027" d="M122.71 587.97h1.3v1.34h-1.3z"/><path fill="#1a0040" d="M141.02 587.97h1.3v1.34h-1.3z"/><path fill="#0d4af6" d="M150.17 587.97h1.3v1.34h-1.3z"/><path fill="#0086ff" d="M159.33 587.97h1.3v1.34h-1.3z"/><path fill="#3605b2" d="M163.91 587.97h1.3v1.34h-1.3z"/><path fill="#24005e" d="M182.21 587.97h1.3v1.34h-1.3z"/><path fill="#3506b6" d="M195.94 587.97h1.3v1.34h-1.3z"/><path fill="#0557fb" d="M200.52 587.97h1.3v1.34h-1.3z"/><path fill="#19003a" d="M223.41 587.97h1.3v1.34h-1.3z"/><path fill="#00a8ff" d="M246.29 587.97h1.3v1.34h-1.3z"/><path fill="#006cff" d="M264.6 587.97h1.3v1.34h-1.3z"/><path fill="#00abff" d="M273.75 587.97h1.3v1.34h-1.3z"/><path fill="#310088" d="M282.91 587.97h1.3v1.34h-1.3z"/><path fill="#05000b" d="M287.48 587.97h1.3v1.34h-1.3zm146.46 0h1.3v1.34h-1.3z"/><path fill="#00acff" d="M292.06 587.97h1.3v1.34h-1.3z"/><path fill="#3409c1" d="M301.22 587.97h1.3v1.34h-1.3z"/><path fill="#06000e" d="M314.95 587.97h1.3v1.34h-1.3z"/><path fill="#080013" d="M324.1 587.97h1.3v1.34h-1.3z"/><path fill="#3505b3" d="M328.68 587.97h1.3v1.34h-1.3zm4.58 0h1.3v1.34h-1.3z"/><path fill="#291ce1" d="M346.99 587.97h1.3v1.34h-1.3z"/><path fill="#2e007e" d="M351.56 587.97h1.3v1.34h-1.3z"/><path fill="#007bff" d="M392.75 587.97h1.3v1.34h-1.3z"/><path fill="#330ac5" d="M406.49 587.97h1.3v1.34h-1.3z"/><path fill="#36009a" d="M411.06 587.97h1.3v1.34h-1.3z"/><path fill="#300087" d="M438.52 587.97h1.3v1.34h-1.3z"/><path fill="#0075ff" d="M443.1 587.97h1.3v1.34h-1.3z"/><path fill="#0c001c" d="M465.99 587.97h1.3v1.34h-1.3z"/><path fill="#009fff" d="M470.56 587.97h1.3v1.34h-1.3z"/><path fill="#320dcf" d="M493.45 587.97h1.3v1.34h-1.3z"/><path fill="#13002c" d="M502.6 587.97h1.3v1.34h-1.3z"/><path fill="#3604b0" d="M507.18 587.97h1.3v1.34h-1.3z"/><path fill="#3408bf" d="M516.33 587.97h1.3v1.34h-1.3z"/><svg x="92" y="589" width="428" height="73" viewBox="0 0 214 73" preserveAspectRatio="none" fill="none" stroke-width="1"><path stroke="#00ffe8" d="M.5 0v4m0 16v3m1-23v4m0 4v12m0 3v4m0 19v3m1-49v4m0 16v3m1 23v3m2-49v4m0 19v4m1-11v4m0 29v2m1-51v8m0 4v4m1 0v7m0 23v3m1-29v7m1-27v4m0 42v3m2-45v23m1-27v8m1 8v4m0 7v3m1-7v7m1-26v12m0 14v3m0 13v3m1-37v4m0 30v3m1-49v4m0 4v8m1-4v4m0 7v4m1 19v3m1-16v3m1-36v8m0 15v4m0 3v3m1 18v2m1-53v4m0 4v4m2 11v4m0 3v3m1-33v4m1 4v4m0 18v3m1-25v8m0 4v3m1-23v4m0 19v4m1-19v12m1 0v3m1-15v4m2 4v7m0 26v2m1-47v12m0 11v3m1-30v8m0 4v4m0 4v3m3-7v7m3-23v4m0 4v4m1 0v4m0 4v13m1-33v4m1 12v4m0 29v2m1-51v8m0 4v4m0 7v4m1 3v3m0 13v3m1-45v4m1 4v4m0 4v3m1 4v3m0 14v2m1-42v4m1-4v4m0 12v3m1 10v3m2-16v13m1-21v8m0 3v7m0 19v2m1-39v8m1-20v4m0 4v12m1-8v4m0 4v7m0 19v3m1-45v8m2-8v12m0 11v3m1-22v4m0 37v2m1-35v7m1-19v8m1-12v12m1-4v4m0 29v3m1-44v8m2-8v4m0 37v3m1-40v4m1 4v4m0 23v2m2-41v4m3-4v4m0 23v3m2-18v4m2-4v8m0 7v3m0 14v2m0 9v2m1-2v2m1-53v4m2 4v4m0 39v2m1-57v4m0 4v4m1-12v4m2 4v8m1-12v4m0 4v4m1-12v4m1 0v8m0 7v4m1-19v4m0 4v4m1-8v8m1 26v3m1-49v4m0 4v4m0 32v2m1-46v8m0 4v8m0 26v3m1-49v4m1 0v4m0 47v2m1-57v4m0 35v2m1-29v4m1-4v4m1-12v4m0 22v3m1-25v12m0 7v6m1-21v8m0 3v7m1-22v8m0 17v3m2-24v8m0 7v6m1-33v4m0 4v4m1-8v4m0 19v3m0 6v3m1-35v4m1-8v8m0 19v3m2-22v8m0 14v3m1-29v16m0 16v3m1-39v4m0 32v3m0 10v2m1-18v3m0 17v2m3-55v8m0 4v8m0 33v2m1-51v4m0 4v4m1-12v8m0 11v4m1-7v3m1-19v4m0 47v2m1-53v4m0 12v3m0 7v6m0 13v2m1-43v4m1 21v3m1-3v3m0 13v2m1-31v3m0 7v3m1-25v12m0 3v4m0 22v2m1-47v12m1 33v2m1-51v4m0 8v4m0 14v3m1-25v4m2 8v3m0 4v6m2-33v4m0 23v3m2 3v3m1-3v6m0 12v2m1-30v4m0 6v3m1-3v3m0 17v2m1-39v4m0 3v4m1-23v4m0 8v4m0 7v3m1-30v16m0 11v3m0 19v2m2-47v4m0 15v4m0 26v2m1 0v2m1-53v8m0 11v4m0 24v2m1-53v16m1 4v3m0 28v2m1-33v7m3-11v7m1 26v2m2-51v8m0 25v3m2-9v9m0 15v2m1-49v4m0 25v3m1-36v4m1-4v16m0 17v3m1-9v3m4-18v4m0 4v3m1 0v4m1-27v4m0 4v4m0 34v3m1-37v8m0 3v4m1 3v3m1-33v4m0 4v4m1-4v4m0 18v3m2-33v12m0 18v3m1-17v7m1 4v3m0 19v2m1-51v4m0 8v8m0 3v4m1 22v2m1-39v4m0 11v3m1-3v3m1-18v4m1-4v4m0 4v3m0 28v2m1-41v8m1 0v7m1-23v4m0 38v3m1-45v8m0 37v2m1-21v3m2-17v4m1-8v8m1-12v4m0 18v6m1-36v4m0 4v8m0 4v3m1-23v4m0 4v4m0 8v3m1 23v3m1-45v12m0 7v7m1-18v4m1-12v4m2 0v8m2 0v7m1-11v4m0 20v3m0 12v2m1-30v4m0 3v3m1-10v4m0 26v2m1-51v4m1-8v8m0 4v4m2-8v4m1 0v4"/><path stroke="#00ff64" d="M.5 4v4m0 19v3m3 3v3m3 10v3m1-3v3m3-19v3m2 13v3m2-49v8m0 38v3m3-45v4m0 22v3m1-3v3m2 3v3m3-31v4m1 34v3m3-5v2m1 0v3m1-3v3m1 0v2m2-5v3m2-22v3m5-10v3m3 10v3m3 10v3m3-8v3m2-14v3m1 0v3m8-9v3m1 0v3m7 20v2m5-14v3m0 11v2m4-13v2m8 7v2m3-9v3m7 6v2m1-57v4m7 29v3m0 8v2m4-42v4m1 41v2m2-51v4m4 45v2m7 2v2m4-11v5m3-3v3m1-3v3m3-49v4m1 42v3m5-5v2m4 0v3m2-45v4m0 28v3m1 12v2m1-53v4m9 0v4m3 0v4m1-12v4m1 45v2m2-12v2m0 8v2m1-15v3m4-39v4m5 26v3m3 11v2m1 3v2m4-5v3m3-13v3m2 7v3m6-3v3m1-5v2m2-13v3m6 8v2m1-7v2m5 3v2m1-7v2m1-41v4m0 42v3m1-10v2m0 10v2m1-2v2m1-14v2m0 8v2"/><path stroke="#00ff93" d="M.5 8v8m0 7v4m6-27v8m0 4v4m0 7v4m1-7v3m1-23v4m2 23v3m1 19v2m1-24v3m1 0v3m0 13v3m1-37v4m1-12v4m0 4v4m0 14v3m3-6v3m1-22v4m4-8v4m1-4v4m0 19v3m1 0v3m0 13v3m4-49v4m0 26v3m2-10v4m1-4v4m1 19v3m1-49v12m0 4v4m1-16v8m1 37v2m1-28v4m3-19v4m0 11v4m0 19v3m1-26v4m4-4v4m1-27v8m0 12v7m2 6v3m1-6v3m1-33v4m5-4v16m0 20v3m1-35v8m0 21v3m1-32v4m0 25v3m1-28v4m0 37v2m2-51v4m0 23v3m2 3v3m2-24v4m0 11v3m3 9v2m1-41v4m5-4v4m5 51v2m1-2v2m1-57v4m0 40v2m0 9v2m1-2v2m1-53v4m1-8v4m1-4v4m2-4v4m0 4v4m2 43v2m2-53v4m1-8v4m2-4v4m0 51v2m1-53v4m0 36v2m1-2v2m2-42v4m5-8v4m2 45v2m2-51v4m0 26v3m0 3v3m0 10v2m1-51v8m2-4v4m0 25v3m2-28v8m1 20v3m1-9v3m1 0v3m5 15v2m3-20v3m1-9v3m1 19v2m1-24v3m0 23v2m1-47v8m1 33v2m4-47v4m0 12v3m0 4v3m1-7v4m1-11v4m4-16v12m1 28v2m4-42v4m1 43v2m2-49v12m1-16v4m0 8v4m0 14v3m1-3v3m1 13v3m1-49v4m1 29v3m1-36v4m3-4v4m1 42v3m1-19v3m1-21v4m0 7v7m1-26v4m0 8v4m2 31v2m6-45v4m1 21v3m0 10v3m2-19v3m1-10v4m1 0v3m1 3v3m1-6v3m1 0v3m2-3v3m1-6v3m2-33v4m6 0v4m0 25v3m2-28v4m1 15v3m3 16v3m1-3v3m1-45v4m0 4v4m1-8v4m1-8v4m7-4v4m2 33v3m0 7v2m1-53v12m1-8v4m1 31v2m1-41v4m2 32v3m0 12v2m1-14v2m2-33v4"/><path stroke="#00ffbe" d="M.5 16v4m1 0v3m0 4v3m4-26v4m0 25v3m1-16v3m1-7v4m0 29v2m1-47v12m0 7v4m1-23v8m0 37v2m2-35v4m2 7v3m1-22v4m0 8v7m2-27v4m1-4v4m0 4v4m0 15v3m2-30v8m0 12v3m0 4v3m3-22v4m0 34v3m1-49v4m0 8v8m1-8v8m0 3v4m2-27v4m0 42v3m2-45v4m1 8v4m0 7v3m2-30v8m0 12v3m1-23v4m0 8v4m1 7v4m1-7v7m1-27v4m0 8v4m0 7v4m1-27v4m1 4v4m0 37v2m1-51v4m1 0v4m0 4v4m0 33v2m1-51v8m0 4v4m1 33v2m1-21v3m1-29v4m0 19v6m1-29v4m0 38v3m1-37v11m1-15v8m2-16v4m1 23v3m1-26v4m0 19v3m2-7v4m1-4v4m2 6v3m1-24v4m1 14v3m1-33v8m0 12v7m1-23v4m0 12v3m1-15v4m1-12v4m0 26v3m2-33v4m0 16v3m0 7v3m1-33v8m0 8v4m1-8v4m0 7v4m1 26v2m3-14v3m0 9v2m1-55v4m3 0v4m4-8v4m1 4v4m2-8v8m4-4v8m1 30v3m1-45v4m3 36v2m1 9v2m1-13v2m1-2v2m1-42v4m1-8v4m0 8v4m1-8v4m1 43v2m2-49v4m0 43v2m2-57v4m2 0v8m0 18v3m2-33v4m0 4v4m0 8v3m1-23v8m0 25v3m1-3v3m3-28v4m0 24v3m1 0v2m0 5v3m1-49v4m0 26v3m1 0v3m0 13v2m3-51v4m1-4v4m1 0v4m2 45v2m1-55v8m0 47v2m2-57v4m0 19v4m1-15v4m0 37v2m1-55v16m0 14v6m3-32v4m3 41v2m3-31v3m1-19v8m3 4v4m0 3v4m1 3v3m2-3v3m1-25v4m1 0v4m1-16v4m0 4v4m0 18v3m2-3v3m0 16v2m1-43v4m0 8v7m0 22v2m3-21v3m2-21v4m2-12v12m1-4v4m0 11v3m1 0v3m2-33v4m0 45v2m1-43v8m0 7v7m1 3v3m3-36v8m1-8v4m0 4v4m0 24v3m3-27v4m3 11v3m1-30v8m1-8v8m0 38v3m1-45v4m1-8v12m0 8v3m0 4v3m1-30v4m0 42v3m2-3v3m1 0v2m1-7v2m1-42v12m0 7v4m2-19v4m0 21v3m2-32v8m0 18v3m1-33v4m0 29v3m1-16v3m0 7v3m1-33v4m0 23v3m1-30v8m0 19v3m1-30v4m0 45v2m1-24v3m1-18v4m0 7v4m3-4v7m1-26v4m0 25v3m0 13v2m1-51v4m1 12v4m0 10v3m1-3v3m0 13v3m2-49v4m1-4v8m1-8v4m1 4v8m1 35v2m2-12v3m0 5v2m1-43v4m1-8v4m0 4v4m0 33v2m2-51v4m0 8v4m1-8v4m1-12v4m1 32v3m0 12v2"/><path stroke="#00ff1c" d="M.5 30v3m4 11v2m3-16v3m6 6v5m1-11v3m5 8v2m4 0v3m1-5v2m1-13v3m3 0v3m10-12v3m2 14v2m3-2v2m9-16v3m4 6v2m3 3v2m3-10v3m3-6v3m3 8v2m3-2v2m1-2v2m0 7v2m2-4v2m2 0v2m3-9v3m9 4v2m1-9v3m0 6v2m1-8v2m0 2v2m5-9v3m10-3v3m1-3v3m7-16v3m1 8v2m1-10v3m1 5v2m1-7v2m3-2v2m2-2v2m1-8v3m4 5v3m2 2v3m1-3v3m1-3v3m1-5v2m1-19v3m1 3v3m3-3v3m4 0v3m3-3v3m1-3v3m1 7v3m1-16v3m3 15v2m6-9v2m1-16v3m1 13v3m6-8v3m10-8v3m8 5v2m7-16v3m0 11v2m1-16v3m1 6v2m3-2v2m0 5v3m3-5v2m4-2v5m5-8v3m3 5v2m3-2v2"/><path stroke="#15ff00" d="M.5 33v3m2 8v2m1-10v3m3-3v5m2-2v2m2-5v3m1-3v5m5-5v3m1-6v3m1-3v3m1-3v3m2 5v3m5-5v2m6-11v3m2 0v3m0 8v2m2-13v3m7 0v3m1 0v2m1 3v2m4 0v3m4-5v2m3-2v2m3-16v3m2 3v3m3-6v3m1 8v2m1-2v2m1 0v3m1-3v3m6-3v3m2 0v4m1-4v4m1-7v3m5 2v4m2-6v2m3 0v2m1-4v2m2-5v3m3 0v2m6 2v2m14-14v3m1 0v2m2-2v2m1-7v2m0 5v3m1-5v5m4-8v3m3-3v3m2-5v2m0 3v2m5 0v3m1-5v2m4-13v3m7 3v2m6-2v2m6 3v5m1-5v2m3 0v3m4-5v2m3-5v3m2-14v3m7 0v8m2-11v3m6 3v3m1-9v3m2-3v3m2 0v3m2 8v2m6-5v3m4 2v3"/><path stroke="#32ff00" d="M.5 36v3m2-6v3m3 5v3m4-11v3m2 5v3m1-5v2m2-5v3m2 2v3m1-8v3m1 0v2m6 0v3m4-3v3m4 0v2m7-16v3m1-3v6m0 3v2m3-2v2m3-5v5m1-5v3m7-3v3m5-3v3m5 0v2m7 10v2m7 0v2m18-2v2m4-4v2m7-12v3m1-3v3m1 2v3m5-10v2m1-2v5m7 0v2m1-10v3m7 5v2m1-2v2m11 0v3m4-5v2m2-7v2m0 3v2m5-10v3m0 5v2m2-10v3m5 7v3m8-13v3m1 0v2m1-8v3m3 8v2m1-5v3m9 2v3m3-16v3m0 8v2m1-7v5m1-11v3m1-3v3m3 5v3m8-3v5m4 0v3m2-3v3m2-3v3m4-3v3m1-5v2"/><path stroke="#62ff00" d="M.5 39v2m11-8v3m1 5v3m5-5v2m8-2v2m4-5v3m1-3v3m1-3v3m2-3v8m9-5v2m3-2v2m2-2v5m5-5v2m6-5v3m15 10v2m8-2v2m13 0v2m10-14v2m4 3v2m3-5v3m2-3v3m7 5v2m13-7v2m8-2v2m8 0v3m3-8v3m2-5v2m2 0v3m1-3v3m3-5v2m8-2v2m2-5v3m1-6v3m8-3v3m1 0v3m0 2v3m1-5v2m0 3v2m2-10v3m3-3v3m3-3v3m23 5v2"/><path stroke="#6bff00" d="M.5 41v3m16-5v2m3-2v2m15-5v3m2-3v3m2-6v3m1-3v3m14 3v5m14 5v2m4-5v3m25 2v2m1 2v2m7-13v2m2-5v3m3 0v2m4-10v3m22 2v3m1-8v3m2 0v2m1 0v3m3-3v3m8 2v3m2-10v2m6-2v2m5 0v3m0 2v3m10-13v5m10 0v3m6-5v2m7 0v3"/><path stroke="#00ff0a" d="M.5 44v2m1-16v3m3 3v3m3-12v3m1 3v6m3-12v3m0 14v2m2-10v3m5-3v3m6-9v9m2-3v3m1 0v5m3-14v3m3 0v3m0 8v2m3 0v3m1-19v3m0 13v3m1-5v2m1-19v3m1-3v3m1 0v3m0 11v2m3-10v3m2-6v3m0 8v2m3-13v3m4-6v3m1 11v2m1-7v2m8 3v2m1-2v5m2-8v3m0 7v2m3-9v2m0 5v2m1-7v5m6-5v3m3 4v2m1-9v3m2 4v2m1-6v2m2 0v4m2-4v2m1-4v2m5-5v3m3 0v2m5-5v3m2-5v2m1 0v3m3-3v3m5-3v3m7-10v2m0 8v2m2-2v2m4-2v2m1-7v2m2-5v3m14-5v2m1 8v2m3-18v3m1 5v3m3-8v3m1 7v3m2-16v3m1-3v3m0 8v2m2-13v3m3 10v3m5-10v2m1-5v3m1-3v3m1 2v5m7-7v2m1 5v3m1-13v3m0 2v3m1-3v3m5-5v2m3 3v2m1 0v3m2-5v2m4-7v2m4-8v3m8 13v2m2-2v2m2-10v5m0 3v2m2-7v5"/><path stroke="#00ff52" d="M.5 46v3m1-5v2m1 0v3m1-5v2m3-19v3m1-7v4m1 3v3m0 11v2m5-2v2m5-2v2m1 0v3m1-8v3m3 5v2m2-7v2m3-13v3m3 10v3m4-22v3m3-7v4m0 19v3m1-49v4m3 40v2m2-13v3m0 8v2m1-16v3m2-6v3m1 6v3m3-3v3m0 2v3m5-8v3m3 7v3m2-16v3m0 8v2m2-13v3m2-36v4m2 37v3m3 9v2m1-2v2m2-11v2m1 7v2m7-11v2m2 0v3m1 0v2m4-5v3m2-49v4m0 42v3m5-45v4m0 47v2m3-8v2m9-15v3m3 2v3m1 5v2m7-15v3m4-3v3m0 10v2m2-15v3m0 2v3m4-8v3m5-39v4m2 29v3m5-3v3m0 5v3m5 2v3m2-3v3m2 2v2m2-17v3m0 10v2m1-5v3m1 0v2m1-21v3m0 13v3m2-3v3m4-13v3m0 10v2m4-15v3m4 5v2m1-2v2m1 0v3m5-16v3m1 8v2m2-13v3m5-3v3m2 10v3m2-5v2m7-10v3m1-3v3m2-6v3m5 5v3m3 2v3m5-8v3m1-3v5m2-42v4"/><path stroke="#00dcff" d="M.5 49v2m2-35v4m1-20v4m0 8v4m0 4v3m1-15v4m0 18v3m1-25v4m0 34v3m3 0v2m2-43v4m0 4v7m1 28v2m2-37v4m1 29v2m1-31v3m1-3v7m1-11v7m1 23v3m2-37v4m0 4v7m1-19v15m0 23v3m2 4v2m2-55v4m0 4v4m0 8v10m0 19v2m1-39v8m0 29v2m1-39v4m0 7v7m1-14v14m2-26v12m0 4v3m0 28v2m3-49v4m0 8v4m1 29v2m2 0v2m1-37v4m3 29v2m1-51v4m0 12v7m0 28v2m1-49v4m0 4v4m0 7v4m1-11v7m0 26v2m1-51v4m0 4v4m0 4v4m1 29v2m3-35v4m0 7v3m1-18v4m0 4v3m0 28v2m2-45v8m0 4v7m1-27v4m2 0v8m0 15v3m0 16v3m1-29v3m0 4v3m2-22v4m4 4v7m1-11v4m0 11v6m0 13v3m1-26v4m0 22v2m3-51v4m0 19v7m0 6v3m1-27v11m0 4v6m0 3v3m0 16v2m1-41v11m0 6v8m0 12v2m1-47v4m0 8v3m0 16v2m1-33v8m0 4v3m0 32v2m1-27v3m0 22v2m1 0v2m1-29v9m1 2v3m0 11v2m1-34v4m1-15v8m0 21v3m0 13v2m1-47v11m0 4v9m0 3v2m1-25v11m0 3v6m0 5v3m1-44v8m0 4v4m1 4v7m0 6v3m1-36v4m0 4v4m0 4v4m0 21v3m1-21v4m0 14v3m1-32v11m0 21v2m1-30v7m0 4v3m0 3v8m1-37v4m0 47v2m1-41v11m0 3v3m0 3v3m0 2v5m1-34v18m0 3v3m0 8v2m0 9v2m1-45v15m0 6v3m0 8v2m1-46v4m0 4v8m1 4v13m0 11v2m1-26v3m0 7v6m1-28v8m0 41v2m1-43v4m0 7v12m1-19v3m0 4v6m0 3v8m0 13v2m1-39v10m0 9v5m1-40v16m1-8v4m0 4v13m0 26v2m1-38v10m1-21v4m0 7v4m0 30v2m1-43v7m0 7v6m0 5v3m1-40v4m0 4v4m0 4v3m0 28v2m1-37v4m1-16v8m0 8v7m0 3v3m2 18v2m2-37v7m0 4v6m0 18v2m1-53v8m0 8v4m1 3v4m0 24v2m1-37v11m0 3v3m0 3v3m0 10v2m1-35v4m1-4v7m1 0v4m1-23v8m0 4v7m1-7v7m0 28v2m1-33v10m1-18v8m0 3v13m1-36v4m0 26v3m1-25v4m0 4v7m0 4v9m1-24v8m0 10v3m0 24v2m1-36v13m1-9v3m0 25v2m1-2v2m1-30v3m1-18v4m1 7v4m1-7v10m0 21v2m1-53v4m0 4v4m0 4v4m0 3v4m0 3v3m1-21v4m0 7v4m0 3v3m1-17v4m0 3v7m2-14v4m0 29v2m2-5v3m1-37v4m0 7v7m1-26v12m0 33v2m2-51v4m0 4v4m0 4v7m1-7v7m0 23v3m1-41v15m0 4v3m0 16v3m1-49v4m0 8v4m0 7v4m0 22v2m1-31v3m1-7v7m1-23v4m0 8v4m0 4v7m0 3v3m1-13v3m0 28v2m1-2v2m1-37v4m1-20v20m0 3v10m0 16v2m1-35v4m1-12v15m1-7v4m0 10v3m0 20v2m1-39v4m0 29v2m1-35v4m2-20v8m0 8v4m0 3v7m0 19v2m1-47v4m0 4v15m0 22v2m3-51v4m0 8v4m0 11v6m1-21v4m0 4v3m0 4v3m1-30v12m0 8v3m1-11v8m1-4v7m0 4v3m1-22v4m0 15v6m0 18v2m1-33v10m2-22v4m0 18v3m1-29v12m0 11v3m1-30v4m0 19v4m2-7v3m1-7v4m0 7v3m1 19v2m1-31v3m0 4v3m1-10v3m0 28v2m1-49v4m0 8v4m0 7v3m1-22v4m1 4v11m0 19v3m2-45v4m0 4v4m2-8v8m1 35v2m1-41v15m0 3v3m2-10v4m3-19v15m1-7v4m1-20v16m0 7v4m1-27v20m1 0v3m0 28v2m1-30v10m0 18v2m1-26v3m1 21v2m1-49v4m0 4v4m0 7v7m1-3v3m1-10v3m1-3v7m0 6v3m0 13v2m1-43v4m0 11v10m0 3v3m1-9v3m0 3v3m1-23v4m0 3v4m0 3v3m0 6v2m0 12v2m1-51v4m0 28v5m1-18v13m0 3v2m0 10v2m1-30v4m0 3v3m2-13v3m0 4v3m0 3v6m1-31v4m0 15v3m1-3v3m1-10v10m0 6v3m0 12v2m1-41v8m0 7v9m1-16v3m0 4v3"/><path stroke="#008dff" d="M.5 51v2m0 2v11m0 1v6m1-22v2m0 2v4m0 10v1m0 1v2m1-20v2m0 4v3m0 2v2m0 1v3m1-21v6m0 2v4m0 1v2m0 5v1m1-19v6m0 2v2m0 3v2m1-17v10m0 2v1m1-9v2m0 2v2m0 2v3m0 5v1m1-17v6m0 5v2m0 4v3m1-22v4m0 2v2m0 2v1m0 2v3m0 3v3m1-22v2m0 6v2m1-8v4m0 9v1m1-14v2m0 2v2m0 2v1m0 4v1m0 2v1m1-19v2m0 2v6m0 1v2m0 3v2m1-18v4m0 4v2m0 1v2m0 2v3m1-18v2m0 2v6m0 3v3m0 4v2m1-22v4m0 4v7m0 4v3m1-24v2m0 2v4m0 2v5m0 2v4m1-13v9m0 1v2m1-20v2m0 2v6m0 2v1m0 2v5m1-18v6m0 2v5m0 6v3m1-22v8m0 3v2m1-15v12m0 3v2m0 5v2m1-24v4m0 8v1m0 2v2m0 3v4m1-18v4m0 2v1m0 4v1m0 2v1m0 1v2m1-20v2m0 2v2m0 3v2m0 7v2m1-57v4m0 31v2m0 6v3m0 4v1m1-16v2m0 2v2m0 2v3m0 4v1m0 2v1m0 1v2m1-53v3m0 28v4m0 14v1m0 1v2m1-14v2m0 1v2m0 2v4m1-19v2m0 4v10m0 2v2m1-18v4m0 2v2m0 3v2m0 4v1m1-20v2m0 2v6m0 1v4m0 1v2m0 1v3m1-22v2m0 2v6m0 1v7m1-18v2m0 8v5m1-15v2m0 4v7m0 5v1m0 1v2m1-22v2m0 8v1m0 4v1m0 3v1m1-18v4m0 4v8m0 1v1m1-14v7m1-11v11m0 2v1m0 2v2m1-18v4m0 5v2m0 2v1m0 3v1m1-18v8m1-8v4m0 2v2m0 9v1m1-55v4m0 29v8m0 4v3m1-13v2m0 4v2m0 2v1m0 2v2m0 1v3m1-19v6m0 2v3m0 5v3m1-19v4m0 2v2m0 3v4m0 1v3m0 1v2m1-20v2m0 2v2m0 5v3m0 3v1m1-20v2m0 4v2m0 2v1m0 2v5m1-18v6m0 4v3m0 2v1m0 2v2m1-18v4m0 5v4m0 4v3m1-24v10m0 5v2m0 1v6m1-22v2m0 2v2m0 9v1m0 4v2m1-24v4m0 2v4m1-8v6m0 2v5m0 3v6m1-24v2m0 2v2m0 4v3m0 4v1m0 4v2m1-22v4m0 2v2m0 3v2m0 2v3m0 1v1m1-16v7m0 2v6m0 1v2m1-22v6m0 5v4m0 4v1m1-18v4m0 4v8m0 1v3m1-20v2m0 2v9m0 3v1m0 1v2m1-24v12m0 1v2m0 5v2m1-22v2m0 2v2m0 6v1m0 2v2m1-46v3m0 26v2m0 2v8m0 1v2m0 3v3m1-19v4m0 2v4m0 1v2m0 5v2m1-18v4m0 2v2m0 3v3m0 2v4m1-22v13m0 6v1m1-9v2m0 2v1m1-10v5m0 4v5m1-16v11m0 3v4m1-37v3m0 16v4m0 2v1m0 5v4m1-35v3m0 18v2m0 2v5m0 3v1m1-34v3m0 18v7m0 5v1m0 1v2m1-37v3m0 20v2m0 1v2m0 2v1m1-10v9m0 1v2m0 1v3m1-57v7m0 4v6m0 6v2m0 21v2m0 3v3m1-40v11m0 16v4m0 1v2m0 5v4m1-53v3m0 7v11m0 26v3m1-13v2m0 2v5m0 1v2m1-12v2m0 2v3m0 2v1m0 3v1m1-55v7m0 10v8m0 18v2m0 1v4m0 3v1m1-9v1m0 2v2m0 1v2m0 2v2m1-53v13m0 3v5m0 20v3m1-7v12m1-12v2m0 5v7m1-16v4m0 2v5m0 1v3m1-40v11m0 3v2m0 15v1m0 7v2m1-14v5m0 2v2m0 1v2m0 1v1m1-35v3m0 18v2m0 2v1m0 4v4m1-43v6m0 3v8m0 13v5m0 2v3m1-47v3m0 4v12m0 20v2m0 3v2m0 4v3m1-16v5m0 5v2m0 1v3m1-37v5m0 18v2m0 3v2m0 5v2m1-40v3m0 3v5m0 15v3m0 2v2m0 1v3m1-11v2m0 1v2m0 2v1m0 4v2m1-14v2m0 1v5m0 2v4m1-14v2m0 1v2m0 3v2m0 1v3m1-53v3m0 7v16m0 11v4m0 1v2m1-3v1m0 2v5m0 2v2m1-40v3m0 5v5m0 11v5m0 4v7m1-57v4m0 7v3m0 6v5m0 18v2m0 3v2m1-9v2m0 2v1m0 2v2m0 4v3m1-40v3m0 19v2m0 2v2m0 1v4m0 4v3m1-22v2m0 2v2m0 4v8m0 1v1m1-20v2m0 2v4m0 2v1m0 2v2m0 1v2m0 1v3m1-22v6m0 2v2m0 3v2m0 5v2m1-20v2m0 4v10m0 1v1m1-20v2m0 2v4m0 2v12m1-20v2m0 2v4m0 1v7m0 1v1m1-20v4m0 2v2m0 2v1m0 5v2m1-14v6m0 1v5m0 3v1m1-20v2m0 2v7m0 4v1m1-14v4m0 4v10m1-14v4m0 1v5m0 4v2m1-20v9m0 2v6m0 1v2m1-20v2m0 4v2m1-8v8m0 5v3m0 1v1m1-16v6m0 1v7m0 1v1m1-18v2m0 2v9m1-11v4m0 2v3m0 2v1m0 4v2m1-16v2m0 5v2m0 1v2m0 1v1m1-12v3m0 4v3m0 2v2m1-18v6m0 5v3m0 1v1m1-12v3m0 4v1m0 3v1m1-14v4m0 1v2m0 6v3m1-18v2m0 2v2m0 3v2m0 1v2m0 1v1m1-12v2m1-8v8m0 1v5m0 2v1m1-17v6m0 2v1m0 2v2m0 4v1m1-20v2m0 11v3m0 2v1m1-19v2m0 4v5m0 5v2m1-18v4m0 2v2m0 5v5m0 1v1m1-18v4m0 4v1m0 2v5m0 1v1m1-20v13m0 2v3m0 2v2m1-22v11m0 2v2m0 1v3m0 1v2m1-24v2m0 4v2m0 2v2m0 1v4m1-15v4m0 4v5m0 3v2m0 2v2m1-22v4m0 2v2m0 2v3m0 2v1m1-18v13m0 2v2m0 1v4m1-14v2m0 2v5m0 4v3m1-24v8m0 2v3m0 2v9m1-24v4m1-2v2m0 6v2m0 3v2m1-13v2m0 2v2m0 2v6m1-12v2m0 2v2m0 1v4m0 1v2m1-53v4m0 46v1m0 3v1m1-18v6m0 2v5m0 1v3m0 1v2m1-20v4m0 2v7m0 1v2m0 1v3m1-20v6m0 3v4m0 1v6m1-22v6m0 4v1m0 4v4m1-13v5m0 4v3m1-10v8m0 2v1m0 1v2m1-9v5m1-14v4m0 2v3m0 2v1m0 2v2m1-16v7m0 2v5m0 1v3m1-22v22m1-22v2m0 2v2m0 2v3m0 8v1m1-20v6m0 4v1m0 4v1m1-14v4m0 2v7m0 3v1m1-17v8m0 1v2m0 2v4m0 1v2m1-20v4m0 2v2m0 3v2m0 1v2m1-14v4m0 3v2m1-11v2m0 6v1m0 2v5m1-12v2m0 3v2m0 3v6m1-20v6m0 3v2m0 7v2m1-53v3m0 30v2m0 2v5m0 2v2m0 1v2m0 1v1m1-18v8m0 1v7m1-16v17m1-58v8m0 31v2m0 2v2m0 5v2m1-48v4m0 29v2m0 2v2m0 6v1m0 5v2m1-20v8m0 5v2m0 5v2m1-20v6m0 2v7m1-15v11m0 5v4m1-20v6m0 2v2m0 5v1m1-16v6m0 4v1m0 4v1m0 2v1m0 1v2m1-16v4m0 1v2m0 3v2m0 1v1m1-18v2m0 2v2m0 3v2m0 5v4m1-22v4m1-4v4m0 7v7m1-20v6m0 2v9m1-15v6m0 5v2m0 2v3m0 1v3m1-22v6m0 4v1m0 5v2m1-16v20m1-20v2m1-2v2m0 2v5m0 2v2m0 1v3m1-19v2m0 4v2m0 2v1m0 4v1m0 3v1m1-20v2m0 2v4m0 2v3m0 2v3m0 1v3m1-18v12m0 4v2m1-24v12m0 1v4m0 1v3m1-17v6m0 2v1m0 5v3m1-19v2m0 2v2m0 7v2m0 3v1m1-15v6m0 8v1m1-15v2m0 5v5m0 2v1m1-50v3m0 28v6m0 2v2m0 8v1m1-13v2m0 2v3m0 2v1m0 3v3m1-20v2m0 4v10m0 1v1m1-20v6m0 2v5m0 3v2m0 2v2m1-18v9m0 2v3m1-14v4m0 2v1m0 8v3m1-69v4m0 8v4m0 31v2m0 17v1m1-22v12m0 1v4m0 1v6m1-20v9m0 2v3m1-16v4m0 2v2m0 3v2m0 3v2m0 2v2m1-18v2m0 4v5m0 1v6m1-18v4m0 3v2m0 3v2m1-49v3m0 39v5m0 2v1m1-17v4m0 4v5m0 4v3m1-20v6m0 2v1m0 4v1m0 2v1m0 1v2m1-18v6m0 1v11m1-16v4m0 1v4m0 1v2m0 1v1m1-14v9m0 1v6m1-18v4m0 2v5m0 1v6m1-20v2m0 2v4m0 8v1m1-17v6m0 8v6m1-20v4m0 4v3m0 3v3m0 1v2"/><path stroke="#1045f3" d="M.5 53v2m0 11v1m1-14v2m0 4v10m0 1v1m1-16v4m0 3v2m0 2v1m0 3v3m1-18v2m0 4v1m0 2v5m0 1v3m1-16v2m0 2v3m0 2v7m1-14v2m0 1v11m1-18v2m0 2v2m0 3v5m0 1v3m1-14v5m0 2v4m1-15v2m0 2v2m0 1v2m0 3v3m1-17v6m0 2v12m1-22v2m0 4v9m0 1v6m1-18v2m0 2v2m0 1v4m0 1v2m0 1v3m1-20v2m0 6v1m0 2v3m0 2v4m1-18v4m0 2v1m0 2v2m0 3v4m1-20v2m0 6v1m0 5v4m1-14v2m0 7v4m1-19v2m0 4v2m0 5v2m0 4v3m1-22v6m0 9v1m0 2v4m1-22v2m0 6v2m0 1v2m0 5v4m1-16v2m0 5v6m1-11v3m0 2v9m1-12v3m0 2v5m1-18v8m0 1v2m0 2v3m1-10v2m0 1v4m0 1v2m0 1v1m1-16v2m0 2v3m0 2v7m1-18v6m0 3v4m0 1v6m1-20v2m0 2v2m0 3v4m0 1v2m0 1v1m1-16v14m0 1v1m1-20v8m0 2v1m0 2v2m0 4v3m1-20v4m0 10v2m0 2v2m1-16v2m0 2v3m0 2v4m0 1v2m1-20v2m0 6v1m0 4v1m0 2v1m1-17v2m0 6v1m0 7v4m1-20v8m0 5v7m1-20v2m0 9v5m0 1v1m1-18v8m0 1v4m0 1v3m0 1v2m1-16v4m0 8v1m0 1v2m1-20v4m0 7v9m1-22v2m0 11v2m0 1v2m0 2v2m1-16v5m0 2v2m0 1v3m0 1v2m1-12v12m1-16v2m0 2v9m0 1v2m1-16v4m0 3v9m1-20v4m0 2v2m0 1v2m0 2v1m0 3v3m1-16v2m0 3v5m0 3v3m1-18v2m0 2v3m0 4v1m0 3v1m1-16v2m0 2v5m0 3v3m0 1v2m1-20v4m0 2v2m0 1v2m0 5v4m1-16v4m0 3v2m0 1v2m0 2v2m1-16v5m0 4v4m1-11v5m0 2v1m1-14v2m0 2v9m0 1v4m1-18v2m0 4v14m1-16v2m0 5v3m1-16v2m0 2v4m0 3v4m0 1v4m1-16v2m0 2v3m0 2v2m0 3v1m0 1v2m1-11v2m0 6v1m1-14v5m0 4v4m0 1v2m1-16v4m0 8v1m1-15v2m0 9v3m0 1v1m1-10v1m0 2v5m0 2v2m1-22v2m0 2v6m0 1v2m0 2v7m1-22v2m0 8v1m0 2v3m0 3v3m1-18v2m0 4v1m0 2v5m0 2v2m1-16v2m0 2v3m0 3v2m1-5v6m0 1v2m1-16v5m0 2v2m0 1v6m1-11v4m0 5v2m1-7v3m1-10v2m0 1v5m0 4v2m1-14v2m0 5v3m0 1v3m1-9v5m0 1v1m1-10v1m0 2v2m0 1v6m1-7v1m0 2v1m1-13v5m0 2v3m0 3v3m1-12v1m0 2v5m1-10v8m0 3v3m1-14v2m0 5v1m0 2v4m1-14v2m0 3v2m0 1v3m0 1v2m1-12v1m0 4v3m0 1v3m1-14v2m0 1v2m0 2v1m0 2v2m1-12v2m0 3v9m1-4v4m1-14v5m0 7v2m1-14v2m0 9v3m1-46v3m0 11v3m0 13v4m0 1v7m0 2v2m1-11v2m0 2v1m0 2v1m0 1v2m1-14v2m0 1v4m0 4v3m1-11v2m0 3v6m1-34v2m0 20v3m0 2v4m1-8v5m0 2v1m1-9v3m0 2v5m1-9v2m0 2v1m0 3v3m1-12v1m0 2v2m0 1v4m1-10v1m0 5v2m1-8v1m0 2v3m0 2v1m1-9v1m0 2v9m1-11v2m0 5v2m1-9v4m1-25v3m0 17v3m0 2v7m1-14v2m0 1v2m0 2v4m1-17v2m0 2v2m0 2v1m0 4v4m1-17v2m0 2v4m0 8v1m0 1v2m1-20v2m0 4v2m0 1v2m0 2v1m0 2v1m1-9v3m0 2v5m1-14v2m0 10v1m0 1v2m1-20v2m0 4v2m1-6v2m0 4v1m0 7v1m0 1v2m1-18v2m0 2v2m0 1v5m0 2v4m1-12v1m0 5v3m0 1v2m1-20v2m0 7v4m0 1v6m1-16v4m0 10v2m1-20v4m0 4v1m0 5v4m1-9v2m0 6v1m1-20v2m0 2v4m0 2v12m1-12v5m0 3v1m0 1v2m1-20v2m0 6v1m0 7v1m0 1v2m1-18v2m0 9v7m1-14v2m0 3v2m0 1v4m1-12v5m0 2v1m0 2v1m0 1v2m1-11v4m0 3v2m1-10v5m0 3v1m0 1v2m1-11v4m0 1v3m0 1v2m1-12v1m0 2v6m1-13v2m0 2v3m0 2v1m0 2v1m0 1v2m1-12v12m1-12v1m0 5v2m0 1v3m1-14v2m0 1v2m0 2v4m0 1v2m1-20v11m0 3v2m0 1v3m1-20v4m0 5v5m0 2v4m1-18v2m0 2v5m0 5v1m0 1v2m1-16v4m0 1v2m0 5v1m1-6v2m0 3v2m1-9v2m0 2v1m0 3v1m1-20v4m0 2v2m0 2v1m0 4v7m1-18v4m0 5v3m0 2v2m1-16v2m0 2v2m0 3v2m0 1v6m1-11v2m0 2v1m0 4v2m1-24v8m0 2v2m0 5v4m1-13v2m0 3v2m1-11v20m1-20v6m0 2v3m0 2v7m1-18v2m0 2v2m0 6v6m1-16v2m0 2v1m0 4v1m0 2v4m1-16v9m0 1v3m0 1v2m1-14v2m0 5v1m0 3v1m1-14v2m0 7v1m0 2v1m1-11v3m0 4v1m1-10v4m0 1v4m0 4v3m1-11v4m0 3v4m1-6v2m0 1v1m1-16v9m0 5v4m1-20v2m0 4v2m0 3v2m0 1v2m0 2v2m1-11v2m0 5v1m2-17v2m0 2v2m0 3v8m0 1v2m1-16v4m0 1v4m0 1v6m1-16v2m0 7v3m0 1v3m1-12v1m0 2v2m0 4v1m1-14v2m0 2v3m0 2v1m0 2v4m1-14v3m0 2v9m1-18v6m0 1v2m0 5v4m1-14v3m0 2v3m1-8v3m0 2v7m1-16v2m0 5v2m0 2v1m0 2v1m0 1v2m1-12v1m0 7v4m1-3v3m1-20v2m0 2v5m0 2v9m1-22v2m0 2v6m0 1v5m0 2v4m1-16v5m0 2v5m0 2v2m1-16v2m0 7v7m1-11v5m0 4v2m1-16v2m0 2v5m0 1v6m1-16v4m0 1v4m0 1v2m0 1v1m1-20v6m0 4v1m0 2v3m0 2v1m0 1v2m1-18v2m0 2v3m0 2v5m1-14v18m1-18v2m0 2v3m0 7v4m1-18v2m0 9v7m1-16v5m0 2v2m0 3v1m1-13v4m0 1v5m0 2v4m2-18v18m1-18v2m0 5v2m0 2v1m0 3v3m1-20v4m0 2v2m0 1v4m0 1v3m0 1v2m1-20v2m0 4v2m0 3v2m0 3v1m1-3v4m1-10v1m0 8v3m1-14v2m0 1v5m0 3v3m1-20v2m0 2v7m0 2v3m0 1v3m1-20v2m0 6v8m0 1v3m1-22v4m0 2v5m0 5v2m0 1v3m1-16v2m0 2v8m0 2v2m1-18v2m0 2v2m0 3v2m0 1v3m1-15v4m0 10v1m0 1v2m1-16v2m0 5v3m0 2v2m1-7v2m0 3v4m1-22v4m0 4v2m0 1v8m1-17v17m0 1v2m1-12v1m0 4v1m1-16v2m0 9v2m0 3v6m1-18v2m0 2v3m0 2v3m0 2v2m1-18v2m0 2v4m0 5v1m1-8v3m0 2v3m0 2v4m1-18v7m0 5v2m0 1v3m1-16v4m0 5v4m1-11v2m0 1v4m0 1v2m0 1v1m1-10v1m1-1v1m0 4v1m0 2v1m0 1v2m1-7v1m1-8v2m0 5v1m1-12v2m0 4v8m0 1v3m1-14v7m1-9v4m0 3v3m0 3v1"/><path stroke="#00f4ff" d="M1.5 4v4m1-4v12m0 33v2m1-47v8m0 15v3m1-26v4m0 19v3m0 16v3m1-37v4m0 4v3m0 4v6m2-25v4m2-12v4m0 8v8m1-16v4m0 4v4m0 7v4m1-27v16m1-16v4m1 4v8m0 4v7m2-11v4m1-4v4m0 7v3m1-7v4m1-23v4m0 8v11m1-11v4m0 29v2m1-51v12m0 21v3m1-36v4m0 23v6m1-21v11m0 4v3m2-10v3m0 26v2m2-47v4m0 12v3m0 4v3m1-26v8m0 18v3m0 13v3m1-49v4m0 8v4m1-12v4m0 15v4m2 22v2m2-51v4m0 8v4m0 4v3m0 26v2m3-35v11m2 22v2m3-47v12m1-16v4m0 4v4m0 8v3m0 4v3m0 16v3m1-37v4m0 7v4m4-19v4m0 4v7m0 26v2m1-47v12m0 4v7m1-27v4m0 4v4m0 11v4m1-11v4m1-20v8m1 0v15m1-23v4m0 4v12m0 26v3m1-19v3m1-17v4m0 3v4m0 3v3m1-17v4m0 31v2m1-33v3m2 26v2m1-47v4m0 8v4m1 3v7m0 16v3m1-49v12m1 4v4m1 0v7m1 22v2m1-39v4m1 7v4m1-23v4m0 4v4m0 11v6m1-21v8m1-16v4m0 31v2m1-37v12m1-16v4m0 4v8m0 4v3m0 16v2m1-33v4m0 4v14m0 11v3m1-40v8m1-8v12m0 25v3m0 11v2m1-57v4m0 4v4m1-8v8m0 11v4m0 17v2m0 9v2m1-45v4m2 0v4m0 7v6m1-29v4m0 4v4m1 4v3m0 7v11m1-37v8m0 11v4m0 3v3m1-3v3m0 13v3m1-49v4m0 4v4m1 15v3m0 3v3m1-32v4m1-4v8m1-8v4m0 49v2m1-43v4m1-12v4m0 4v4m0 3v4m0 30v2m1-59v4m1 16v3m0 21v2m1-23v4m0 6v3m1-6v3m0 24v2m1-59v4m3 0v4m0 36v2m1-38v8m0 7v4m0 17v2m1-38v4m1 8v10m0 16v3m1-49v4m0 12v4m0 7v3m1-18v8m0 3v7m1-10v7m1-7v3m1 0v4m1 6v6m0 10v2m1-31v3m1-19v4m0 4v4m1 4v7m0 6v3m0 15v2m1-53v4m0 4v8m0 7v10m1-25v8m0 35v2m1-53v4m0 8v4m0 14v3m0 13v3m1-45v4m0 15v7m1 0v6m0 13v2m1-43v4m1-8v12m0 11v3m1-30v8m0 4v4m1-8v4m0 11v7m0 3v3m1-28v4m0 8v3m0 13v3m1-23v7m0 7v3m1-33v4m0 12v7m1-7v4m0 3v4m0 24v2m1-53v4m0 4v4m0 4v11m1-27v4m0 12v4m0 7v3m1-30v4m0 8v8m0 10v3m1-29v4m0 41v2m1-51v12m0 8v3m0 4v3m1-30v16m2-16v4m0 16v3m2-7v14m1-30v8m0 22v3m0 16v2m1-51v4m0 12v4m0 3v10m1 13v3m1-45v4m0 15v7m1-26v8m0 11v4m1-27v8m1 8v4m0 10v3m1-33v4m0 19v10m1-21v4m0 11v3m1-26v4m1 19v3m2-10v7m2-19v8m0 4v3m0 4v3m1-30v8m0 19v6m1-13v3m0 4v3m0 3v3m1-9v9m1-13v7m1-14v4m0 29v2m1-43v8m0 4v3m1-23v4m0 4v4m0 15v3m3-22v4m1-4v4m0 18v3m1 3v3m1-31v4m0 8v3m1-11v4m0 7v4m0 3v3m1-29v4m0 25v3m1-20v4m0 10v3m0 18v2m1-37v11m0 3v3m0 16v2m1-2v2m1-21v3m0 13v3m1-45v4m0 4v11m0 23v3m1-41v4m0 4v4m0 29v2m1-43v12m1-8v4m0 4v7m0 3v3m2-29v16m0 3v4m1-23v4m0 8v4m0 3v10m1-33v4m0 8v4m0 7v4m0 22v2m2-39v4m0 11v3m1 19v2m1-51v4m0 4v4m0 4v11m1-7v3m0 4v6m1 0v3m1-20v11m1-23v8m0 37v2m1-28v7m1-26v8m0 4v4m1 0v7m0 19v3m1-45v16m1-20v4m0 19v4m1-27v4m0 16v3m1 4v3m1 3v3m1-6v3m1-13v3m1-11v15m0 22v2m1-28v7m3-14v4m1-12v4m0 4v4m0 7v6m0 3v3m1-27v11m0 16v2m0 8v2m1-35v11m0 6v3m0 3v2m1-41v8m0 12v3m0 10v3m1-28v8m1-4v4m0 20v3m1-23v7m0 4v3m0 3v3m1-20v7m0 4v3m0 3v6m0 12v2m1-49v16m0 10v3m1-17v7m0 7v9m0 14v2m1-39v11m0 3v6m1-32v12m1-16v8m0 12v7m1-11v4m0 3v4m0 3v11"/><path stroke="#07ff00" d="M1.5 33v3m0 3v2m1-11v3m1 6v2m2-5v3m5-6v3m0 5v3m5 0v2m8-19v3m0 14v2m1-7v2m4-2v2m8 3v2m3-23v4m5 14v3m8-11v3m0 5v3m4 2v3m1-10v2m2-8v3m0 3v2m2 0v3m3-8v3m2 10v2m3-2v2m1 0v2m5-7v3m0 4v2m5-4v2m4-2v2m2-7v3m1 0v2m2 0v4m1-4v2m2-7v3m0 4v2m1-6v2m1-5v3m0 4v2m1-2v2m2-9v3m1 2v2m1-4v2m0 2v2m1-6v2m1-10v3m2-5v2m1-5v3m1 0v2m4-2v2m5-5v3m2 2v3m3-3v3m1-3v3m3 2v3m2-16v3m7-6v3m12 13v3m1-8v5m2-10v3m2 10v2m6-7v2m7 0v3m3-3v3m5-5v2m1-2v2m1-5v3m4-5v2m4 5v3m2-8v3m2 0v2m3-13v3m3 5v3m1-3v3m5 2v3m2-16v3m0 8v2m5-2v5m1-5v2m2-2v2"/><path stroke="#24ff00" d="M1.5 36v3m0 2v3m4-5v2m1-8v3m1-3v3m0 5v3m4-14v3m4 3v3m7 0v5m1-11v3m2 5v3m1-3v3m5 0v2m4-13v3m2 8v2m5-10v3m0 2v3m1-3v3m2-11v3m1 5v3m3 0v2m1-13v3m5 8v2m2-2v2m1 0v3m2-16v3m3 0v3m2-3v3m3 10v2m1-5v3m3 0v2m1-5v3m0 2v2m1-4v2m1 0v2m4-2v2m1-4v2m1-5v3m5 0v2m7 0v4m5-2v2m1-4v2m3-17v8m1-8v3m3 0v2m5 5v3m2-3v3m7-3v3m1-8v3m1-3v3m0 2v3m1-10v2m2-5v3m0 7v3m1-10v2m3-5v3m1-3v3m2-3v3m4 5v2m1-5v3m7-5v2m3-2v2m0 3v2m1-5v3m1-8v5m2 3v2m1-2v2m1-7v2m2-8v3m0 5v3m4-8v3m7 0v2m3-8v3m10 8v2m4-2v2m4-10v3m6-3v3m1 2v3m1 0v2m2-7v2m1-5v3m14 2v3"/><path stroke="#00c4ff" d="M1.5 49v2m1 0v2m1-37v4m0 3v4m1-27v4m0 8v15m0 22v2m1-35v4m1 31v2m1-2v2m3-4v2m2-2v2m1-2v2m1 11v2m1-15v2m0 4v2m2-8v2m3-35v4m0 7v6m0 16v2m1-47v4m0 15v4m3 24v2m1-49v4m0 4v4m2 0v4m0 29v2m1-2v2m1-2v2m1-35v4m2 29v2m2 4v2m3-6v2m2-2v2m1-2v2m4-4v2m2 0v2m2-4v2m1-35v4m2-4v4m0 26v5m1-5v3m1 0v2m1-51v4m0 8v15m1 22v2m1 2v2m2-4v2m1-2v2m2-41v4m1 0v4m0 3v4m2 24v2m2-37v7m0 7v6m0 19v2m1-24v3m2-13v13m1-20v4m0 3v13m1-20v14m0 3v3m0 3v2m1-25v4m0 3v13m1 19v2m1-57v4m0 8v4m0 7v4m0 6v6m1-23v7m0 4v3m1-26v4m0 15v7m1 6v3m0 2v3m1-8v5m1-33v4m0 11v10m0 8v3m0 13v2m1-23v8m0 13v2m1-26v3m0 21v2m2-32v3m0 3v11m1-21v4m0 14v5m0 20v1m1-55v15m1 12v2m1-11v3m0 6v5m2-28v4m0 3v4m0 14v3m1-11v11m1-17v3m0 11v3m1-28v17m0 3v3m1 0v5m0 13v2m2-26v6m1-16v7m1-14v4m0 13v11m1-24v3m0 13v5m1-33v4m0 8v3m0 7v6m1-9v3m0 6v5m1-25v4m0 3v10m0 3v3m1 10v2m1-2v2m1 6v2m1-4v2m3-49v8m0 4v13m1 20v2m1-28v3m0 3v3m2 15v2m1-37v7m1 0v7m0 19v2m2 0v2m1-33v3m0 28v2m1-37v11m1-4v4m0 28v2m1-37v3m2 34v2m2-6v2m1 2v2m1-8v2m2-41v4m0 4v3m0 4v3m1-14v4m2 31v2m0 18v2m4-57v7m1-3v3m2-11v4m0 30v3m1-37v4m1 7v4m1-23v4m0 12v3m0 4v3m1-14v4m1 33v2m1-47v4m0 15v3m0 25v2m3-6v2m1-33v3m1 32v2m1-34v4m0 30v2m2-39v7m0 24v2m1 0v2m4-4v2m1-2v2m1-49v4m0 8v11m0 24v2m1-37v4m0 3v4m0 26v2m1-43v8m0 3v13m0 15v2m1-30v4m0 26v4m1-6v2m1-41v8m0 3v4m2 24v2m1-53v8m0 12v10m1-30v4m0 16v7m1-19v4m2 37v2m1-2v2m2-2v2m1-39v4m1 4v3m1-23v8m0 4v18m4 19v4m1-53v8m0 8v17m0 18v2m3-4v2m1 2v2m1 11v1m1-16v2m1-4v2m1 0v2m1-37v7m0 26v2m1-28v10m0 16v2m1 2v2m3-2v2m1-39v4m0 29v2m1-51v4m0 4v8m0 4v7m0 22v2m1-5v3m2-16v3m1-9v3m0 21v2m1-26v3m0 6v3m1-39v4m0 12v4m0 3v13m0 17v2m3-2v2m1 0v2m1-34v4m0 28v2m1-4v2m1-39v4m0 10v6m2 15v2"/><path stroke="#00ff76" d="M2.5 23v4m1 3v3m1 0v3m2-28v4m2 15v3m1-3v3m2-10v3m3 7v3m1-33v4m0 4v4m0 34v3m5-5v2m1-2v2m2-26v3m3-15v4m1 21v3m3-9v3m2-26v8m0 4v4m1 7v3m1-18v4m4-12v19m1-15v4m0 4v4m4 26v3m2-45v8m0 15v3m1-3v3m2 14v2m1 3v2m1-43v4m0 11v4m0 19v3m1-19v3m2-6v3m3-30v4m0 45v2m1-51v4m1 23v3m1-7v4m3 17v2m1 0v3m1-19v3m1-25v4m0 15v3m1 9v2m4 0v3m3 9v2m1-11v2m1-2v2m1 9v2m2-53v4m0 36v2m1-2v2m3-46v4m0 4v4m15 45v2m2-13v3m0 6v2m4-24v3m0 10v3m1-16v3m1 13v2m1-43v4m3 37v2m6-2v2m1-5v3m2 2v2m1-17v3m1-3v3m1 0v2m0 10v2m1-45v4m0 39v4m4-9v3m1-16v3m3-3v3m2-9v3m1-26v12m0 7v4m3 19v3m1-49v4m3 40v2m2-38v4m3 21v3m3-3v3m1-3v3m1 17v2m2-19v3m1-39v4m0 26v3m1-25v4m3-8v4m1 12v3m5 26v2m1-2v2m1-2v2m1-47v4m0 25v3m0 10v3m7-3v3m4-3v3m3-19v3m1-29v4m1 38v3m1-49v4m0 45v2m2-51v4m0 4v4m0 4v4m1 29v2m1-21v3m4 0v3m2-36v4m0 4v4m1-12v4m2 0v4m0 41v2m2-21v3m1-3v3m3-33v4m0 45v2m1-10v3m3-44v4m1 4v4m2 27v2m2 8v2m2-51v4"/><path stroke="#00ff2e" d="M2.5 27v3m3 14v2m1-16v3m0 11v2m3-2v2m2 0v3m1-19v3m1 0v3m1 8v2m1-13v3m1 8v2m1-2v2m2-16v3m2 3v3m1-3v3m4 5v2m4 0v3m1-22v3m2 0v3m1-3v3m0 13v3m1-19v3m0 13v3m1-19v3m1-6v3m2 14v5m2-22v3m2 3v3m3-6v3m1-3v3m0 11v2m4-7v2m4 5v3m2-3v3m1-19v3m2 11v2m5-42v4m0 22v3m0 13v3m2 2v2m3-9v2m10 7v2m1-2v2m1-9v3m4 4v2m5 0v2m1-2v2m23-11v3m2-3v3m1 0v2m2 0v2m4-14v2m1-11v3m2 6v2m4-11v3m5 0v3m3-6v3m3 16v2m2-2v2m9-5v3m13-8v3m1-8v3m3-12v3m2 14v2m1-13v3m4 8v2m1-10v8m6-8v3m6-12v3m0 14v2m1-10v3m3 5v2m6 0v3m3 0v2m6-10v3m4 5v2"/><path stroke="#87ff00" d="M2.5 36v3m28 0v2m4 0v3m11-3v3m5-3v3m41 7v2m22-14v2m17-2v2m5-2v2m2-2v2m13 3v2m5-7v2m3 0v3m1-3v3m22-3v3"/><path stroke="#59ff00" d="M2.5 39v5m2-3v3m3-5v2m2-2v2m14-11v3m0 3v3m8-6v3m4 3v2m1 0v3m3-3v3m6-8v3m5-3v3m0 5v2m3-13v3m5 3v5m5-3v3m9 7v2m6-4v2m4-2v2m15 0v4m7-14v3m1 0v2m4-5v3m3-5v2m6 3v2m2-2v2m3-2v2m9-7v2m5-5v3m7 2v5m6 3v2m1-10v3m3-3v3m3-8v3m2 0v2m8-2v2m2-5v3m2 2v3m1-5v2m7-5v3m1 0v2m0 3v2m4-7v2m1-2v5m3-3v3m2-8v5m9-8v3"/><path stroke="#4fff00" d="M3.5 41v3m4-8v3m2-3v3m5 0v2m1-2v2m2 0v3m2-3v3m2-5v2m4-5v3m6-9v3m1 0v3m5-3v3m0 3v2m1-11v3m3 0v3m0 3v2m8-5v3m3-3v3m2 0v5m2-3v3m5-5v2m5 5v3m5 0v2m1-5v3m3 0v2m4-2v2m2 0v2m5-2v2m5 0v2m4-6v2m8-10v3m2-3v3m8 0v2m5-5v3m3 0v5m4-8v5m4-7v5m1-3v3m3-14v3m2 11v2m3-5v3m1-11v3m10 8v2m1-7v2m3 0v3m1-8v3m4-6v3m1 8v2m1-5v3m1 0v2m1-7v2m0 3v2m1-7v2m2-2v5m7-8v3m3 0v2m5-8v3m9 5v3m4 0v2m4-5v3m2-3v3"/><path stroke="#41ff00" d="M4.5 39v2m2 0v3m2-3v3m2-5v2m2-8v6m2 2v3m1-3v3m3-3v3m5-3v3m6 0v2m1-2v2m5-2v2m2-10v3m2-3v5m2 0v3m6-11v3m10 5v3m1-11v3m1 5v3m1-8v3m0 2v3m2-5v5m1-5v2m1 0v3m1-5v5m2 0v2m25 3v2m3 0v2m2-4v2m4-7v2m6-7v2m0 3v2m1-7v2m9 0v3m6 5v2m6-7v2m2-13v3m1-3v3m0 5v3m9-5v2m2-2v2m3-5v5m3 0v3m7-8v3m6 2v3m7-3v3m1-3v3m5-3v5m4-7v5m5-3v3m2-5v5m7 2v3m3-13v3m1-3v3m5 5v2m7-2v5m4-3v3"/><path stroke="#00ff40" d="M7.5 44v2m2-16v3m0 13v3m1-5v2m1-23v4m1 17v2m4-13v3m4 3v2m2-8v3m0 8v2m1-23v4m3 6v3m1 0v3m1 5v2m1-13v3m3-9v3m9 16v3m5-3v3m1-3v3m1-10v2m4-14v3m0 14v2m5-10v3m11 12v2m9-7v3m0 4v2m10-2v2m13-9v3m1 0v2m4-15v3m3 7v3m2-5v2m1-7v2m4-8v3m1 3v2m7-11v3m0 18v2m2-2v2m1-17v3m1-3v3m0 5v2m8 0v3m4-5v2m1-10v5m8-5v3m10-9v3m4 16v2m2-7v5m2-5v2m2-13v3m11-9v3m2 6v3m0 7v3m7-3v3m4-13v3m1 10v2m2-5v3m6-8v3m6-3v5m4 0v3m1-10v2m1 0v3"/><path stroke="#75ff00" d="M9.5 41v3m10-8v3m4 0v2m17-5v3m0 2v3m1-8v3m8 0v2m6 0v3m3 0v2m24 5v2m10-2v2m14-9v2m6-2v2m21-5v3m1-3v3m1-8v3m8 7v3m13-10v2m5 0v3m9-5v2m13-2v2m5-5v3m7 2v3m1 0v2"/><path stroke="#9aff00" d="M29.5 39v2m3-5v3m102-3v3m23 0v2m6 3v2m8-10v3m2 2v3"/><path stroke="#beff00" d="M29.5 41v3m105-5v2"/><path stroke="#7eff00" d="M30.5 33v3m4 3v2m1-5v3m0 2v3m2-3v3m1-8v5m11 0v3m4-8v3m7 0v2m18 10v2m13-4v2m20-7v2m1-5v3m13-5v2m6-5v8m2-11v3m0 3v2m5-5v3m3 2v3m17-8v3m30 0v2m7-2v2m3-2v2"/><path stroke="#a3ff00" d="M30.5 41v3m1-5v2m1-2v2m107-5v3m4 5v2m14-13v3m42 3v2"/><path stroke="#90ff00" d="M31.5 41v3m5-5v2m14-2v2m92 3v2m1-5v3m3-3v3m14 0v2m11-7v2m22 0v3"/><path stroke="#acff00" d="M32.5 41v3m6-3v3m98-5v5m14-3v3m25-8v3m18 0v2"/><path stroke="#c8ff00" d="M133.5 36v3m66-3v3"/><path stroke="#b5ff00" d="M139.5 39v2"/><path stroke="#3506b8" d="M177.5 57v2m15 11v1m20-5v1"/><path stroke="#d1ff00" d="M196.5 39v2"/></svg><rect x="92" y="649" width="428" height="1" fill="#fff"/><rect x="92" y="662" width="428" height="11.38" fill="#fff"/><path fill="#00a5ff" d="M95.25 662.26h1.3v1.34h-1.3zm141.89 9.61h1.3v1.34h-1.3z"/><path fill="#3011dc" d="M99.83 662.26h1.3v1.34h-1.3z"/><path fill="#2e007e" d="M104.4 662.26h1.3v1.34h-1.3z"/><path fill="#3407ba" d="M108.98 662.26h1.3v1.34h-1.3z"/><path fill="#310ed4" d="M113.56 662.26h1.3v1.34h-1.3zm357.01 0h1.3v1.34h-1.3z"/><path fill="#00baff" d="M118.13 662.26h1.3v1.34h-1.3zm4.58 6.03h1.3v1.34h-1.3z"/><path fill="#007bff" d="M122.71 662.26h1.3v1.34h-1.3zm366.16 0h1.3v1.34h-1.3z"/><path fill="#153df0" d="M127.29 662.26h1.3v1.34h-1.3z"/><path fill="#0094ff" d="M131.87 662.26h1.3v1.34h-1.3zm265.47 2.9h1.3v1.34h-1.3z"/><path fill="#00c0ff" d="M136.44 662.26h1.3v1.34h-1.3zm201.39 9.61h1.3v1.34h-1.3zm114.42 0h1.3v1.34h-1.3z"/><path fill="#3604ad" d="M141.02 662.26h1.3v1.34h-1.3z"/><path fill="#340092" d="M145.6 662.26h1.3v1.34h-1.3z"/><path fill="#009aff" d="M150.17 662.26h1.3v1.34h-1.3z"/><path fill="#00b6ff" d="M154.75 662.26h1.3v1.34h-1.3zm-13.73 6.03h1.3v1.34h-1.3z"/><path fill="#3605b3" d="M159.33 662.26h1.3v1.34h-1.3zm45.77 2.9h1.3v1.34h-1.3z"/><path fill="#00c8ff" d="M163.91 662.26h1.3v1.34h-1.3zm109.85 0h1.3v1.34h-1.3zm-132.73 2.9h1.3v1.34h-1.3zm260.89 3.13h1.3v1.34h-1.3z"/><path fill="#0754fa" d="M168.48 662.26h1.3v1.34h-1.3zm164.77 9.61h1.3v1.34h-1.3z"/><path fill="#220059" d="M173.06 662.26h1.3v1.34h-1.3z"/><path fill="#0095ff" d="M177.64 662.26h1.3v1.34h-1.3zm18.31 0h1.3v1.34h-1.3zm50.35 9.61h1.3v1.34h-1.3z"/><path fill="#008cff" d="M182.21 662.26h1.3v1.34h-1.3zm-86.96 6.03h1.3v1.34h-1.3z"/><path fill="#009bff" d="M186.79 662.26h1.3v1.34h-1.3zm288.35 6.03h1.3v1.34h-1.3z"/><path fill="#3604af" d="M191.37 662.26h1.3v1.34h-1.3zm242.58 0h1.3v1.34h-1.3zm-109.85 2.9h1.3v1.34h-1.3z"/><path fill="#009cff" d="M200.52 662.26h1.3v1.34h-1.3zm164.77 0h1.3v1.34h-1.3zm-210.54 2.9h1.3v1.34h-1.3zm41.19 0h1.3v1.34h-1.3z"/><path fill="#330bc8" d="M205.1 662.26h1.3v1.34h-1.3zm64.08 0h1.3v1.34h-1.3zm59.5 6.03h1.3v1.34h-1.3zm-205.97 3.57h1.3v1.34h-1.3z"/><path fill="#1e2ee9" d="M209.67 662.26h1.3v1.34h-1.3zm109.85 2.9h1.3v1.34h-1.3z"/><path fill="#3408bd" d="M214.25 662.26h1.3v1.34h-1.3z"/><path fill="#00caff" d="M218.83 662.26h1.3v1.34h-1.3zm247.16 0h1.3v1.34h-1.3zm-100.69 2.9h1.3v1.34h-1.3z"/><path fill="#1f004f" d="M223.41 662.26h1.3v1.34h-1.3zm-59.5 2.9h1.3v1.34h-1.3zm306.66 0h1.3v1.34h-1.3zm-77.81 6.7h1.3v1.34h-1.3z"/><path fill="#0557fb" d="M227.98 662.26h1.3v1.34h-1.3z"/><path fill="#00aaff" d="M232.56 662.26h1.3v1.34h-1.3z"/><path fill="#00c4ff" d="M237.14 662.26h1.3v1.34h-1.3zm68.66 0h1.3v1.34h-1.3zm-187.66 6.03h1.3v1.34h-1.3zm18.31 0h1.3v1.34h-1.3z"/><path fill="#025dfe" d="M241.71 662.26h1.3v1.34h-1.3z"/><path fill="#006eff" d="M246.29 662.26h1.3v1.34h-1.3zm-4.58 9.61h1.3v1.34h-1.3zm238 0h1.3v1.34h-1.3z"/><path fill="#008dff" d="M250.87 662.26h1.3v1.34h-1.3zm238 6.03h1.3v1.34h-1.3z"/><path fill="#2227e6" d="M255.45 662.26h1.3v1.34h-1.3z"/><path fill="#3506b7" d="M260.02 662.26h1.3v1.34h-1.3z"/><path fill="#009dff" d="M264.6 662.26h1.3v1.34h-1.3z"/><path fill="#00c7ff" d="M278.33 662.26h1.3v1.34h-1.3zm-114.43 6.03h1.3v1.34h-1.3zm288.35 0h1.3v1.34h-1.3z"/><path fill="#270069" d="M282.91 662.26h1.3v1.34h-1.3zm-151.04 2.9h1.3v1.34h-1.3z"/><path fill="#0092ff" d="M287.48 662.26h1.3v1.34h-1.3zm-32.04 6.03h1.3v1.34h-1.3z"/><path fill="#0079ff" d="M292.06 662.26h1.3v1.34h-1.3z"/><path fill="#00c1ff" d="M296.64 662.26h1.3v1.34h-1.3zm-137.31 2.9h1.3v1.34h-1.3zm91.54 3.13h1.3v1.34h-1.3zm96.12 0h1.3v1.34h-1.3zm146.46 0h1.3v1.34h-1.3zm-306.66 3.57h1.3v1.34h-1.3z"/><path fill="#00c2ff" d="M301.22 662.26h1.3v1.34h-1.3zm54.92 0h1.3v1.34h-1.3zm0 2.9h1.3v1.34h-1.3zm-45.77 3.13h1.3v1.34h-1.3zm114.42 0h1.3v1.34h-1.3zm-128.16 3.57h1.3v1.34h-1.3z"/><path fill="#00a1ff" d="M310.37 662.26h1.3v1.34h-1.3zm-54.92 9.61h1.3v1.34h-1.3z"/><path fill="#0090ff" d="M314.95 662.26h1.3v1.34h-1.3zm201.39 6.03h1.3v1.34h-1.3z"/><path fill="#0060ff" d="M319.52 662.26h1.3v1.34h-1.3z"/><path fill="#007fff" d="M324.1 662.26h1.3v1.34h-1.3z"/><path fill="#260066" d="M328.68 662.26h1.3v1.34h-1.3z"/><path fill="#330ac5" d="M333.25 662.26h1.3v1.34h-1.3z"/><path fill="#173aee" d="M337.83 662.26h1.3v1.34h-1.3z"/><path fill="#00bbff" d="M342.41 662.26h1.3v1.34h-1.3zm-91.54 2.9h1.3v1.34h-1.3zm187.66 6.7h1.3v1.34h-1.3zm73.23 0h1.3v1.34h-1.3z"/><path fill="#320ccd" d="M346.99 662.26h1.3v1.34h-1.3z"/><path fill="#1b33eb" d="M351.56 662.26h1.3v1.34h-1.3z"/><path fill="#1e004d" d="M360.72 662.26h1.3v1.34h-1.3z"/><path fill="#00b0ff" d="M369.87 662.26h1.3v1.34h-1.3zm-82.39 2.9h1.3v1.34h-1.3zm-50.35 3.13h1.3v1.34h-1.3zm251.74 3.57h1.3v1.34h-1.3z"/><path fill="#2b0076" d="M374.45 662.26h1.3v1.34h-1.3zm-224.27 9.61h1.3v1.34h-1.3z"/><path fill="#320ccc" d="M379.02 662.26h1.3v1.34h-1.3z"/><path fill="#2a0073" d="M383.6 662.26h1.3v1.34h-1.3zm100.69 6.03h1.3v1.34h-1.3z"/><path fill="#0a4ff8" d="M388.18 662.26h1.3v1.34h-1.3z"/><path fill="#210055" d="M392.75 662.26h1.3v1.34h-1.3zm-169.35 6.03h1.3v1.34h-1.3z"/><path fill="#0067ff" d="M397.33 662.26h1.3v1.34h-1.3zm-109.85 6.03h1.3v1.34h-1.3zm-160.2 3.57h1.3v1.34h-1.3z"/><path fill="#00c6ff" d="M401.91 662.26h1.3v1.34h-1.3zm-178.5 2.9h1.3v1.34h-1.3zm-73.23 3.13h1.3v1.34h-1.3z"/><path fill="#320dcf" d="M406.49 662.26h1.3v1.34h-1.3zm4.58 2.9h1.3v1.34h-1.3z"/><path fill="#3408be" d="M411.06 662.26h1.3v1.34h-1.3zm-311.24 6.03h1.3v1.34h-1.3z"/><path fill="#00c3ff" d="M415.64 662.26h1.3v1.34h-1.3zm9.15 0h1.3v1.34h-1.3zm68.66 0h1.3v1.34h-1.3zm-306.66 2.9h1.3v1.34h-1.3zm324.97 0h1.3v1.34h-1.3zm-45.77 3.13h1.3v1.34h-1.3z"/><path fill="#3309c3" d="M420.22 662.26h1.3v1.34h-1.3zm-247.16 2.9h1.3v1.34h-1.3zm91.54 3.13h1.3v1.34h-1.3zm77.81 0h1.3v1.34h-1.3zm96.12 0h1.3v1.34h-1.3z"/><path fill="#2d007c" d="M429.37 662.26h1.3v1.34h-1.3z"/><path fill="#2522e4" d="M438.52 662.26h1.3v1.34h-1.3zm-219.7 6.03h1.3v1.34h-1.3zm228.85 0h1.3v1.34h-1.3z"/><path fill="#1838ed" d="M443.1 662.26h1.3v1.34h-1.3z"/><path fill="#291ce1" d="M447.68 662.26h1.3v1.34h-1.3zm-36.62 9.61h1.3v1.34h-1.3z"/><path fill="#2e14de" d="M452.26 662.26h1.3v1.34h-1.3zm22.89 9.61h1.3v1.34h-1.3z"/><path fill="#00a9ff" d="M456.83 662.26h1.3v1.34h-1.3zm-178.5 6.03h1.3v1.34h-1.3zm13.73 3.57h1.3v1.34h-1.3zm54.92 0h1.3v1.34h-1.3z"/><path fill="#220057" d="M461.41 662.26h1.3v1.34h-1.3z"/><path fill="#007dff" d="M475.14 662.26h1.3v1.34h-1.3zm-132.73 2.9h1.3v1.34h-1.3zm160.2 6.7h1.3v1.34h-1.3z"/><path fill="#0068ff" d="M479.72 662.26h1.3v1.34h-1.3zm-22.89 2.9h1.3v1.34h-1.3z"/><path fill="#1340f1" d="M484.3 662.26h1.3v1.34h-1.3z"/><path fill="#31008a" d="M498.03 662.26h1.3v1.34h-1.3z"/><path fill="#2c0078" d="M502.6 662.26h1.3v1.34h-1.3z"/><path fill="#2f12dd" d="M507.18 662.26h1.3v1.34h-1.3z"/><path fill="#38009f" d="M511.76 662.26h1.3v1.34h-1.3z"/><path fill="#300fd9" d="M516.33 662.26h1.3v1.34h-1.3zm-407.35 6.03h1.3v1.34h-1.3zm205.97 0h1.3v1.34h-1.3z"/><path fill="#24005f" d="M95.25 665.17h1.3v1.34h-1.3z"/><path fill="#1739ee" d="M99.83 665.17h1.3v1.34h-1.3z"/><path fill="#310dd2" d="M104.4 665.17h1.3v1.34h-1.3zm242.58 0h1.3v1.34h-1.3zm-77.81 3.13h1.3v1.34h-1.3zm105.27 0h1.3v1.34h-1.3z"/><path fill="#008aff" d="M108.98 665.17h1.3v1.34h-1.3zm50.35 6.7h1.3v1.34h-1.3z"/><path fill="#0061ff" d="M113.56 665.17h1.3v1.34h-1.3zm86.96 6.7h1.3v1.34h-1.3z"/><path fill="#29006e" d="M118.13 665.17h1.3v1.34h-1.3zm242.58 3.13h1.3v1.34h-1.3z"/><path fill="#2e0080" d="M122.71 665.17h1.3v1.34h-1.3z"/><path fill="#2129e7" d="M127.29 665.17h1.3v1.34h-1.3z"/><path fill="#3506b5" d="M136.44 665.17h1.3v1.34h-1.3z"/><path fill="#00b1ff" d="M145.6 665.17h1.3v1.34h-1.3zm160.2 6.7h1.3v1.34h-1.3zm91.54 0h1.3v1.34h-1.3z"/><path fill="#00a6ff" d="M150.17 665.17h1.3v1.34h-1.3z"/><path fill="#0071ff" d="M168.48 665.17h1.3v1.34h-1.3z"/><path fill="#00afff" d="M177.64 665.17h1.3v1.34h-1.3z"/><path fill="#2d15de" d="M182.21 665.17h1.3v1.34h-1.3zm302.08 6.7h1.3v1.34h-1.3z"/><path fill="#1e004c" d="M191.37 665.17h1.3v1.34h-1.3zm41.19 3.13h1.3v1.34h-1.3z"/><path fill="#00a0ff" d="M200.52 665.17h1.3v1.34h-1.3z"/><path fill="#3409c0" d="M209.67 665.17h1.3v1.34h-1.3zm-50.35 3.13h1.3v1.34h-1.3z"/><path fill="#00bdff" d="M214.25 665.17h1.3v1.34h-1.3zm13.73 0h1.3v1.34h-1.3z"/><path fill="#28006c" d="M218.83 665.17h1.3v1.34h-1.3z"/><path fill="#281de2" d="M232.56 665.17h1.3v1.34h-1.3zm238 6.7h1.3v1.34h-1.3z"/><path fill="#3407bc" d="M237.14 665.17h1.3v1.34h-1.3zm260.89 6.7h1.3v1.34h-1.3z"/><path fill="#3603ad" d="M241.71 665.17h1.3v1.34h-1.3z"/><path fill="#0d4af5" d="M246.29 665.17h1.3v1.34h-1.3zm160.19 3.13h1.3v1.34h-1.3z"/><path fill="#005fff" d="M255.45 665.17h1.3v1.34h-1.3z"/><path fill="#00a4ff" d="M260.02 665.17h1.3v1.34h-1.3z"/><path fill="#0080ff" d="M264.6 665.17h1.3v1.34h-1.3zm105.27 6.7h1.3v1.34h-1.3z"/><path fill="#300fda" d="M269.18 665.17h1.3v1.34h-1.3zm-128.16 6.7h1.3v1.34h-1.3z"/><path fill="#006dff" d="M273.75 665.17h1.3v1.34h-1.3zm96.12 0h1.3v1.34h-1.3z"/><path fill="#0091ff" d="M278.33 665.17h1.3v1.34h-1.3zm-173.93 3.13h1.3v1.34h-1.3z"/><path fill="#0076ff" d="M282.91 665.17h1.3v1.34h-1.3zm-77.81 6.7h1.3v1.34h-1.3z"/><path fill="#00a8ff" d="M292.06 665.17h1.3v1.34h-1.3zm210.54 3.13h1.3v1.34h-1.3z"/><path fill="#0086ff" d="M296.64 665.17h1.3v1.34h-1.3zm178.5 0h1.3v1.34h-1.3zm36.62 3.13h1.3v1.34h-1.3zm-279.2 3.57h1.3v1.34h-1.3z"/><path fill="#006fff" d="M301.22 665.17h1.3v1.34h-1.3zm132.73 6.7h1.3v1.34h-1.3z"/><path fill="#009fff" d="M305.79 665.17h1.3v1.34h-1.3zm-105.27 3.13h1.3v1.34h-1.3z"/><path fill="#200051" d="M310.37 665.17h1.3v1.34h-1.3z"/><path fill="#2c007a" d="M314.95 665.17h1.3v1.34h-1.3zm-132.73 6.7h1.3v1.34h-1.3z"/><path fill="#37009b" d="M328.68 665.17h1.3v1.34h-1.3z"/><path fill="#0088ff" d="M333.25 665.17h1.3v1.34h-1.3zm-22.88 6.7h1.3v1.34h-1.3z"/><path fill="#320dd0" d="M337.83 665.17h1.3v1.34h-1.3z"/><path fill="#0085ff" d="M351.56 665.17h1.3v1.34h-1.3z"/><path fill="#2326e6" d="M360.72 665.17h1.3v1.34h-1.3z"/><path fill="#1a35ec" d="M374.45 665.17h1.3v1.34h-1.3zm114.43 0h1.3v1.34h-1.3z"/><path fill="#1144f3" d="M379.02 665.17h1.3v1.34h-1.3z"/><path fill="#3505b3" d="M383.6 665.17h1.3v1.34h-1.3zm64.08 0h1.3v1.34h-1.3z"/><path fill="#0074ff" d="M388.18 665.17h1.3v1.34h-1.3zm-183.08 3.13h1.3v1.34h-1.3zm96.12 3.57h1.3v1.34h-1.3z"/><path fill="#2d007e" d="M392.75 665.17h1.3v1.34h-1.3z"/><path fill="#3603ab" d="M401.91 665.17h1.3v1.34h-1.3z"/><path fill="#330090" d="M406.49 665.17h1.3v1.34h-1.3z"/><path fill="#1b32eb" d="M415.64 665.17h1.3v1.34h-1.3z"/><path fill="#3506b8" d="M420.22 665.17h1.3v1.34h-1.3zm-265.47 3.13h1.3v1.34h-1.3zm224.27 0h1.3v1.34h-1.3z"/><path fill="#260065" d="M424.79 665.17h1.3v1.34h-1.3z"/><path fill="#350096" d="M429.37 665.17h1.3v1.34h-1.3z"/><path fill="#330ac7" d="M433.95 665.17h1.3v1.34h-1.3z"/><path fill="#3800a0" d="M438.52 665.17h1.3v1.34h-1.3z"/><path fill="#0950f8" d="M443.1 665.17h1.3v1.34h-1.3z"/><path fill="#3703aa" d="M452.26 665.17h1.3v1.34h-1.3zm-169.35 6.7h1.3v1.34h-1.3zm68.65 0h1.3v1.34h-1.3z"/><path fill="#3702a6" d="M461.41 665.17h1.3v1.34h-1.3zm45.77 0h1.3v1.34h-1.3z"/><path fill="#3507ba" d="M465.99 665.17h1.3v1.34h-1.3zm-137.31 6.7h1.3v1.34h-1.3z"/><path fill="#250063" d="M479.72 665.17h1.3v1.34h-1.3z"/><path fill="#2e13dd" d="M484.3 665.17h1.3v1.34h-1.3z"/><path fill="#3800a1" d="M493.45 665.17h1.3v1.34h-1.3z"/><path fill="#220058" d="M498.03 665.17h1.3v1.34h-1.3zm-68.66 3.13h1.3v1.34h-1.3zm-13.73 3.57h1.3v1.34h-1.3zm77.81 0h1.3v1.34h-1.3z"/><path fill="#1d2fea" d="M502.6 665.17h1.3v1.34h-1.3z"/><path fill="#143ef0" d="M516.33 665.17h1.3v1.34h-1.3z"/><path fill="#3605b2" d="M113.56 668.3h1.3v1.34h-1.3z"/><path fill="#0078ff" d="M127.29 668.3h1.3v1.34h-1.3z"/><path fill="#28006b" d="M131.87 668.3h1.3v1.34h-1.3zm324.97 0h1.3v1.34h-1.3z"/><path fill="#00c5ff" d="M145.6 668.3h1.3v1.34h-1.3zm173.93 3.57h1.3v1.34h-1.3z"/><path fill="#29006f" d="M168.48 668.3h1.3v1.34h-1.3z"/><path fill="#00cbff" d="M173.06 668.3h1.3v1.34h-1.3zm151.04 0h1.3v1.34h-1.3zm32.04 3.57h1.3v1.34h-1.3zm9.15 0h1.3v1.34h-1.3zm91.54 0h1.3v1.34h-1.3z"/><path fill="#2424e5" d="M177.64 668.3h1.3v1.34h-1.3z"/><path fill="#00adff" d="M182.21 668.3h1.3v1.34h-1.3zm-64.08 3.57h1.3v1.34h-1.3z"/><path fill="#320bca" d="M186.79 668.3h1.3v1.34h-1.3z"/><path fill="#290071" d="M191.37 668.3h1.3v1.34h-1.3z"/><path fill="#045afc" d="M195.94 668.3h1.3v1.34h-1.3z"/><path fill="#2f11dc" d="M209.67 668.3h1.3v1.34h-1.3z"/><path fill="#320ccb" d="M214.25 668.3h1.3v1.34h-1.3z"/><path fill="#007aff" d="M227.98 668.3h1.3v1.34h-1.3zm13.73 0h1.3v1.34h-1.3z"/><path fill="#0075ff" d="M246.29 668.3h1.3v1.34h-1.3z"/><path fill="#3703ab" d="M260.02 668.3h1.3v1.34h-1.3z"/><path fill="#3010db" d="M273.75 668.3h1.3v1.34h-1.3z"/><path fill="#1143f2" d="M282.91 668.3h1.3v1.34h-1.3z"/><path fill="#270068" d="M292.06 668.3h1.3v1.34h-1.3zm32.04 3.57h1.3v1.34h-1.3z"/><path fill="#3408bc" d="M296.64 668.3h1.3v1.34h-1.3z"/><path fill="#035bfd" d="M301.22 668.3h1.3v1.34h-1.3zm205.97 3.57h1.3v1.34h-1.3z"/><path fill="#0063ff" d="M305.79 668.3h1.3v1.34h-1.3z"/><path fill="#32008c" d="M319.52 668.3h1.3v1.34h-1.3z"/><path fill="#00aeff" d="M333.25 668.3h1.3v1.34h-1.3zm50.35 3.57h1.3v1.34h-1.3z"/><path fill="#0062ff" d="M337.83 668.3h1.3v1.34h-1.3z"/><path fill="#0852f9" d="M351.56 668.3h1.3v1.34h-1.3z"/><path fill="#2c16df" d="M356.14 668.3h1.3v1.34h-1.3z"/><path fill="#330091" d="M365.29 668.3h1.3v1.34h-1.3z"/><path fill="#2b18e0" d="M369.87 668.3h1.3v1.34h-1.3z"/><path fill="#291be1" d="M383.6 668.3h1.3v1.34h-1.3z"/><path fill="#008eff" d="M388.18 668.3h1.3v1.34h-1.3z"/><path fill="#00b3ff" d="M392.75 668.3h1.3v1.34h-1.3z"/><path fill="#1242f2" d="M397.33 668.3h1.3v1.34h-1.3zm-109.85 3.57h1.3v1.34h-1.3z"/><path fill="#1045f3" d="M411.06 668.3h1.3v1.34h-1.3z"/><path fill="#00bfff" d="M415.64 668.3h1.3v1.34h-1.3zm13.73 3.57h1.3v1.34h-1.3z"/><path fill="#260064" d="M420.22 668.3h1.3v1.34h-1.3z"/><path fill="#0070ff" d="M433.95 668.3h1.3v1.34h-1.3z"/><path fill="#1f2ce8" d="M443.1 668.3h1.3v1.34h-1.3z"/><path fill="#0082ff" d="M461.41 668.3h1.3v1.34h-1.3z"/><path fill="#330ac6" d="M470.56 668.3h1.3v1.34h-1.3z"/><path fill="#0093ff" d="M479.72 668.3h1.3v1.34h-1.3z"/><path fill="#0c4cf6" d="M498.03 668.3h1.3v1.34h-1.3z"/><path fill="#1936ec" d="M507.18 668.3h1.3v1.34h-1.3z"/><path fill="#0077ff" d="M95.25 671.87h1.3v1.34h-1.3z"/><path fill="#0853f9" d="M99.83 671.87h1.3v1.34h-1.3z"/><path fill="#2e007f" d="M104.4 671.87h1.3v1.34h-1.3zm315.81 0h1.3v1.34h-1.3z"/><path fill="#3603ac" d="M108.98 671.87h1.3v1.34h-1.3z"/><path fill="#008fff" d="M113.56 671.87h1.3v1.34h-1.3z"/><path fill="#2b0077" d="M131.87 671.87h1.3v1.34h-1.3z"/><path fill="#310ed3" d="M136.44 671.87h1.3v1.34h-1.3z"/><path fill="#007cff" d="M145.6 671.87h1.3v1.34h-1.3z"/><path fill="#008bff" d="M154.75 671.87h1.3v1.34h-1.3zm292.93 0h1.3v1.34h-1.3z"/><path fill="#00b7ff" d="M163.91 671.87h1.3v1.34h-1.3zm352.43 0h1.3v1.34h-1.3z"/><path fill="#3505b4" d="M168.48 671.87h1.3v1.34h-1.3z"/><path fill="#3801a4" d="M173.06 671.87h1.3v1.34h-1.3z"/><path fill="#300085" d="M177.64 671.87h1.3v1.34h-1.3z"/><path fill="#3604ae" d="M191.37 671.87h1.3v1.34h-1.3zm18.31 0h1.3v1.34h-1.3z"/><path fill="#3408c0" d="M195.94 671.87h1.3v1.34h-1.3z"/><path fill="#00b2ff" d="M214.25 671.87h1.3v1.34h-1.3z"/><path fill="#006cff" d="M218.83 671.87h1.3v1.34h-1.3z"/><path fill="#1e004b" d="M223.41 671.87h1.3v1.34h-1.3z"/><path fill="#009eff" d="M227.98 671.87h1.3v1.34h-1.3zm160.19 0h1.3v1.34h-1.3z"/><path fill="#271fe3" d="M250.87 671.87h1.3v1.34h-1.3z"/><path fill="#00b5ff" d="M260.02 671.87h1.3v1.34h-1.3z"/><path fill="#0099ff" d="M264.6 671.87h1.3v1.34h-1.3zm50.35 0h1.3v1.34h-1.3z"/><path fill="#2f0083" d="M269.18 671.87h1.3v1.34h-1.3z"/><path fill="#32008b" d="M273.75 671.87h1.3v1.34h-1.3z"/><path fill="#0069ff" d="M278.33 671.87h1.3v1.34h-1.3z"/><path fill="#00b9ff" d="M342.41 671.87h1.3v1.34h-1.3z"/><path fill="#015fff" d="M360.72 671.87h1.3v1.34h-1.3z"/><path fill="#320bcb" d="M374.45 671.87h1.3v1.34h-1.3z"/><path fill="#007eff" d="M379.02 671.87h1.3v1.34h-1.3z"/><path fill="#281ee2" d="M401.91 671.87h1.3v1.34h-1.3z"/><path fill="#00ccff" d="M406.49 671.87h1.3v1.34h-1.3z"/><path fill="#3702a7" d="M424.79 671.87h1.3v1.34h-1.3z"/><path fill="#0755fa" d="M443.1 671.87h1.3v1.34h-1.3z"/><path fill="#006bff" d="M461.41 671.87h1.3v1.34h-1.3z"/><path fill="#0f48f4" d="M465.99 671.87h1.3v1.34h-1.3z"/><path d="M92 288.5L520 288.5" stroke="#000" stroke-width="1"/><path d="M92.3 290.31 93.3 291.66 94.3 291.44 95.3 290.56 96.3 290.73 97.3 289.53 98.3 291.1 99.3 293.95 100.3 290.97 101.3 289.64 102.3 291.29 103.3 292.03 104.3 292.12 105.3 290.42 106.3 291.86 107.3 293.48 108.3 289.77 109.3 290.32 110.3 287.48 111.3 287.73 112.3 285.59 113.3 287.26 114.3 284.82 115.3 287.18 116.3 289.26 117.3 290.25 118.3 286.94 119.3 289.75 120.3 291.31 121.3 291.99 122.3 288.79 123.3 289.82 124.3 288.51 125.3 286.99 126.3 289.11 127.3 284.84 128.3 283.95 129.3 284.34 130.3 282.38 131.3 283.13 132.3 284.15 133.3 284.8 134.3 282.99 135.3 285.57 136.3 289.44 137.3 282.54 138.3 282.89 139.3 279.41 140.3 275.53 141.3 282.81 142.3 284.44 143.3 283.21 144.3 287.49 145.3 291.87 146.3 291.77 147.3 293.51 148.3 292.77 149.3 294.25 150.3 296.47 151.3 292.9 152.3 293.23 153.3 291.76 154.3 292.27 155.3 289.56 156.3 289.73 157.3 290.79 158.3 293.42 159.3 294.82 160.3 290.42 161.3 290.27 162.3 293.13 163.3 288.69 164.3 290.42 165.3 291.67 166.3 294.75 167.3 294.54 168.3 292.45 169.3 291.73 170.3 291.76 171.3 295.31 172.3 292.47 173.3 292.9 174.3 295.36 175.3 296.09 176.3 297.09 177.3 296.48 178.3 299.13 179.3 299.26 180.3 302.86 181.3 303.27 182.3 300.64 183.3 299.86 184.3 296.39 185.3 297.35 186.3 296.66 187.3 298.16 188.3 295.39 189.3 297.43 190.3 293.2 191.3 290.65 192.3 292.76 193.3 291.62 194.3 292.98 195.3 297.3 196.3 291.08 197.3 288.58 198.3 288.44 199.3 289.44 200.3 289.06 201.3 289.36 202.3 291.73 203.3 292.54 204.3 290.4 205.3 292.89 206.3 294.92 207.3 294.4 208.3 296.14 209.3 293.52 210.3 295.69 211.3 294.08 212.3 292.69 213.3 290.21 214.3 289.71 215.3 285.36 216.3 285.51 217.3 288.2 218.3 283.67 219.3 288.53 220.3 284.93 221.3 288.97 222.3 287.1 223.3 289.9 224.3 289.61 225.3 286.37 226.3 291.15 227.3 293.14 228.3 292.05 229.3 292.39 230.3 293.77 231.3 293.27 232.3 297.42 233.3 295.73 234.3 296.56 235.3 294.94 236.3 294.36 237.3 292.53 238.3 296.57 239.3 293.65 240.3 293.96 241.3 291.1 242.3 289.39 243.3 291.08 244.3 292.17 245.3 294.68 246.3 294.54 247.3 294.8 248.3 292.9 249.3 293.3 250.3 297.62 251.3 293.75 252.3 291.29 253.3 296.73 254.3 304.05 255.3 297.75 256.3 297.03 257.3 294.74 258.3 291.42 259.3 296.35 260.3 296.78 261.3 297.57 262.3 296.62 263.3 299.22 264.3 298.08 265.3 298.7 266.3 297.13 267.3 296.47 268.3 301.18 269.3 298.79 270.3 299.55 271.3 299.01 272.3 297.92 273.3 296.7 274.3 298.02 275.3 295.97 276.3 295.07 277.3 294.57 278.3 296.42 279.3 295.82 280.3 294.81 281.3 292.38 282.3 289.78 283.3 293.52 284.3 294.91 285.3 293.23 286.3 294.21 287.3 295.1 288.3 295.58 289.3 296.67 290.3 295 291.3 299.14 292.3 295.56 293.3 299.4 294.3 299.19 295.3 297.48 296.3 297.23 297.3 294.62 298.3 289.91 299.3 288.69 300.3 295.56 301.3 298.66 302.3 300.25 303.3 293.82 304.3 286.6 305.3 283.86 306.3 287.43 307.3 287.88 308.3 288.54 309.3 290 310.3 289.34 311.3 287.78 312.3 289.43 313.3 287.97 314.3 285.83 315.3 292.33 316.3 295.34 317.3 299.28 318.3 298.35 319.3 296.76 320.3 294.55 321.3 293.07 322.3 293.73 323.3 290.93 324.3 291.31 325.3 290.53 326.3 294.06 327.3 288.28 328.3 291.11 329.3 289.74 330.3 289.06 331.3 285.63 332.3 286.24 333.3 289.4 334.3 289.07 335.3 289.65 336.3 291.4 337.3 300.57 338.3 301.41 339.3 295.34 340.3 295.66 341.3 292.33 342.3 287.66 343.3 290.64 344.3 294.21 345.3 292.34 346.3 290.08 347.3 290.22 348.3 294.75 349.3 294.39 350.3 294.29 351.3 294.29 352.3 294.7 353.3 296.59 354.3 297.2 355.3 297.77 356.3 296.3 357.3 299.84 358.3 296.4 359.3 296.69 360.3 290.13 361.3 288.87 362.3 289.22 363.3 286.51 364.3 291.62 365.3 292.73 366.3 289.46 367.3 291.12 368.3 291.01 369.3 286.36 370.3 291.76 371.3 293.81 372.3 295.4 373.3 293.72 374.3 295.18 375.3 296.15 376.3 299.01 377.3 298 378.3 296.9 379.3 299.52 380.3 296.03 381.3 294.8 382.3 290.49 383.3 295.1 384.3 294.39 385.3 298.39 386.3 303.42 387.3 299.66 388.3 296.75 389.3 293.01 390.3 291.83 391.3 294.29 392.3 299.34 393.3 300.34 394.3 298.49 395.3 295.99 396.3 294.43 397.3 298 398.3 297.6 399.3 296.95 400.3 296.28 401.3 294.32 402.3 295.35 403.3 297.18 404.3 294.85 405.3 294.13 406.3 293.7 407.3 294.52 408.3 291.48 409.3 293.4 410.3 292.66 411.3 295.42 412.3 292.59 413.3 294.09 414.3 297.04 415.3 295.11 416.3 294.66 417.3 296.8 418.3 296.3 419.3 293.81 420.3 295.62 421.3 298.76 422.3 294.36 423.3 292.45 424.3 289.49 425.3 289.49 426.3 284.25 427.3 281.04 428.3 282.92 429.3 280.64 430.3 284.47 431.3 287.03 432.3 285.87 433.3 286.86 434.3 290.66 435.3 288.2 436.3 286.54 437.3 284.22 438.3 286.14 439.3 289.42 440.3 289.94 441.3 286.64 442.3 286.17 443.3 287 444.3 288.97 445.3 288.74 446.3 289.68 447.3 289.47 448.3 287.39 449.3 286.58 450.3 286.13 451.3 284.72 452.3 285.09 453.3 288.97 454.3 288.16 455.3 287.43 456.3 284.31 457.3 288.11 458.3 284.59 459.3 284.53 460.3 289.04 461.3 290.1 462.3 288.7 463.3 285.13 464.3 286.58 465.3 286.29 466.3 288.71 467.3 292.57 468.3 289.52 469.3 286.62 470.3 284.98 471.3 286.71 472.3 286.99 473.3 285.13 474.3 287.14 475.3 285.36 476.3 289.47 477.3 290.72 478.3 291.26 479.3 288.42 480.3 289.66 481.3 288.86 482.3 288.22 483.3 288.24 484.3 286.45 485.3 285.7 486.3 289.91 487.3 289.21 488.3 289.81 489.3 291.56 490.3 286.62 491.3 286.91 492.3 288.79 493.3 289.67 494.3 288.28 495.3 290.56 496.3 289.69 497.3 287.32 498.3 287.7 499.3 291.81 500.3 294.51 501.3 293.55 502.3 302.32 503.3 301.7 504.3 301.54 505.3 296.91 506.3 295.18 507.3 292.3 508.3 298.06 509.3 293.67 510.3 295.18 511.3 290.46 512.3 289.97 513.3 286 514.3 287.27 515.3 290.21 516.3 286.48 517.3 290.33 518.3 290.18 519.3 287.55" fill="none" stroke="#ff0000" stroke-width="1.5" stroke-linejoin="round"/><path d="M92.3 282.31 93.3 277.65 94.3 279.12 95.3 283.75 96.3 282.01 97.3 286.93 98.3 284.5 99.3 286.99 100.3 286.67 101.3 288.46 102.3 288.57 103.3 287.45 104.3 290.12 105.3 293.29 106.3 289.3 107.3 290.29 108.3 288.55 109.3 291.12 110.3 285.96 111.3 285.23 112.3 288.29 113.3 290.17 114.3 287.35 115.3 292.47 116.3 294.03 117.3 293.71 118.3 292.32 119.3 291.75 120.3 285.64 121.3 290.69 122.3 285.24 123.3 279.13 124.3 281.31 125.3 284.49 126.3 282.28 127.3 289.76 128.3 294.47 129.3 292.52 130.3 285.41 131.3 284.72 132.3 288.93 133.3 284.4 134.3 281.1 135.3 280 136.3 282.35 137.3 283.4 138.3 286.31 139.3 287.82 140.3 284.01 141.3 285.08 142.3 283.49 143.3 286.48 144.3 284.97 145.3 284.92 146.3 292.6 147.3 289.57 148.3 289.89 149.3 294.3 150.3 291.19 151.3 287.92 152.3 287.26 153.3 285.03 154.3 288.65 155.3 286.21 156.3 290.38 157.3 286.61 158.3 285.47 159.3 284.96 160.3 287.32 161.3 286.98 162.3 289.72 163.3 285.92 164.3 286.93 165.3 291.32 166.3 287.52 167.3 288.35 168.3 291.22 169.3 289.62 170.3 286.12 171.3 281.52 172.3 290.72 173.3 288.65 174.3 289.9 175.3 286.8 176.3 291.86 177.3 290.72 178.3 289.72 179.3 287.6 180.3 289.6 181.3 287.33 182.3 286.68 183.3 282.51 184.3 283.36 185.3 284.56 186.3 280.93 187.3 282.99 188.3 285.77 189.3 284.75 190.3 284.15 191.3 284.44 192.3 288.74 193.3 283.57 194.3 284.75 195.3 284.6 196.3 285.75 197.3 285.41 198.3 282.64 199.3 289.13 200.3 286.37 201.3 281.66 202.3 281.1 203.3 283.07 204.3 285.3 205.3 282.94 206.3 288.38 207.3 286.24 208.3 287.5 209.3 292.27 210.3 296.26 211.3 293.47 212.3 290.69 213.3 292.76 214.3 286.89 215.3 287.11 216.3 285.56 217.3 285.56 218.3 282.45 219.3 281.06 220.3 283.17 221.3 279.97 222.3 283.78 223.3 281.03 224.3 279.45 225.3 280.11 226.3 282.57 227.3 286.3 228.3 286.43 229.3 289.87 230.3 291.98 231.3 290.72 232.3 288.94 233.3 292.96 234.3 292.2 235.3 286 236.3 286.61 237.3 289.28 238.3 286.32 239.3 287.66 240.3 285.93 241.3 290.84 242.3 291.2 243.3 289.83 244.3 291.42 245.3 286.52 246.3 285.57 247.3 290.85 248.3 284.46 249.3 287.59 250.3 284.07 251.3 287.09 252.3 292.86 253.3 289.09 254.3 284.33 255.3 289.5 256.3 283.04 257.3 281.54 258.3 283.55 259.3 280.9 260.3 286.7 261.3 290.35 262.3 290.34 263.3 290.26 264.3 290.02 265.3 293.37 266.3 285.62 267.3 290.65 268.3 291.93 269.3 286.23 270.3 289.61 271.3 288.59 272.3 287.81 273.3 287.4 274.3 287.85 275.3 287.15 276.3 282.79 277.3 283.96 278.3 285.15 279.3 286.73 280.3 286.4 281.3 290.75 282.3 292.91 283.3 294.3 284.3 295.88 285.3 295.59 286.3 291.05 287.3 289.08 288.3 288.55 289.3 290.33 290.3 288.87 291.3 290.77 292.3 292.44 293.3 286.94 294.3 287.83 295.3 283.97 296.3 279.87 297.3 278.8 298.3 281.08 299.3 278.16 300.3 283.39 301.3 287.78 302.3 281.79 303.3 281.48 304.3 285.72 305.3 283.99 306.3 282.93 307.3 281.45 308.3 284.87 309.3 284.76 310.3 281.87 311.3 278.67 312.3 278.27 313.3 287.22 314.3 288.73 315.3 293.9 316.3 293.88 317.3 290.3 318.3 292.42 319.3 292.29 320.3 285.13 321.3 281.82 322.3 286.28 323.3 279.51 324.3 279.05 325.3 284.23 326.3 285.19 327.3 283.3 328.3 283.04 329.3 288.35 330.3 292.38 331.3 293.35 332.3 293.35 333.3 293.64 334.3 289.24 335.3 283.6 336.3 288.19 337.3 282.86 338.3 284.43 339.3 285.57 340.3 288.58 341.3 283.18 342.3 281.86 343.3 277.21 344.3 281.7 345.3 283.66 346.3 285.09 347.3 281.95 348.3 283.94 349.3 282.02 350.3 282.59 351.3 283.9 352.3 287.76 353.3 284.93 354.3 285.59 355.3 283.14 356.3 282.94 357.3 282.45 358.3 283.49 359.3 285.9 360.3 282.49 361.3 286.08 362.3 283.38 363.3 285.89 364.3 284.75 365.3 284.77 366.3 284.11 367.3 287.13 368.3 285.65 369.3 287.14 370.3 284.01 371.3 283.26 372.3 287.36 373.3 280.64 374.3 280.54 375.3 282.35 376.3 287.81 377.3 283.73 378.3 285.99 379.3 288.62 380.3 284.85 381.3 283.75 382.3 287.73 383.3 283.47 384.3 280.87 385.3 286.54 386.3 286.95 387.3 293.17 388.3 294.25 389.3 286.78 390.3 288.2 391.3 286.75 392.3 285.34 393.3 290.62 394.3 286.36 395.3 287.37 396.3 287.32 397.3 289.11 398.3 282.78 399.3 281.79 400.3 281.78 401.3 281.68 402.3 285.6 403.3 286.2 404.3 289.31 405.3 291.46 406.3 289.17 407.3 288.54 408.3 288.03 409.3 288.17 410.3 286.01 411.3 284.94 412.3 286.7 413.3 283.77 414.3 293.42 415.3 287.46 416.3 289.43 417.3 286 418.3 287.19 419.3 286.51 420.3 287.09 421.3 290.93 422.3 289.94 423.3 288.19 424.3 291.92 425.3 288.88 426.3 287.84 427.3 289.92 428.3 287.26 429.3 288.48 430.3 288.25 431.3 287.56 432.3 284.39 433.3 286.71 434.3 287.97 435.3 291.97 436.3 294.64 437.3 294.9 438.3 286.4 439.3 285.28 440.3 288.07 441.3 286.56 442.3 288.68 443.3 290.96 444.3 289.23 445.3 287.7 446.3 288.14 447.3 287.31 448.3 287.86 449.3 283.91 450.3 282.96 451.3 290.95 452.3 285.72 453.3 289.05 454.3 289.76 455.3 289.86 456.3 287.8 457.3 291.41 458.3 290.67 459.3 288.5 460.3 285.06 461.3 286.62 462.3 285.97 463.3 283.74 464.3 285.68 465.3 285.69 466.3 285.25 467.3 283.41 468.3 282.62 469.3 286.06 470.3 286.57 471.3 291.62 472.3 290.04 473.3 287.03 474.3 291.52 475.3 296.11 476.3 292.78 477.3 290.92 478.3 289.61 479.3 295.47 480.3 290.62 481.3 287.22 482.3 285.95 483.3 279.96 484.3 282.07 485.3 280.67 486.3 283.3 487.3 285.99 488.3 288.18 489.3 285.59 490.3 287.59 491.3 285.16 492.3 281.28 493.3 285.36 494.3 284.63 495.3 285.71 496.3 279.83 497.3 285.23 498.3 287.29 499.3 288.26 500.3 290.17 501.3 286.75 502.3 291.3 503.3 288.79 504.3 287.14 505.3 278.9 506.3 277.63 507.3 285.43 508.3 284.93 509.3 286.51 510.3 284.98 511.3 286.03 512.3 288.93 513.3 286.33 514.3 290.41 515.3 285.68 516.3 287.35 517.3 286.56 518.3 288 519.3 291.55" fill="none" stroke="#80ff00" stroke-width="1.6" stroke-linejoin="round"/><path d="M91 79.2H521" stroke="#000" stroke-width="1"/><path d="M91.5 79.2V246.5" stroke="#000" stroke-width="1"/><path d="M520.5 79.2V246.5" stroke="#000" stroke-width="1"/><path d="M91.5 234.45h8.5M520.5 234.45h-8.5M91.5 223.32h4.3M520.5 223.32h-4.3M91.5 212.2h4.3M520.5 212.2h-4.3M91.5 201.07h4.3M520.5 201.07h-4.3M91.5 189.95h8.5M520.5 189.95h-8.5M91.5 178.82h4.3M520.5 178.82h-4.3M91.5 167.7h4.3M520.5 167.7h-4.3M91.5 156.57h4.3M520.5 156.57h-4.3M91.5 145.45h8.5M520.5 145.45h-8.5M91.5 134.32h4.3M520.5 134.32h-4.3M91.5 123.2h4.3M520.5 123.2h-4.3M91.5 112.08h4.3M520.5 112.08h-4.3M91.5 100.95h8.5M520.5 100.95h-8.5M91.5 89.83h4.3M520.5 89.83h-4.3" stroke="#000" stroke-width="1"/><path d="M127.67 79.2v1.2M127.67 246.5v-1.2M163.33 79.2v1.2M163.33 246.5v-1.2M199 79.2v2.5M199 246.5v-2.5M234.67 79.2v1.2M234.67 246.5v-1.2M270.33 79.2v1.2M270.33 246.5v-1.2M306 79.2v2.5M306 246.5v-2.5M341.67 79.2v1.2M341.67 246.5v-1.2M377.33 79.2v1.2M377.33 246.5v-1.2M413 79.2v2.5M413 246.5v-2.5M448.67 79.2v1.2M448.67 246.5v-1.2M484.33 79.2v1.2M484.33 246.5v-1.2" stroke="#000" stroke-width="1"/><path d="M91 246.5H521" stroke="#000" stroke-width="1"/><path d="M91 330.3H521" stroke="#000" stroke-width="1"/><path d="M91.5 246.5V330.3" stroke="#000" stroke-width="1"/><path d="M520.5 246.5V330.3" stroke="#000" stroke-width="1"/><path d="M91.5 325.5h8.5M520.5 325.5h-8.5M91.5 320.88h4.3M520.5 320.88h-4.3M91.5 316.25h4.3M520.5 316.25h-4.3M91.5 311.62h4.3M520.5 311.62h-4.3M91.5 307h8.5M520.5 307h-8.5M91.5 302.38h4.3M520.5 302.38h-4.3M91.5 297.75h4.3M520.5 297.75h-4.3M91.5 293.12h4.3M520.5 293.12h-4.3M91.5 288.5h8.5M520.5 288.5h-8.5M91.5 283.88h4.3M520.5 283.88h-4.3M91.5 279.25h4.3M520.5 279.25h-4.3M91.5 274.62h4.3M520.5 274.62h-4.3M91.5 270h8.5M520.5 270h-8.5M91.5 265.38h4.3M520.5 265.38h-4.3M91.5 260.75h4.3M520.5 260.75h-4.3M91.5 256.12h4.3M520.5 256.12h-4.3M91.5 251.5h8.5M520.5 251.5h-8.5" stroke="#000" stroke-width="1"/><path d="M127.67 246.5v.8M127.67 330.3v-.8M163.33 246.5v.8M163.33 330.3v-.8M199 246.5v1.5M199 330.3v-1.5M234.67 246.5v.8M234.67 330.3v-.8M270.33 246.5v.8M270.33 330.3v-.8M306 246.5v1.5M306 330.3v-1.5M341.67 246.5v.8M341.67 330.3v-.8M377.33 246.5v.8M377.33 330.3v-.8M413 246.5v1.5M413 330.3v-1.5M448.67 246.5v.8M448.67 330.3v-.8M484.33 246.5v.8M484.33 330.3v-.8" stroke="#000" stroke-width="1"/><path d="M91 338.2H521" stroke="#000" stroke-width="1"/><path d="M91 421.2H521" stroke="#000" stroke-width="1"/><path d="M91.5 338.2V421.2" stroke="#000" stroke-width="1"/><path d="M520.5 338.2V421.2" stroke="#000" stroke-width="1"/><path d="M91.5 415.59h8.5M520.5 415.59h-8.5M91.5 410h4.3M520.5 410h-4.3M91.5 404.42h4.3M520.5 404.42h-4.3M91.5 398.83h4.3M520.5 398.83h-4.3M91.5 393.25h8.5M520.5 393.25h-8.5M91.5 387.66h4.3M520.5 387.66h-4.3M91.5 382.08h4.3M520.5 382.08h-4.3M91.5 376.5h4.3M520.5 376.5h-4.3M91.5 370.91h8.5M520.5 370.91h-8.5M91.5 365.32h4.3M520.5 365.32h-4.3M91.5 359.74h4.3M520.5 359.74h-4.3M91.5 354.15h4.3M520.5 354.15h-4.3M91.5 348.57h8.5M520.5 348.57h-8.5M91.5 342.98h4.3M520.5 342.98h-4.3" stroke="#000" stroke-width="1"/><path d="M127.67 338.2v.8M127.67 421.2v-.8M163.33 338.2v.8M163.33 421.2v-.8M199 338.2v1.5M199 421.2v-1.5M234.67 338.2v.8M234.67 421.2v-.8M270.33 338.2v.8M270.33 421.2v-.8M306 338.2v1.5M306 421.2v-1.5M341.67 338.2v.8M341.67 421.2v-.8M377.33 338.2v.8M377.33 421.2v-.8M413 338.2v1.5M413 421.2v-1.5M448.67 338.2v.8M448.67 421.2v-.8M484.33 338.2v.8M484.33 421.2v-.8" stroke="#000" stroke-width="1"/><path d="M91.5 493.9V505" stroke="#777" stroke-width="1"/><path d="M520.5 493.9V505" stroke="#777" stroke-width="1"/><path d="M91.5 499.49h8.5M520.5 499.49h-8.5" stroke="#777" stroke-width="1"/><path d="M91 505H521" stroke="#222" stroke-width="1"/><path d="M91 589.2H521" stroke="#000" stroke-width="1"/><path d="M91.5 505V589.2" stroke="#000" stroke-width="1"/><path d="M520.5 505V589.2" stroke="#000" stroke-width="1"/><path d="M91.5 583.39h8.5M520.5 583.39h-8.5M91.5 577.8h4.3M520.5 577.8h-4.3M91.5 572.22h4.3M520.5 572.22h-4.3M91.5 566.63h4.3M520.5 566.63h-4.3M91.5 561.05h8.5M520.5 561.05h-8.5M91.5 555.47h4.3M520.5 555.47h-4.3M91.5 549.88h4.3M520.5 549.88h-4.3M91.5 544.29h4.3M520.5 544.29h-4.3M91.5 538.71h8.5M520.5 538.71h-8.5M91.5 533.12h4.3M520.5 533.12h-4.3M91.5 527.54h4.3M520.5 527.54h-4.3M91.5 521.96h4.3M520.5 521.96h-4.3M91.5 516.37h8.5M520.5 516.37h-8.5M91.5 510.78h4.3M520.5 510.78h-4.3" stroke="#000" stroke-width="1"/><path d="M127.67 505v.8M127.67 589.2v-.8M163.33 505v.8M163.33 589.2v-.8M199 505v1.5M199 589.2v-1.5M234.67 505v.8M234.67 589.2v-.8M270.33 505v.8M270.33 589.2v-.8M306 505v1.5M306 589.2v-1.5M341.67 505v.8M341.67 589.2v-.8M377.33 505v.8M377.33 589.2v-.8M413 505v1.5M413 589.2v-1.5M448.67 505v.8M448.67 589.2v-.8M484.33 505v.8M484.33 589.2v-.8" stroke="#000" stroke-width="1"/><path d="M91 673.1H521" stroke="#000" stroke-width="1"/><path d="M91.5 589.2V673.1" stroke="#000" stroke-width="1"/><path d="M520.5 589.2V673.1" stroke="#000" stroke-width="1"/><path d="M91.5 667.29h8.5M520.5 667.29h-8.5M91.5 661.71h4.3M520.5 661.71h-4.3M91.5 656.12h4.3M520.5 656.12h-4.3M91.5 650.53h4.3M520.5 650.53h-4.3M91.5 644.95h8.5M520.5 644.95h-8.5M91.5 639.37h4.3M520.5 639.37h-4.3M91.5 633.78h4.3M520.5 633.78h-4.3M91.5 628.2h4.3M520.5 628.2h-4.3M91.5 622.61h8.5M520.5 622.61h-8.5M91.5 617.02h4.3M520.5 617.02h-4.3M91.5 611.44h4.3M520.5 611.44h-4.3M91.5 605.86h4.3M520.5 605.86h-4.3M91.5 600.27h8.5M520.5 600.27h-8.5M91.5 594.69h4.3M520.5 594.69h-4.3" stroke="#000" stroke-width="1"/><path d="M127.67 589.2v.8M127.67 673.1v-.8M163.33 589.2v.8M163.33 673.1v-.8M199 589.2v1.5M199 673.1v-1.5M234.67 589.2v.8M234.67 673.1v-.8M270.33 589.2v.8M270.33 673.1v-.8M306 589.2v1.5M306 673.1v-1.5M341.67 589.2v.8M341.67 673.1v-.8M377.33 589.2v.8M377.33 673.1v-.8M413 589.2v1.5M413 673.1v-1.5M448.67 589.2v.8M448.67 673.1v-.8M484.33 589.2v.8M484.33 673.1v-.8" stroke="#000" stroke-width="1"/><rect x="526.5" y="87" width="6" height="151.8" fill="url(#cb)" stroke="#000" stroke-width="1"/><text x="535.3" y="238.6" font-size="11.3" fill="#333" textLength="6.45" lengthAdjust="spacingAndGlyphs">0</text><text x="535.3" y="213.2" font-size="11.3" fill="#333" textLength="6.45" lengthAdjust="spacingAndGlyphs">5</text><text x="535.3" y="182.5" font-size="11.3" fill="#333" textLength="12.9" lengthAdjust="spacingAndGlyphs">10</text><text x="535.3" y="152.5" font-size="11.3" fill="#333" textLength="12.9" lengthAdjust="spacingAndGlyphs">15</text><text x="535.3" y="122.3" font-size="11.3" fill="#333" textLength="12.9" lengthAdjust="spacingAndGlyphs">20</text><text x="535.3" y="94.6" font-size="11.3" fill="#333" textLength="12.9" lengthAdjust="spacingAndGlyphs">25</text><text transform="translate(560.3 194.7) rotate(-90)" font-size="10" fill="#333" textLength="63.2" lengthAdjust="spacingAndGlyphs">current [pA]</text><rect x="526.5" y="346" width="6" height="68.4" fill="url(#cb)" stroke="#000" stroke-width="1"/><text x="535.3" y="354.1" font-size="11.3" fill="#444" textLength="12.9" lengthAdjust="spacingAndGlyphs">25</text><text x="535.3" y="364.3" font-size="11.3" fill="#444" textLength="12.9" lengthAdjust="spacingAndGlyphs">20</text><text x="535.3" y="377.9" font-size="11.3" fill="#444" textLength="12.9" lengthAdjust="spacingAndGlyphs">15</text><text x="535.3" y="390.9" font-size="11.3" fill="#444" textLength="12.9" lengthAdjust="spacingAndGlyphs">10</text><text x="535.3" y="405.2" font-size="11.3" fill="#444" textLength="6.45" lengthAdjust="spacingAndGlyphs">5</text><text x="535.3" y="414.3" font-size="11.3" fill="#444" textLength="6.45" lengthAdjust="spacingAndGlyphs">0</text><text transform="translate(560.3 411.6) rotate(-90)" font-size="10" fill="#444" textLength="62.6" lengthAdjust="spacingAndGlyphs">current [pA]</text><rect x="526.5" y="429.9" width="6" height="68.4" fill="url(#cb)" stroke="#000" stroke-width="1"/><text x="535.3" y="438" font-size="11.3" fill="#444" textLength="12.9" lengthAdjust="spacingAndGlyphs">25</text><text x="535.3" y="448.2" font-size="11.3" fill="#444" textLength="12.9" lengthAdjust="spacingAndGlyphs">20</text><text x="535.3" y="461.8" font-size="11.3" fill="#444" textLength="12.9" lengthAdjust="spacingAndGlyphs">15</text><text x="535.3" y="474.8" font-size="11.3" fill="#444" textLength="12.9" lengthAdjust="spacingAndGlyphs">10</text><text x="535.3" y="489.1" font-size="11.3" fill="#444" textLength="6.45" lengthAdjust="spacingAndGlyphs">5</text><text x="535.3" y="498.2" font-size="11.3" fill="#444" textLength="6.45" lengthAdjust="spacingAndGlyphs">0</text><text transform="translate(560.3 495.5) rotate(-90)" font-size="10" fill="#444" textLength="62.6" lengthAdjust="spacingAndGlyphs">current [pA]</text><rect x="526.5" y="513.8" width="6" height="68.4" fill="url(#cb)" stroke="#000" stroke-width="1"/><text x="535.3" y="521.9" font-size="11.3" fill="#444" textLength="12.9" lengthAdjust="spacingAndGlyphs">25</text><text x="535.3" y="532.1" font-size="11.3" fill="#444" textLength="12.9" lengthAdjust="spacingAndGlyphs">20</text><text x="535.3" y="545.7" font-size="11.3" fill="#444" textLength="12.9" lengthAdjust="spacingAndGlyphs">15</text><text x="535.3" y="558.7" font-size="11.3" fill="#444" textLength="12.9" lengthAdjust="spacingAndGlyphs">10</text><text x="535.3" y="573" font-size="11.3" fill="#444" textLength="6.45" lengthAdjust="spacingAndGlyphs">5</text><text x="535.3" y="582.1" font-size="11.3" fill="#444" textLength="6.45" lengthAdjust="spacingAndGlyphs">0</text><text transform="translate(560.3 579.4) rotate(-90)" font-size="10" fill="#444" textLength="62.6" lengthAdjust="spacingAndGlyphs">current [pA]</text><rect x="526.5" y="597.7" width="6" height="68.4" fill="url(#cb)" stroke="#000" stroke-width="1"/><text x="535.3" y="605.8" font-size="11.3" fill="#444" textLength="12.9" lengthAdjust="spacingAndGlyphs">25</text><text x="535.3" y="616" font-size="11.3" fill="#444" textLength="12.9" lengthAdjust="spacingAndGlyphs">20</text><text x="535.3" y="629.6" font-size="11.3" fill="#444" textLength="12.9" lengthAdjust="spacingAndGlyphs">15</text><text x="535.3" y="642.6" font-size="11.3" fill="#444" textLength="12.9" lengthAdjust="spacingAndGlyphs">10</text><text x="535.3" y="656.9" font-size="11.3" fill="#444" textLength="6.45" lengthAdjust="spacingAndGlyphs">5</text><text x="535.3" y="666" font-size="11.3" fill="#444" textLength="6.45" lengthAdjust="spacingAndGlyphs">0</text><text transform="translate(560.3 663.3) rotate(-90)" font-size="10" fill="#444" textLength="62.6" lengthAdjust="spacingAndGlyphs">current [pA]</text><text x="222.3" y="73.4" font-size="13" fill="#555" textLength="167" lengthAdjust="spacingAndGlyphs">SPC ion mode quick look</text><text x="88.7" y="104.95" font-size="11.3" fill="#3a3a3a" text-anchor="end" textLength="19.35" lengthAdjust="spacingAndGlyphs">800</text><text x="88.7" y="149.45" font-size="11.3" fill="#3a3a3a" text-anchor="end" textLength="19.35" lengthAdjust="spacingAndGlyphs">600</text><text x="88.7" y="193.95" font-size="11.3" fill="#3a3a3a" text-anchor="end" textLength="19.35" lengthAdjust="spacingAndGlyphs">400</text><text x="88.7" y="238.45" font-size="11.3" fill="#3a3a3a" text-anchor="end" textLength="19.35" lengthAdjust="spacingAndGlyphs">200</text><text transform="translate(59.8 190.8) rotate(-90)" font-size="10.5" fill="#3a3a3a" textLength="5.2" lengthAdjust="spacingAndGlyphs">v</text><text transform="translate(62.4 185.4) rotate(-90)" font-size="6.5" fill="#3a3a3a" font-weight="bold" textLength="7.4" lengthAdjust="spacingAndGlyphs">eq</text><text transform="translate(60.4 171.6) rotate(-90)" font-size="11.8" fill="#3a3a3a" textLength="36" lengthAdjust="spacingAndGlyphs">[km/s]</text><text x="102.2" y="89.3" font-size="10.6" fill="#000" font-weight="bold" textLength="28.6" lengthAdjust="spacingAndGlyphs" stroke="#000" stroke-width="0.7">TOTAL</text><text x="88.7" y="255.8" font-size="11.3" fill="#3a3a3a" text-anchor="end" textLength="12.9" lengthAdjust="spacingAndGlyphs">40</text><text x="88.7" y="274.3" font-size="11.3" fill="#3a3a3a" text-anchor="end" textLength="12.9" lengthAdjust="spacingAndGlyphs">20</text><text x="88.7" y="292.8" font-size="11.3" fill="#3a3a3a" text-anchor="end" textLength="6.45" lengthAdjust="spacingAndGlyphs">0</text><text x="88.7" y="311.3" font-size="11.3" fill="#3a3a3a" text-anchor="end" textLength="20.7" lengthAdjust="spacingAndGlyphs">−20</text><text x="88.7" y="329.8" font-size="11.3" fill="#3a3a3a" text-anchor="end" textLength="20.7" lengthAdjust="spacingAndGlyphs">−40</text><text transform="translate(58.5 311) rotate(-90)" font-size="11" fill="#3a3a3a" textLength="44.3" lengthAdjust="spacingAndGlyphs">angle [°]</text><text x="509.5" y="256.8" font-size="9.5" fill="#ff0000" text-anchor="end" textLength="76" lengthAdjust="spacingAndGlyphs" fill-opacity="0.8">inflow azimuth</text><text x="509.5" y="266.1" font-size="9.5" fill="#80ff00" text-anchor="end" textLength="74" lengthAdjust="spacingAndGlyphs" fill-opacity="0.8">inflow attitude</text><text x="88.7" y="353.07" font-size="11.3" fill="#3a3a3a" text-anchor="end" textLength="19.35" lengthAdjust="spacingAndGlyphs">800</text><text x="88.7" y="375.41" font-size="11.3" fill="#3a3a3a" text-anchor="end" textLength="19.35" lengthAdjust="spacingAndGlyphs">600</text><text x="88.7" y="397.75" font-size="11.3" fill="#3a3a3a" text-anchor="end" textLength="19.35" lengthAdjust="spacingAndGlyphs">400</text><text x="88.7" y="420.09" font-size="11.3" fill="#3a3a3a" text-anchor="end" textLength="19.35" lengthAdjust="spacingAndGlyphs">200</text><text transform="translate(59.8 408) rotate(-90)" font-size="10.5" fill="#3a3a3a" textLength="5.2" lengthAdjust="spacingAndGlyphs">v</text><text transform="translate(62.4 402.6) rotate(-90)" font-size="6.5" fill="#3a3a3a" font-weight="bold" textLength="7.4" lengthAdjust="spacingAndGlyphs">eq</text><text transform="translate(60.4 388.8) rotate(-90)" font-size="11.8" fill="#3a3a3a" textLength="36" lengthAdjust="spacingAndGlyphs">[km/s]</text><text x="101.4" y="348.4" font-size="10.6" fill="#000" font-weight="bold" textLength="7.4" lengthAdjust="spacingAndGlyphs" stroke="#000" stroke-width="0.6">A</text><text x="113.2" y="348.4" font-size="10.6" fill="#000" font-weight="bold" textLength="34" lengthAdjust="spacingAndGlyphs" stroke="#000" stroke-width="0.6">sensor</text><text x="88.7" y="436.97" font-size="11.3" fill="#666" text-anchor="end" textLength="19.35" lengthAdjust="spacingAndGlyphs">800</text><text x="88.7" y="459.31" font-size="11.3" fill="#666" text-anchor="end" textLength="19.35" lengthAdjust="spacingAndGlyphs">600</text><text x="88.7" y="481.65" font-size="11.3" fill="#666" text-anchor="end" textLength="19.35" lengthAdjust="spacingAndGlyphs">400</text><text x="88.7" y="503.99" font-size="11.3" fill="#666" text-anchor="end" textLength="19.35" lengthAdjust="spacingAndGlyphs">200</text><text transform="translate(59.8 491.9) rotate(-90)" font-size="10.5" fill="#666" textLength="5.2" lengthAdjust="spacingAndGlyphs">v</text><text transform="translate(62.4 486.5) rotate(-90)" font-size="6.5" fill="#666" font-weight="bold" textLength="7.4" lengthAdjust="spacingAndGlyphs">eq</text><text transform="translate(60.4 472.7) rotate(-90)" font-size="11.8" fill="#666" textLength="36" lengthAdjust="spacingAndGlyphs">[km/s]</text><text x="101.4" y="432.3" font-size="10.6" fill="#000" font-weight="bold" textLength="7.4" lengthAdjust="spacingAndGlyphs" stroke="#000" stroke-width="0.6">B</text><text x="113.2" y="432.3" font-size="10.6" fill="#000" font-weight="bold" textLength="34" lengthAdjust="spacingAndGlyphs" stroke="#000" stroke-width="0.6">sensor</text><text x="88.7" y="520.87" font-size="11.3" fill="#3a3a3a" text-anchor="end" textLength="19.35" lengthAdjust="spacingAndGlyphs">800</text><text x="88.7" y="543.21" font-size="11.3" fill="#3a3a3a" text-anchor="end" textLength="19.35" lengthAdjust="spacingAndGlyphs">600</text><text x="88.7" y="565.55" font-size="11.3" fill="#3a3a3a" text-anchor="end" textLength="19.35" lengthAdjust="spacingAndGlyphs">400</text><text x="88.7" y="587.89" font-size="11.3" fill="#3a3a3a" text-anchor="end" textLength="19.35" lengthAdjust="spacingAndGlyphs">200</text><text transform="translate(59.8 575.8) rotate(-90)" font-size="10.5" fill="#3a3a3a" textLength="5.2" lengthAdjust="spacingAndGlyphs">v</text><text transform="translate(62.4 570.4) rotate(-90)" font-size="6.5" fill="#3a3a3a" font-weight="bold" textLength="7.4" lengthAdjust="spacingAndGlyphs">eq</text><text transform="translate(60.4 556.6) rotate(-90)" font-size="11.8" fill="#3a3a3a" textLength="36" lengthAdjust="spacingAndGlyphs">[km/s]</text><text x="101.4" y="516.2" font-size="10.6" fill="#000" font-weight="bold" textLength="7.4" lengthAdjust="spacingAndGlyphs" stroke="#000" stroke-width="0.6">C</text><text x="113.2" y="516.2" font-size="10.6" fill="#000" font-weight="bold" textLength="34" lengthAdjust="spacingAndGlyphs" stroke="#000" stroke-width="0.6">sensor</text><text x="88.7" y="604.77" font-size="11.3" fill="#3a3a3a" text-anchor="end" textLength="19.35" lengthAdjust="spacingAndGlyphs">800</text><text x="88.7" y="627.11" font-size="11.3" fill="#3a3a3a" text-anchor="end" textLength="19.35" lengthAdjust="spacingAndGlyphs">600</text><text x="88.7" y="649.45" font-size="11.3" fill="#3a3a3a" text-anchor="end" textLength="19.35" lengthAdjust="spacingAndGlyphs">400</text><text x="88.7" y="671.79" font-size="11.3" fill="#3a3a3a" text-anchor="end" textLength="19.35" lengthAdjust="spacingAndGlyphs">200</text><text transform="translate(59.8 659.7) rotate(-90)" font-size="10.5" fill="#3a3a3a" textLength="5.2" lengthAdjust="spacingAndGlyphs">v</text><text transform="translate(62.4 654.3) rotate(-90)" font-size="6.5" fill="#3a3a3a" font-weight="bold" textLength="7.4" lengthAdjust="spacingAndGlyphs">eq</text><text transform="translate(60.4 640.5) rotate(-90)" font-size="11.8" fill="#3a3a3a" textLength="36" lengthAdjust="spacingAndGlyphs">[km/s]</text><text x="101.4" y="600.1" font-size="10.6" fill="#000" font-weight="bold" textLength="7.4" lengthAdjust="spacingAndGlyphs" stroke="#000" stroke-width="0.6">D</text><text x="113.2" y="600.1" font-size="10.6" fill="#000" font-weight="bold" textLength="34" lengthAdjust="spacingAndGlyphs" stroke="#000" stroke-width="0.6">sensor</text><text x="92" y="688.8" font-size="11.3" fill="#3a3a3a" text-anchor="middle" textLength="29.6" lengthAdjust="spacingAndGlyphs">00:00</text><text x="199" y="688.8" font-size="11.3" fill="#3a3a3a" text-anchor="middle" textLength="29.6" lengthAdjust="spacingAndGlyphs">06:00</text><text x="306" y="688.8" font-size="11.3" fill="#3a3a3a" text-anchor="middle" textLength="29.6" lengthAdjust="spacingAndGlyphs">12:00</text><text x="413" y="688.8" font-size="11.3" fill="#3a3a3a" text-anchor="middle" textLength="29.6" lengthAdjust="spacingAndGlyphs">18:00</text><text x="520" y="688.8" font-size="11.3" fill="#3a3a3a" text-anchor="middle" textLength="29.6" lengthAdjust="spacingAndGlyphs">00:00</text><text x="305.6" y="702.2" font-size="11.3" fill="#3a3a3a" text-anchor="middle" textLength="70" lengthAdjust="spacingAndGlyphs">2018−11−19</text><text x="65" y="760.4" font-size="7.6" fill="#222" textLength="285.5" lengthAdjust="spacingAndGlyphs" xml:space="preserve">Generated on Mon Nov  4 23:23:16 2019 by mstevens@cfa.harvard.edu</text><text x="65" y="767.6" font-size="7.6" fill="#222" textLength="105" lengthAdjust="spacingAndGlyphs">For browse purposes only.</text></svg></body></html>
